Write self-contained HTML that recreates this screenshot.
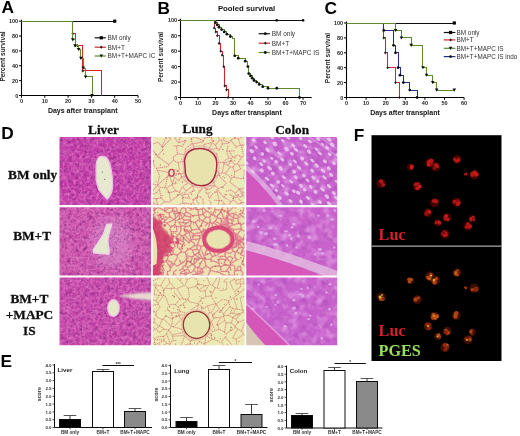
<!DOCTYPE html>
<html><head><meta charset="utf-8"><style>
html,body{margin:0;padding:0;background:#fff;}
body{width:520px;height:436px;overflow:hidden;}
svg{display:block;}
</style></head><body>
<svg width="520" height="436" viewBox="0 0 520 436">
<defs>
<filter id="gsoft" x="0" y="0" width="520" height="436" filterUnits="userSpaceOnUse"><feGaussianBlur stdDeviation="0.3"/></filter>
<filter id="soft" x="0" y="0" width="1" height="1"><feGaussianBlur stdDeviation="0.6"/></filter>
<filter id="soft8" x="0" y="0" width="1" height="1"><feGaussianBlur stdDeviation="0.8"/></filter>
<filter id="blur1" x="-20%" y="-50%" width="140%" height="200%"><feGaussianBlur stdDeviation="0.9"/></filter>
<filter id="blur3" x="-50%" y="-50%" width="200%" height="200%"><feGaussianBlur stdDeviation="4"/></filter>
<filter id="blur05"><feGaussianBlur stdDeviation="0.5"/></filter>
<filter id="livD" x="0" y="0" width="1" height="1" color-interpolation-filters="sRGB"><feTurbulence type="fractalNoise" baseFrequency="0.25" numOctaves="2" seed="3"/><feColorMatrix type="matrix" values="0 0 0 0 0.471 0 0 0 0 0.118 0 0 0 0 0.471 2.2 0 0 0 -1.0"/></filter>
<filter id="livLt" x="0" y="0" width="1" height="1" color-interpolation-filters="sRGB"><feTurbulence type="fractalNoise" baseFrequency="0.3" numOctaves="2" seed="9"/><feColorMatrix type="matrix" values="0 0 0 0 0.910 0 0 0 0 0.490 0 0 0 0 0.784 2.4 0 0 0 -1.05"/></filter>
<clipPath id="clL0"><rect x="59.5" y="137" width="91.50" height="68.00"/></clipPath>
<clipPath id="clL1"><rect x="59.5" y="207.3" width="91.50" height="68.30"/></clipPath>
<clipPath id="clL2"><rect x="59.5" y="277.5" width="91.50" height="67.70"/></clipPath>
<clipPath id="clU0"><rect x="152.8" y="137" width="91.80" height="68.00"/></clipPath>
<clipPath id="clU1"><rect x="152.8" y="207.3" width="91.80" height="68.30"/></clipPath>
<clipPath id="clU2"><rect x="152.8" y="277.5" width="91.80" height="67.70"/></clipPath>
<filter id="colD" x="0" y="0" width="1" height="1" color-interpolation-filters="sRGB"><feTurbulence type="fractalNoise" baseFrequency="0.14" numOctaves="2" seed="21"/><feColorMatrix type="matrix" values="0 0 0 0 0.588 0 0 0 0 0.235 0 0 0 0 0.667 2.0 0 0 0 -0.95"/></filter>
<filter id="colLt" x="0" y="0" width="1" height="1" color-interpolation-filters="sRGB"><feTurbulence type="fractalNoise" baseFrequency="0.12" numOctaves="2" seed="27"/><feColorMatrix type="matrix" values="0 0 0 0 0.894 0 0 0 0 0.620 0 0 0 0 0.902 2.6 0 0 0 -1.15"/></filter>
<clipPath id="clC0"><rect x="246.2" y="137" width="91.00" height="68.00"/></clipPath>
<clipPath id="clC1"><rect x="246.2" y="207.3" width="91.00" height="68.30"/></clipPath>
<clipPath id="clC2"><rect x="246.2" y="277.5" width="91.00" height="67.70"/></clipPath>
<radialGradient id="rgR"><stop offset="0" stop-color="#901010" stop-opacity="0.8"/><stop offset="0.45" stop-color="#d01c1c"/><stop offset="0.75" stop-color="#a81010" stop-opacity="0.7"/><stop offset="1" stop-color="#400000" stop-opacity="0"/></radialGradient>
<radialGradient id="rgO"><stop offset="0" stop-color="#a05010" stop-opacity="0.7"/><stop offset="0.45" stop-color="#c86018"/><stop offset="0.75" stop-color="#902010" stop-opacity="0.6"/><stop offset="1" stop-color="#400000" stop-opacity="0"/></radialGradient>
<filter id="glow" x="-50%" y="-50%" width="200%" height="200%"><feGaussianBlur stdDeviation="0.7"/></filter>
</defs>
<g filter="url(#gsoft)">
<rect width="520" height="436" fill="#fff"/>
<text x="1.5" y="12.7" font-size="17.3" font-weight="bold" fill="#000" text-anchor="start" font-family='"Liberation Sans", sans-serif' >A</text>
<text x="157.5" y="14" font-size="17.3" font-weight="bold" fill="#000" text-anchor="start" font-family='"Liberation Sans", sans-serif' >B</text>
<text x="324.5" y="14" font-size="17.3" font-weight="bold" fill="#000" text-anchor="start" font-family='"Liberation Sans", sans-serif' >C</text>
<text x="1.2" y="139.4" font-size="17.3" font-weight="bold" fill="#000" text-anchor="start" font-family='"Liberation Sans", sans-serif' >D</text>
<text x="0.6" y="367.3" font-size="17.3" font-weight="bold" fill="#000" text-anchor="start" font-family='"Liberation Sans", sans-serif' >E</text>
<text x="353.8" y="141.3" font-size="17.3" font-weight="bold" fill="#000" text-anchor="start" font-family='"Liberation Sans", sans-serif' >F</text>
<line x1="21.5" y1="19.7" x2="21.5" y2="95.5" stroke="#000" stroke-width="1.1"/>
<line x1="21.5" y1="95.5" x2="138.00" y2="95.5" stroke="#000" stroke-width="1.1"/>
<line x1="19.0" y1="95.50" x2="21.5" y2="95.50" stroke="#000" stroke-width="1"/>
<text x="18.2" y="97.5" font-size="5.5" font-weight="bold" fill="#222" text-anchor="end" font-family='"Liberation Sans", sans-serif' >0</text>
<line x1="19.0" y1="80.64" x2="21.5" y2="80.64" stroke="#000" stroke-width="1"/>
<text x="18.2" y="82.6" font-size="5.5" font-weight="bold" fill="#222" text-anchor="end" font-family='"Liberation Sans", sans-serif' >20</text>
<line x1="19.0" y1="65.78" x2="21.5" y2="65.78" stroke="#000" stroke-width="1"/>
<text x="18.2" y="67.8" font-size="5.5" font-weight="bold" fill="#222" text-anchor="end" font-family='"Liberation Sans", sans-serif' >40</text>
<line x1="19.0" y1="50.92" x2="21.5" y2="50.92" stroke="#000" stroke-width="1"/>
<text x="18.2" y="52.9" font-size="5.5" font-weight="bold" fill="#222" text-anchor="end" font-family='"Liberation Sans", sans-serif' >60</text>
<line x1="19.0" y1="36.06" x2="21.5" y2="36.06" stroke="#000" stroke-width="1"/>
<text x="18.2" y="38.1" font-size="5.5" font-weight="bold" fill="#222" text-anchor="end" font-family='"Liberation Sans", sans-serif' >80</text>
<line x1="19.0" y1="21.20" x2="21.5" y2="21.20" stroke="#000" stroke-width="1"/>
<text x="18.2" y="23.2" font-size="5.5" font-weight="bold" fill="#222" text-anchor="end" font-family='"Liberation Sans", sans-serif' >100</text>
<line x1="21.50" y1="95.5" x2="21.50" y2="97.8" stroke="#000" stroke-width="1"/>
<text x="21.5" y="103.3" font-size="5.5" font-weight="bold" fill="#222" text-anchor="middle" font-family='"Liberation Sans", sans-serif' >0</text>
<line x1="44.80" y1="95.5" x2="44.80" y2="97.8" stroke="#000" stroke-width="1"/>
<text x="44.8" y="103.3" font-size="5.5" font-weight="bold" fill="#222" text-anchor="middle" font-family='"Liberation Sans", sans-serif' >10</text>
<line x1="68.10" y1="95.5" x2="68.10" y2="97.8" stroke="#000" stroke-width="1"/>
<text x="68.1" y="103.3" font-size="5.5" font-weight="bold" fill="#222" text-anchor="middle" font-family='"Liberation Sans", sans-serif' >20</text>
<line x1="91.40" y1="95.5" x2="91.40" y2="97.8" stroke="#000" stroke-width="1"/>
<text x="91.4" y="103.3" font-size="5.5" font-weight="bold" fill="#222" text-anchor="middle" font-family='"Liberation Sans", sans-serif' >30</text>
<line x1="114.70" y1="95.5" x2="114.70" y2="97.8" stroke="#000" stroke-width="1"/>
<text x="114.7" y="103.3" font-size="5.5" font-weight="bold" fill="#222" text-anchor="middle" font-family='"Liberation Sans", sans-serif' >40</text>
<line x1="138.00" y1="95.5" x2="138.00" y2="97.8" stroke="#000" stroke-width="1"/>
<text x="138.0" y="103.3" font-size="5.5" font-weight="bold" fill="#222" text-anchor="middle" font-family='"Liberation Sans", sans-serif' >50</text>
<path d="M21.50,21.50 H114.50 V21.50" fill="none" stroke="#111" stroke-width="1.05"/>
<rect x="113.10" y="19.60" width="3.2" height="3.2" fill="#000"/>
<path d="M21.50,21.50 H72.50 V33.50 H75.50 V45.50 H82.50 V70.50 H101.50 V95.50" fill="none" stroke="#d4262a" stroke-width="1.05"/>
<path d="M72.76,32.23 L74.06,33.83 L72.76,35.43 L71.46,33.83Z" fill="#222"/>
<path d="M75.09,44.12 L76.39,45.72 L75.09,47.32 L73.79,45.72Z" fill="#222"/>
<path d="M77.42,44.12 L78.72,45.72 L77.42,47.32 L76.12,45.72Z" fill="#222"/>
<path d="M82.78,69.38 L84.08,70.98 L82.78,72.58 L81.48,70.98Z" fill="#222"/>
<path d="M21.50,21.50 H72.50 V39.50 H75.50 V45.50 H78.50 V49.50 H80.50 V58.50 H83.50 V68.50 H85.50 V76.50 H92.50 V95.50" fill="none" stroke="#5b8a2e" stroke-width="1.05"/>
<path d="M70.96,38.27 L74.56,38.27 L72.76,41.38Z" fill="#111"/>
<path d="M73.29,44.22 L76.89,44.22 L75.09,47.32Z" fill="#111"/>
<path d="M76.79,47.93 L80.39,47.93 L78.59,51.03Z" fill="#111"/>
<path d="M79.11,56.85 L82.71,56.85 L80.91,59.95Z" fill="#111"/>
<path d="M81.45,66.51 L85.05,66.51 L83.25,69.61Z" fill="#111"/>
<path d="M83.78,75.42 L87.38,75.42 L85.58,78.52Z" fill="#111"/>
<path d="M90.30,94.00 L93.90,94.00 L92.10,97.10Z" fill="#111"/>
<line x1="94.7" y1="37.8" x2="105.9" y2="37.8" stroke="#111" stroke-width="1.2"/>
<rect x="99.70" y="36.20" width="3.2" height="3.2" fill="#000"/>
<text x="107.5" y="40.1" font-size="6.45" font-weight="normal" fill="#333" text-anchor="start" font-family='"Liberation Sans", sans-serif' >BM only</text>
<line x1="94.7" y1="47.2" x2="105.9" y2="47.2" stroke="#d4262a" stroke-width="1.2"/>
<path d="M101.30,45.60 L102.60,47.20 L101.30,48.80 L100.00,47.20Z" fill="#222"/>
<text x="107.5" y="49.5" font-size="6.45" font-weight="normal" fill="#333" text-anchor="start" font-family='"Liberation Sans", sans-serif' >BM+T</text>
<line x1="94.7" y1="56" x2="105.9" y2="56" stroke="#5b8a2e" stroke-width="1.2"/>
<path d="M99.50,54.50 L103.10,54.50 L101.30,57.60Z" fill="#111"/>
<text x="107.5" y="58.3" font-size="6.45" font-weight="normal" fill="#333" text-anchor="start" font-family='"Liberation Sans", sans-serif' >BM+T+MAPC IC</text>
<text x="5.0" y="56.5" font-size="6.5" font-weight="bold" fill="#222" text-anchor="middle" font-family='"Liberation Sans", sans-serif' transform="rotate(-90 5.0 56.5)">Percent survival</text>
<text x="82.75" y="112.6" font-size="7.0" font-weight="bold" fill="#111" text-anchor="middle" font-family='"Liberation Sans", sans-serif' >Days after transplant</text>
<line x1="180.5" y1="18.8" x2="180.5" y2="97.5" stroke="#000" stroke-width="1.1"/>
<line x1="180.5" y1="97.5" x2="311.75" y2="97.5" stroke="#000" stroke-width="1.1"/>
<line x1="178.0" y1="97.50" x2="180.5" y2="97.50" stroke="#000" stroke-width="1"/>
<text x="177.2" y="99.5" font-size="5.5" font-weight="bold" fill="#222" text-anchor="end" font-family='"Liberation Sans", sans-serif' >0</text>
<line x1="178.0" y1="82.06" x2="180.5" y2="82.06" stroke="#000" stroke-width="1"/>
<text x="177.2" y="84.1" font-size="5.5" font-weight="bold" fill="#222" text-anchor="end" font-family='"Liberation Sans", sans-serif' >20</text>
<line x1="178.0" y1="66.62" x2="180.5" y2="66.62" stroke="#000" stroke-width="1"/>
<text x="177.2" y="68.6" font-size="5.5" font-weight="bold" fill="#222" text-anchor="end" font-family='"Liberation Sans", sans-serif' >40</text>
<line x1="178.0" y1="51.18" x2="180.5" y2="51.18" stroke="#000" stroke-width="1"/>
<text x="177.2" y="53.2" font-size="5.5" font-weight="bold" fill="#222" text-anchor="end" font-family='"Liberation Sans", sans-serif' >60</text>
<line x1="178.0" y1="35.74" x2="180.5" y2="35.74" stroke="#000" stroke-width="1"/>
<text x="177.2" y="37.7" font-size="5.5" font-weight="bold" fill="#222" text-anchor="end" font-family='"Liberation Sans", sans-serif' >80</text>
<line x1="178.0" y1="20.30" x2="180.5" y2="20.30" stroke="#000" stroke-width="1"/>
<text x="177.2" y="22.3" font-size="5.5" font-weight="bold" fill="#222" text-anchor="end" font-family='"Liberation Sans", sans-serif' >100</text>
<line x1="180.50" y1="97.5" x2="180.50" y2="99.8" stroke="#000" stroke-width="1"/>
<text x="180.5" y="105.3" font-size="5.5" font-weight="bold" fill="#222" text-anchor="middle" font-family='"Liberation Sans", sans-serif' >0</text>
<line x1="198.00" y1="97.5" x2="198.00" y2="99.8" stroke="#000" stroke-width="1"/>
<text x="198.0" y="105.3" font-size="5.5" font-weight="bold" fill="#222" text-anchor="middle" font-family='"Liberation Sans", sans-serif' >10</text>
<line x1="215.50" y1="97.5" x2="215.50" y2="99.8" stroke="#000" stroke-width="1"/>
<text x="215.5" y="105.3" font-size="5.5" font-weight="bold" fill="#222" text-anchor="middle" font-family='"Liberation Sans", sans-serif' >20</text>
<line x1="233.00" y1="97.5" x2="233.00" y2="99.8" stroke="#000" stroke-width="1"/>
<text x="233.0" y="105.3" font-size="5.5" font-weight="bold" fill="#222" text-anchor="middle" font-family='"Liberation Sans", sans-serif' >30</text>
<line x1="250.50" y1="97.5" x2="250.50" y2="99.8" stroke="#000" stroke-width="1"/>
<text x="250.5" y="105.3" font-size="5.5" font-weight="bold" fill="#222" text-anchor="middle" font-family='"Liberation Sans", sans-serif' >40</text>
<line x1="268.00" y1="97.5" x2="268.00" y2="99.8" stroke="#000" stroke-width="1"/>
<text x="268.0" y="105.3" font-size="5.5" font-weight="bold" fill="#222" text-anchor="middle" font-family='"Liberation Sans", sans-serif' >50</text>
<line x1="285.50" y1="97.5" x2="285.50" y2="99.8" stroke="#000" stroke-width="1"/>
<text x="285.5" y="105.3" font-size="5.5" font-weight="bold" fill="#222" text-anchor="middle" font-family='"Liberation Sans", sans-serif' >60</text>
<line x1="303.00" y1="97.5" x2="303.00" y2="99.8" stroke="#000" stroke-width="1"/>
<text x="303.0" y="105.3" font-size="5.5" font-weight="bold" fill="#222" text-anchor="middle" font-family='"Liberation Sans", sans-serif' >70</text>
<path d="M180.50,20.50 H303.50 V20.50" fill="none" stroke="#111" stroke-width="1.05"/>
<circle cx="276.75" cy="20.30" r="1.4" fill="#111"/>
<circle cx="303.00" cy="20.30" r="1.4" fill="#111"/>
<path d="M180.50,20.50 H214.50 V28.50 H215.50 V31.50 H217.50 V35.50 H219.50 V43.50 H220.50 V51.50 H222.50 V55.50 H223.50 V66.50 H224.50 V85.50 H226.50 V89.50 H228.50 V97.50" fill="none" stroke="#d4262a" stroke-width="1.05"/>
<path d="M214.10,26.42 L215.40,28.02 L214.10,29.62 L212.80,28.02Z" fill="#222"/>
<path d="M215.85,30.28 L217.15,31.88 L215.85,33.48 L214.55,31.88Z" fill="#222"/>
<path d="M217.25,34.14 L218.55,35.74 L217.25,37.34 L215.95,35.74Z" fill="#222"/>
<path d="M219.00,41.86 L220.30,43.46 L219.00,45.06 L217.70,43.46Z" fill="#222"/>
<path d="M220.75,49.58 L222.05,51.18 L220.75,52.78 L219.45,51.18Z" fill="#222"/>
<path d="M222.15,53.44 L223.45,55.04 L222.15,56.64 L220.85,55.04Z" fill="#222"/>
<path d="M223.72,65.02 L225.03,66.62 L223.72,68.22 L222.42,66.62Z" fill="#222"/>
<path d="M224.78,84.32 L226.08,85.92 L224.78,87.52 L223.47,85.92Z" fill="#222"/>
<path d="M226.53,88.18 L227.83,89.78 L226.53,91.38 L225.22,89.78Z" fill="#222"/>
<path d="M228.10,95.90 L229.40,97.50 L228.10,99.10 L226.80,97.50Z" fill="#222"/>
<path d="M180.50,20.50 H215.50 V22.50 H217.50 V24.50 H219.50 V27.50 H221.50 V29.50 H224.50 V31.50 H226.50 V34.50 H230.50 V36.50 H232.50 V38.50 H234.50 V55.50 H238.50 V58.50 H245.50 V61.50 H247.50 V66.50 H248.50 V73.50 H250.50 V75.50 H252.50 V78.50 H254.50 V80.50 H256.50 V82.50 H259.50 V84.50 H262.50 V86.50 H268.50 V88.50 H299.50 V97.50" fill="none" stroke="#5b8a2e" stroke-width="1.05"/>
<circle cx="215.50" cy="22.62" r="1.4" fill="#111"/>
<circle cx="217.25" cy="24.93" r="1.4" fill="#111"/>
<circle cx="219.00" cy="27.25" r="1.4" fill="#111"/>
<circle cx="221.62" cy="29.56" r="1.4" fill="#111"/>
<circle cx="224.25" cy="31.88" r="1.4" fill="#111"/>
<circle cx="226.88" cy="34.20" r="1.4" fill="#111"/>
<circle cx="230.38" cy="36.51" r="1.4" fill="#111"/>
<circle cx="234.75" cy="55.81" r="1.4" fill="#111"/>
<circle cx="238.25" cy="58.13" r="1.4" fill="#111"/>
<circle cx="245.25" cy="61.22" r="1.4" fill="#111"/>
<circle cx="247.88" cy="66.62" r="1.4" fill="#111"/>
<circle cx="248.75" cy="73.57" r="1.4" fill="#111"/>
<circle cx="250.50" cy="75.88" r="1.4" fill="#111"/>
<circle cx="252.25" cy="78.20" r="1.4" fill="#111"/>
<circle cx="254.00" cy="80.52" r="1.4" fill="#111"/>
<circle cx="256.62" cy="82.06" r="1.4" fill="#111"/>
<circle cx="259.25" cy="84.38" r="1.4" fill="#111"/>
<circle cx="262.75" cy="86.69" r="1.4" fill="#111"/>
<circle cx="268.00" cy="88.24" r="1.4" fill="#111"/>
<circle cx="276.75" cy="88.24" r="1.4" fill="#111"/>
<circle cx="299.50" cy="97.50" r="1.4" fill="#111"/>
<line x1="258.7" y1="33.7" x2="269.9" y2="33.7" stroke="#111" stroke-width="1.2"/>
<circle cx="265.30" cy="33.70" r="1.4" fill="#111"/>
<text x="271.8" y="36.0" font-size="6.45" font-weight="normal" fill="#333" text-anchor="start" font-family='"Liberation Sans", sans-serif' >BM only</text>
<line x1="258.7" y1="43.2" x2="269.9" y2="43.2" stroke="#d4262a" stroke-width="1.2"/>
<path d="M265.30,41.60 L266.60,43.20 L265.30,44.80 L264.00,43.20Z" fill="#222"/>
<text x="271.8" y="45.5" font-size="6.45" font-weight="normal" fill="#333" text-anchor="start" font-family='"Liberation Sans", sans-serif' >BM+T</text>
<line x1="258.7" y1="52.5" x2="269.9" y2="52.5" stroke="#5b8a2e" stroke-width="1.2"/>
<circle cx="265.30" cy="52.50" r="1.4" fill="#111"/>
<text x="271.8" y="54.8" font-size="6.45" font-weight="normal" fill="#333" text-anchor="start" font-family='"Liberation Sans", sans-serif' >BM+T+MAPC IS</text>
<text x="163.4" y="57" font-size="6.5" font-weight="bold" fill="#222" text-anchor="middle" font-family='"Liberation Sans", sans-serif' transform="rotate(-90 163.4 57)">Percent survival</text>
<text x="246.9" y="114.5" font-size="7.0" font-weight="bold" fill="#111" text-anchor="middle" font-family='"Liberation Sans", sans-serif' >Days after transplant</text>
<text x="246.6" y="11.4" font-size="7.75" font-weight="bold" fill="#111" text-anchor="middle" font-family='"Liberation Sans", sans-serif' >Pooled survival</text>
<line x1="346.5" y1="21.5" x2="346.5" y2="97.5" stroke="#000" stroke-width="1.1"/>
<line x1="346.5" y1="97.5" x2="464.10" y2="97.5" stroke="#000" stroke-width="1.1"/>
<line x1="344.0" y1="97.50" x2="346.5" y2="97.50" stroke="#000" stroke-width="1"/>
<text x="343.2" y="99.5" font-size="5.5" font-weight="bold" fill="#222" text-anchor="end" font-family='"Liberation Sans", sans-serif' >0</text>
<line x1="344.0" y1="82.60" x2="346.5" y2="82.60" stroke="#000" stroke-width="1"/>
<text x="343.2" y="84.6" font-size="5.5" font-weight="bold" fill="#222" text-anchor="end" font-family='"Liberation Sans", sans-serif' >20</text>
<line x1="344.0" y1="67.70" x2="346.5" y2="67.70" stroke="#000" stroke-width="1"/>
<text x="343.2" y="69.7" font-size="5.5" font-weight="bold" fill="#222" text-anchor="end" font-family='"Liberation Sans", sans-serif' >40</text>
<line x1="344.0" y1="52.80" x2="346.5" y2="52.80" stroke="#000" stroke-width="1"/>
<text x="343.2" y="54.8" font-size="5.5" font-weight="bold" fill="#222" text-anchor="end" font-family='"Liberation Sans", sans-serif' >60</text>
<line x1="344.0" y1="37.90" x2="346.5" y2="37.90" stroke="#000" stroke-width="1"/>
<text x="343.2" y="39.9" font-size="5.5" font-weight="bold" fill="#222" text-anchor="end" font-family='"Liberation Sans", sans-serif' >80</text>
<line x1="344.0" y1="23.00" x2="346.5" y2="23.00" stroke="#000" stroke-width="1"/>
<text x="343.2" y="25.0" font-size="5.5" font-weight="bold" fill="#222" text-anchor="end" font-family='"Liberation Sans", sans-serif' >100</text>
<line x1="346.50" y1="97.5" x2="346.50" y2="99.8" stroke="#000" stroke-width="1"/>
<text x="346.5" y="105.3" font-size="5.5" font-weight="bold" fill="#222" text-anchor="middle" font-family='"Liberation Sans", sans-serif' >0</text>
<line x1="366.10" y1="97.5" x2="366.10" y2="99.8" stroke="#000" stroke-width="1"/>
<text x="366.1" y="105.3" font-size="5.5" font-weight="bold" fill="#222" text-anchor="middle" font-family='"Liberation Sans", sans-serif' >10</text>
<line x1="385.70" y1="97.5" x2="385.70" y2="99.8" stroke="#000" stroke-width="1"/>
<text x="385.7" y="105.3" font-size="5.5" font-weight="bold" fill="#222" text-anchor="middle" font-family='"Liberation Sans", sans-serif' >20</text>
<line x1="405.30" y1="97.5" x2="405.30" y2="99.8" stroke="#000" stroke-width="1"/>
<text x="405.3" y="105.3" font-size="5.5" font-weight="bold" fill="#222" text-anchor="middle" font-family='"Liberation Sans", sans-serif' >30</text>
<line x1="424.90" y1="97.5" x2="424.90" y2="99.8" stroke="#000" stroke-width="1"/>
<text x="424.9" y="105.3" font-size="5.5" font-weight="bold" fill="#222" text-anchor="middle" font-family='"Liberation Sans", sans-serif' >40</text>
<line x1="444.50" y1="97.5" x2="444.50" y2="99.8" stroke="#000" stroke-width="1"/>
<text x="444.5" y="105.3" font-size="5.5" font-weight="bold" fill="#222" text-anchor="middle" font-family='"Liberation Sans", sans-serif' >50</text>
<line x1="464.10" y1="97.5" x2="464.10" y2="99.8" stroke="#000" stroke-width="1"/>
<text x="464.1" y="105.3" font-size="5.5" font-weight="bold" fill="#222" text-anchor="middle" font-family='"Liberation Sans", sans-serif' >60</text>
<path d="M346.50,23.50 H454.50 V23.50" fill="none" stroke="#111" stroke-width="1.05"/>
<rect x="452.70" y="21.40" width="3.2" height="3.2" fill="#000"/>
<path d="M346.50,23.50 H383.50 V37.50 H385.50 V52.50 H387.50 V67.50 H395.50 V82.50 H399.50 V97.50" fill="none" stroke="#d4262a" stroke-width="1.05"/>
<path d="M383.74,36.30 L385.04,37.90 L383.74,39.50 L382.44,37.90Z" fill="#222"/>
<path d="M385.31,51.20 L386.61,52.80 L385.31,54.40 L384.01,52.80Z" fill="#222"/>
<path d="M387.66,66.10 L388.96,67.70 L387.66,69.30 L386.36,67.70Z" fill="#222"/>
<path d="M395.50,81.00 L396.80,82.60 L395.50,84.20 L394.20,82.60Z" fill="#222"/>
<path d="M399.42,95.90 L400.72,97.50 L399.42,99.10 L398.12,97.50Z" fill="#222"/>
<path d="M346.50,23.50 H383.50 V30.50 H393.50 V45.50 H395.50 V52.50 H398.50 V67.50 H400.50 V75.50 H403.50 V82.50 H409.50 V90.50 H417.50 V97.50" fill="none" stroke="#2a2a8a" stroke-width="1.05"/>
<circle cx="383.74" cy="30.45" r="1.4" fill="#111"/>
<circle cx="393.54" cy="45.35" r="1.4" fill="#111"/>
<circle cx="395.50" cy="52.80" r="1.4" fill="#111"/>
<circle cx="398.05" cy="67.70" r="1.4" fill="#111"/>
<circle cx="400.01" cy="75.15" r="1.4" fill="#111"/>
<circle cx="403.34" cy="82.60" r="1.4" fill="#111"/>
<circle cx="409.81" cy="90.05" r="1.4" fill="#111"/>
<circle cx="417.06" cy="97.50" r="1.4" fill="#111"/>
<path d="M346.50,23.50 H395.50 V30.50 H401.50 V37.50 H411.50 V45.50 H422.50 V67.50 H426.50 V75.50 H432.50 V82.50 H436.50 V90.50 H454.50 V90.50" fill="none" stroke="#5b8a2e" stroke-width="1.05"/>
<path d="M393.70,28.95 L397.30,28.95 L395.50,32.05Z" fill="#111"/>
<path d="M399.58,36.40 L403.18,36.40 L401.38,39.50Z" fill="#111"/>
<path d="M409.38,43.85 L412.98,43.85 L411.18,46.95Z" fill="#111"/>
<path d="M421.14,66.20 L424.74,66.20 L422.94,69.30Z" fill="#111"/>
<path d="M424.67,73.65 L428.27,73.65 L426.47,76.75Z" fill="#111"/>
<path d="M430.94,81.10 L434.54,81.10 L432.74,84.20Z" fill="#111"/>
<path d="M434.86,88.55 L438.46,88.55 L436.66,91.65Z" fill="#111"/>
<path d="M452.50,88.55 L456.10,88.55 L454.30,91.65Z" fill="#111"/>
<line x1="443.8" y1="32.5" x2="455.4" y2="32.5" stroke="#111" stroke-width="1.2"/>
<rect x="449.00" y="30.90" width="3.2" height="3.2" fill="#000"/>
<text x="456.6" y="34.8" font-size="6.35" font-weight="normal" fill="#333" text-anchor="start" font-family='"Liberation Sans", sans-serif' >BM only</text>
<line x1="443.8" y1="39.9" x2="455.4" y2="39.9" stroke="#d4262a" stroke-width="1.2"/>
<path d="M450.60,38.30 L451.90,39.90 L450.60,41.50 L449.30,39.90Z" fill="#222"/>
<text x="456.6" y="42.2" font-size="6.35" font-weight="normal" fill="#333" text-anchor="start" font-family='"Liberation Sans", sans-serif' >BM+T</text>
<line x1="443.8" y1="48.3" x2="455.4" y2="48.3" stroke="#5b8a2e" stroke-width="1.2"/>
<path d="M448.80,46.80 L452.40,46.80 L450.60,49.90Z" fill="#111"/>
<text x="456.6" y="50.6" font-size="6.35" font-weight="normal" fill="#333" text-anchor="start" font-family='"Liberation Sans", sans-serif' >BM+T+MAPC IS</text>
<line x1="443.8" y1="56.6" x2="455.4" y2="56.6" stroke="#2a2a8a" stroke-width="1.2"/>
<circle cx="450.60" cy="56.60" r="1.4" fill="#111"/>
<text x="456.6" y="58.9" font-size="6.35" font-weight="normal" fill="#333" text-anchor="start" font-family='"Liberation Sans", sans-serif' >BM+T+MAPC IS indo</text>
<text x="330.3" y="58" font-size="6.5" font-weight="bold" fill="#222" text-anchor="middle" font-family='"Liberation Sans", sans-serif' transform="rotate(-90 330.3 58)">Percent survival</text>
<text x="405" y="114.5" font-size="7.0" font-weight="bold" fill="#111" text-anchor="middle" font-family='"Liberation Sans", sans-serif' >Days after transplant</text>
<text x="103.5" y="134.3" font-size="13.2" font-weight="bold" fill="#111" text-anchor="middle" font-family='"Liberation Serif", serif' stroke="#111" stroke-width="0.3">Liver</text>
<text x="197.5" y="133.3" font-size="13.2" font-weight="bold" fill="#111" text-anchor="middle" font-family='"Liberation Serif", serif' stroke="#111" stroke-width="0.3">Lung</text>
<text x="292.2" y="133.8" font-size="13.2" font-weight="bold" fill="#111" text-anchor="middle" font-family='"Liberation Serif", serif' stroke="#111" stroke-width="0.3">Colon</text>
<text x="32.6" y="178.6" font-size="13.3" font-weight="bold" fill="#111" text-anchor="middle" font-family='"Liberation Serif", serif' stroke="#111" stroke-width="0.3">BM only</text>
<text x="32.1" y="239.8" font-size="13.3" font-weight="bold" fill="#111" text-anchor="middle" font-family='"Liberation Serif", serif' stroke="#111" stroke-width="0.3">BM+T</text>
<text x="29.4" y="303.3" font-size="13.3" font-weight="bold" fill="#111" text-anchor="middle" font-family='"Liberation Serif", serif' stroke="#111" stroke-width="0.3">BM+T</text>
<text x="29.5" y="319.1" font-size="13.3" font-weight="bold" fill="#111" text-anchor="middle" font-family='"Liberation Serif", serif' stroke="#111" stroke-width="0.3">+MAPC</text>
<text x="29.4" y="335.2" font-size="13.3" font-weight="bold" fill="#111" text-anchor="middle" font-family='"Liberation Serif", serif' stroke="#111" stroke-width="0.3">IS</text>
<g clip-path="url(#clL0)"><g filter="url(#soft)">
<rect x="57.5" y="135" width="95.50" height="72.00" fill="#c23ca8"/>
<rect x="59.5" y="137" width="91.50" height="68.00" filter="url(#livD)" opacity="0.7"/>
<rect x="59.5" y="137" width="91.50" height="68.00" filter="url(#livLt)" opacity="0.8"/>
<path d="M132.6,177.1L129.9,178.7M129.9,178.7L124.0,172.9M124.0,172.9L125.7,171.8M131.9,175.5L125.7,171.8M131.5,171.9L126.8,170.7M125.7,171.8L126.6,170.7M126.8,170.7L126.6,170.7M60.9,142.1L57.3,145.1M60.9,142.1L61.0,142.1M61.0,142.1L64.3,147.6M57.3,145.1L57.4,145.7M57.4,145.7L60.6,148.6M114.8,138.5L119.0,146.0M112.9,143.4L116.1,147.6M119.0,146.0L116.1,147.6M61.0,142.1L64.5,141.7M67.3,146.6L67.4,146.5M67.4,146.5L66.8,142.7M66.8,142.7L65.8,142.0M64.5,141.7L65.8,142.0M84.9,152.5L79.2,153.8M79.2,153.8L76.2,151.8M76.1,151.7L76.2,151.8M76.1,151.7L78.3,145.9M80.1,145.7L78.3,145.9M64.5,141.7L62.6,138.4M65.8,142.0L64.9,137.4M64.9,137.4L62.6,138.4M62.6,138.4L60.0,138.2M92.4,208.7L89.9,211.2M92.4,208.7L98.0,215.7M88.6,210.5L86.3,205.2M84.7,210.0L84.2,205.2M86.3,205.2L85.1,204.9M85.1,204.9L84.2,205.2M95.7,204.4L95.6,204.3M86.3,205.2L92.7,202.2M95.7,204.4L97.8,204.8M98.0,215.7L100.8,206.9M100.8,206.9L97.8,204.8M54.8,201.5L54.7,200.0M54.8,201.5L53.5,203.3M53.6,205.6L57.8,208.5M78.7,202.1L82.1,205.0M78.7,202.1L77.6,204.6M82.1,205.0L81.5,207.9M81.5,207.9L78.8,208.6M74.2,207.6L72.9,206.9M75.4,212.1L69.1,209.9M76.5,213.8L78.8,208.6M77.6,204.6L74.2,207.6M73.6,201.4L71.4,204.4M73.6,201.4L78.2,200.0M69.2,213.8L69.1,209.9M62.6,211.5L62.6,209.5M59.2,208.0L62.6,209.5M54.8,201.5L58.5,204.8M59.2,208.0L58.5,204.8M68.9,209.7L65.2,207.6M62.6,209.5L65.2,207.6M71.4,204.4L66.4,204.4M133.1,177.2L132.6,177.1M133.1,177.2L134.6,184.0M131.0,184.1L133.8,184.8M134.6,184.0L133.8,184.8M124.7,208.9L127.5,210.1M124.7,208.9L127.5,206.2M127.5,210.1L128.1,209.5M127.5,206.2L128.1,209.5M66.3,180.0L62.3,179.7M66.3,180.0L69.9,189.1M69.9,189.1L69.8,189.3M61.6,180.8L62.3,179.7M68.4,198.2L65.6,201.5M68.4,198.2L69.4,193.6M69.4,193.6L61.1,194.1M65.6,201.5L62.4,200.1M62.4,200.1L59.7,196.6M59.7,196.6L59.9,195.0M73.6,201.4L68.4,198.2M66.4,204.4L65.6,201.5M61.7,191.9L61.1,194.1M58.5,204.8L62.4,200.1M54.9,190.7L47.8,196.0M54.9,190.7L59.9,195.0M75.0,183.2L74.5,184.0M81.9,188.6L80.9,186.0M81.1,189.6L79.1,190.1M75.2,182.7L75.0,183.2M70.5,192.4L75.0,193.8M116.7,157.9L117.1,153.5M111.9,152.5L112.1,157.0M112.2,157.1L112.1,157.0M112.1,157.0L107.7,156.5M116.7,157.9L117.0,158.5M117.0,158.5L116.6,160.9M111.2,159.5L110.9,162.3M110.9,162.3L116.6,160.9M131.5,171.9L133.8,167.8M126.8,170.7L133.1,166.5M133.8,167.8L133.1,166.5M117.0,158.5L118.5,158.4M117.1,153.5L120.6,153.0M120.6,153.0L122.0,155.6M127.3,152.4L126.1,148.7M127.3,152.4L123.8,156.6M125.8,148.6L126.1,148.7M75.4,159.1L78.4,158.1M79.2,153.8L79.6,154.9M84.9,152.5L87.0,154.1M83.4,159.2L79.6,154.9M83.4,159.2L88.5,157.0M88.5,157.0L87.0,154.1M82.9,169.4L81.4,161.8M82.9,169.4L79.6,169.1M79.6,169.1L80.1,162.3M81.1,161.9L81.4,161.8M85.8,170.3L82.6,174.1M82.6,174.1L78.0,171.9M78.0,171.9L78.3,169.5M78.3,169.5L79.6,169.1M73.8,162.7L75.9,168.3M73.8,162.7L80.1,162.3M78.3,169.5L75.9,168.3M73.4,162.4L73.8,162.7M78.4,158.1L81.1,161.9M81.7,161.7L83.4,159.2M81.7,161.7L81.4,161.8M77.7,173.1L80.1,178.5M83.8,180.4L80.1,178.6M80.1,178.5L80.1,178.6M75.2,182.7L75.2,181.1M80.1,178.6L75.2,181.1M57.3,145.1L55.5,143.3M55.5,143.3L52.3,144.7M54.2,148.6L57.4,145.7M54.1,137.6L55.5,143.3M65.0,152.7L65.1,154.1M65.0,152.7L64.7,151.2M64.7,151.2L62.1,152.9M65.1,154.1L64.3,155.6M62.1,152.9L63.9,155.4M64.3,155.6L63.9,155.4M70.7,151.3L65.1,154.1M70.7,151.3L69.5,149.8M69.5,149.8L65.0,152.7M71.9,152.2L65.9,159.3M71.9,152.2L70.7,151.3M65.9,159.3L64.3,155.6M150.0,145.0L148.6,148.5M70.2,138.1L73.4,136.3M70.2,138.1L66.5,135.1M73.4,136.3L72.5,132.6M66.5,135.1L65.9,133.5M65.9,133.5L67.6,131.6M69.9,138.9L72.4,144.5M69.9,138.9L70.1,138.4M67.4,146.5L72.4,144.5M66.8,142.7L69.9,138.9M70.2,138.1L70.1,138.4M75.4,136.8L76.7,144.2M79.1,140.4L76.9,144.3M76.7,144.2L76.9,144.3M76.1,144.1L76.7,144.2M71.9,152.2L72.2,152.2M72.2,152.2L76.1,151.7M65.9,133.5L64.9,133.2M60.0,138.2L58.7,136.9M55.8,136.0L58.7,136.9M85.1,204.9L85.3,203.0M92.7,202.2L91.7,200.7M91.7,200.7L85.3,203.0M79.6,198.9L83.9,193.8M78.3,198.9L78.5,199.2M78.3,198.9L81.8,190.9M81.1,189.6L81.8,190.9M85.4,187.7L84.0,193.8M84.1,210.3L81.6,208.2M81.6,208.2L79.9,212.4M84.2,205.2L82.1,205.0M81.5,207.9L81.6,208.2M153.2,223.8L153.7,207.9M148.4,208.5L153.7,207.9M140.8,211.3L145.4,207.6M148.4,208.5L145.4,207.6M159.1,211.8L154.4,206.9M161.1,204.4L154.7,206.4M132.6,191.7L127.7,195.9M133.4,201.0L127.7,195.9M133.4,201.0L136.1,196.8M127.9,188.4L127.5,187.7M131.0,184.1L127.5,187.7M133.8,184.8L134.2,190.8M134.2,190.8L134.2,190.8M137.0,196.9L136.1,196.8M137.0,196.9L140.8,192.8M134.2,190.8L140.8,192.8M126.3,202.6L126.6,196.8M126.3,202.6L123.5,203.1M126.6,196.8L120.2,198.1M123.5,203.1L120.2,198.1M122.2,173.9L128.2,180.0M122.2,173.9L123.0,178.1M123.0,178.1L125.1,179.7M125.1,179.7L127.3,180.5M124.0,172.9L122.1,173.3M127.5,187.7L126.3,182.4M126.3,182.4L127.3,180.5M131.2,204.5L134.2,208.0M131.2,204.5L130.6,209.1M131.4,210.2L134.5,209.6M134.5,209.6L134.2,208.0M133.3,201.9L131.0,203.7M133.3,201.9L135.2,203.1M131.0,203.7L131.2,204.5M137.0,205.5L135.2,203.1M137.0,205.5L134.2,208.0M127.5,206.2L128.3,203.6M128.3,203.6L131.0,203.7M140.2,213.2L134.5,209.6M140.8,211.3L138.9,206.8M61.7,191.9L57.0,186.0M57.7,185.4L57.0,186.0M57.7,185.4L59.0,182.7M54.9,190.7L55.0,187.9M57.0,186.0L55.0,187.9M55.0,187.9L46.5,183.4M86.2,170.3L86.2,170.3M89.4,172.3L87.0,170.2M89.4,172.3L90.4,176.7M86.2,170.3L87.0,170.2M81.7,161.7L85.3,164.6M86.2,170.3L85.3,164.6M88.5,157.0L88.6,157.1M86.9,163.3L85.3,164.6M111.1,167.5L117.0,170.4M111.1,167.5L110.8,165.7M110.8,165.7L115.4,165.7M117.0,170.4L115.4,165.7M110.9,162.3L109.3,163.6M109.3,163.6L110.8,165.7M117.2,162.3L115.4,165.7M130.3,154.5L134.1,153.7M130.3,154.5L135.8,160.8M134.1,153.7L136.3,160.3M134.1,153.7L135.4,152.1M135.4,152.1L141.1,154.8M140.1,159.1L141.1,157.6M140.1,159.1L139.6,159.5M136.3,160.3L139.6,159.5M132.3,163.3L133.1,166.5M132.3,163.3L135.1,161.4M135.1,161.4L139.8,166.6M134.4,168.2L139.8,166.6M91.7,179.1L94.2,183.5M96.2,183.0L95.0,178.5M96.2,183.0L96.1,183.2M96.1,183.2L94.2,183.5M96.2,183.0L98.8,181.4M95.0,178.5L95.7,176.4M96.6,176.3L95.7,176.4M96.6,176.3L99.6,179.1M98.8,181.4L99.6,179.1M117.8,162.6L119.9,163.9M117.8,162.6L117.2,162.3M118.0,170.8L120.4,165.1M117.2,170.6L117.0,170.4M119.9,163.9L120.2,164.4M120.4,165.1L120.2,164.4M130.3,154.5L129.3,154.5M135.8,160.8L135.1,161.4M86.9,163.3L90.2,165.5M88.3,160.3L90.4,165.1M66.2,161.8L67.6,162.6M67.6,162.6L72.6,162.5M72.3,155.8L73.3,162.4M72.2,152.2L72.3,155.8M65.9,159.3L65.9,161.7M65.9,161.7L66.2,161.8M73.4,162.4L73.3,162.4M74.8,173.9L72.8,170.7M69.7,173.3L70.9,178.4M69.7,173.3L69.9,171.2M71.1,170.9L72.8,170.7M77.7,173.1L74.8,173.9M75.2,181.1L72.2,178.7M75.9,168.3L72.8,170.7M66.3,180.0L70.9,178.4M68.4,169.9L69.9,171.2M72.6,162.5L71.1,170.9M64.4,162.2L65.9,161.7M64.4,162.2L62.8,162.3M63.9,155.4L58.7,155.6M62.8,162.3L60.8,159.4M58.7,155.6L60.8,159.4M112.7,138.8L111.6,138.4M106.6,141.9L107.9,146.7M114.6,150.3L114.6,150.0M114.6,150.0L107.9,146.7M105.3,149.4L107.9,146.7M114.6,150.0L116.1,147.6M129.3,154.5L127.3,152.4M131.6,146.2L126.1,148.7M131.6,146.2L132.2,146.0M132.2,146.0L134.6,148.1M127.5,127.0L125.9,132.1M125.9,132.1L123.9,133.1M123.9,133.1L122.7,131.6M131.6,146.2L126.6,139.9M125.8,148.6L125.0,147.8M126.6,139.9L125.0,147.8M89.5,132.6L88.3,135.1M89.5,132.6L91.1,131.6M91.1,131.6L95.4,132.8M89.8,137.4L88.3,135.1M89.8,137.4L93.5,136.7M93.5,136.7L95.9,134.3M96.0,131.3L95.4,132.8M95.5,140.0L99.3,135.9M95.5,140.0L93.5,136.7M99.3,135.7L99.3,135.9M99.3,135.7L95.9,134.3M89.5,132.6L87.4,129.4M87.9,135.0L84.9,133.5M84.9,133.5L81.1,137.0M82.8,138.6L81.4,137.4M81.4,137.4L81.1,137.0M88.3,135.1L87.9,135.0M88.9,141.6L84.0,141.1M88.9,141.6L89.8,137.4M84.0,141.1L82.8,138.6M78.6,135.1L81.1,137.0M78.6,135.1L76.8,136.1M78.8,133.7L83.2,131.3M72.5,132.6L73.7,130.8M78.8,133.7L77.9,131.9M61.2,121.9L55.1,132.2M61.7,130.0L55.9,134.0M55.1,132.2L55.9,134.0M96.4,198.9L95.7,195.2M96.4,198.9L98.5,194.6M98.5,194.6L95.7,195.2M95.6,204.3L96.4,198.9M93.1,194.7L91.0,199.5M93.1,194.7L93.2,194.7M91.7,200.7L91.0,199.5M93.2,194.7L95.7,195.2M97.8,204.8L101.1,198.8M99.2,194.2L98.5,194.6M145.4,207.6L145.4,207.1M138.9,206.8L141.3,202.1M145.4,207.1L141.3,202.1M133.4,201.0L133.3,201.9M137.0,196.9L140.7,198.4M140.7,198.4L141.8,199.9M141.8,199.9L141.3,201.8M141.3,201.8L141.3,202.1M154.7,206.4L153.9,205.0M145.9,206.1L147.5,203.8M147.5,203.8L153.9,205.0M126.3,202.6L128.3,203.6M93.2,194.7L96.4,189.9M99.2,194.2L100.0,192.0M100.0,192.0L98.0,189.6M146.4,158.2L141.1,157.6M146.4,158.2L148.2,160.5M146.1,163.1L148.3,161.7M148.2,160.5L148.3,161.7M157.7,152.3L154.2,152.3M154.2,152.3L155.8,157.0M164.8,156.9L155.9,157.1M61.9,178.3L63.2,174.6M63.2,174.6L63.4,171.3M61.5,170.3L63.1,170.9M63.4,171.3L63.1,170.9M62.3,179.7L61.9,178.3M69.7,173.3L63.2,174.6M64.4,162.2L63.1,170.9M57.2,181.9L52.7,180.9M57.2,181.9L53.9,177.2M56.2,174.1L53.9,177.2M107.7,156.5L107.7,156.5M107.7,156.5L107.9,157.4M109.3,163.6L109.0,163.5M109.0,163.5L108.1,161.9M107.9,157.4L107.9,160.1M134.4,168.2L136.1,170.2M136.1,170.2L134.5,176.9M134.6,184.0L137.8,183.5M137.9,183.3L137.8,183.5M137.9,183.3L138.3,180.7M138.3,180.7L137.2,177.4M134.5,176.9L137.2,177.4M139.8,166.6L142.1,167.0M136.1,170.2L139.4,171.2M139.4,171.2L139.5,171.1M139.5,171.1L142.1,167.0M139.6,159.5L142.7,166.7M143.6,166.8L142.7,166.7M142.7,166.7L142.1,167.0M96.1,183.2L98.4,187.1M94.2,183.5L92.8,184.2M96.4,189.9L92.9,189.0M98.4,187.1L98.0,189.6M92.0,189.4L92.9,189.0M91.6,172.6L94.0,171.4M91.6,172.6L94.3,175.6M94.0,171.4L94.4,175.6M94.3,175.6L94.4,175.6M89.4,172.3L91.6,172.6M95.6,170.2L94.0,171.4M95.6,170.2L93.3,168.2M93.3,168.2L89.6,168.0M95.6,170.2L95.9,170.2M95.3,176.0L94.4,175.6M95.7,176.4L95.3,176.0M96.6,176.3L100.2,173.5M99.8,179.0L100.7,173.6M101.1,198.8L101.7,198.5M101.7,198.5L103.9,196.0M100.0,192.0L103.8,191.9M103.9,196.0L103.8,191.9M126.3,168.1L126.8,164.7M126.8,164.7L122.8,166.5M126.6,170.7L126.3,168.1M131.6,163.1L127.3,163.7M121.4,173.1L122.1,173.3M121.4,173.1L120.9,173.0M118.0,170.8L120.9,173.0M120.4,165.1L122.8,166.5M123.9,158.3L122.3,159.2M125.0,159.0L126.7,163.3M122.2,160.1L122.3,159.2M122.3,161.4L126.0,163.2M126.0,163.2L126.7,163.3M123.8,156.6L123.9,158.3M129.1,157.2L125.0,159.0M127.3,163.7L126.7,163.3M117.8,162.6L122.2,160.1M119.9,163.9L122.3,161.4M100.2,173.5L98.3,171.0M95.9,170.2L96.8,170.1M96.8,170.1L98.3,171.0M98.1,147.4L101.6,149.0M101.6,149.0L101.8,149.3M95.5,155.0L99.8,152.5M104.0,150.4L101.7,156.0M104.0,150.4L104.0,149.8M104.0,149.8L101.8,149.3M99.8,152.5L101.5,156.0M89.6,149.2L88.2,146.2M94.2,146.5L93.0,148.7M94.2,146.5L90.8,143.3M87.0,154.1L89.6,149.2M89.2,157.1L91.8,151.1M91.8,151.1L91.2,149.6M88.9,141.6L89.8,143.1M97.4,146.7L94.2,146.5M97.4,146.7L98.1,147.4M95.4,141.1L97.8,143.9M97.8,143.9L97.4,146.7M95.5,140.0L95.6,140.6M95.4,141.1L95.6,140.6M56.5,158.8L48.4,155.9M56.5,158.8L56.8,158.1M56.8,158.1L57.4,154.9M56.9,153.9L57.4,154.9M56.4,162.0L49.7,160.7M59.9,150.8L56.9,153.9M111.1,137.3L110.6,128.7M107.6,136.2L106.0,133.4M106.0,133.4L109.8,129.4M106.2,141.8L104.2,138.7M104.2,138.7L100.4,138.4M102.6,143.0L100.5,141.9M100.1,139.5L100.4,138.4M106.6,141.9L106.2,141.8M105.3,149.4L104.0,149.8M101.6,149.0L102.6,143.0M111.6,138.4L111.1,137.3M107.6,136.2L104.8,136.9M97.8,143.9L100.5,141.9M95.6,140.6L100.1,139.5M99.3,135.9L100.4,138.4M141.1,154.8L142.6,152.4M135.3,149.1L138.0,149.1M138.0,149.1L142.6,152.4M142.6,152.4L143.9,151.3M114.8,138.5L115.6,138.1M114.5,118.7L117.6,135.8M115.6,138.1L117.6,135.8M123.1,146.7L120.1,145.8M123.4,140.8L120.2,142.1M120.1,145.8L120.2,142.1M126.6,139.9L126.6,139.7M125.0,147.8L123.1,146.7M125.5,139.0L124.2,138.5M124.2,138.5L123.4,140.8M157.5,137.3L155.9,137.8M155.9,137.8L155.3,135.3M152.3,140.1L155.9,137.8M156.2,142.6L154.1,142.0M152.6,131.7L155.3,135.3M156.5,147.2L154.3,143.4M156.5,147.2L153.3,150.4M154.3,143.4L152.6,149.4M154.1,142.0L154.3,143.4M153.6,152.0L153.5,151.9M153.5,151.9L153.3,150.4M152.0,140.1L152.3,140.1M85.4,197.8L90.3,199.1M85.4,197.8L82.0,199.2M82.0,199.2L85.1,201.0M90.6,199.4L90.3,199.1M86.9,193.5L90.3,199.1M85.8,193.9L85.4,197.8M84.0,193.8L85.8,193.9M79.6,198.9L82.0,199.2M91.0,199.5L90.6,199.4M90.3,191.6L88.1,191.8M88.1,191.8L86.9,193.5M100.8,206.9L102.5,207.2M102.5,207.2L106.4,214.3M145.9,206.1L144.7,201.6M141.8,199.9L143.0,199.9M147.5,203.8L147.7,202.4M144.7,201.6L147.7,202.4M153.0,190.0L147.8,188.9M153.3,188.4L153.2,189.5M134.2,190.8L138.8,188.5M138.8,188.5L139.4,186.7M139.4,185.9L139.4,186.7M120.9,191.2L122.5,192.7M127.9,188.4L125.7,191.5M127.0,196.1L125.8,193.2M123.7,194.7L120.1,198.0M120.1,198.0L119.1,197.6M127.0,196.1L123.7,194.7M122.5,192.7L123.2,194.2M113.1,210.7L116.3,209.1M113.5,179.2L115.6,181.0M113.5,179.2L113.4,172.9M113.4,172.9L113.5,172.9M117.8,177.4L115.6,181.0M110.8,172.3L109.8,170.8M110.8,172.3L113.4,172.9M109.8,170.8L111.1,167.5M120.9,173.0L117.8,177.4M123.0,178.1L119.9,182.0M115.7,181.4L115.6,181.0M110.8,172.3L108.1,176.6M113.5,179.2L112.6,179.1M121.2,182.8L120.7,182.6M122.4,183.6L123.4,187.5M123.4,187.5L119.6,190.5M125.1,179.7L121.2,182.8M119.9,182.0L120.7,182.6M127.5,187.7L123.4,187.5M120.9,191.2L119.6,190.5M115.7,181.4L115.7,181.6M115.7,181.6L115.5,187.3M98.8,181.4L99.3,181.6M102.1,185.6L99.3,181.6M100.7,178.8L99.8,179.0M100.7,178.8L103.2,182.1M103.2,182.1L99.3,181.6M152.5,159.2L150.9,158.6M152.5,159.2L153.7,158.0M153.7,158.0L151.4,155.3M150.9,158.6L151.4,155.3M153.6,152.0L151.4,155.3M148.2,160.5L150.9,158.6M149.2,162.5L148.3,161.7M152.5,159.2L153.7,161.1M153.7,158.0L155.2,160.6M155.9,157.1L156.1,160.4M152.3,163.4L152.7,164.2M157.6,161.3L154.7,165.1M152.7,164.2L154.7,165.1M154.7,165.1L156.3,167.1M62.8,162.3L60.9,163.1M61.5,170.3L60.8,169.4M56.4,162.0L58.2,163.5M60.9,163.1L58.2,163.5M90.6,183.2L91.8,184.1M91.8,184.1L89.3,186.9M85.9,184.0L86.0,187.5M86.0,187.5L86.0,187.6M89.3,178.8L90.6,183.2M92.8,184.2L91.8,184.1M83.9,180.4L85.9,184.0M92.0,189.4L89.3,186.9M85.4,187.7L86.0,187.5M105.6,167.1L106.8,170.5M108.1,176.6L107.7,176.6M107.7,176.6L103.8,173.7M106.8,170.5L103.8,173.7M102.6,177.9L103.3,173.8M102.6,177.9L100.7,178.8M100.7,173.6L102.9,173.6M102.9,173.6L103.3,173.8M105.0,199.2L104.9,196.5M114.7,203.8L109.7,206.6M102.5,207.2L104.8,206.1M109.9,210.6L109.1,206.8M109.1,206.8L109.7,206.6M103.8,159.9L105.0,158.8M103.8,159.9L103.3,159.9M103.3,159.9L103.5,156.3M105.0,158.8L107.2,156.4M103.5,156.3L105.3,155.4M107.9,160.1L105.0,158.8M107.2,164.6L103.3,163.0M103.3,163.0L102.3,160.6M102.3,160.6L103.3,159.9M104.0,150.4L105.3,155.4M93.3,168.2L94.7,165.3M90.4,165.1L92.1,163.9M98.2,165.9L96.8,170.1M98.2,165.9L96.9,164.7M96.9,164.7L96.2,164.7M94.7,165.3L96.2,164.7M91.3,157.4L92.8,160.1M91.3,157.4L95.4,155.2M95.4,155.2L99.2,158.3M93.2,160.3L97.8,161.1M97.8,161.1L99.5,159.7M99.5,159.7L99.2,158.3M89.2,157.1L91.3,157.4M92.1,163.9L92.8,160.1M96.2,164.7L93.2,160.3M104.2,135.5L105.6,133.5M100.9,134.3L101.6,132.2M101.6,132.2L102.7,131.9M102.7,131.9L103.1,132.0M104.8,136.9L104.2,135.5M109.8,129.4L103.1,132.0M100.5,130.5L101.6,132.2M149.5,152.0L148.5,152.3M149.5,152.0L147.3,148.5M143.9,151.3L144.0,151.1M153.5,151.9L149.5,152.0M148.6,148.5L147.3,148.5M150.0,145.0L144.4,146.9M144.4,146.9L144.7,147.8M123.3,137.2L122.5,137.1M122.5,137.1L119.6,140.6M120.2,141.7L119.6,140.6M125.5,139.0L128.5,134.6M124.2,138.5L124.1,138.4M128.5,134.6L124.2,134.7M124.2,134.7L123.3,137.2M123.9,133.1L124.2,134.7M118.4,135.8L122.5,137.1M115.6,138.1L119.6,140.6M120.2,142.1L120.2,141.7M152.6,131.7L148.0,136.1M145.3,131.2L148.0,136.1M152.0,140.1L148.1,137.5M148.1,137.5L148.0,136.8M144.3,141.8L143.6,145.6M138.0,149.1L142.9,145.6M143.6,145.6L142.9,145.6M142.9,145.6L140.0,144.8M132.2,146.0L132.9,144.3M140.0,144.8L137.4,142.5M153.0,190.0L152.9,192.5M152.9,192.5L157.3,193.6M156.2,199.2L155.6,196.4M157.3,193.6L155.6,196.4M152.1,200.4L148.2,201.6M152.1,200.4L151.4,197.9M148.2,201.6L145.9,198.5M149.9,195.7L147.3,196.4M147.3,196.4L145.9,198.5M155.6,196.4L151.4,197.9M143.0,199.9L145.9,198.5M150.5,194.0L149.9,195.7M150.5,194.0L152.9,192.5M140.7,198.4L143.5,193.9M143.5,193.9L144.0,193.9M144.0,193.9L147.3,196.4M139.9,185.6L144.0,185.5M139.9,185.6L143.5,182.1M143.5,182.1L143.9,181.9M143.9,181.9L144.8,184.5M144.8,184.5L144.0,185.5M139.4,185.9L139.9,185.6M139.4,186.7L143.4,187.3M143.4,187.3L144.0,185.5M137.9,183.3L143.5,182.1M144.0,181.2L143.9,181.9M143.5,187.8L143.4,187.3M148.4,186.3L144.8,184.5M147.8,188.9L147.7,189.1M143.5,187.8L143.5,188.8M144.0,193.9L145.7,191.6M150.5,194.0L147.7,190.5M139.1,188.7L143.2,189.2M139.1,188.7L141.5,192.4M141.8,192.5L143.3,189.8M143.2,189.2L143.3,189.8M143.5,188.8L143.2,189.2M143.5,193.9L141.8,192.5M118.9,210.2L121.0,204.7M123.1,209.0L122.3,204.5M122.3,204.5L121.0,204.7M124.7,208.9L123.1,209.0M115.5,204.6L121.0,204.7M105.7,187.5L108.4,185.0M108.5,184.6L107.5,182.1M107.5,182.1L105.8,180.6M108.8,191.1L109.7,190.7M108.8,191.1L105.8,190.1M105.8,190.1L105.7,187.5M109.7,190.7L112.0,187.9M112.0,187.9L108.4,185.0M105.8,190.1L103.9,191.9M102.1,185.6L103.0,185.4M115.7,181.6L108.5,184.6M112.6,179.1L107.5,182.1M107.7,176.6L105.8,180.6M102.6,177.9L105.0,180.8M103.8,173.7L103.3,173.8M53.5,165.9L57.5,164.8M57.2,167.6L57.5,164.8M55.6,172.6L54.9,171.8M42.8,172.9L54.8,171.8M58.2,163.5L57.5,164.8M103.4,167.3L102.3,167.9M103.4,167.3L102.3,164.3M102.3,164.3L100.2,164.5M101.9,167.9L98.9,165.8M101.9,167.9L102.3,167.9M105.6,167.1L103.4,167.3M102.9,173.6L102.3,167.9M103.3,163.0L102.3,164.3M100.5,160.3L100.2,164.5M98.2,165.9L98.9,165.8M98.3,171.0L101.9,167.9M110.4,193.6L112.8,198.4M114.2,198.8L116.7,196.8M116.7,196.8L117.5,191.9M113.3,191.8L117.5,191.9M108.8,191.1L109.2,192.1M109.2,192.1L110.4,193.6M109.7,190.7L113.3,191.8M119.1,197.6L116.7,196.8M117.9,190.9L117.5,191.9M112.2,198.5L107.3,200.4M112.2,198.5L107.4,195.5M106.1,196.6L107.0,200.1M106.1,196.6L107.1,195.5M107.1,195.5L107.4,195.5M112.8,198.4L112.2,198.5M105.0,199.2L107.0,200.1M103.9,191.9L107.1,195.5M125.9,132.1L129.4,132.9M130.5,130.6L129.4,132.9M128.9,139.8L130.7,140.2M130.7,140.2L132.7,142.6M132.7,142.6L134.6,138.9M138.4,140.5L134.6,138.9M143.6,166.8L146.5,169.6M146.5,169.6L145.9,171.6M149.2,162.5L148.3,169.2M146.5,169.6L148.3,169.2M139.4,171.2L140.0,173.5M142.5,174.1L145.8,172.2M145.9,171.6L145.8,172.2M152.7,164.2L150.1,169.5M156.4,167.4L150.9,170.0M145.2,179.5L145.0,179.1M145.2,179.5L144.3,180.6M145.0,179.1L143.1,177.2M143.1,177.2L137.4,177.2M137.4,177.2L137.2,177.4M142.5,174.1L143.1,177.2M146.3,173.3L145.8,172.2M146.3,173.3L145.0,179.1M137.2,177.4L137.2,177.4M144.0,181.2L144.3,180.6M140.0,173.5L137.4,177.2M150.9,170.0L153.5,174.5M153.5,174.5L157.0,174.2M128.9,134.5L129.3,133.6M129.3,133.6L131.4,134.5M129.9,136.5L131.3,137.3M131.3,137.3L133.1,136.7M126.6,139.7L129.5,136.2M128.5,134.6L128.9,134.5M129.4,132.9L129.3,133.6M130.7,140.2L131.3,137.3M134.5,136.6L133.1,136.7M151.2,176.6L149.8,179.6M152.9,175.2L156.2,181.8M149.8,179.6L151.9,183.5M151.9,183.5L156.3,182.8M146.3,173.3L151.2,176.6M153.5,174.5L152.9,175.2M145.2,179.5L149.8,179.6M135.3,133.1L136.2,134.3M136.2,134.3L139.1,133.3M140.4,131.3L139.1,133.3M131.4,134.5L135.3,133.1M134.5,136.6L136.0,135.1M136.0,135.1L136.2,134.3M140.4,140.2L139.1,139.9M142.3,136.1L141.5,135.9M136.0,135.1L138.9,138.6M138.4,140.5L139.1,139.9M148.0,136.8L142.3,136.1" stroke="#d870c4" stroke-width="0.9" fill="none" opacity="0.55"/>
<g fill="#98207a" opacity="0.38"><circle cx="77.7" cy="178.6" r="0.94"/><circle cx="94.4" cy="159.7" r="0.57"/><circle cx="98.6" cy="161.5" r="0.88"/><circle cx="113.1" cy="162.1" r="0.52"/><circle cx="62.1" cy="138.4" r="0.54"/><circle cx="89.9" cy="203.9" r="0.56"/><circle cx="61.7" cy="201.2" r="0.54"/><circle cx="145.5" cy="153.2" r="0.56"/><circle cx="98.0" cy="191.1" r="0.79"/><circle cx="120.8" cy="182.9" r="0.79"/><circle cx="114.3" cy="200.4" r="0.87"/><circle cx="143.1" cy="186.8" r="0.75"/><circle cx="125.2" cy="191.0" r="0.73"/><circle cx="80.1" cy="171.0" r="0.60"/><circle cx="68.0" cy="187.0" r="0.56"/><circle cx="96.7" cy="195.9" r="0.51"/><circle cx="113.8" cy="189.2" r="0.91"/><circle cx="101.1" cy="146.9" r="0.82"/><circle cx="76.4" cy="144.0" r="0.61"/><circle cx="66.7" cy="192.0" r="0.52"/><circle cx="144.8" cy="181.2" r="0.51"/><circle cx="65.0" cy="163.1" r="0.52"/><circle cx="97.7" cy="177.5" r="0.59"/><circle cx="105.1" cy="181.3" r="0.79"/><circle cx="145.1" cy="191.1" r="0.73"/><circle cx="115.9" cy="161.6" r="0.56"/><circle cx="112.6" cy="159.2" r="0.50"/><circle cx="111.7" cy="142.5" r="0.73"/><circle cx="85.4" cy="141.8" r="0.58"/><circle cx="108.7" cy="186.1" r="0.55"/><circle cx="135.6" cy="196.1" r="0.52"/><circle cx="132.9" cy="157.9" r="0.78"/><circle cx="132.9" cy="156.5" r="0.92"/><circle cx="93.6" cy="197.2" r="0.79"/><circle cx="144.0" cy="170.9" r="0.70"/><circle cx="84.9" cy="145.4" r="0.68"/><circle cx="127.5" cy="164.3" r="0.53"/><circle cx="112.3" cy="201.3" r="0.90"/><circle cx="94.1" cy="169.1" r="0.92"/><circle cx="134.4" cy="160.7" r="0.54"/><circle cx="113.8" cy="196.9" r="0.54"/><circle cx="109.7" cy="203.4" r="0.66"/><circle cx="68.8" cy="182.3" r="0.89"/><circle cx="104.5" cy="163.1" r="0.65"/><circle cx="81.1" cy="153.3" r="0.88"/><circle cx="138.8" cy="160.9" r="0.54"/><circle cx="127.0" cy="168.9" r="0.91"/><circle cx="144.0" cy="181.6" r="0.89"/><circle cx="118.7" cy="155.5" r="0.64"/><circle cx="102.7" cy="145.5" r="0.92"/><circle cx="78.3" cy="191.9" r="0.90"/><circle cx="60.1" cy="175.0" r="0.50"/><circle cx="72.6" cy="188.3" r="0.81"/><circle cx="112.1" cy="139.2" r="0.79"/><circle cx="105.3" cy="150.2" r="0.80"/><circle cx="147.3" cy="202.5" r="0.70"/><circle cx="73.5" cy="199.7" r="0.82"/><circle cx="103.6" cy="161.1" r="0.85"/><circle cx="90.8" cy="148.4" r="0.56"/><circle cx="94.8" cy="177.6" r="0.51"/><circle cx="110.8" cy="155.8" r="0.55"/><circle cx="90.3" cy="148.9" r="0.71"/><circle cx="134.5" cy="159.4" r="0.70"/><circle cx="115.4" cy="166.6" r="0.73"/><circle cx="83.6" cy="147.8" r="0.65"/><circle cx="78.0" cy="149.4" r="0.74"/><circle cx="99.2" cy="147.8" r="0.51"/><circle cx="102.2" cy="151.8" r="0.83"/><circle cx="100.2" cy="204.7" r="0.51"/><circle cx="92.6" cy="157.1" r="0.72"/><circle cx="74.3" cy="199.5" r="0.94"/><circle cx="67.7" cy="149.3" r="0.51"/><circle cx="78.7" cy="173.1" r="0.58"/><circle cx="119.7" cy="175.7" r="0.64"/><circle cx="66.5" cy="168.2" r="0.62"/><circle cx="70.2" cy="182.7" r="0.58"/><circle cx="130.0" cy="157.0" r="0.65"/><circle cx="145.7" cy="161.5" r="0.76"/><circle cx="127.7" cy="181.0" r="0.59"/><circle cx="61.4" cy="137.7" r="0.52"/><circle cx="108.6" cy="147.4" r="0.53"/><circle cx="117.9" cy="194.8" r="0.95"/><circle cx="112.1" cy="147.8" r="0.60"/><circle cx="70.9" cy="143.2" r="0.53"/><circle cx="147.9" cy="144.5" r="0.65"/><circle cx="76.6" cy="202.9" r="0.65"/><circle cx="89.0" cy="152.2" r="0.54"/><circle cx="92.5" cy="202.2" r="0.92"/><circle cx="78.0" cy="142.7" r="0.77"/><circle cx="143.1" cy="179.0" r="0.90"/><circle cx="144.4" cy="164.6" r="0.77"/><circle cx="126.6" cy="184.4" r="0.56"/><circle cx="92.9" cy="137.9" r="0.72"/><circle cx="69.7" cy="142.6" r="0.87"/><circle cx="60.1" cy="167.2" r="0.77"/><circle cx="110.3" cy="145.6" r="0.69"/><circle cx="91.4" cy="183.5" r="0.60"/><circle cx="84.5" cy="204.0" r="0.53"/><circle cx="75.1" cy="165.0" r="0.65"/><circle cx="86.1" cy="175.8" r="0.72"/><circle cx="139.9" cy="184.5" r="0.58"/><circle cx="125.6" cy="176.6" r="0.64"/><circle cx="132.3" cy="161.6" r="0.72"/><circle cx="117.2" cy="192.2" r="0.70"/><circle cx="101.0" cy="163.2" r="0.58"/><circle cx="79.1" cy="140.3" r="0.71"/><circle cx="122.2" cy="154.8" r="0.90"/><circle cx="135.3" cy="178.1" r="0.56"/><circle cx="77.9" cy="176.5" r="0.57"/><circle cx="135.4" cy="203.9" r="0.87"/><circle cx="81.3" cy="162.0" r="0.75"/><circle cx="102.9" cy="138.4" r="0.90"/><circle cx="101.0" cy="169.9" r="0.81"/><circle cx="111.0" cy="173.5" r="0.86"/><circle cx="105.0" cy="172.7" r="0.71"/><circle cx="100.0" cy="185.6" r="0.55"/><circle cx="124.4" cy="142.3" r="0.83"/><circle cx="60.6" cy="171.2" r="0.62"/><circle cx="70.0" cy="185.8" r="0.84"/><circle cx="61.0" cy="177.4" r="0.69"/><circle cx="60.8" cy="137.1" r="0.62"/><circle cx="95.1" cy="154.5" r="0.85"/><circle cx="139.5" cy="204.8" r="0.68"/><circle cx="138.0" cy="191.0" r="0.63"/><circle cx="78.5" cy="168.9" r="0.60"/><circle cx="113.7" cy="151.1" r="0.93"/><circle cx="141.6" cy="183.2" r="0.89"/><circle cx="124.4" cy="203.7" r="0.88"/><circle cx="144.3" cy="159.2" r="0.72"/><circle cx="132.0" cy="143.5" r="0.73"/><circle cx="78.5" cy="139.8" r="0.61"/><circle cx="133.3" cy="180.6" r="0.54"/><circle cx="109.9" cy="189.7" r="0.78"/><circle cx="120.3" cy="152.5" r="0.95"/><circle cx="140.0" cy="178.4" r="0.68"/><circle cx="142.2" cy="183.1" r="0.69"/><circle cx="78.3" cy="163.7" r="0.59"/><circle cx="124.9" cy="189.7" r="0.69"/><circle cx="126.6" cy="163.0" r="0.62"/><circle cx="115.7" cy="193.5" r="0.84"/><circle cx="117.1" cy="200.6" r="0.88"/><circle cx="128.9" cy="170.1" r="0.91"/><circle cx="87.4" cy="144.0" r="0.51"/><circle cx="126.0" cy="178.8" r="0.89"/><circle cx="133.0" cy="175.0" r="0.61"/><circle cx="139.5" cy="159.3" r="0.66"/><circle cx="61.1" cy="188.5" r="0.58"/><circle cx="83.7" cy="156.2" r="0.77"/><circle cx="136.3" cy="174.6" r="0.73"/><circle cx="92.5" cy="137.6" r="0.61"/><circle cx="136.4" cy="171.8" r="0.74"/><circle cx="133.9" cy="154.2" r="0.90"/><circle cx="84.7" cy="166.2" r="0.65"/><circle cx="60.5" cy="178.6" r="0.85"/><circle cx="86.2" cy="153.0" r="0.88"/><circle cx="83.8" cy="138.6" r="0.67"/><circle cx="90.2" cy="157.5" r="0.52"/><circle cx="102.7" cy="163.9" r="0.95"/><circle cx="91.9" cy="200.3" r="0.54"/><circle cx="127.5" cy="162.8" r="0.87"/><circle cx="125.4" cy="204.8" r="0.65"/><circle cx="72.0" cy="188.6" r="0.75"/><circle cx="145.5" cy="174.1" r="0.81"/><circle cx="84.8" cy="152.5" r="0.86"/><circle cx="92.5" cy="197.5" r="0.58"/><circle cx="150.9" cy="166.5" r="0.91"/><circle cx="84.7" cy="142.3" r="0.82"/><circle cx="110.9" cy="181.3" r="0.85"/><circle cx="86.4" cy="178.4" r="0.94"/><circle cx="63.0" cy="189.3" r="0.56"/><circle cx="122.7" cy="140.5" r="0.86"/><circle cx="87.5" cy="149.1" r="0.94"/><circle cx="101.8" cy="173.7" r="0.61"/><circle cx="142.9" cy="193.9" r="0.66"/><circle cx="134.3" cy="203.8" r="0.61"/><circle cx="137.7" cy="137.4" r="0.65"/><circle cx="100.9" cy="185.7" r="0.63"/><circle cx="60.5" cy="175.0" r="0.60"/><circle cx="113.5" cy="178.8" r="0.71"/><circle cx="60.8" cy="204.0" r="0.66"/><circle cx="113.4" cy="187.3" r="0.70"/><circle cx="72.3" cy="176.8" r="0.52"/><circle cx="129.9" cy="175.9" r="0.56"/><circle cx="62.1" cy="142.0" r="0.62"/><circle cx="61.9" cy="168.6" r="0.73"/><circle cx="145.3" cy="153.5" r="0.73"/><circle cx="62.4" cy="160.0" r="0.50"/><circle cx="104.7" cy="186.1" r="0.58"/><circle cx="98.4" cy="166.9" r="0.67"/><circle cx="66.6" cy="200.9" r="0.91"/><circle cx="145.5" cy="190.0" r="0.85"/><circle cx="124.3" cy="182.3" r="0.62"/><circle cx="116.8" cy="171.9" r="0.94"/><circle cx="104.6" cy="148.4" r="0.58"/><circle cx="109.0" cy="164.5" r="0.93"/><circle cx="138.6" cy="153.1" r="0.61"/><circle cx="110.3" cy="194.2" r="0.83"/><circle cx="102.1" cy="171.7" r="0.94"/><circle cx="76.3" cy="185.7" r="0.58"/><circle cx="137.6" cy="180.5" r="0.75"/><circle cx="60.2" cy="147.6" r="0.80"/><circle cx="141.8" cy="201.0" r="0.91"/><circle cx="128.1" cy="154.7" r="0.64"/><circle cx="96.2" cy="204.3" r="0.55"/><circle cx="103.8" cy="141.2" r="0.60"/><circle cx="144.5" cy="176.9" r="0.83"/><circle cx="130.1" cy="149.6" r="0.69"/><circle cx="66.4" cy="158.6" r="0.55"/><circle cx="146.2" cy="147.8" r="0.95"/><circle cx="115.7" cy="180.3" r="0.51"/><circle cx="73.6" cy="155.4" r="0.72"/><circle cx="140.2" cy="169.9" r="0.84"/><circle cx="117.6" cy="187.8" r="0.72"/><circle cx="102.6" cy="166.8" r="0.59"/><circle cx="68.5" cy="155.5" r="0.55"/><circle cx="80.5" cy="190.7" r="0.81"/><circle cx="107.7" cy="192.3" r="0.71"/><circle cx="66.6" cy="170.9" r="0.70"/><circle cx="122.0" cy="149.5" r="0.91"/><circle cx="75.8" cy="189.0" r="0.70"/><circle cx="103.3" cy="171.8" r="0.93"/><circle cx="136.2" cy="186.2" r="0.52"/><circle cx="109.9" cy="192.8" r="0.80"/><circle cx="101.2" cy="158.9" r="0.64"/><circle cx="62.5" cy="180.0" r="0.53"/><circle cx="59.9" cy="197.7" r="0.71"/><circle cx="145.0" cy="179.0" r="0.66"/><circle cx="138.2" cy="185.7" r="0.93"/><circle cx="119.0" cy="203.0" r="0.56"/><circle cx="101.8" cy="149.8" r="0.95"/><circle cx="130.7" cy="179.0" r="0.65"/><circle cx="124.5" cy="153.5" r="0.72"/><circle cx="142.3" cy="195.9" r="0.75"/><circle cx="116.9" cy="154.2" r="0.61"/><circle cx="73.4" cy="204.5" r="0.86"/><circle cx="106.7" cy="163.5" r="0.55"/><circle cx="126.1" cy="144.1" r="0.57"/><circle cx="66.7" cy="143.5" r="0.70"/><circle cx="150.5" cy="160.6" r="0.53"/><circle cx="120.0" cy="142.1" r="0.87"/></g>
<path d="M99.9,156.6 C102,156.4 104.5,156.6 105.9,157.2 C108,159.5 109,161.5 109.5,163.1 L111.3,170.3 L112.5,179.9 L112.5,188.2 L111.3,193 L108.9,197.2 L107.1,199 L103.5,195.4 L98.7,189.4 L96.4,181 L96.1,171.5 L96.4,163.1 C97,160.5 97.5,159.3 98.1,158.4 Z" fill="#e6e9d0" stroke="#ecc0e0" stroke-width="1.4"/>
<circle cx="102.3" cy="172.1" r="0.6" fill="#666"/><circle cx="104.7" cy="179.3" r="0.6" fill="#666"/>
</g></g>
<g clip-path="url(#clL1)"><g filter="url(#soft)">
<rect x="57.5" y="205.3" width="95.50" height="72.30" fill="#cc52aa"/>
<rect x="59.5" y="207.3" width="91.50" height="68.30" filter="url(#livD)" opacity="0.7"/>
<rect x="59.5" y="207.3" width="91.50" height="68.30" filter="url(#livLt)" opacity="0.8"/>
<path d="M156.3,241.5L152.7,246.0M159.2,245.8L153.9,248.8M71.1,201.8L75.5,204.9M72.7,186.5L77.8,203.6M75.5,204.9L77.8,203.6M130.7,202.8L127.7,202.7M127.7,202.7L125.6,207.1M137.6,204.6L135.8,207.1M137.6,204.6L137.3,202.2M132.6,207.6L134.0,208.4M132.9,218.7L135.3,220.1M135.3,220.1L136.0,220.0M140.7,214.2L134.7,209.4M140.7,214.2L140.7,214.3M140.7,214.3L136.0,220.0M140.7,214.2L142.6,212.9M134.7,209.4L134.4,208.5M142.6,212.9L142.4,209.7M107.2,200.2L108.4,203.0M108.4,203.0L111.7,204.6M114.9,200.6L111.7,204.6M100.3,205.4L98.2,209.8M98.2,209.8L98.6,210.3M98.6,210.3L99.4,210.0M99.4,210.0L102.4,207.3M118.7,213.4L120.9,211.9M118.7,213.4L113.9,209.3M120.9,211.9L114.0,209.1M113.9,209.3L114.0,209.1M122.6,280.8L119.8,279.2M119.8,279.2L117.7,280.4M116.3,282.6L117.7,280.4M54.2,277.5L55.8,282.7M94.3,204.2L91.7,206.2M86.3,204.8L87.1,206.5M80.1,203.3L82.2,204.5M83.5,204.3L82.2,204.5M75.5,204.9L75.8,206.8M77.8,203.6L80.1,203.3M80.4,207.9L75.8,206.8M80.4,207.9L82.2,204.5M61.1,205.1L63.4,205.7M57.6,209.6L63.9,206.2M57.6,209.6L53.8,207.8M63.9,206.2L63.4,205.7M53.8,207.8L55.0,205.8M55.1,205.8L55.0,205.8M62.8,194.2L63.4,205.7M58.0,200.1L61.1,205.1M55.0,200.8L55.1,205.8M65.8,207.6L63.9,206.2M51.2,202.9L55.0,205.8M55.9,214.7L56.2,214.5M60.0,215.9L63.8,212.2M47.9,212.7L55.9,214.7M58.7,211.2L56.2,214.5M58.7,211.2L57.6,209.6M120.5,197.6L123.0,206.4M123.0,206.4L123.5,206.9M125.6,207.1L124.1,207.6M123.5,206.9L124.1,207.6M116.8,199.5L118.3,205.5M115.2,200.5L114.5,208.2M118.3,205.5L115.6,207.7M115.6,207.7L114.5,208.2M111.7,204.6L113.1,207.8M114.0,208.6L113.1,207.8M114.0,208.6L114.5,208.2M123.3,210.4L115.6,207.7M123.3,210.4L123.3,211.3M114.0,209.1L114.0,208.6M152.7,246.0L149.5,245.5M149.2,239.4L154.2,239.4M156.2,241.3L154.2,239.4M146.9,201.2L146.9,203.0M144.7,205.2L145.7,204.8M142.6,212.9L144.4,212.9M144.4,212.9L147.6,210.6M147.6,210.6L147.6,209.4M145.7,204.8L147.6,209.4M104.3,201.7L103.6,203.2M98.1,203.4L100.2,204.7M95.6,204.9L98.1,203.4M95.6,204.9L94.3,204.2M55.0,239.8L53.8,238.0M58.8,233.8L53.6,232.3M58.3,221.9L56.9,215.8M58.3,221.9L43.7,225.6M53.6,242.6L55.0,239.8M59.2,240.4L55.8,239.8M60.0,242.0L56.6,245.2M65.8,207.6L66.2,209.8M58.7,211.2L65.5,210.8M63.8,212.2L65.1,211.3M65.1,211.3L65.5,210.8M58.8,233.8L59.8,233.9M52.0,230.5L58.0,228.2M58.3,221.9L59.7,222.3M58.0,228.2L59.7,222.3M96.8,224.0L98.1,226.9M96.8,224.0L94.5,222.8M96.8,226.8L98.1,226.9M96.8,226.8L93.8,223.9M67.2,209.8L75.0,208.6M71.9,217.2L73.8,212.9M71.9,217.2L75.2,217.6M73.8,212.9L76.7,212.2M70.5,217.5L71.9,217.2M68.9,216.0L66.1,210.3M75.0,208.6L76.7,212.1M76.7,212.1L76.7,212.2M80.7,210.7L87.1,207.6M92.9,231.7L95.9,233.7M92.9,231.7L92.2,230.6M95.9,233.7L99.3,231.8M99.3,231.8L99.2,230.7M92.5,234.7L93.3,235.3M92.5,234.7L92.9,231.7M95.5,234.7L95.9,233.7M105.0,242.3L105.0,240.9M105.0,242.3L104.4,245.4M105.0,240.9L99.8,241.4M104.4,245.4L99.5,246.6M99.5,246.6L98.2,245.6M98.2,245.6L98.5,243.1M99.8,241.4L98.5,243.1M101.9,234.6L99.3,231.8M101.9,234.6L98.6,238.1M95.5,234.7L96.3,237.9M93.0,236.1L93.3,235.3M93.0,236.1L95.2,238.9M96.3,237.9L95.2,238.9M94.7,246.5L93.1,245.8M93.1,245.8L92.9,245.6M98.5,243.1L94.6,240.2M94.5,239.9L94.6,240.2M92.3,230.6L98.7,228.1M99.3,229.5L98.7,228.1M105.0,242.3L110.6,245.7M105.0,240.9L106.3,238.9M110.6,245.7L110.9,241.2M110.9,241.2L106.3,238.9M101.9,234.6L104.3,235.2M104.1,228.4L99.3,229.5M105.5,231.8L104.3,235.2M107.4,226.1L109.6,228.6M109.6,228.6L108.9,229.2M105.5,231.8L108.9,229.2M107.4,226.1L108.1,223.0M108.1,223.0L107.5,221.5M107.5,221.5L106.3,220.5M105.2,226.6L101.6,223.8M106.3,220.5L101.6,223.8M107.5,221.5L112.2,218.8M112.2,218.8L110.7,215.6M110.7,215.6L105.2,217.1M106.3,220.5L105.2,217.2M101.2,223.8L101.6,223.8M119.8,218.1L123.5,211.8M120.0,218.6L120.3,218.5M120.3,218.5L126.7,215.1M123.5,211.8L126.5,214.6M126.5,214.6L126.7,215.1M124.2,218.7L126.8,215.4M124.2,218.7L120.3,218.5M126.8,215.4L126.7,215.1M123.3,211.3L123.5,211.8M132.9,218.7L130.3,218.6M130.3,218.6L126.8,215.4M117.6,216.8L117.0,215.2M117.6,216.8L114.0,220.0M114.0,220.0L113.5,219.6M113.5,219.6L115.0,214.3M115.0,214.3L117.0,215.2M119.8,218.1L117.6,216.8M114.6,222.0L120.0,219.4M114.6,222.0L114.0,220.0M120.0,219.4L120.0,218.6M112.2,218.8L113.5,219.6M114.5,223.5L114.6,222.0M112.4,212.4L115.0,214.3M112.4,212.4L113.9,209.3M124.2,218.7L123.9,222.3M123.9,222.3L128.9,220.6M135.3,220.1L133.8,227.6M133.8,227.6L128.7,225.7M128.7,225.7L128.9,220.6M96.3,208.8L93.6,211.4M93.6,211.4L90.8,209.7M90.8,209.7L92.6,208.2M95.6,204.9L96.2,208.7M100.3,205.4L100.2,204.7M98.2,209.8L96.3,208.8M91.7,206.2L92.6,208.2M92.9,214.6L98.7,211.3M92.9,214.6L93.6,211.4M98.6,210.3L98.7,211.3M87.9,209.8L90.8,209.7M104.2,206.8L104.1,207.1M104.2,206.8L108.0,205.6M106.7,210.6L105.8,210.9M105.8,210.9L105.4,210.5M102.4,207.3L104.1,207.1M108.4,203.0L108.0,205.6M112.4,212.4L106.7,210.6M105.2,217.1L104.2,215.4M104.2,215.4L99.8,214.4M99.8,214.4L98.7,211.3M60.0,242.0L62.5,243.8M62.5,243.8L59.8,246.9M56.6,245.2L58.0,248.0M98.5,282.2L101.7,278.1M93.6,278.5L101.7,278.1M119.8,279.2L120.9,273.9M115.0,272.7L114.5,272.9M117.7,280.4L114.6,276.7M114.6,276.7L114.3,273.4M111.8,280.4L111.0,278.4M111.8,280.4L114.4,281.4M111.3,280.9L111.8,280.4M114.6,276.7L113.1,277.9M109.6,277.5L114.3,273.4M109.6,277.5L111.0,278.4M60.0,280.2L59.1,282.0M58.2,275.9L54.2,277.5M121.4,273.5L125.3,273.4M125.6,282.0L127.2,275.4M125.3,273.4L127.2,275.4M115.4,245.3L119.2,247.6M110.7,248.9L110.6,247.5M110.7,248.9L115.7,252.2M119.5,249.7L117.5,251.7M117.5,251.7L115.7,252.2M114.6,240.4L114.4,240.3M110.6,245.7L110.8,247.0M114.4,240.3L110.9,241.2M114.6,240.4L122.6,241.1M104.9,254.3L104.6,245.7M105.4,254.3L110.7,248.9M104.6,245.7L110.6,247.5M112.3,257.0L115.7,252.2M104.4,245.4L104.6,245.7M100.7,254.4L101.6,255.0M95.5,260.3L99.3,259.1M99.3,259.1L100.0,258.8M95.1,253.1L92.2,254.1M100.0,258.8L100.4,258.3M92.2,254.1L91.0,255.0M99.5,246.6L100.7,254.4M104.9,254.3L101.6,255.0M104.9,254.3L104.9,254.3M94.7,265.3L95.9,266.7M94.7,265.3L94.2,262.1M95.9,266.7L99.3,259.1M93.1,245.8L90.8,249.0M90.8,249.0L92.2,254.1M93.6,265.3L87.5,263.4M88.8,260.9L87.5,263.4M87.0,268.6L85.5,265.6M139.8,231.3L144.7,235.5M139.8,231.3L142.8,228.3M145.7,229.8L142.8,228.3M147.0,203.0L152.5,206.2M147.0,203.0L155.8,202.0M152.5,206.2L154.5,205.7M155.8,202.0L154.5,205.7M146.9,203.0L147.0,203.0M150.8,221.3L148.4,217.2M148.4,217.2L149.6,216.2M156.0,218.0L154.4,218.2M156.4,213.8L153.2,213.0M153.2,213.0L150.5,214.1M144.4,212.9L147.9,217.2M147.9,217.2L148.4,217.2M148.2,211.0L150.5,214.1M153.1,209.6L152.8,211.7M151.2,208.5L152.1,207.8M151.2,208.5L151.3,210.4M151.3,210.4L152.8,211.7M155.3,209.2L153.1,209.6M155.3,209.2L156.5,213.3M153.2,213.0L152.8,211.7M155.9,207.1L154.5,205.7M155.9,207.1L155.3,209.2M152.5,206.2L152.1,207.8M147.6,209.4L151.2,208.5M148.2,211.0L151.3,210.4M90.8,249.0L88.9,248.9M89.2,243.8L92.9,245.6M89.2,243.8L88.8,243.9M88.8,243.9L88.9,248.9M87.8,239.4L90.3,241.2M87.8,239.4L84.3,240.1M88.8,243.9L88.7,243.9M88.2,249.3L88.0,249.2M88.2,249.3L88.8,255.1M91.0,255.0L89.2,255.6M88.8,260.9L88.6,257.1M88.8,255.1L89.2,255.6M62.5,243.8L64.3,244.0M63.9,249.8L59.8,246.9M63.9,249.8L64.0,249.7M64.0,249.7L64.7,245.0M63.1,221.1L62.4,222.4M61.8,222.3L60.4,216.4M60.4,216.4L63.3,216.9M68.9,216.0L63.1,221.1M65.1,211.3L63.3,216.9M60.0,215.9L60.4,216.4M80.1,239.3L80.8,238.1M80.1,239.3L71.2,239.4M80.8,238.1L80.8,237.4M77.0,233.4L80.5,236.5M77.0,233.4L71.0,239.1M71.0,239.1L71.2,239.4M80.8,237.4L80.5,236.5M93.7,239.7L92.0,237.1M90.8,240.3L89.8,238.3M92.0,237.1L89.8,236.8M89.8,238.3L89.8,236.8M94.5,239.9L93.7,239.7M93.0,236.1L92.0,237.1M87.8,239.4L89.8,238.3M92.5,234.7L89.3,234.8M89.3,234.8L88.9,235.5M80.8,238.1L82.2,238.9M84.3,240.1L82.2,238.9M114.6,237.0L113.6,235.8M114.6,237.0L114.4,240.3M106.3,238.9L106.3,238.6M108.9,229.2L107.9,234.9M106.3,238.6L105.6,236.5M114.5,223.5L115.4,225.4M107.9,234.9L112.1,232.7M109.8,228.6L112.1,232.7M113.6,235.8L112.7,233.0M105.2,217.2L100.8,219.9M100.2,221.8L100.8,219.9M96.8,224.0L97.4,221.1M98.1,226.9L98.4,227.1M100.2,221.8L97.4,221.1M99.8,214.4L99.7,214.5M99.7,214.5L98.4,217.4M100.8,219.9L98.4,217.4M114.3,232.0L112.7,233.0M120.0,219.4L121.2,222.2M115.7,225.6L121.2,222.2M123.9,222.3L123.1,223.0M121.2,222.2L123.1,223.0M63.9,249.8L63.6,250.4M58.0,248.0L57.7,249.2M60.5,252.1L57.7,249.2M102.2,277.8L104.9,290.4M85.5,273.0L83.9,276.1M85.5,273.0L86.6,271.6M83.9,276.1L89.1,278.4M93.6,278.5L92.7,277.2M91.8,277.3L92.7,277.2M89.1,278.4L89.0,281.2M83.9,276.1L83.9,276.1M83.2,279.8L83.9,276.1M76.9,270.6L79.0,271.9M76.9,270.6L79.2,268.7M79.0,271.9L80.5,270.3M80.5,270.3L80.6,268.3M79.2,268.7L80.3,268.3M74.4,268.0L75.0,270.2M74.4,268.0L74.4,266.5M75.0,270.2L76.9,270.6M74.4,266.5L79.2,268.7M85.5,273.0L80.5,270.3M80.0,275.3L79.0,271.9M77.0,265.3L80.3,268.3M77.0,265.3L74.4,266.2M74.4,266.5L74.4,266.2M149.5,245.5L147.8,246.6M147.8,246.6L148.2,247.4M153.8,250.3L150.1,249.4M148.2,247.4L150.1,249.4M156.5,252.3L154.6,255.2M155.9,257.1L154.6,255.2M155.9,257.1L161.3,256.4M153.8,250.4L156.5,252.3M101.5,266.0L100.1,261.8M101.5,266.0L100.0,268.1M100.1,261.8L96.3,267.4M100.0,268.1L96.5,268.1M100.0,258.8L100.1,261.8M101.5,266.0L104.3,262.8M108.2,263.7L109.4,264.7M108.7,266.6L109.3,265.2M109.4,264.7L109.3,265.2M101.5,266.0L101.5,266.0M103.6,271.7L108.3,269.0M103.6,271.7L100.0,268.1M108.3,269.0L108.7,266.6M114.0,261.4L112.3,257.0M114.0,261.4L109.4,264.7M115.4,270.0L115.0,272.7M115.4,270.0L113.1,267.6M113.1,267.6L109.3,265.2M114.5,272.9L110.1,271.2M136.2,231.9L135.6,234.6M136.2,231.9L134.5,228.9M135.6,234.6L129.6,233.1M129.6,233.1L131.6,229.9M139.8,231.3L136.2,231.9M144.7,235.5L145.4,237.5M145.4,237.5L135.7,236.2M135.6,235.9L135.7,236.2M135.6,235.9L135.6,234.6M140.1,225.7L142.7,228.1M140.1,225.7L134.5,228.9M142.8,228.3L142.7,228.1M153.4,261.9L156.5,262.5M152.6,263.5L153.8,266.2M152.7,259.9L153.4,261.9M149.5,266.9L150.0,265.0M149.5,266.9L151.8,268.9M150.0,265.0L152.6,263.5M151.8,268.9L153.8,266.2M156.8,276.8L154.1,274.7M153.8,250.4L152.5,252.1M152.5,252.1L149.6,251.1M154.6,255.2L152.0,253.8M152.5,252.1L152.0,253.8M152.7,259.9L148.4,257.2M152.0,253.8L148.4,257.2M148.8,251.2L149.6,251.1M155.9,207.1L158.3,207.6M143.2,217.8L144.1,218.6M144.1,218.6L142.3,222.1M142.3,222.1L139.9,222.3M140.7,214.3L143.2,217.8M136.0,220.0L138.0,221.0M140.1,225.7L139.9,222.3M142.5,222.2L143.7,226.2M143.7,226.2L142.7,228.1M133.8,227.6L134.2,228.6M154.2,239.4L154.4,237.6M154.4,237.6L157.1,234.6M85.6,246.0L84.3,247.1M82.2,238.9L85.6,246.0M88.0,249.2L87.3,248.4M78.8,249.4L78.9,249.6M78.8,249.4L84.3,247.1M82.6,251.6L80.1,250.8M78.9,249.6L80.1,250.8M64.0,249.7L67.1,249.9M64.7,245.0L68.6,247.2M67.1,249.9L68.6,247.2M62.7,222.7L62.5,226.7M62.7,222.7L67.6,223.9M62.5,226.7L66.2,228.1M66.2,228.1L67.7,223.9M67.6,223.9L67.7,223.9M60.1,229.0L62.3,227.8M62.4,222.4L62.7,222.7M70.5,217.5L70.5,218.2M70.5,218.2L69.0,222.7M69.0,222.7L67.6,223.9M66.0,230.0L63.0,228.7M66.0,230.0L66.2,230.4M63.0,228.7L61.8,235.0M62.1,235.3L61.8,235.0M62.1,235.3L66.5,235.8M66.5,235.8L67.5,234.4M69.8,226.9L67.7,223.9M69.8,226.9L66.2,230.4M72.8,231.7L71.0,227.8M72.8,231.7L67.5,234.4M71.0,227.8L69.8,226.9M59.8,233.9L61.8,235.0M66.6,236.3L66.5,235.8M77.0,233.4L76.6,232.8M72.8,231.7L75.3,232.1M75.3,232.1L76.6,232.8M92.2,230.6L90.6,229.6M90.6,229.6L89.6,230.8M71.0,227.8L74.7,223.9M75.3,232.1L75.6,225.7M69.0,222.7L74.7,223.5M75.0,223.0L74.7,223.5M75.2,217.6L78.0,220.0M78.0,220.0L78.0,220.3M75.0,223.0L78.0,220.3M74.7,223.9L74.7,223.5M89.9,220.4L94.4,220.5M91.9,214.9L92.9,214.7M94.4,220.5L95.8,219.5M92.9,214.7L93.4,215.0M93.4,215.0L95.9,219.0M92.9,214.6L92.9,214.7M87.7,210.8L87.9,209.8M87.7,210.8L91.9,214.9M97.4,221.1L95.8,219.5M99.7,214.5L93.4,215.0M98.4,217.4L95.9,219.0M87.7,210.8L86.1,212.6M86.1,216.6L89.3,218.0M86.1,212.6L86.0,214.8M79.9,216.8L82.2,216.5M82.2,216.5L82.6,214.5M82.6,214.5L82.2,212.2M78.8,212.3L80.5,211.3M78.0,220.0L79.9,216.8M84.1,217.2L85.4,217.0M85.4,217.0L86.1,216.6M86.1,212.6L82.2,212.2M128.7,225.7L125.7,227.2M131.6,229.9L127.8,230.3M128.5,233.6L129.6,233.1M128.5,233.6L127.4,232.6M61.7,261.3L62.0,259.6M65.0,269.3L65.1,266.4M62.8,269.8L61.7,269.2M64.4,265.9L60.1,267.0M60.1,267.0L61.7,269.2M60.0,267.0L60.1,267.0M62.0,259.6L62.3,259.0M63.4,258.8L65.0,259.6M65.1,266.4L65.9,265.8M71.2,262.5L71.2,259.5M54.2,262.3L57.1,258.0M62.3,259.0L60.7,257.4M63.6,250.4L66.4,254.4M60.7,257.4L60.0,255.1M106.0,278.4L104.1,277.8M104.1,277.8L109.6,272.4M102.2,277.8L102.4,277.5M102.4,277.5L104.1,277.8M109.6,277.5L109.3,277.4M102.4,277.5L102.4,277.5M121.4,273.5L120.5,267.7M125.3,273.4L126.3,271.0M126.3,271.0L123.6,267.9M115.4,270.0L117.7,266.3M120.5,267.7L117.7,266.3M117.7,266.3L117.6,266.1M123.2,264.4L117.8,261.8M117.6,266.1L116.2,262.0M117.8,261.8L116.2,262.0M114.0,261.4L115.8,261.8M115.8,261.8L116.2,262.0M124.9,263.4L123.9,261.6M123.9,261.6L124.0,259.0M127.8,259.6L124.0,259.0M124.9,263.4L124.7,263.8M124.9,263.4L124.9,263.4M124.7,263.8L123.2,264.4M123.1,257.2L122.7,257.3M122.7,257.3L119.5,261.0M87.0,268.6L87.2,269.4M85.2,265.5L85.5,265.6M85.2,265.5L80.6,268.3M86.6,271.6L86.8,271.1M87.2,269.4L86.8,271.1M92.7,277.2L93.7,274.8M93.7,274.8L98.3,274.7M74.4,268.0L69.0,270.5M67.9,272.2L68.1,273.0M61.2,275.0L62.8,269.8M61.2,275.0L64.1,275.5M65.4,269.6L65.0,269.3M58.2,275.9L58.2,275.8M63.9,281.4L65.1,279.0M64.1,275.5L65.1,279.0M75.7,274.6L79.0,275.6M79.0,275.6L76.5,279.7M73.4,273.7L75.7,274.6M80.0,275.3L79.0,275.6M149.3,282.8L151.1,280.2M151.1,280.2L147.6,278.7M147.6,278.7L145.3,279.5M156.3,277.3L151.1,280.2M148.4,272.7L146.2,273.3M148.4,272.7L147.6,268.2M146.2,273.3L144.8,267.5M149.5,266.9L147.6,268.2M154.1,274.7L148.4,272.7M143.6,262.9L143.2,266.7M143.6,262.9L138.7,261.5M138.7,261.5L138.1,264.3M141.8,268.1L143.2,266.7M145.0,261.6L150.0,265.0M145.0,261.6L143.6,262.9M144.8,267.5L143.2,266.7M128.7,268.6L127.1,270.0M128.7,268.6L127.2,266.3M127.1,270.0L124.7,266.8M124.7,266.8L125.1,264.5M126.3,271.0L127.1,270.0M123.6,267.9L124.7,266.8M129.3,263.2L124.9,263.4M129.3,263.2L127.2,266.3M124.7,263.8L125.1,264.5M149.2,239.4L146.4,237.7M146.4,237.7L145.5,237.6M147.8,246.6L144.5,247.0M145.5,237.6L143.4,241.4M144.5,247.0L143.4,241.4M148.8,251.2L147.8,252.1M144.5,247.0L144.1,247.5M144.1,247.5L147.8,252.1M145.0,261.6L146.5,257.4M146.5,257.4L147.2,257.2M137.0,260.0L138.7,261.5M146.5,257.4L144.0,255.7M142.3,255.5L144.0,255.7M144.1,247.5L144.0,247.6M144.0,255.7L144.0,247.6M139.2,245.6L141.8,248.0M139.2,245.6L142.0,241.6M142.0,241.6L143.4,241.4M123.3,250.5L125.6,248.7M123.3,250.5L128.0,253.9M125.6,248.7L127.9,248.1M128.0,253.9L129.1,252.8M127.9,248.1L129.6,251.9M127.9,248.1L130.5,244.5M133.2,249.4L131.7,244.8M133.2,249.4L132.0,251.0M129.6,251.9L132.0,251.0M132.3,262.4L132.6,261.4M132.3,262.4L129.3,263.2M127.8,259.6L129.0,259.1M123.5,256.7L123.1,257.2M123.5,256.7L127.8,255.5M129.0,259.1L127.8,255.5M122.4,250.7L123.3,250.5M128.0,253.9L127.8,255.5M127.8,255.5L127.8,255.5M127.9,241.8L130.6,237.4M127.9,241.8L123.5,241.1M128.7,235.3L130.6,237.4M128.7,235.3L124.4,236.7M122.9,240.9L122.7,239.1M122.9,238.0L124.4,236.7M125.6,248.7L123.5,241.1M130.5,244.5L127.9,241.8M135.6,235.9L130.6,237.4M127.4,232.6L126.1,232.8M126.1,232.8L124.4,236.7M122.4,250.7L119.5,249.7M122.6,241.1L122.9,240.9M117.3,235.8L114.6,237.0M136.9,244.4L138.6,241.4M138.6,241.4L135.8,237.0M131.7,244.8L132.5,244.4M142.0,241.6L138.6,241.4M145.4,222.0L144.7,218.5M146.7,218.1L144.7,218.5M147.9,217.2L146.7,218.1M150.8,221.3L150.8,225.2M150.8,225.2L146.8,221.6M142.5,222.2L144.5,222.6M144.1,218.6L144.7,218.5M144.3,225.9L148.6,225.2M145.1,223.5L148.6,225.2M150.5,225.4L148.6,225.2M144.5,222.6L145.1,223.5M150.8,225.2L150.8,225.2M150.8,225.2L150.5,225.4M151.1,225.3L157.8,223.4M150.8,225.2L151.1,225.3M154.9,232.2L153.1,234.7M154.8,231.0L150.3,232.0M150.1,233.4L150.3,232.0M154.4,237.6L153.1,234.7M157.1,234.6L154.9,232.2M148.9,228.8L150.3,232.0M146.4,237.7L150.1,233.4M85.2,265.5L81.0,262.1M77.0,265.3L80.6,262.1M80.6,262.1L81.0,262.1M74.3,266.1L75.3,261.1M75.3,261.1L78.3,260.1M80.6,262.1L78.3,260.1M88.6,257.1L82.8,258.3M65.7,242.4L70.0,243.3M68.6,247.2L70.9,247.0M71.2,239.4L71.5,241.9M71.5,241.9L70.0,243.3M71.5,241.9L78.3,244.5M78.8,249.4L78.2,248.8M78.3,244.5L78.2,248.8M83.9,229.4L88.2,230.9M80.5,236.5L80.6,236.4M89.6,230.8L88.2,230.9M114.3,232.0L117.3,232.4M116.2,226.1L117.7,231.3M117.7,231.3L117.3,232.4M117.3,235.8L118.1,233.3M117.3,232.4L118.1,233.3M122.1,235.2L118.4,233.3M118.1,233.3L118.4,233.3M54.7,270.5L58.2,275.7M58.2,275.7L59.0,271.2M59.0,271.2L57.6,268.6M57.6,268.6L56.5,268.6M52.0,270.3L54.7,270.5M58.2,275.8L58.2,275.7M61.7,269.2L59.0,271.2M60.0,267.0L57.6,268.6M68.9,266.6L69.2,269.4M68.9,266.6L68.9,266.4M68.9,266.4L69.1,266.2M69.1,266.2L72.8,265.4M69.2,269.4L73.4,265.7M73.4,265.7L72.8,265.4M69.0,270.5L69.2,269.4M65.9,265.8L68.9,266.4M68.1,263.4L69.1,266.2M71.2,262.5L72.8,265.4M74.3,266.1L73.4,265.7M57.1,258.0L54.1,257.1M118.3,253.8L118.1,257.7M118.3,253.8L122.2,257.1M122.2,257.1L118.1,257.7M115.8,261.8L118.1,257.7M91.9,269.7L94.5,269.6M94.5,269.6L93.6,274.6M91.7,272.6L93.6,274.6M87.2,269.4L91.9,269.7M86.8,271.1L91.7,272.6M96.4,268.3L94.5,269.6M93.7,274.8L93.6,274.6M75.9,280.3L75.0,281.2M71.3,276.0L75.0,281.2M141.3,282.9L140.4,280.3M145.3,279.5L141.9,278.6M141.9,278.6L140.4,280.3M147.6,278.7L143.6,274.5M141.9,278.6L143.6,274.5M146.2,273.3L143.6,274.5M143.6,274.5L139.7,270.9M137.0,280.5L133.2,280.4M137.0,280.5L129.9,297.2M133.2,280.4L131.8,281.5M134.3,276.4L133.2,280.4M134.3,276.4L136.4,275.8M136.4,275.8L138.7,279.6M138.7,279.6L137.0,280.5M140.4,280.3L138.7,279.6M129.4,275.6L130.0,275.3M129.4,275.6L131.8,281.5M134.3,276.4L131.8,275.5M127.2,275.4L129.4,275.6M136.0,254.3L139.0,253.0M139.0,253.0L139.3,250.0M139.3,250.0L137.2,249.1M134.5,249.8L137.2,249.1M142.3,255.5L139.0,253.0M141.8,248.0L139.3,250.0M136.1,244.7L137.2,249.1M133.2,253.2L130.9,253.7M133.2,253.2L135.1,255.3M130.9,253.7L133.3,255.9M135.1,255.3L134.7,256.5M134.7,256.5L133.3,255.9M136.0,254.3L135.1,255.3M127.8,255.5L133.3,255.9M137.0,260.0L134.9,259.6M134.9,259.6L134.7,256.5M76.5,256.9L77.1,258.3M76.5,256.9L71.9,257.4M77.1,258.3L73.1,259.6M71.9,257.4L71.5,259.1M71.5,259.1L73.1,259.6M75.3,261.1L73.1,259.6M78.3,260.1L78.1,259.6M64.5,257.4L71.6,256.4M71.2,259.5L71.5,259.1M71.6,256.4L71.9,257.4M82.3,257.3L79.1,257.8M78.1,259.6L79.1,257.8M82.8,258.3L82.3,257.3M75.3,249.5L71.3,253.4M72.1,247.8L67.5,250.4M71.3,253.4L69.4,253.2M69.4,253.2L67.5,250.4M71.6,256.4L71.3,253.4M89.0,222.1L89.4,226.6M93.6,224.0L91.3,227.8M91.3,227.8L90.7,228.1M93.8,223.9L93.6,224.0M89.9,220.4L89.2,221.9M96.8,226.8L91.3,227.8M90.6,229.6L90.7,228.1M85.4,217.0L85.2,219.6M85.2,219.6L86.9,222.2M124.0,226.5L120.9,228.1M124.0,226.5L125.2,227.1M120.9,228.1L120.8,229.5M120.8,229.5L121.4,231.3M121.4,231.3L122.6,232.4M122.6,232.4L124.2,231.8M123.1,223.0L124.0,226.5M116.2,226.1L120.9,228.1M126.1,232.8L124.2,231.8M122.1,235.2L122.6,232.4M55.5,253.9L54.7,254.1M57.2,249.4L49.1,249.7M60.0,255.1L55.5,253.9M57.7,249.2L57.2,249.4M68.2,279.0L70.1,277.3M68.2,279.0L68.6,283.7M70.1,277.3L70.1,283.0M65.1,279.0L68.2,279.0M71.3,276.0L70.1,277.3M132.3,262.4L132.6,265.0M128.7,268.6L129.8,268.4M136.1,266.9L132.9,265.2M132.6,265.0L132.9,265.2M131.8,275.5L134.1,272.1M139.7,270.9L139.5,270.9M137.8,272.6L139.5,270.9M132.9,265.2L133.8,269.7M138.2,269.7L139.5,270.9M85.2,219.6L82.8,221.4M86.9,222.2L84.4,223.0M84.1,217.2L82.2,221.0M78.0,220.3L78.8,220.9M78.8,220.9L82.2,221.0M133.2,271.6L131.5,271.7M133.5,269.9L129.9,268.5M131.5,271.7L129.9,268.5M134.1,272.1L133.2,271.6M133.8,269.7L133.5,269.9M129.8,268.4L129.9,268.5M84.4,223.0L83.7,225.6M83.7,225.6L84.5,226.9M84.5,226.9L83.9,229.1M78.6,229.4L82.3,228.6M79.9,224.5L79.0,226.1M82.6,225.5L81.0,227.5M79.0,226.1L79.1,227.8M79.1,227.8L81.0,227.5M83.7,225.6L82.6,225.5M78.6,229.4L79.1,227.8" stroke="#de86c8" stroke-width="0.9" fill="none" opacity="0.55"/>
<g fill="#98207a" opacity="0.38"><circle cx="122.9" cy="233.6" r="0.53"/><circle cx="137.7" cy="269.5" r="0.77"/><circle cx="135.5" cy="264.4" r="0.74"/><circle cx="82.4" cy="265.2" r="0.91"/><circle cx="77.4" cy="268.3" r="0.52"/><circle cx="118.5" cy="241.6" r="0.71"/><circle cx="65.0" cy="249.1" r="0.79"/><circle cx="115.9" cy="216.9" r="0.54"/><circle cx="128.5" cy="236.1" r="0.63"/><circle cx="141.9" cy="273.4" r="0.90"/><circle cx="98.3" cy="262.1" r="0.58"/><circle cx="144.2" cy="225.2" r="0.75"/><circle cx="110.5" cy="253.7" r="0.54"/><circle cx="85.7" cy="256.2" r="0.88"/><circle cx="142.7" cy="262.1" r="0.52"/><circle cx="63.0" cy="216.9" r="0.75"/><circle cx="131.5" cy="273.3" r="0.78"/><circle cx="73.2" cy="275.4" r="0.61"/><circle cx="117.9" cy="212.0" r="0.77"/><circle cx="124.6" cy="238.1" r="0.90"/><circle cx="146.9" cy="232.4" r="0.76"/><circle cx="108.4" cy="221.6" r="0.53"/><circle cx="77.9" cy="217.9" r="0.72"/><circle cx="74.7" cy="264.0" r="0.73"/><circle cx="69.2" cy="209.4" r="0.52"/><circle cx="107.6" cy="208.3" r="0.52"/><circle cx="106.6" cy="247.1" r="0.78"/><circle cx="147.2" cy="211.0" r="0.79"/><circle cx="138.8" cy="231.2" r="0.94"/><circle cx="61.4" cy="211.7" r="0.74"/><circle cx="92.9" cy="213.4" r="0.57"/><circle cx="121.4" cy="236.9" r="0.56"/><circle cx="145.6" cy="268.1" r="0.78"/><circle cx="62.2" cy="225.9" r="0.57"/><circle cx="65.4" cy="264.5" r="0.75"/><circle cx="137.8" cy="248.4" r="0.57"/><circle cx="141.5" cy="220.4" r="0.86"/><circle cx="118.4" cy="209.2" r="0.94"/><circle cx="74.4" cy="223.4" r="0.72"/><circle cx="97.0" cy="217.3" r="0.71"/><circle cx="147.4" cy="245.2" r="0.56"/><circle cx="107.7" cy="208.8" r="0.82"/><circle cx="85.1" cy="249.6" r="0.82"/><circle cx="104.4" cy="271.4" r="0.83"/><circle cx="135.9" cy="223.4" r="0.66"/><circle cx="72.7" cy="239.1" r="0.92"/><circle cx="65.5" cy="269.9" r="0.53"/><circle cx="96.3" cy="218.1" r="0.54"/><circle cx="91.5" cy="262.4" r="0.85"/><circle cx="108.9" cy="230.2" r="0.52"/><circle cx="89.0" cy="211.8" r="0.66"/><circle cx="104.9" cy="255.6" r="0.79"/><circle cx="66.0" cy="245.4" r="0.94"/><circle cx="83.7" cy="266.6" r="0.77"/><circle cx="109.2" cy="248.7" r="0.74"/><circle cx="137.3" cy="230.0" r="0.73"/><circle cx="104.6" cy="268.4" r="0.90"/><circle cx="106.4" cy="214.8" r="0.54"/><circle cx="116.9" cy="252.7" r="0.81"/><circle cx="97.0" cy="241.1" r="0.63"/><circle cx="116.7" cy="219.2" r="0.62"/><circle cx="114.0" cy="252.8" r="0.68"/><circle cx="109.9" cy="239.8" r="0.61"/><circle cx="119.2" cy="246.3" r="0.59"/><circle cx="139.4" cy="225.7" r="0.75"/><circle cx="148.9" cy="258.3" r="0.82"/><circle cx="150.0" cy="233.4" r="0.82"/><circle cx="81.7" cy="237.1" r="0.69"/><circle cx="127.8" cy="259.9" r="0.86"/><circle cx="141.4" cy="271.9" r="0.64"/><circle cx="84.1" cy="251.0" r="0.65"/><circle cx="120.1" cy="249.8" r="0.91"/><circle cx="73.6" cy="263.4" r="0.54"/><circle cx="147.9" cy="214.7" r="0.63"/><circle cx="80.6" cy="229.6" r="0.58"/><circle cx="100.0" cy="247.7" r="0.93"/><circle cx="78.3" cy="256.1" r="0.94"/><circle cx="82.8" cy="217.9" r="0.67"/><circle cx="144.1" cy="244.6" r="0.86"/><circle cx="76.6" cy="237.1" r="0.79"/><circle cx="108.5" cy="215.6" r="0.51"/><circle cx="116.7" cy="237.4" r="0.62"/><circle cx="141.9" cy="230.9" r="0.93"/><circle cx="122.2" cy="255.3" r="0.66"/><circle cx="133.4" cy="238.3" r="0.57"/><circle cx="73.0" cy="275.3" r="0.92"/><circle cx="112.7" cy="273.6" r="0.60"/><circle cx="104.4" cy="232.4" r="0.58"/><circle cx="142.8" cy="257.4" r="0.92"/><circle cx="88.8" cy="214.0" r="0.53"/><circle cx="93.8" cy="247.8" r="0.54"/><circle cx="67.1" cy="248.2" r="0.69"/><circle cx="144.3" cy="209.0" r="0.51"/><circle cx="69.5" cy="229.6" r="0.80"/><circle cx="133.3" cy="222.1" r="0.87"/><circle cx="71.6" cy="255.7" r="0.53"/><circle cx="86.8" cy="211.2" r="0.56"/><circle cx="115.2" cy="208.2" r="0.54"/><circle cx="118.1" cy="239.2" r="0.93"/><circle cx="63.4" cy="232.8" r="0.60"/><circle cx="102.8" cy="247.2" r="0.60"/><circle cx="148.7" cy="256.9" r="0.68"/><circle cx="63.6" cy="231.4" r="0.94"/><circle cx="147.9" cy="267.2" r="0.89"/><circle cx="82.5" cy="217.4" r="0.66"/><circle cx="88.0" cy="275.3" r="0.84"/><circle cx="138.3" cy="234.9" r="0.56"/><circle cx="75.9" cy="275.1" r="0.78"/><circle cx="101.2" cy="252.5" r="0.68"/><circle cx="112.8" cy="259.2" r="0.93"/><circle cx="115.6" cy="228.7" r="0.72"/><circle cx="129.6" cy="224.2" r="0.52"/><circle cx="61.4" cy="209.1" r="0.60"/><circle cx="127.4" cy="216.4" r="0.82"/><circle cx="116.0" cy="210.5" r="0.53"/><circle cx="140.3" cy="268.1" r="0.71"/><circle cx="123.0" cy="240.9" r="0.54"/><circle cx="92.2" cy="270.5" r="0.74"/><circle cx="81.8" cy="230.0" r="0.84"/><circle cx="74.0" cy="273.4" r="0.89"/><circle cx="141.2" cy="221.9" r="0.63"/><circle cx="81.3" cy="274.3" r="0.52"/><circle cx="150.9" cy="243.3" r="0.71"/><circle cx="108.5" cy="263.4" r="0.65"/><circle cx="142.9" cy="235.2" r="0.90"/><circle cx="109.7" cy="271.7" r="0.62"/><circle cx="122.8" cy="246.5" r="0.52"/><circle cx="101.3" cy="264.1" r="0.95"/><circle cx="144.1" cy="248.9" r="0.67"/><circle cx="79.7" cy="271.3" r="0.93"/><circle cx="124.7" cy="214.9" r="0.74"/><circle cx="101.8" cy="213.2" r="0.88"/><circle cx="59.6" cy="238.7" r="0.88"/><circle cx="123.1" cy="261.7" r="0.58"/><circle cx="75.4" cy="233.8" r="0.66"/><circle cx="119.8" cy="219.7" r="0.75"/><circle cx="120.6" cy="264.2" r="0.94"/><circle cx="137.9" cy="220.9" r="0.92"/><circle cx="133.0" cy="260.4" r="0.91"/><circle cx="101.3" cy="246.3" r="0.66"/><circle cx="75.4" cy="234.4" r="0.81"/><circle cx="100.1" cy="226.0" r="0.88"/><circle cx="135.5" cy="255.6" r="0.66"/><circle cx="80.1" cy="224.5" r="0.60"/><circle cx="81.6" cy="275.2" r="0.67"/><circle cx="94.4" cy="271.2" r="0.79"/><circle cx="74.0" cy="232.9" r="0.74"/><circle cx="126.3" cy="270.8" r="0.58"/><circle cx="75.1" cy="236.6" r="0.69"/><circle cx="87.2" cy="214.6" r="0.78"/><circle cx="129.2" cy="254.3" r="0.80"/><circle cx="127.3" cy="242.3" r="0.89"/><circle cx="150.0" cy="223.4" r="0.89"/><circle cx="85.1" cy="226.4" r="0.69"/><circle cx="140.2" cy="271.3" r="0.93"/><circle cx="82.9" cy="267.9" r="0.63"/><circle cx="119.7" cy="222.7" r="0.74"/><circle cx="134.0" cy="219.7" r="0.77"/><circle cx="62.1" cy="247.8" r="0.93"/><circle cx="87.7" cy="217.3" r="0.62"/><circle cx="97.6" cy="235.0" r="0.88"/><circle cx="146.2" cy="226.9" r="0.52"/><circle cx="120.1" cy="226.9" r="0.85"/><circle cx="68.4" cy="232.5" r="0.89"/><circle cx="70.2" cy="233.9" r="0.55"/><circle cx="115.6" cy="214.7" r="0.77"/><circle cx="63.7" cy="231.1" r="0.67"/><circle cx="118.4" cy="259.6" r="0.70"/><circle cx="92.1" cy="245.4" r="0.78"/><circle cx="148.8" cy="245.9" r="0.82"/><circle cx="86.0" cy="248.1" r="0.92"/><circle cx="80.8" cy="244.1" r="0.54"/><circle cx="81.4" cy="241.3" r="0.80"/><circle cx="117.5" cy="264.0" r="0.89"/><circle cx="149.0" cy="213.2" r="0.74"/><circle cx="97.4" cy="272.5" r="0.88"/><circle cx="123.5" cy="245.9" r="0.74"/><circle cx="97.0" cy="253.2" r="0.59"/><circle cx="121.0" cy="264.4" r="0.89"/><circle cx="78.4" cy="251.3" r="0.63"/><circle cx="124.5" cy="214.6" r="0.64"/><circle cx="120.1" cy="241.2" r="0.79"/><circle cx="84.1" cy="224.6" r="0.75"/><circle cx="142.3" cy="226.8" r="0.67"/><circle cx="134.7" cy="247.7" r="0.80"/><circle cx="94.4" cy="221.7" r="0.89"/><circle cx="96.0" cy="232.9" r="0.56"/><circle cx="112.0" cy="256.2" r="0.59"/><circle cx="114.6" cy="246.1" r="0.69"/><circle cx="88.9" cy="238.7" r="0.73"/><circle cx="137.7" cy="215.6" r="0.91"/><circle cx="136.2" cy="266.5" r="0.58"/><circle cx="112.9" cy="262.8" r="0.93"/><circle cx="131.3" cy="217.6" r="0.71"/><circle cx="67.3" cy="233.9" r="0.65"/><circle cx="77.4" cy="235.2" r="0.69"/><circle cx="150.8" cy="269.6" r="0.90"/><circle cx="141.3" cy="211.8" r="0.92"/><circle cx="140.4" cy="242.2" r="0.68"/><circle cx="123.7" cy="271.8" r="0.80"/><circle cx="88.9" cy="255.1" r="0.77"/><circle cx="68.9" cy="236.8" r="0.60"/><circle cx="151.0" cy="223.6" r="0.72"/><circle cx="69.5" cy="268.4" r="0.78"/><circle cx="72.6" cy="235.7" r="0.81"/><circle cx="128.9" cy="215.0" r="0.81"/><circle cx="99.1" cy="267.1" r="0.53"/><circle cx="79.9" cy="258.1" r="0.62"/><circle cx="96.6" cy="275.4" r="0.84"/><circle cx="117.5" cy="266.3" r="0.67"/><circle cx="138.8" cy="268.8" r="0.79"/><circle cx="63.3" cy="222.9" r="0.58"/><circle cx="129.5" cy="249.2" r="0.59"/><circle cx="77.4" cy="268.2" r="0.93"/><circle cx="150.7" cy="233.3" r="0.94"/><circle cx="137.5" cy="255.8" r="0.60"/><circle cx="148.9" cy="267.6" r="0.72"/><circle cx="61.6" cy="239.9" r="0.84"/><circle cx="132.9" cy="209.6" r="0.91"/><circle cx="112.6" cy="244.3" r="0.84"/><circle cx="71.9" cy="228.1" r="0.62"/><circle cx="108.2" cy="213.4" r="0.85"/><circle cx="127.2" cy="248.3" r="0.71"/><circle cx="109.6" cy="261.2" r="0.66"/><circle cx="138.9" cy="246.3" r="0.64"/><circle cx="134.3" cy="209.8" r="0.79"/><circle cx="62.0" cy="218.2" r="0.86"/><circle cx="130.0" cy="228.3" r="0.51"/><circle cx="71.3" cy="232.0" r="0.84"/><circle cx="72.8" cy="271.5" r="0.90"/><circle cx="138.2" cy="274.2" r="0.54"/><circle cx="79.1" cy="235.3" r="0.80"/><circle cx="63.9" cy="273.9" r="0.86"/><circle cx="110.0" cy="244.2" r="0.89"/><circle cx="144.3" cy="212.7" r="0.56"/><circle cx="115.3" cy="208.8" r="0.72"/><circle cx="85.2" cy="249.0" r="0.63"/><circle cx="103.3" cy="227.6" r="0.55"/><circle cx="135.7" cy="274.9" r="0.75"/><circle cx="68.1" cy="234.2" r="0.54"/><circle cx="120.8" cy="263.1" r="0.61"/><circle cx="111.3" cy="267.1" r="0.52"/><circle cx="110.5" cy="246.6" r="0.66"/><circle cx="79.0" cy="234.4" r="0.70"/><circle cx="88.2" cy="252.2" r="0.92"/><circle cx="128.5" cy="232.8" r="0.80"/><circle cx="135.8" cy="266.1" r="0.94"/><circle cx="129.0" cy="242.5" r="0.92"/><circle cx="116.1" cy="230.2" r="0.92"/><circle cx="65.6" cy="265.3" r="0.84"/><circle cx="74.3" cy="236.9" r="0.79"/><circle cx="62.1" cy="244.0" r="0.68"/><circle cx="96.6" cy="254.1" r="0.82"/><circle cx="136.7" cy="266.9" r="0.59"/><circle cx="95.4" cy="251.2" r="0.84"/><circle cx="69.4" cy="225.6" r="0.54"/><circle cx="83.6" cy="242.7" r="0.93"/><circle cx="150.8" cy="225.1" r="0.94"/><circle cx="98.5" cy="220.4" r="0.76"/><circle cx="68.8" cy="224.5" r="0.70"/></g>
<ellipse cx="112" cy="243" rx="20" ry="25" fill="#e0a0d8" opacity="0.45" filter="url(#blur3)"/>
<g fill="#6a2a80" opacity="0.45"><circle cx="115.3" cy="267.8" r="0.61"/><circle cx="128.4" cy="226.9" r="0.65"/><circle cx="132.6" cy="253.1" r="0.65"/><circle cx="116.0" cy="242.2" r="0.80"/><circle cx="118.3" cy="245.5" r="0.54"/><circle cx="111.6" cy="224.6" r="0.77"/><circle cx="132.3" cy="267.1" r="0.66"/><circle cx="100.9" cy="263.8" r="0.52"/><circle cx="131.5" cy="238.0" r="0.52"/><circle cx="110.4" cy="254.5" r="0.70"/><circle cx="105.6" cy="232.4" r="0.76"/><circle cx="101.0" cy="233.6" r="0.78"/><circle cx="114.3" cy="269.2" r="0.71"/><circle cx="128.5" cy="249.0" r="0.68"/><circle cx="127.4" cy="267.0" r="0.55"/><circle cx="108.7" cy="235.3" r="0.55"/><circle cx="93.8" cy="220.1" r="0.77"/><circle cx="114.5" cy="237.6" r="0.56"/><circle cx="119.9" cy="271.2" r="0.70"/><circle cx="105.9" cy="243.2" r="0.56"/><circle cx="102.9" cy="256.1" r="0.51"/><circle cx="100.4" cy="271.8" r="0.63"/><circle cx="115.9" cy="248.0" r="0.66"/><circle cx="115.9" cy="232.5" r="0.63"/><circle cx="117.9" cy="222.4" r="0.67"/><circle cx="130.2" cy="223.8" r="0.61"/><circle cx="129.6" cy="222.7" r="0.78"/><circle cx="103.0" cy="231.3" r="0.70"/><circle cx="118.6" cy="239.1" r="0.67"/><circle cx="115.1" cy="228.8" r="0.65"/><circle cx="126.4" cy="239.7" r="0.54"/><circle cx="104.3" cy="241.1" r="0.72"/><circle cx="107.0" cy="252.6" r="0.75"/><circle cx="133.3" cy="230.0" r="0.63"/><circle cx="128.7" cy="221.0" r="0.68"/><circle cx="116.5" cy="269.0" r="0.63"/><circle cx="101.3" cy="236.7" r="0.56"/><circle cx="100.8" cy="267.1" r="0.52"/><circle cx="128.8" cy="225.6" r="0.67"/><circle cx="112.4" cy="256.8" r="0.72"/><circle cx="105.0" cy="250.4" r="0.52"/><circle cx="114.0" cy="259.9" r="0.60"/><circle cx="120.6" cy="241.3" r="0.50"/><circle cx="101.9" cy="271.8" r="0.77"/><circle cx="104.7" cy="236.2" r="0.72"/><circle cx="133.9" cy="250.1" r="0.64"/><circle cx="113.6" cy="251.6" r="0.76"/><circle cx="109.6" cy="228.6" r="0.53"/><circle cx="121.7" cy="225.8" r="0.75"/><circle cx="104.5" cy="239.9" r="0.78"/><circle cx="108.5" cy="246.0" r="0.52"/><circle cx="115.5" cy="268.6" r="0.59"/><circle cx="126.1" cy="255.9" r="0.77"/><circle cx="106.1" cy="229.7" r="0.79"/><circle cx="121.6" cy="259.6" r="0.72"/><circle cx="125.3" cy="227.5" r="0.76"/><circle cx="125.9" cy="231.9" r="0.68"/><circle cx="94.8" cy="236.9" r="0.64"/><circle cx="95.2" cy="264.8" r="0.50"/><circle cx="93.7" cy="245.9" r="0.53"/><circle cx="92.9" cy="226.5" r="0.69"/><circle cx="93.0" cy="227.6" r="0.57"/><circle cx="112.0" cy="253.9" r="0.74"/><circle cx="131.7" cy="223.5" r="0.62"/><circle cx="110.9" cy="267.8" r="0.79"/><circle cx="124.8" cy="239.4" r="0.71"/><circle cx="102.3" cy="263.9" r="0.53"/><circle cx="131.7" cy="261.4" r="0.68"/><circle cx="104.6" cy="267.7" r="0.68"/><circle cx="104.0" cy="225.0" r="0.75"/><circle cx="108.1" cy="242.2" r="0.65"/><circle cx="106.8" cy="252.1" r="0.69"/><circle cx="107.3" cy="237.9" r="0.69"/><circle cx="126.9" cy="265.5" r="0.72"/><circle cx="104.2" cy="245.1" r="0.67"/><circle cx="107.1" cy="233.1" r="0.70"/><circle cx="103.9" cy="231.0" r="0.57"/><circle cx="96.4" cy="236.2" r="0.57"/><circle cx="122.8" cy="226.5" r="0.76"/><circle cx="101.8" cy="254.0" r="0.71"/><circle cx="111.0" cy="254.2" r="0.66"/><circle cx="127.2" cy="235.8" r="0.59"/><circle cx="115.3" cy="222.3" r="0.68"/><circle cx="132.0" cy="264.0" r="0.59"/><circle cx="106.1" cy="237.4" r="0.61"/><circle cx="109.4" cy="234.2" r="0.53"/><circle cx="98.1" cy="228.9" r="0.55"/><circle cx="125.8" cy="264.7" r="0.75"/><circle cx="102.2" cy="270.9" r="0.76"/><circle cx="125.0" cy="252.5" r="0.51"/><circle cx="116.6" cy="248.5" r="0.61"/><circle cx="99.4" cy="258.0" r="0.69"/><circle cx="115.8" cy="221.7" r="0.54"/><circle cx="108.1" cy="239.3" r="0.56"/><circle cx="125.3" cy="229.2" r="0.61"/><circle cx="105.4" cy="220.5" r="0.50"/><circle cx="96.2" cy="243.0" r="0.71"/><circle cx="133.0" cy="238.5" r="0.65"/><circle cx="127.9" cy="222.8" r="0.70"/><circle cx="122.3" cy="226.9" r="0.52"/><circle cx="118.1" cy="223.8" r="0.77"/><circle cx="98.4" cy="236.7" r="0.54"/><circle cx="92.2" cy="267.3" r="0.80"/><circle cx="94.9" cy="229.4" r="0.74"/><circle cx="114.4" cy="234.2" r="0.76"/><circle cx="103.5" cy="270.6" r="0.52"/><circle cx="120.2" cy="229.9" r="0.69"/><circle cx="109.1" cy="221.5" r="0.52"/><circle cx="116.7" cy="226.0" r="0.69"/><circle cx="115.9" cy="251.5" r="0.67"/><circle cx="129.4" cy="227.7" r="0.61"/><circle cx="94.7" cy="248.5" r="0.69"/><circle cx="97.4" cy="260.1" r="0.77"/><circle cx="112.9" cy="236.1" r="0.69"/><circle cx="110.4" cy="238.4" r="0.74"/><circle cx="130.7" cy="229.4" r="0.78"/><circle cx="133.0" cy="257.2" r="0.64"/><circle cx="94.7" cy="259.3" r="0.61"/><circle cx="92.4" cy="253.6" r="0.64"/><circle cx="125.1" cy="235.5" r="0.74"/><circle cx="109.1" cy="229.6" r="0.58"/><circle cx="128.1" cy="242.9" r="0.62"/><circle cx="108.0" cy="269.4" r="0.62"/><circle cx="110.2" cy="245.7" r="0.65"/><circle cx="118.7" cy="234.2" r="0.69"/><circle cx="117.1" cy="237.9" r="0.60"/><circle cx="93.7" cy="272.0" r="0.52"/><circle cx="111.1" cy="265.0" r="0.53"/><circle cx="101.0" cy="251.3" r="0.79"/><circle cx="96.9" cy="228.4" r="0.65"/><circle cx="132.4" cy="235.1" r="0.72"/><circle cx="115.5" cy="265.3" r="0.53"/><circle cx="93.7" cy="259.4" r="0.76"/><circle cx="108.9" cy="227.5" r="0.69"/><circle cx="96.9" cy="264.3" r="0.56"/><circle cx="125.8" cy="228.1" r="0.55"/><circle cx="113.3" cy="249.3" r="0.76"/><circle cx="127.4" cy="238.5" r="0.62"/><circle cx="127.7" cy="225.5" r="0.67"/><circle cx="101.1" cy="257.1" r="0.62"/><circle cx="122.9" cy="241.9" r="0.65"/><circle cx="104.1" cy="222.8" r="0.63"/><circle cx="98.8" cy="264.5" r="0.70"/><circle cx="114.8" cy="265.1" r="0.64"/><circle cx="105.6" cy="229.3" r="0.77"/><circle cx="105.6" cy="243.6" r="0.52"/><circle cx="123.9" cy="228.1" r="0.68"/><circle cx="106.9" cy="251.3" r="0.71"/><circle cx="113.7" cy="228.9" r="0.54"/><circle cx="94.6" cy="237.6" r="0.57"/><circle cx="109.1" cy="241.1" r="0.51"/><circle cx="109.3" cy="230.3" r="0.72"/><circle cx="103.4" cy="237.8" r="0.53"/><circle cx="116.7" cy="266.2" r="0.74"/><circle cx="92.6" cy="230.1" r="0.58"/><circle cx="132.5" cy="236.7" r="0.68"/><circle cx="119.7" cy="269.6" r="0.55"/><circle cx="131.8" cy="265.3" r="0.70"/><circle cx="97.3" cy="254.0" r="0.71"/><circle cx="112.2" cy="237.0" r="0.60"/><circle cx="94.6" cy="270.3" r="0.79"/><circle cx="128.3" cy="234.9" r="0.76"/><circle cx="117.9" cy="240.3" r="0.74"/><circle cx="116.9" cy="252.4" r="0.57"/><circle cx="102.9" cy="222.3" r="0.79"/><circle cx="104.6" cy="254.2" r="0.60"/><circle cx="128.0" cy="240.9" r="0.68"/><circle cx="116.5" cy="244.0" r="0.56"/><circle cx="95.3" cy="232.4" r="0.75"/><circle cx="113.8" cy="264.2" r="0.73"/></g>
<path d="M106.8,224.5 L111.6,224.2 L110.6,228.6 L108.7,234.4 L107.8,240.2 L108.2,246 L109.2,250.8 L108.7,254.1 L93.8,252.7 L93.3,249.8 L97.2,244 L100.5,239.2 L103.4,234.4 Z" fill="#e4e8cc" stroke="#eed0e4" stroke-width="1.6"/>
</g></g>
<g clip-path="url(#clL2)"><g filter="url(#soft)">
<rect x="57.5" y="275.5" width="95.50" height="71.70" fill="#c646aa"/>
<rect x="59.5" y="277.5" width="91.50" height="67.70" filter="url(#livD)" opacity="0.7"/>
<rect x="59.5" y="277.5" width="91.50" height="67.70" filter="url(#livLt)" opacity="0.8"/>
<path d="M157.7,340.0L154.8,338.6M154.8,338.6L156.6,335.7M68.8,290.0L67.8,295.9M71.9,293.6L67.8,295.9M158.3,348.0L155.6,345.9M155.6,345.9L157.8,340.3M154.8,338.6L154.5,338.7M154.5,338.7L153.3,344.9M105.1,276.5L104.0,277.9M104.0,277.9L104.7,283.6M104.7,283.6L105.6,283.5M105.6,283.5L110.1,277.9M114.1,273.6L116.5,271.1M112.9,274.0L111.2,273.0M109.7,283.9L112.5,279.4M109.7,283.9L105.6,283.5M112.5,279.4L111.7,277.9M111.7,277.9L110.1,277.9M104.5,274.0L106.3,272.4M106.3,272.4L109.8,272.9M112.9,274.0L111.7,277.9M109.8,272.9L110.2,272.8M110.2,272.8L108.1,269.5M97.3,280.0L100.2,284.0M97.3,280.0L99.3,277.0M104.7,283.6L102.5,286.1M99.9,277.0L99.3,277.0M102.5,286.1L100.2,284.0M127.4,269.9L128.4,272.6M128.4,272.6L138.3,269.3M147.8,269.1L139.9,272.6M138.3,269.3L139.9,272.6M150.7,271.0L152.0,274.4M152.5,274.6L152.0,274.4M155.4,291.5L155.6,285.7M155.4,291.5L156.1,291.8M155.6,285.7L158.6,285.2M153.5,291.2L152.7,292.2M156.0,294.6L153.2,297.3M153.2,297.3L150.8,297.0M49.6,293.1L54.7,295.3M53.0,298.9L54.7,295.3M153.2,344.9L151.5,350.0M153.2,344.9L150.9,344.6M150.9,344.6L150.2,345.9M152.4,350.0L151.5,350.0M55.2,281.4L54.5,281.6M55.2,281.4L54.7,277.6M58.6,274.4L60.9,280.6M58.6,274.4L57.1,274.2M58.7,282.4L60.9,280.6M58.7,282.4L55.2,281.4M59.9,263.1L56.4,273.7M57.1,274.2L56.4,273.7M59.6,262.0L54.7,272.7M54.7,272.7L53.2,272.5M68.6,279.2L62.5,280.5M62.5,280.5L61.9,280.5M60.9,280.6L61.9,280.5M63.5,271.8L63.9,273.3M58.7,282.4L58.8,285.2M65.3,285.8L64.5,286.4M65.3,285.8L62.5,280.5M58.8,285.2L64.5,286.4M72.7,292.3L75.9,292.1M75.9,292.1L76.1,290.6M76.1,290.6L74.8,288.8M74.8,288.8L69.3,287.3M65.3,285.8L69.2,286.0M64.5,286.4L62.9,291.5M104.5,274.0L103.8,273.2M99.9,277.0L100.8,273.7M103.8,273.2L100.8,273.7M99.3,277.0L97.3,274.9M98.5,270.2L100.8,273.7M97.4,272.2L97.3,274.9M97.4,272.2L94.5,272.5M111.8,304.1L111.8,304.6M111.8,304.1L112.1,303.6M111.8,304.6L114.4,309.4M114.4,309.4L120.6,305.0M120.6,305.0L112.1,303.6M106.9,292.0L109.6,292.3M106.9,292.0L111.8,286.4M109.6,292.3L113.2,290.5M114.8,288.3L113.2,290.5M114.8,288.3L114.7,288.2M114.7,288.2L111.8,286.4M123.5,325.9L124.1,326.8M124.1,326.8L123.9,330.7M117.7,329.9L120.1,325.6M79.4,295.5L82.6,288.1M79.4,295.5L84.9,292.5M84.9,292.5L83.2,288.7M82.6,288.1L83.2,288.7M119.9,272.6L119.4,272.7M147.6,348.6L147.8,343.4M150.9,344.6L148.7,343.0M155.5,312.7L165.6,316.0M155.5,312.7L155.2,312.8M155.2,312.8L155.2,315.2M165.6,316.0L155.2,315.2M155.0,317.8L155.2,315.2M154.5,338.7L153.1,338.2M156.1,333.0L155.1,332.6M148.3,271.3L146.5,274.0M146.5,274.0L148.4,274.8M152.0,274.4L151.3,274.5M151.3,274.5L150.4,274.3M142.6,275.2L146.5,274.0M142.6,275.2L146.1,277.0M148.4,274.8L148.5,277.0M148.5,277.0L146.1,277.0M148.5,277.0L148.9,277.4M152.8,278.6L154.7,280.2M155.6,285.7L152.4,284.4M154.7,280.2L152.4,284.4M149.3,287.2L152.3,284.5M152.3,284.5L152.4,284.4M155.5,312.7L157.4,310.6M157.3,307.5L155.1,305.8M153.2,297.3L155.4,300.2M150.2,297.4L153.6,301.6M155.2,312.8L151.5,310.8M155.1,305.8L154.3,305.8M151.5,310.8L154.3,305.8M54.9,309.5L53.6,309.3M54.9,309.5L59.6,314.3M55.6,316.1L49.3,312.2M55.6,316.1L54.6,319.1M53.5,289.5L55.9,290.0M54.7,295.3L55.4,294.7M62.9,291.5L62.3,291.9M58.2,289.1L62.3,291.9M67.7,347.8L61.3,345.6M61.3,345.6L59.9,347.7M77.9,352.3L75.3,347.1M67.8,347.8L67.7,347.8M117.7,329.9L116.5,330.1M120.1,325.6L116.4,324.7M116.4,324.7L115.5,325.9M116.5,330.1L115.5,325.9M112.5,325.0L112.6,325.3M116.4,324.7L116.0,322.4M112.6,325.3L115.5,325.9M80.2,351.2L82.1,345.9M83.6,346.2L84.9,348.5M84.9,348.5L83.2,350.7M53.4,344.8L60.5,343.0M60.5,343.0L60.5,342.6M56.0,338.9L59.7,342.3M61.3,345.6L60.5,343.0M59.6,305.9L61.0,308.8M59.6,314.3L61.0,314.5M61.6,315.2L61.1,314.5M61.6,315.2L57.7,321.9M54.6,319.1L55.2,320.6M61.0,314.5L61.1,314.5M63.6,297.0L66.3,297.6M63.6,297.0L61.7,303.8M61.7,303.8L64.3,304.6M64.3,304.6L67.5,302.6M68.6,279.2L69.1,279.3M69.2,286.0L70.3,284.1M69.1,279.3L70.1,281.2M70.3,284.1L70.1,281.2M103.8,273.2L102.9,270.3M96.9,275.0L94.4,274.0M94.4,274.0L91.8,276.9M97.3,274.9L96.9,275.0M97.3,280.0L91.7,280.2M91.4,279.3L91.7,280.2M90.7,272.1L91.8,276.9M86.5,270.6L85.4,273.6M85.4,273.6L87.0,277.5M87.0,277.5L91.4,279.3M111.2,293.7L114.3,294.2M114.3,294.2L115.2,295.0M115.2,295.0L112.5,297.8M109.6,292.3L111.2,293.7M113.2,290.5L114.3,294.2M118.4,290.4L114.8,288.3M118.4,290.4L118.4,292.0M115.2,295.0L115.4,294.9M115.4,294.9L118.4,292.0M124.5,292.5L124.8,297.1M124.5,292.5L118.9,292.5M124.3,297.9L124.8,297.1M124.3,297.9L121.5,296.5M121.5,296.5L118.9,292.5M119.5,289.5L122.0,288.3M119.5,289.5L118.4,290.4M124.6,292.1L122.0,288.3M124.6,292.1L124.5,292.5M123.1,302.9L121.3,304.9M112.1,303.6L112.2,303.5M112.2,303.5L119.8,301.5M119.5,289.5L117.8,283.3M114.7,288.2L116.4,284.9M117.8,283.3L116.4,284.9M111.1,285.2L113.6,283.5M111.1,285.2L111.8,286.4M109.7,283.9L111.1,285.2M112.5,279.4L115.4,280.4M115.4,280.4L113.6,283.5M120.5,324.4L120.7,325.2M116.0,322.4L116.1,322.1M119.9,323.4L116.1,322.1M120.8,310.7L121.3,304.9M120.8,310.7L116.5,311.1M114.6,310.4L115.0,310.8M116.5,311.1L115.0,310.8M79.7,321.4L78.3,321.9M74.1,317.5L75.6,320.3M78.3,321.9L75.6,320.3M79.9,316.6L74.9,316.6M88.4,299.1L83.0,301.2M80.9,299.1L79.3,295.7M79.3,295.7L79.4,295.5M88.9,297.7L88.3,294.3M83.0,301.2L82.5,301.1M86.1,292.5L88.3,294.3M122.7,284.5L121.7,282.2M122.7,284.5L122.0,288.3M122.0,288.3L122.0,288.3M117.8,283.3L118.7,281.7M115.4,280.4L117.6,280.5M117.6,280.5L118.7,281.7M117.6,280.5L117.8,277.8M152.0,337.7L149.8,340.0M149.8,340.0L148.7,341.2M134.4,309.0L133.7,309.5M134.4,309.0L133.7,306.2M133.7,306.2L133.5,305.5M133.5,305.5L130.8,303.4M127.1,303.2L125.9,310.8M133.7,309.5L125.9,310.8M120.8,310.7L123.0,312.6M123.1,302.9L125.0,302.1M123.0,312.6L125.7,311.2M125.0,302.1L127.1,303.2M133.7,309.5L131.8,311.5M125.7,311.2L128.1,313.0M131.8,311.5L128.1,313.0M125.1,322.2L123.5,325.9M125.1,322.2L124.5,321.1M120.5,324.4L122.9,320.4M124.5,321.1L122.9,320.4M119.9,323.4L119.9,321.4M119.9,321.4L122.9,320.3M122.9,320.4L122.9,320.3M155.0,317.8L153.7,319.0M163.9,326.3L155.0,325.6M155.1,332.6L153.9,331.9M153.9,331.9L151.3,334.2M152.0,337.7L151.3,336.4M149.8,340.0L147.2,336.4M151.3,336.4L147.2,336.4M111.8,324.4L111.5,322.4M111.8,324.4L108.9,326.0M107.4,322.5L111.5,322.4M111.8,324.4L112.5,325.0M116.1,322.1L115.3,319.4M115.3,319.4L112.2,320.8M149.4,278.3L147.7,279.9M149.4,278.3L151.9,278.7M151.9,278.7L149.9,281.1M149.9,281.1L147.2,281.2M147.2,281.2L147.7,279.9M148.9,277.4L149.4,278.3M146.1,277.0L147.7,279.9M152.8,278.6L151.9,278.7M152.3,284.5L149.9,281.1M147.7,306.0L152.7,303.6M147.7,306.0L147.0,302.5M147.0,302.5L147.2,302.3M147.2,302.3L150.2,301.6M152.7,303.0L152.7,303.6M150.2,297.4L150.0,297.4M150.0,297.4L150.2,301.6M57.5,303.1L55.8,303.8M57.5,303.1L59.8,304.8M59.8,304.8L59.6,305.9M53.4,307.4L55.8,303.8M56.0,295.0L62.4,292.9M56.0,295.0L58.9,297.4M59.3,297.5L58.9,297.4M55.4,294.7L56.0,295.0M62.3,291.9L62.4,292.9M53.8,299.2L58.9,297.4M57.3,302.6L53.8,299.2M57.3,302.6L59.3,297.5M67.8,295.9L66.7,297.5M66.7,297.5L66.3,297.6M89.5,317.7L91.8,317.6M94.4,321.8L92.6,317.7M96.0,313.7L102.0,318.9M94.3,316.1L94.4,315.2M94.3,316.1L97.6,319.7M92.2,314.2L94.4,315.2M92.2,314.2L91.8,317.6M55.2,320.6L52.0,323.8M70.9,324.3L68.1,329.0M70.9,324.3L73.2,324.4M73.4,327.5L74.1,325.7M73.2,324.4L74.1,325.7M68.9,335.3L68.8,335.3M68.9,335.3L73.1,334.4M66.8,330.2L68.1,329.0M66.8,330.2L67.6,333.0M73.1,334.4L75.6,331.4M75.6,331.4L73.4,327.5M68.8,335.3L67.6,333.0M78.4,326.3L74.1,325.7M78.4,326.3L78.3,321.9M75.6,320.3L73.2,324.4M57.7,321.9L58.0,322.5M58.0,322.5L56.4,326.7M56.5,326.8L56.4,326.7M56.5,326.8L54.7,330.3M54.3,330.5L54.7,330.3M83.6,346.2L84.0,345.7M82.1,345.9L79.1,342.5M84.0,345.7L85.8,341.9M85.8,341.9L80.7,341.1M80.7,341.1L79.1,342.5M76.4,344.2L75.3,347.1M78.3,342.7L79.1,342.5M75.0,335.6L80.7,336.2M80.7,341.1L81.1,337.7M81.1,337.7L80.7,336.2M69.7,337.6L68.7,344.7M69.7,337.6L73.6,341.9M73.6,341.9L68.7,344.7M68.9,335.3L69.7,337.6M67.8,347.8L68.7,344.7M76.4,344.2L73.6,341.9M84.0,345.7L89.2,346.1M89.2,346.1L88.1,341.6M84.9,348.5L89.7,347.5M89.2,346.1L89.7,347.5M102.4,319.8L99.9,326.3M106.3,324.8L105.5,326.5M99.9,326.3L105.5,326.5M102.4,319.8L102.1,318.9M99.9,326.3L98.8,328.0M65.3,307.0L64.6,309.0M65.3,307.0L61.4,308.8M61.4,308.8L64.6,309.0M65.5,306.7L65.3,307.0M65.5,306.7L69.9,308.2M69.5,310.2L65.3,310.6M70.1,309.2L69.9,308.2M65.3,310.6L64.6,309.0M64.3,304.6L65.5,306.7M61.1,314.5L65.3,310.6M71.9,293.6L71.7,298.0M66.7,297.5L67.6,297.7M71.7,298.0L67.6,297.7M78.7,295.4L72.3,298.4M71.7,298.0L72.3,298.4M70.1,281.2L76.1,280.8M72.4,284.8L77.3,284.1M74.1,286.9L78.3,284.9M76.1,290.6L79.4,285.6M79.4,285.6L78.3,284.9M86.7,290.0L88.3,288.4M88.3,288.4L87.0,287.0M87.0,287.0L82.0,285.4M78.7,295.4L79.3,295.7M79.4,285.6L81.9,285.2M82.0,285.4L81.9,285.2M85.4,273.6L83.7,274.3M78.7,270.3L80.7,273.1M83.7,274.3L80.7,273.1M118.7,297.2L116.4,296.3M117.6,299.8L116.1,299.6M115.4,294.9L116.4,296.3M121.5,296.5L118.7,297.2M125.0,302.1L124.3,297.9M112.1,300.0L112.5,297.8M112.5,301.4L116.1,299.6M112.2,303.5L112.5,301.4M83.7,308.7L84.4,304.4M84.5,311.1L88.4,307.1M84.4,304.4L88.4,307.1M88.4,299.1L92.2,301.6M93.3,304.0L92.9,306.6M83.0,301.2L84.4,304.4M90.9,308.1L88.4,307.1M89.5,317.7L85.9,315.1M90.4,320.3L87.4,323.0M87.4,323.0L84.4,320.7M85.9,315.1L85.4,315.6M92.2,314.2L90.6,313.1M89.3,312.6L86.0,314.9M85.9,315.1L86.0,314.9M90.9,308.1L90.6,309.3M86.0,314.9L84.5,311.4M79.7,321.4L83.9,321.0M79.9,316.6L83.1,315.4M83.9,321.0L84.4,320.7M85.4,315.6L83.1,315.4M89.5,288.5L91.3,290.4M89.5,288.5L92.1,283.1M91.3,290.4L97.8,291.3M97.8,291.3L92.7,283.7M92.1,283.1L92.7,283.7M88.3,294.3L91.3,290.4M88.3,288.4L89.5,288.5M87.0,287.0L89.0,282.4M99.0,291.9L97.8,291.3M101.5,298.4L105.7,299.7M99.5,295.6L100.0,296.7M99.5,295.6L99.4,292.0M101.6,290.4L99.4,292.0M106.5,292.1L107.6,295.1M107.6,295.1L107.8,297.7M107.8,297.7L105.7,299.7M107.1,303.3L102.5,306.0M107.1,303.3L105.7,299.7M93.3,304.0L97.5,303.3M97.5,303.3L100.0,296.7M99.0,291.9L99.4,292.0M102.5,286.1L101.6,290.4M112.1,300.0L107.8,297.7M111.8,304.1L107.1,303.3M119.9,272.6L122.1,275.4M119.4,272.7L119.3,275.5M122.1,275.4L119.3,275.5M117.8,277.8L119.1,276.4M126.0,279.7L128.3,274.4M123.1,280.8L122.3,277.1M122.3,277.1L122.8,275.9M125.5,273.9L128.3,273.3M128.3,274.4L128.4,273.7M121.7,282.2L123.1,280.8M122.1,275.4L122.8,275.9M128.4,272.6L128.3,273.3M133.5,335.8L130.9,333.0M132.9,332.3L130.9,333.0M135.0,334.2L134.6,335.1M138.3,337.5L133.9,339.1M136.3,329.5L137.3,333.8M136.3,329.5L132.9,332.3M137.3,333.8L135.0,334.2M144.7,344.7L146.9,349.5M146.9,349.5L146.9,349.6M141.3,347.9L141.4,348.7M147.6,348.6L146.9,349.5M144.8,344.4L147.8,343.4M127.1,326.5L130.0,328.1M130.0,328.1L133.3,325.6M124.1,326.8L127.1,326.5M127.9,322.3L128.4,323.1M123.9,330.7L128.3,333.3M128.3,333.3L128.9,332.9M136.3,329.5L137.5,326.4M128.9,332.9L130.9,333.0M137.5,326.4L135.8,324.9M135.8,324.9L133.3,325.6M131.8,311.5L131.1,315.9M128.1,313.0L128.8,316.1M127.9,322.3L129.2,320.1M126.9,317.4L127.8,317.3M126.9,317.4L122.6,315.2M127.8,317.3L128.8,316.1M129.2,320.1L133.0,320.4M135.7,324.4L133.0,320.4M144.3,306.7L142.4,305.0M144.3,306.7L143.2,307.8M142.4,305.0L140.9,306.5M140.9,306.5L141.0,307.2M121.7,316.2L122.5,319.4M122.5,319.4L119.0,320.4M119.3,316.7L116.8,318.5M119.0,320.4L116.8,318.5M122.6,315.2L121.7,316.2M122.9,320.3L122.5,319.4M115.0,310.8L115.0,316.0M115.0,316.0L115.3,318.2M115.3,318.2L115.7,318.7M115.7,318.7L116.8,318.5M115.3,319.4L115.7,318.7M148.6,328.9L148.6,331.5M148.6,328.9L151.9,326.8M153.1,326.9L151.9,326.8M148.6,331.5L148.8,332.4M131.0,339.6L131.9,340.0M133.7,339.3L131.9,340.0M130.4,346.6L132.3,345.1M130.4,346.6L136.0,351.2M136.0,351.2L136.0,348.1M136.0,348.1L132.6,345.2M132.3,345.1L132.6,345.2M126.9,342.0L126.3,342.6M126.9,342.0L126.2,336.2M123.1,340.7L121.9,338.0M126.2,336.2L121.9,338.0M128.0,334.7L126.2,336.2M131.0,339.6L126.9,342.0M115.1,338.7L120.3,337.4M120.3,337.4L121.9,338.0M115.2,340.3L119.6,345.6M119.6,345.6L123.1,340.7M130.4,346.6L127.1,348.0M126.3,342.6L126.8,347.8M127.1,348.0L126.8,347.8M127.1,348.0L128.7,353.4M102.1,318.9L102.1,318.8M102.1,318.8L106.3,317.2M109.4,319.8L106.3,317.2M142.4,305.0L142.3,303.7M140.9,306.5L140.6,306.3M140.6,306.3L139.3,302.9M142.3,303.7L139.3,302.9M144.3,306.7L146.1,306.5M146.1,306.5L143.2,303.0M147.5,306.6L147.7,306.0M143.9,302.1L143.2,303.0M133.7,306.2L140.6,306.3M133.5,305.5L138.5,302.4M122.7,284.5L127.3,285.4M130.4,283.5L128.9,284.9M127.3,285.4L128.9,284.9M127.3,285.4L126.2,288.5M130.4,283.5L132.1,283.1M128.3,274.4L132.6,281.7M132.6,281.7L132.1,283.1M143.9,302.1L139.5,300.7M138.5,302.4L139.0,300.9M139.0,300.9L139.5,300.7M130.8,303.4L133.2,297.9M138.1,298.8L133.2,297.9M130.1,294.0L133.2,296.8M55.8,303.8L52.5,303.4M93.0,306.7L94.3,311.7M93.0,306.7L95.7,308.3M95.7,308.3L96.1,312.4M96.1,312.4L94.7,312.1M92.9,306.6L93.0,306.7M90.6,309.3L94.3,311.7M96.2,312.5L96.0,313.7M90.6,313.1L94.7,312.1M102.5,306.1L103.7,309.6M99.5,311.7L102.0,312.2M96.2,312.5L99.5,311.7M103.7,309.6L105.0,309.9M107.3,309.6L105.0,309.9M114.6,310.4L110.8,312.5M107.3,309.6L110.8,312.5M105.0,309.9L108.2,315.7M115.0,316.0L110.2,313.9M110.8,312.5L110.2,313.9M69.2,313.0L65.7,315.2M69.2,313.0L72.9,317.5M72.9,317.5L70.6,318.9M61.6,315.2L61.9,315.4M69.5,310.2L69.2,313.0M61.9,315.4L63.5,315.6M63.5,315.6L65.7,315.2M74.1,317.5L72.9,317.5M74.7,310.5L76.3,311.4M74.7,310.5L70.1,309.2M74.9,316.6L76.3,311.4M68.9,320.8L68.7,320.9M68.9,320.8L70.6,318.9M68.7,320.9L63.5,315.6M68.9,320.8L70.9,324.3M61.6,323.2L64.1,326.6M64.1,326.6L67.0,321.8M64.3,327.8L64.1,326.6M64.3,327.8L61.6,328.4M61.6,328.4L56.5,326.8M58.0,322.5L61.6,323.2M61.9,315.4L62.9,319.6M68.7,320.9L67.0,321.8M59.2,331.5L57.2,331.5M59.2,331.5L60.0,333.8M57.2,331.5L57.3,335.1M60.0,333.8L59.0,335.6M59.0,335.6L57.3,335.1M61.6,328.4L59.2,331.5M54.7,330.3L57.2,331.5M67.6,333.0L60.0,333.8M61.4,340.9L59.0,335.6M54.2,330.8L55.5,335.4M52.5,336.1L55.1,335.8M56.0,338.9L55.1,335.8M93.6,324.9L92.7,325.4M92.7,325.4L89.0,325.8M87.4,323.0L88.7,325.6M89.0,325.8L88.7,325.6M83.9,321.0L82.2,327.3M88.7,325.6L82.2,327.3M92.6,335.3L93.7,335.4M88.1,341.2L89.5,337.1M93.7,335.4L93.7,335.4M80.7,336.2L81.2,335.1M83.2,334.1L81.2,335.1M88.9,334.1L90.4,335.6M89.0,325.8L87.9,331.0M99.0,328.7L98.8,328.0M99.0,328.7L93.7,335.4M88.0,341.4L88.1,341.2M88.1,341.6L93.4,343.5M94.3,343.2L93.4,343.5M105.4,327.6L102.8,331.1M105.4,327.6L110.1,330.4M104.1,333.4L107.7,334.9M107.7,334.9L111.3,334.3M111.3,334.3L111.7,333.1M110.1,330.4L111.7,333.1M111.7,333.1L111.7,333.1M99.0,328.7L102.8,331.1M105.5,326.5L105.4,327.6M108.9,326.0L110.1,330.4M115.1,338.7L112.9,336.7M116.5,330.1L111.7,333.1M112.9,336.7L111.3,334.3M112.6,325.3L111.7,333.1M70.6,301.5L72.7,301.4M73.2,304.1L70.4,306.4M73.0,301.8L72.7,301.4M70.4,306.4L67.8,302.8M67.6,297.7L70.6,301.5M67.5,302.6L67.8,302.8M74.8,304.8L74.7,310.5M74.8,304.8L73.2,304.1M69.9,308.2L70.4,306.4M80.9,299.1L73.0,301.8M74.8,304.8L78.8,305.0M82.5,301.1L78.8,305.0M87.0,277.5L83.7,279.4M89.0,282.4L87.8,282.5M83.7,279.4L87.8,282.5M81.9,285.2L82.1,284.6M80.2,276.8L81.3,277.2M80.2,276.8L77.0,276.6M77.0,276.6L76.8,279.6M76.8,279.6L82.1,281.2M81.3,277.2L82.7,279.7M80.7,273.1L80.2,276.8M78.7,270.3L76.2,275.7M76.2,275.7L77.0,276.6M76.1,280.8L76.8,279.6M82.1,284.6L82.1,281.2M83.7,279.4L82.7,279.7M81.5,310.8L79.3,309.1M78.4,309.0L79.3,309.1M78.4,309.0L76.7,311.2M84.5,311.4L81.5,310.8M83.1,315.4L79.7,312.8M83.7,308.7L79.3,309.1M76.3,311.4L76.7,311.2M136.6,351.7L140.8,349.7M140.8,349.7L141.5,352.7M134.4,309.0L135.0,309.6M139.1,310.7L141.0,307.2M139.1,310.7L138.2,310.8M139.1,310.7L140.9,311.3M143.2,307.8L143.1,310.8M140.9,311.3L143.1,310.8M141.6,326.9L144.7,322.2M135.7,324.4L138.7,318.4M141.6,326.9L142.0,327.4M142.0,327.4L148.6,328.9M151.9,326.8L146.3,321.0M144.7,322.2L146.3,321.0M142.6,331.8L144.2,332.0M148.8,332.4L147.7,333.3M144.2,332.0L147.7,333.3M136.1,342.3L139.0,343.1M134.2,344.5L138.6,345.2M139.0,343.1L138.6,345.2M138.6,345.2L138.6,345.2M141.2,340.6L144.8,344.4M141.2,340.6L139.0,343.1M138.6,345.2L141.3,347.9M119.6,345.6L119.6,345.7M126.8,347.8L123.9,347.9M119.6,345.7L123.9,347.9M112.0,320.6L109.9,315.6M108.5,315.6L109.4,315.2M109.9,315.6L109.4,315.2M112.2,320.8L112.0,320.6M109.4,319.8L110.9,320.1M115.3,318.2L109.9,315.6M108.2,315.7L108.5,315.6M137.9,282.4L136.0,277.8M140.3,280.3L141.6,277.5M136.2,277.4L140.4,274.7M136.2,277.4L136.0,277.8M140.9,275.2L140.4,274.7M132.6,281.7L136.0,277.8M142.6,275.2L140.9,275.2M143.5,298.2L142.5,295.9M143.5,298.2L148.0,297.8M142.5,295.9L142.8,293.7M147.6,294.2L145.3,291.9M148.0,297.8L148.8,297.2M143.5,298.3L143.5,298.2M138.8,297.2L142.5,295.9M147.2,302.3L148.0,297.8M149.3,287.2L149.2,287.2M147.2,281.2L145.9,282.6M145.9,282.6L149.2,287.2M145.9,282.6L145.3,282.4M145.3,291.9L145.9,290.0M132.4,287.6L131.5,288.4M133.7,290.9L131.4,291.6M131.5,288.4L131.4,291.6M77.8,330.2L80.4,333.5M80.4,333.5L82.6,330.3M79.4,327.8L81.9,327.8M81.9,327.8L82.4,328.4M82.4,328.4L82.6,330.2M82.6,330.3L82.6,330.2M75.6,331.4L77.8,330.2M81.2,335.1L80.4,333.5M78.4,326.3L79.4,327.8M83.2,334.1L82.6,330.3M87.9,331.0L82.4,328.4M86.8,334.0L82.6,330.2M97.1,342.3L98.6,345.0M97.1,342.3L95.4,343.7M95.4,344.2L95.4,343.7M95.4,344.2L97.8,345.5M97.1,342.3L98.5,339.8M98.6,345.0L100.9,345.4M100.9,345.4L98.5,339.8M98.1,337.9L98.6,339.0M107.7,334.9L104.5,341.3M104.5,341.3L98.6,339.0M94.3,343.2L95.4,343.7M98.6,339.0L98.5,339.8M71.9,272.6L73.3,275.8M71.9,272.6L73.8,271.0M73.9,271.0L75.6,275.6M75.6,275.6L73.3,275.8M69.3,278.9L73.3,275.8M68.7,271.1L71.9,272.6M141.1,349.5L141.0,349.5M141.1,349.5L145.3,352.1M141.0,349.5L143.3,352.6M141.4,348.7L141.1,349.5M140.8,349.7L141.0,349.5M134.8,312.1L132.0,316.3M135.7,316.3L133.3,317.6M132.0,316.3L133.3,317.6M138.7,317.2L135.7,316.3M138.7,317.2L138.2,310.8M135.0,309.6L134.8,312.1M131.1,315.9L132.0,316.3M138.7,317.2L138.8,317.3M138.7,318.4L138.8,317.3M141.5,313.9L141.6,316.2M143.1,313.7L143.7,316.7M140.9,311.3L141.5,313.9M143.8,316.7L145.9,311.7M149.0,318.5L149.1,311.0M149.0,310.9L145.9,311.7M145.9,311.7L145.9,311.7M146.3,321.0L146.6,320.1M143.7,316.7L143.8,316.7M143.1,313.7L145.9,311.7M153.7,319.0L149.0,318.5M147.5,306.6L149.0,310.9M143.1,310.8L145.9,311.7M137.3,333.8L139.6,336.6M142.5,332.6L139.6,336.6M138.3,337.5L139.5,337.2M141.3,339.7L139.5,337.2M139.5,337.2L139.6,336.6M123.9,347.9L122.2,350.2M116.8,348.7L118.1,350.6M118.8,356.1L114.2,349.3M116.8,348.7L114.3,349.0M114.3,349.0L114.2,349.3M133.4,284.3L135.6,285.2M133.4,284.3L132.4,287.6M134.1,290.9L135.6,285.2M141.2,287.0L142.1,284.6M137.5,283.5L136.0,285.3M137.5,283.5L140.5,283.3M136.0,285.3L136.1,285.4M139.0,291.0L136.7,291.6M139.0,291.0L139.9,287.4M142.8,293.7L141.5,293.1M145.9,290.0L141.2,287.0M145.3,282.4L142.1,284.6M133.4,284.3L132.1,283.1M137.9,282.4L137.5,283.5M135.6,285.2L136.0,285.3M140.3,280.3L140.5,283.3M134.1,290.9L136.0,292.0M136.0,292.0L136.7,291.6M129.1,286.5L127.0,289.6M129.1,286.5L129.6,288.4M127.3,290.5L127.0,289.6M126.2,288.5L127.0,289.6M131.5,288.4L129.6,288.4M130.2,292.3L128.9,290.9M124.6,292.1L127.3,290.5M130.1,294.0L130.2,292.3M115.2,340.3L111.7,345.7M114.3,349.0L111.8,346.0M111.7,345.7L111.8,346.0M144.8,334.4L143.6,338.9M147.1,336.4L145.8,338.6M147.2,336.4L147.1,336.4M148.7,341.2L145.8,338.6M138.3,296.5L135.6,294.5M138.3,296.5L139.0,294.4M139.0,294.4L135.9,293.7M135.6,294.5L135.9,293.7M138.8,297.2L138.3,296.5M133.2,296.8L135.6,294.5M141.5,293.1L139.0,294.4M136.0,292.0L135.9,293.7M97.8,345.5L97.0,348.7M99.7,349.1L101.3,345.6M112.9,336.7L106.1,344.8M111.7,345.7L106.7,345.5M106.1,344.8L105.5,344.4M95.4,344.2L94.4,347.6M94.4,347.6L90.2,347.8M97.0,348.7L96.3,348.9M89.7,347.5L90.0,347.8M101.7,350.8L100.0,349.4M99.7,349.1L100.0,349.4M106.7,345.5L106.5,346.8M106.5,346.8L102.0,350.7M100.0,349.4L95.9,356.6M90.0,347.8L89.9,351.0M106.9,348.4L104.3,351.2M106.5,346.8L106.9,348.4" stroke="#da7cc6" stroke-width="0.9" fill="none" opacity="0.55"/>
<g fill="#98207a" opacity="0.38"><circle cx="83.7" cy="336.3" r="0.61"/><circle cx="88.3" cy="336.1" r="0.51"/><circle cx="73.8" cy="327.6" r="0.67"/><circle cx="110.3" cy="335.0" r="0.84"/><circle cx="77.8" cy="331.1" r="0.76"/><circle cx="144.4" cy="318.1" r="0.51"/><circle cx="118.8" cy="324.8" r="0.83"/><circle cx="98.1" cy="278.6" r="0.88"/><circle cx="79.1" cy="293.5" r="0.69"/><circle cx="87.0" cy="342.5" r="0.95"/><circle cx="125.2" cy="309.3" r="0.66"/><circle cx="85.8" cy="334.8" r="0.88"/><circle cx="125.7" cy="333.8" r="0.57"/><circle cx="65.8" cy="325.8" r="0.54"/><circle cx="133.6" cy="292.2" r="0.93"/><circle cx="77.6" cy="312.0" r="0.61"/><circle cx="129.2" cy="332.9" r="0.82"/><circle cx="113.0" cy="313.1" r="0.95"/><circle cx="115.0" cy="328.5" r="0.77"/><circle cx="133.3" cy="279.6" r="0.54"/><circle cx="123.5" cy="311.9" r="0.80"/><circle cx="125.3" cy="317.8" r="0.55"/><circle cx="73.7" cy="297.2" r="0.76"/><circle cx="111.8" cy="312.6" r="0.76"/><circle cx="131.5" cy="285.3" r="0.59"/><circle cx="61.5" cy="280.1" r="0.62"/><circle cx="96.0" cy="280.1" r="0.59"/><circle cx="92.0" cy="330.2" r="0.66"/><circle cx="104.5" cy="316.0" r="0.61"/><circle cx="105.5" cy="329.1" r="0.94"/><circle cx="109.3" cy="300.2" r="0.71"/><circle cx="62.8" cy="327.2" r="0.77"/><circle cx="138.3" cy="290.3" r="0.84"/><circle cx="128.1" cy="291.6" r="0.69"/><circle cx="101.6" cy="312.7" r="0.66"/><circle cx="79.2" cy="317.1" r="0.59"/><circle cx="134.9" cy="293.0" r="0.76"/><circle cx="115.3" cy="317.2" r="0.69"/><circle cx="121.1" cy="302.2" r="0.83"/><circle cx="134.7" cy="334.5" r="0.90"/><circle cx="101.4" cy="323.5" r="0.50"/><circle cx="97.8" cy="316.7" r="0.82"/><circle cx="109.0" cy="329.0" r="0.52"/><circle cx="114.6" cy="339.2" r="0.71"/><circle cx="128.8" cy="324.7" r="0.86"/><circle cx="74.1" cy="294.0" r="0.81"/><circle cx="149.1" cy="291.3" r="0.93"/><circle cx="70.8" cy="296.3" r="0.75"/><circle cx="93.0" cy="308.6" r="0.65"/><circle cx="127.7" cy="333.3" r="0.94"/><circle cx="138.7" cy="299.0" r="0.88"/><circle cx="95.7" cy="279.1" r="0.78"/><circle cx="74.0" cy="314.7" r="0.63"/><circle cx="69.8" cy="292.0" r="0.94"/><circle cx="128.6" cy="280.6" r="0.63"/><circle cx="106.6" cy="310.1" r="0.55"/><circle cx="83.5" cy="286.1" r="0.56"/><circle cx="97.7" cy="294.3" r="0.89"/><circle cx="75.9" cy="291.3" r="0.81"/><circle cx="82.2" cy="289.2" r="0.88"/><circle cx="101.2" cy="279.6" r="0.57"/><circle cx="134.4" cy="311.4" r="0.51"/><circle cx="64.6" cy="281.2" r="0.90"/><circle cx="120.9" cy="323.7" r="0.86"/><circle cx="148.2" cy="296.0" r="0.53"/><circle cx="67.0" cy="304.9" r="0.87"/><circle cx="96.3" cy="317.7" r="0.90"/><circle cx="129.5" cy="342.1" r="0.53"/><circle cx="93.4" cy="283.3" r="0.82"/><circle cx="136.2" cy="295.5" r="0.67"/><circle cx="105.2" cy="339.9" r="0.65"/><circle cx="86.8" cy="304.0" r="0.63"/><circle cx="143.5" cy="318.0" r="0.88"/><circle cx="83.1" cy="322.0" r="0.73"/><circle cx="144.3" cy="291.1" r="0.69"/><circle cx="100.5" cy="297.5" r="0.57"/><circle cx="134.3" cy="315.3" r="0.81"/><circle cx="78.8" cy="292.3" r="0.82"/><circle cx="69.6" cy="295.3" r="0.62"/><circle cx="71.1" cy="282.4" r="0.69"/><circle cx="76.5" cy="312.5" r="0.85"/><circle cx="73.5" cy="329.6" r="0.73"/><circle cx="150.2" cy="321.2" r="0.56"/><circle cx="92.1" cy="301.4" r="0.51"/><circle cx="147.9" cy="296.2" r="0.62"/><circle cx="131.1" cy="336.5" r="0.80"/><circle cx="87.5" cy="289.3" r="0.57"/><circle cx="108.3" cy="292.4" r="0.80"/><circle cx="106.1" cy="335.2" r="0.63"/><circle cx="109.9" cy="340.4" r="0.73"/><circle cx="86.7" cy="289.1" r="0.83"/><circle cx="92.7" cy="293.2" r="0.53"/><circle cx="88.3" cy="307.1" r="0.51"/><circle cx="103.6" cy="323.5" r="0.66"/><circle cx="131.0" cy="278.1" r="0.82"/><circle cx="134.8" cy="284.7" r="0.61"/><circle cx="149.4" cy="322.7" r="0.74"/><circle cx="91.8" cy="311.6" r="0.61"/><circle cx="151.0" cy="333.0" r="0.76"/><circle cx="77.1" cy="325.1" r="0.76"/><circle cx="82.1" cy="279.7" r="0.73"/><circle cx="72.3" cy="303.9" r="0.77"/><circle cx="76.2" cy="313.2" r="0.93"/><circle cx="140.6" cy="310.1" r="0.72"/><circle cx="112.7" cy="334.1" r="0.80"/><circle cx="98.3" cy="322.6" r="0.91"/><circle cx="113.4" cy="316.4" r="0.87"/><circle cx="112.7" cy="299.2" r="0.86"/><circle cx="112.0" cy="328.2" r="0.86"/><circle cx="135.5" cy="289.7" r="0.70"/><circle cx="126.5" cy="340.6" r="0.75"/><circle cx="108.2" cy="304.6" r="0.63"/><circle cx="134.7" cy="290.0" r="0.66"/><circle cx="71.5" cy="291.0" r="0.67"/><circle cx="108.1" cy="299.6" r="0.52"/><circle cx="122.8" cy="314.1" r="0.63"/><circle cx="68.6" cy="285.4" r="0.87"/><circle cx="149.7" cy="324.7" r="0.71"/><circle cx="148.4" cy="316.0" r="0.62"/><circle cx="144.3" cy="291.5" r="0.69"/><circle cx="139.2" cy="320.2" r="0.64"/><circle cx="102.2" cy="344.4" r="0.70"/><circle cx="116.9" cy="291.5" r="0.89"/><circle cx="112.3" cy="280.4" r="0.75"/><circle cx="86.6" cy="336.8" r="0.74"/><circle cx="124.3" cy="345.1" r="0.52"/><circle cx="121.5" cy="289.3" r="0.75"/><circle cx="110.1" cy="283.9" r="0.72"/><circle cx="130.7" cy="327.8" r="0.55"/><circle cx="122.2" cy="332.7" r="0.91"/><circle cx="117.5" cy="313.9" r="0.75"/><circle cx="139.7" cy="345.0" r="0.94"/><circle cx="61.7" cy="302.4" r="0.53"/><circle cx="145.9" cy="305.8" r="0.89"/><circle cx="133.2" cy="294.3" r="0.70"/><circle cx="68.2" cy="283.2" r="0.88"/><circle cx="107.5" cy="299.4" r="0.93"/><circle cx="120.2" cy="284.8" r="0.85"/><circle cx="132.2" cy="283.6" r="0.70"/><circle cx="59.5" cy="281.2" r="0.59"/><circle cx="145.1" cy="326.3" r="0.93"/><circle cx="96.2" cy="286.5" r="0.57"/><circle cx="116.8" cy="297.5" r="0.77"/><circle cx="135.0" cy="301.1" r="0.66"/><circle cx="111.3" cy="337.1" r="0.80"/><circle cx="115.0" cy="303.7" r="0.68"/><circle cx="121.0" cy="283.1" r="0.80"/><circle cx="60.7" cy="319.9" r="0.63"/><circle cx="119.6" cy="288.2" r="0.72"/><circle cx="62.3" cy="334.9" r="0.85"/><circle cx="117.3" cy="283.9" r="0.93"/><circle cx="84.5" cy="341.8" r="0.51"/><circle cx="134.7" cy="319.8" r="0.71"/><circle cx="150.1" cy="327.2" r="0.95"/><circle cx="105.4" cy="286.8" r="0.78"/><circle cx="91.2" cy="323.1" r="0.63"/><circle cx="95.4" cy="297.1" r="0.86"/><circle cx="113.9" cy="341.7" r="0.70"/><circle cx="90.2" cy="336.9" r="0.61"/><circle cx="148.1" cy="313.7" r="0.67"/><circle cx="139.9" cy="341.1" r="0.93"/><circle cx="128.7" cy="295.6" r="0.85"/><circle cx="112.4" cy="292.6" r="0.67"/><circle cx="141.6" cy="299.7" r="0.70"/><circle cx="87.3" cy="310.5" r="0.78"/><circle cx="60.8" cy="337.7" r="0.76"/><circle cx="72.1" cy="342.9" r="0.65"/><circle cx="116.7" cy="324.4" r="0.68"/><circle cx="132.7" cy="308.7" r="0.89"/><circle cx="144.6" cy="298.9" r="0.77"/><circle cx="93.1" cy="335.6" r="0.87"/><circle cx="68.3" cy="317.7" r="0.58"/><circle cx="84.9" cy="336.6" r="0.64"/><circle cx="122.9" cy="304.6" r="0.51"/><circle cx="130.7" cy="283.5" r="0.57"/><circle cx="147.4" cy="341.2" r="0.65"/><circle cx="91.2" cy="304.5" r="0.53"/><circle cx="109.6" cy="341.2" r="0.61"/><circle cx="109.8" cy="334.9" r="0.54"/><circle cx="150.4" cy="328.9" r="0.88"/><circle cx="144.2" cy="314.9" r="0.89"/><circle cx="78.2" cy="304.8" r="0.77"/><circle cx="77.8" cy="279.6" r="0.77"/><circle cx="145.3" cy="343.6" r="0.84"/><circle cx="117.0" cy="331.9" r="0.89"/><circle cx="96.3" cy="319.6" r="0.87"/><circle cx="100.3" cy="277.8" r="0.67"/><circle cx="69.3" cy="280.6" r="0.87"/><circle cx="68.2" cy="290.4" r="0.54"/><circle cx="67.6" cy="291.2" r="0.83"/><circle cx="69.0" cy="336.2" r="0.93"/><circle cx="81.8" cy="333.6" r="0.86"/><circle cx="68.7" cy="292.7" r="0.88"/><circle cx="79.5" cy="316.7" r="0.73"/><circle cx="149.2" cy="313.9" r="0.89"/><circle cx="91.3" cy="277.8" r="0.86"/><circle cx="119.4" cy="312.8" r="0.67"/><circle cx="130.1" cy="296.2" r="0.92"/><circle cx="76.5" cy="319.9" r="0.80"/><circle cx="117.6" cy="343.0" r="0.51"/><circle cx="73.1" cy="280.7" r="0.56"/><circle cx="78.3" cy="303.2" r="0.62"/><circle cx="122.2" cy="280.9" r="0.68"/><circle cx="83.6" cy="336.7" r="0.50"/><circle cx="147.1" cy="337.3" r="0.77"/><circle cx="140.3" cy="319.4" r="0.86"/><circle cx="126.2" cy="283.9" r="0.57"/><circle cx="115.4" cy="334.2" r="0.62"/><circle cx="93.6" cy="291.7" r="0.55"/><circle cx="134.0" cy="311.7" r="0.80"/><circle cx="80.2" cy="285.4" r="0.75"/><circle cx="75.3" cy="333.9" r="0.69"/><circle cx="78.6" cy="344.8" r="0.67"/><circle cx="109.5" cy="288.4" r="0.76"/><circle cx="60.9" cy="343.4" r="0.61"/><circle cx="136.2" cy="328.5" r="0.72"/><circle cx="100.3" cy="288.3" r="0.54"/><circle cx="96.4" cy="327.5" r="0.85"/><circle cx="146.0" cy="324.7" r="0.82"/><circle cx="83.4" cy="344.2" r="0.84"/><circle cx="76.3" cy="333.2" r="0.90"/><circle cx="117.6" cy="309.9" r="0.89"/><circle cx="99.6" cy="289.3" r="0.84"/><circle cx="84.9" cy="333.0" r="0.54"/><circle cx="123.1" cy="319.6" r="0.80"/><circle cx="120.3" cy="283.1" r="0.83"/><circle cx="137.9" cy="304.3" r="0.54"/><circle cx="101.0" cy="338.7" r="0.83"/><circle cx="137.8" cy="320.7" r="0.73"/><circle cx="75.4" cy="325.6" r="0.63"/><circle cx="129.7" cy="305.4" r="0.93"/><circle cx="105.6" cy="298.0" r="0.95"/><circle cx="60.7" cy="338.8" r="0.58"/><circle cx="90.3" cy="278.4" r="0.85"/><circle cx="143.2" cy="327.9" r="0.73"/><circle cx="72.6" cy="321.0" r="0.82"/><circle cx="110.2" cy="330.3" r="0.94"/><circle cx="133.4" cy="312.0" r="0.68"/><circle cx="106.7" cy="304.6" r="0.71"/><circle cx="120.3" cy="303.5" r="0.54"/></g>
<path d="M120,295.5 Q135,292.8 152,292.3 L152,300.5 Q135,299.5 120,296.5Z" fill="#ece6d4" opacity="0.9" filter="url(#blur1)"/>
<ellipse cx="113.5" cy="308" rx="5.6" ry="8.2" fill="#e4e6c8" stroke="#f0c8e4" stroke-width="1.4"/>
</g></g>
<g clip-path="url(#clU0)"><g filter="url(#soft)">
<rect x="150.8" y="135" width="95.80" height="72.00" fill="#ede9b6"/>
<path d="M169.3,192.8L170.6,201.0M169.3,192.8L175.7,191.1M177.4,191.1L175.7,191.1M177.4,191.1L179.5,192.2M179.5,192.2L180.1,194.3M180.1,194.3L170.6,201.0M125.6,172.2L148.5,178.4M152.9,162.5L155.2,167.6M169.3,192.8L166.5,188.1M175.7,191.1L171.9,184.5M171.9,184.5L166.5,188.1M235.1,135.1L242.6,131.6M148.5,178.4L151.9,183.3M170.4,201.9L164.7,201.8M164.7,201.8L161.3,204.1M226.4,183.4L219.3,176.2M226.4,183.4L222.0,187.2M222.0,187.2L220.4,187.4M212.7,178.7L214.8,185.7M212.7,178.7L218.7,174.6M218.7,174.6L219.3,176.2M214.8,185.7L218.4,188.4M218.4,188.4L220.4,187.4M181.5,176.6L181.0,174.5M181.5,176.6L193.1,176.3M181.0,174.5L187.9,169.4M187.9,169.4L194.1,174.2M194.1,174.2L193.1,176.3M181.4,177.1L181.5,176.6M181.4,177.1L187.4,183.5M191.4,183.7L192.6,179.9M192.6,179.9L193.1,176.3M205.9,178.3L205.3,171.8M207.7,171.4L205.3,171.8M207.7,171.4L211.9,178.5M212.7,178.7L211.9,178.5M214.8,185.7L213.6,186.0M213.6,186.0L205.7,185.2M250.3,186.8L249.5,187.4M249.2,196.3L251.3,193.3M249.9,203.4L249.4,200.6M238.5,204.1L241.8,202.7M249.9,203.4L243.6,202.4M241.8,202.7L243.6,202.4M179.5,192.2L182.3,187.0M182.3,187.0L182.4,186.9M180.1,194.3L182.3,195.5M182.3,195.5L183.8,194.6M182.4,186.9L186.0,190.6M183.8,194.6L186.0,190.6M182.3,195.5L183.1,197.4M183.8,194.6L188.0,194.1M188.0,194.1L189.9,198.4M183.1,197.4L189.9,198.4M178.6,205.2L182.6,202.9M185.1,214.2L188.5,209.5M182.6,202.9L183.4,203.2M183.4,203.2L188.5,208.3M188.5,209.5L188.5,208.3M172.4,205.3L178.6,205.2M183.1,197.4L182.6,202.9M192.2,210.3L188.5,209.5M200.6,197.0L202.1,198.3M200.6,197.0L197.6,196.0M197.6,196.0L195.7,198.2M195.7,198.2L199.9,206.5M192.2,210.3L196.2,207.8M201.5,210.5L200.5,209.6M196.2,207.8L200.5,209.6M202.9,198.9L203.7,208.9M200.5,209.6L199.9,206.5M241.8,202.7L235.9,195.0M241.2,197.1L235.9,195.0M238.5,204.1L233.2,200.0M234.0,196.0L233.2,200.0M235.1,194.5L235.9,195.0M249.4,159.9L249.7,165.5M249.6,147.0L248.5,149.3M252.4,151.0L248.7,150.5M248.5,149.3L248.7,150.5M157.6,156.1L148.9,145.6M157.6,156.1L157.4,156.3M144.6,152.8L148.6,145.5M152.9,162.5L153.7,159.9M158.0,142.2L148.9,145.6M171.9,184.5L172.6,183.9M172.6,183.9L175.3,183.7M175.3,183.7L177.3,182.8M181.4,177.1L178.4,180.7M187.4,183.5L182.4,186.9M149.4,203.2L144.0,206.9M152.4,204.7L152.0,208.0M152.0,208.0L155.5,209.1M164.9,187.7L166.5,188.1M164.9,187.7L159.5,187.2M164.7,201.8L161.2,197.9M161.2,197.9L159.3,188.7M149.4,203.2L150.9,200.4M205.7,187.9L209.3,189.5M205.7,187.9L206.0,193.1M210.3,192.3L207.7,193.4M206.0,193.1L207.7,193.4M213.6,186.0L209.3,189.5M204.4,186.0L205.7,185.2M204.4,186.0L205.7,187.9M197.6,196.0L197.3,194.7M204.4,186.0L204.3,186.0M197.3,194.7L204.3,186.0M212.9,193.2L209.4,198.6M209.4,198.6L207.7,193.4M203.9,178.9L202.0,182.0M203.9,178.9L200.1,172.2M200.1,172.2L196.6,172.8M202.0,182.0L201.6,181.7M196.6,172.8L195.8,173.4M205.9,178.3L203.9,178.9M202.3,184.0L204.3,186.0M202.3,184.0L202.0,182.0M201.4,171.4L205.3,171.8M201.4,171.4L200.1,172.2M191.4,183.7L192.6,186.0M192.6,179.9L201.6,181.7M192.6,186.0L202.3,184.0M218.4,188.4L217.8,190.3M217.8,190.3L216.9,191.4M214.7,192.8L216.9,191.4M209.0,200.3L210.7,202.2M226.6,194.3L223.7,197.4M223.7,197.4L227.3,198.9M217.8,190.3L223.7,197.4M234.0,196.0L229.9,195.4M233.2,200.0L230.8,201.9M230.8,201.9L227.3,198.9M210.7,202.2L210.7,205.9M203.7,208.9L207.1,207.9M210.7,205.9L207.1,207.9M209.4,214.1L207.1,207.9M226.2,212.6L228.6,208.6M230.8,201.9L228.2,206.1M228.6,208.6L228.2,206.1M222.0,200.5L224.2,203.6M228.2,206.1L224.2,203.6M217.6,206.2L211.8,206.8M217.6,206.2L219.3,207.6M219.3,207.6L219.7,208.6M219.7,208.6L215.6,213.1M215.6,213.1L212.5,208.8M212.5,208.8L211.8,206.8M222.0,200.5L219.4,200.7M219.4,200.7L217.6,206.2M224.2,203.6L219.3,207.6M226.2,212.6L219.7,208.6M209.4,214.1L212.5,208.8M210.7,205.9L211.8,206.8M194.3,190.8L192.6,186.0M194.3,190.8L188.6,193.3M192.6,186.0L186.7,190.5M186.0,190.6L186.7,190.5M191.9,199.6L193.4,200.0M184.4,202.9L191.5,204.3M193.4,200.0L193.0,202.6M195.7,198.2L193.4,200.0M196.2,207.8L193.0,202.6M202.5,165.6L204.7,164.4M202.5,165.6L199.4,162.9M204.7,164.4L204.2,157.8M201.4,171.4L202.5,165.6M207.7,171.4L212.4,165.8M204.7,164.4L212.4,165.8M217.0,153.1L216.0,162.6M216.0,162.6L213.1,164.8M216.7,153.2L208.8,158.3M213.1,164.8L208.8,158.3M218.7,174.6L219.1,173.6M219.1,173.6L212.8,165.6M212.4,165.8L212.8,165.6M249.4,200.6L242.8,195.7M241.2,197.1L242.3,195.8M242.8,195.7L242.3,195.8M239.1,189.3L235.4,193.3M239.1,189.3L229.8,182.0M235.4,193.3L231.0,189.9M239.3,189.2L242.3,195.8M239.3,189.2L239.1,189.3M229.8,181.9L231.4,178.2M229.8,181.9L229.8,182.0M231.4,178.2L234.0,177.1M234.0,177.1L241.1,178.8M239.7,188.9L239.3,189.2M226.2,191.2L231.0,189.9M248.3,180.1L252.4,181.0M247.2,179.0L254.8,175.0M250.3,186.8L248.3,180.1M255.6,171.9L244.2,175.5M244.2,175.5L244.4,171.4M245.0,170.9L244.4,171.4M243.7,177.9L243.6,177.8M243.7,177.9L247.2,179.0M243.6,177.8L244.2,175.5M249.7,165.5L245.0,170.9M235.1,135.1L235.0,137.7M235.0,137.7L230.9,140.1M226.2,134.6L229.1,123.0M260.6,139.0L247.7,142.0M245.0,131.7L244.1,135.9M244.1,135.9L247.7,142.0M235.0,137.7L238.4,138.9M244.1,135.9L238.4,138.9M249.6,147.0L247.6,142.3M247.6,142.3L247.7,142.0M191.3,138.9L188.4,131.4M191.3,138.9L194.5,136.8M157.4,156.3L168.7,164.5M168.7,164.5L168.3,166.5M156.2,168.3L168.3,166.5M168.0,175.8L168.0,175.6M168.0,175.8L157.7,185.0M157.7,185.0L159.4,175.4M156.2,168.3L157.5,170.2M157.5,170.2L169.1,172.5M169.7,170.6L169.1,172.5M162.7,150.1L157.6,156.1M168.7,164.5L173.5,160.2M173.3,157.3L173.5,160.2M182.2,146.4L177.9,145.3M185.3,148.9L185.0,154.7M177.9,145.3L176.5,146.2M176.5,146.2L177.5,153.7M177.5,153.7L185.0,154.7M162.7,150.1L162.9,149.1M176.5,146.2L173.6,145.7M173.3,157.3L177.5,153.7M162.0,146.6L158.0,142.2M162.0,146.6L162.4,147.2M162.4,147.2L162.9,149.1M181.4,130.8L173.2,132.2M162.4,147.2L170.5,139.2M162.0,146.6L168.8,130.9M170.5,139.2L168.8,130.9M182.2,146.4L186.1,140.1M178.5,142.9L186.1,140.1M191.1,139.2L191.3,138.9M191.1,139.2L192.2,143.5M192.2,143.5L185.3,148.9M158.0,204.6L155.7,198.9M158.0,204.6L157.7,204.8M157.7,204.8L154.2,203.7M154.2,203.7L152.1,199.8M155.7,198.9L154.3,198.2M154.3,198.2L153.1,198.5M161.2,197.9L155.7,198.9M155.5,209.1L157.7,204.8M152.4,204.7L154.2,203.7M150.9,200.4L152.1,199.8M159.3,188.7L156.5,192.8M156.5,192.8L150.2,194.9M150.2,194.9L153.1,198.5M145.8,193.9L149.7,194.6M149.7,194.6L157.6,185.3M153.1,184.1L157.6,185.3M150.2,194.9L149.7,194.6M151.9,183.3L153.1,184.1M159.5,187.2L157.6,185.3M157.5,170.2L159.4,175.4M157.7,185.0L157.6,185.3M164.9,187.7L168.0,175.8M219.3,200.7L216.3,200.3M219.3,200.7L217.0,191.6M219.4,200.7L219.3,200.7M214.3,200.3L216.3,200.3M216.9,191.4L217.0,191.6M187.9,169.4L187.4,167.0M196.6,172.8L195.3,162.6M192.7,161.9L195.3,162.6M199.4,162.9L195.7,162.5M195.3,162.6L195.7,162.5M239.9,189.0L244.8,193.2M239.9,189.0L246.7,187.6M247.6,187.9L246.7,187.6M246.7,193.8L244.8,193.2M239.7,188.9L239.9,189.0M242.8,195.7L244.8,193.2M241.1,178.8L243.6,177.8M243.7,177.9L246.7,187.6M249.2,196.3L246.7,193.8M249.5,187.4L247.6,187.9M240.7,168.9L238.8,165.2M238.8,165.2L243.8,165.3M234.0,177.1L234.6,172.1M234.6,172.1L240.7,168.9M244.4,171.4L243.6,170.6M247.3,159.2L243.8,165.3M234.6,172.1L232.9,167.0M232.9,167.0L234.7,164.5M238.8,165.2L237.6,163.6M234.7,164.5L237.6,163.6M224.0,163.5L228.0,165.5M224.0,163.5L222.2,172.7M225.3,173.4L222.2,172.7M225.3,173.4L230.1,167.2M230.1,167.2L228.0,165.5M231.4,178.2L225.3,173.4M219.1,173.6L222.2,172.7M232.9,167.0L230.1,167.2M230.9,140.1L230.8,140.6M238.4,138.9L240.3,144.9M230.8,140.6L236.3,146.9M240.3,144.9L236.3,146.9M237.6,163.6L241.6,156.9M241.6,156.9L243.0,156.6M248.7,150.5L243.1,156.4M243.1,156.4L243.0,156.6M226.2,134.6L225.6,134.9M220.4,135.0L225.6,134.9M222.4,143.9L221.6,140.7M222.4,143.9L228.6,143.2M228.6,143.2L228.9,142.5M228.9,142.5L222.9,140.1M219.2,150.8L219.0,150.4M226.8,150.8L228.3,145.4M219.0,150.4L222.4,143.9M230.8,140.6L228.9,142.5M236.3,146.9L235.7,148.2M225.6,134.9L222.9,140.1M203.8,146.7L204.3,144.3M203.3,141.9L192.5,143.9M192.5,143.9L193.0,144.6M192.2,143.5L192.5,143.9M194.5,136.8L203.3,140.8M203.3,140.8L203.3,141.9M185.0,154.7L185.6,155.5M185.6,155.5L189.3,156.2M195.1,151.7L189.3,156.2M195.1,151.7L193.0,144.6M220.4,135.0L218.4,136.8M221.6,140.7L219.6,139.9M218.4,136.8L219.6,139.9M219.0,150.4L217.0,148.2M217.0,148.2L215.4,145.1M219.6,139.9L215.4,145.1M208.0,149.8L212.4,142.9M208.0,149.8L217.0,148.2M215.4,145.1L212.4,142.9M205.1,137.4L211.7,137.5M205.1,137.4L201.0,128.9M201.9,126.1L212.7,132.8M212.7,132.8L213.0,135.7M213.0,135.7L211.7,137.5M203.3,140.8L205.1,137.4M204.3,144.3L212.3,142.8M212.3,142.8L211.7,137.5M218.4,125.8L212.7,132.8M218.4,136.8L213.0,135.7M212.4,142.9L212.3,142.8M169.7,170.6L175.1,169.6M173.5,160.2L175.0,161.3M180.0,173.6L179.0,173.9M180.0,173.6L178.5,170.7M178.5,170.7L175.1,169.6M179.0,173.9L169.1,173.3M168.0,175.6L168.9,175.1M168.9,175.1L169.1,173.3M183.1,161.5L178.0,162.5M179.4,168.5L178.0,162.5M187.4,167.0L185.3,165.5M185.6,155.5L183.1,161.5M178.5,170.7L179.4,168.5M175.0,161.3L178.0,162.5M175.5,135.9L175.2,138.7M175.2,138.7L178.5,142.8M180.1,137.5L178.5,142.8M173.2,132.2L175.5,135.9M182.4,136.3L180.1,137.5M197.9,157.6L195.4,151.8M197.9,157.6L204.3,157.4M195.4,151.8L204.4,151.0M205.1,151.7L204.4,151.0M195.7,162.5L197.9,157.6M203.8,146.7L204.4,151.0M213.1,164.8L212.8,165.6M208.0,149.8L205.1,151.7M230.6,161.4L223.7,162.7M231.6,160.9L231.2,158.7M231.2,158.7L229.0,157.8M229.0,157.8L223.7,161.5M223.4,162.3L223.7,162.7M224.0,163.5L223.7,162.7M228.0,165.5L230.6,161.4M234.7,164.5L231.6,160.9M226.4,151.1L229.0,157.8M216.0,162.6L223.4,162.3M245.2,144.1L241.3,145.2M245.2,144.1L246.2,148.1M241.3,145.2L243.1,154.0M247.6,142.3L245.2,144.1M240.3,144.9L241.3,145.2M248.5,149.3L246.2,148.1M229.2,151.1L235.0,150.8M229.2,151.1L232.8,157.3M232.8,157.3L238.0,155.1M226.8,150.8L229.2,151.1M231.2,158.7L232.8,157.3M241.6,156.9L238.0,155.1M172.5,183.5L174.4,177.3M172.5,183.5L169.2,175.3M169.2,175.3L173.6,176.3M174.4,177.3L173.6,176.3M172.6,183.9L172.5,183.5M178.4,180.7L174.4,177.3M168.9,175.1L169.2,175.3M179.0,173.9L173.6,176.3" stroke="#eaa8a8" stroke-width="1.1" fill="none" opacity="0.6"/>
<path d="M169.3,192.8L170.6,201.0M169.3,192.8L175.7,191.1M177.4,191.1L175.7,191.1M177.4,191.1L179.5,192.2M179.5,192.2L180.1,194.3M180.1,194.3L170.6,201.0M125.6,172.2L148.5,178.4M152.9,162.5L155.2,167.6M169.3,192.8L166.5,188.1M175.7,191.1L171.9,184.5M171.9,184.5L166.5,188.1M235.1,135.1L242.6,131.6M148.5,178.4L151.9,183.3M170.4,201.9L164.7,201.8M164.7,201.8L161.3,204.1M226.4,183.4L219.3,176.2M226.4,183.4L222.0,187.2M222.0,187.2L220.4,187.4M212.7,178.7L214.8,185.7M212.7,178.7L218.7,174.6M218.7,174.6L219.3,176.2M214.8,185.7L218.4,188.4M218.4,188.4L220.4,187.4M181.5,176.6L181.0,174.5M181.5,176.6L193.1,176.3M181.0,174.5L187.9,169.4M187.9,169.4L194.1,174.2M194.1,174.2L193.1,176.3M181.4,177.1L181.5,176.6M181.4,177.1L187.4,183.5M191.4,183.7L192.6,179.9M192.6,179.9L193.1,176.3M205.9,178.3L205.3,171.8M207.7,171.4L205.3,171.8M207.7,171.4L211.9,178.5M212.7,178.7L211.9,178.5M214.8,185.7L213.6,186.0M213.6,186.0L205.7,185.2M250.3,186.8L249.5,187.4M249.2,196.3L251.3,193.3M249.9,203.4L249.4,200.6M238.5,204.1L241.8,202.7M249.9,203.4L243.6,202.4M241.8,202.7L243.6,202.4M179.5,192.2L182.3,187.0M182.3,187.0L182.4,186.9M180.1,194.3L182.3,195.5M182.3,195.5L183.8,194.6M182.4,186.9L186.0,190.6M183.8,194.6L186.0,190.6M182.3,195.5L183.1,197.4M183.8,194.6L188.0,194.1M188.0,194.1L189.9,198.4M183.1,197.4L189.9,198.4M178.6,205.2L182.6,202.9M185.1,214.2L188.5,209.5M182.6,202.9L183.4,203.2M183.4,203.2L188.5,208.3M188.5,209.5L188.5,208.3M172.4,205.3L178.6,205.2M183.1,197.4L182.6,202.9M192.2,210.3L188.5,209.5M200.6,197.0L202.1,198.3M200.6,197.0L197.6,196.0M197.6,196.0L195.7,198.2M195.7,198.2L199.9,206.5M192.2,210.3L196.2,207.8M201.5,210.5L200.5,209.6M196.2,207.8L200.5,209.6M202.9,198.9L203.7,208.9M200.5,209.6L199.9,206.5M241.8,202.7L235.9,195.0M241.2,197.1L235.9,195.0M238.5,204.1L233.2,200.0M234.0,196.0L233.2,200.0M235.1,194.5L235.9,195.0M249.4,159.9L249.7,165.5M249.6,147.0L248.5,149.3M252.4,151.0L248.7,150.5M248.5,149.3L248.7,150.5M157.6,156.1L148.9,145.6M157.6,156.1L157.4,156.3M144.6,152.8L148.6,145.5M152.9,162.5L153.7,159.9M158.0,142.2L148.9,145.6M171.9,184.5L172.6,183.9M172.6,183.9L175.3,183.7M175.3,183.7L177.3,182.8M181.4,177.1L178.4,180.7M187.4,183.5L182.4,186.9M149.4,203.2L144.0,206.9M152.4,204.7L152.0,208.0M152.0,208.0L155.5,209.1M164.9,187.7L166.5,188.1M164.9,187.7L159.5,187.2M164.7,201.8L161.2,197.9M161.2,197.9L159.3,188.7M149.4,203.2L150.9,200.4M205.7,187.9L209.3,189.5M205.7,187.9L206.0,193.1M210.3,192.3L207.7,193.4M206.0,193.1L207.7,193.4M213.6,186.0L209.3,189.5M204.4,186.0L205.7,185.2M204.4,186.0L205.7,187.9M197.6,196.0L197.3,194.7M204.4,186.0L204.3,186.0M197.3,194.7L204.3,186.0M212.9,193.2L209.4,198.6M209.4,198.6L207.7,193.4M203.9,178.9L202.0,182.0M203.9,178.9L200.1,172.2M200.1,172.2L196.6,172.8M202.0,182.0L201.6,181.7M196.6,172.8L195.8,173.4M205.9,178.3L203.9,178.9M202.3,184.0L204.3,186.0M202.3,184.0L202.0,182.0M201.4,171.4L205.3,171.8M201.4,171.4L200.1,172.2M191.4,183.7L192.6,186.0M192.6,179.9L201.6,181.7M192.6,186.0L202.3,184.0M218.4,188.4L217.8,190.3M217.8,190.3L216.9,191.4M214.7,192.8L216.9,191.4M209.0,200.3L210.7,202.2M226.6,194.3L223.7,197.4M223.7,197.4L227.3,198.9M217.8,190.3L223.7,197.4M234.0,196.0L229.9,195.4M233.2,200.0L230.8,201.9M230.8,201.9L227.3,198.9M210.7,202.2L210.7,205.9M203.7,208.9L207.1,207.9M210.7,205.9L207.1,207.9M209.4,214.1L207.1,207.9M226.2,212.6L228.6,208.6M230.8,201.9L228.2,206.1M228.6,208.6L228.2,206.1M222.0,200.5L224.2,203.6M228.2,206.1L224.2,203.6M217.6,206.2L211.8,206.8M217.6,206.2L219.3,207.6M219.3,207.6L219.7,208.6M219.7,208.6L215.6,213.1M215.6,213.1L212.5,208.8M212.5,208.8L211.8,206.8M222.0,200.5L219.4,200.7M219.4,200.7L217.6,206.2M224.2,203.6L219.3,207.6M226.2,212.6L219.7,208.6M209.4,214.1L212.5,208.8M210.7,205.9L211.8,206.8M194.3,190.8L192.6,186.0M194.3,190.8L188.6,193.3M192.6,186.0L186.7,190.5M186.0,190.6L186.7,190.5M191.9,199.6L193.4,200.0M184.4,202.9L191.5,204.3M193.4,200.0L193.0,202.6M195.7,198.2L193.4,200.0M196.2,207.8L193.0,202.6M202.5,165.6L204.7,164.4M202.5,165.6L199.4,162.9M204.7,164.4L204.2,157.8M201.4,171.4L202.5,165.6M207.7,171.4L212.4,165.8M204.7,164.4L212.4,165.8M217.0,153.1L216.0,162.6M216.0,162.6L213.1,164.8M216.7,153.2L208.8,158.3M213.1,164.8L208.8,158.3M218.7,174.6L219.1,173.6M219.1,173.6L212.8,165.6M212.4,165.8L212.8,165.6M249.4,200.6L242.8,195.7M241.2,197.1L242.3,195.8M242.8,195.7L242.3,195.8M239.1,189.3L235.4,193.3M239.1,189.3L229.8,182.0M235.4,193.3L231.0,189.9M239.3,189.2L242.3,195.8M239.3,189.2L239.1,189.3M229.8,181.9L231.4,178.2M229.8,181.9L229.8,182.0M231.4,178.2L234.0,177.1M234.0,177.1L241.1,178.8M239.7,188.9L239.3,189.2M226.2,191.2L231.0,189.9M248.3,180.1L252.4,181.0M247.2,179.0L254.8,175.0M250.3,186.8L248.3,180.1M255.6,171.9L244.2,175.5M244.2,175.5L244.4,171.4M245.0,170.9L244.4,171.4M243.7,177.9L243.6,177.8M243.7,177.9L247.2,179.0M243.6,177.8L244.2,175.5M249.7,165.5L245.0,170.9M235.1,135.1L235.0,137.7M235.0,137.7L230.9,140.1M226.2,134.6L229.1,123.0M260.6,139.0L247.7,142.0M245.0,131.7L244.1,135.9M244.1,135.9L247.7,142.0M235.0,137.7L238.4,138.9M244.1,135.9L238.4,138.9M249.6,147.0L247.6,142.3M247.6,142.3L247.7,142.0M191.3,138.9L188.4,131.4M191.3,138.9L194.5,136.8M157.4,156.3L168.7,164.5M168.7,164.5L168.3,166.5M156.2,168.3L168.3,166.5M168.0,175.8L168.0,175.6M168.0,175.8L157.7,185.0M157.7,185.0L159.4,175.4M156.2,168.3L157.5,170.2M157.5,170.2L169.1,172.5M169.7,170.6L169.1,172.5M162.7,150.1L157.6,156.1M168.7,164.5L173.5,160.2M173.3,157.3L173.5,160.2M182.2,146.4L177.9,145.3M185.3,148.9L185.0,154.7M177.9,145.3L176.5,146.2M176.5,146.2L177.5,153.7M177.5,153.7L185.0,154.7M162.7,150.1L162.9,149.1M176.5,146.2L173.6,145.7M173.3,157.3L177.5,153.7M162.0,146.6L158.0,142.2M162.0,146.6L162.4,147.2M162.4,147.2L162.9,149.1M181.4,130.8L173.2,132.2M162.4,147.2L170.5,139.2M162.0,146.6L168.8,130.9M170.5,139.2L168.8,130.9M182.2,146.4L186.1,140.1M178.5,142.9L186.1,140.1M191.1,139.2L191.3,138.9M191.1,139.2L192.2,143.5M192.2,143.5L185.3,148.9M158.0,204.6L155.7,198.9M158.0,204.6L157.7,204.8M157.7,204.8L154.2,203.7M154.2,203.7L152.1,199.8M155.7,198.9L154.3,198.2M154.3,198.2L153.1,198.5M161.2,197.9L155.7,198.9M155.5,209.1L157.7,204.8M152.4,204.7L154.2,203.7M150.9,200.4L152.1,199.8M159.3,188.7L156.5,192.8M156.5,192.8L150.2,194.9M150.2,194.9L153.1,198.5M145.8,193.9L149.7,194.6M149.7,194.6L157.6,185.3M153.1,184.1L157.6,185.3M150.2,194.9L149.7,194.6M151.9,183.3L153.1,184.1M159.5,187.2L157.6,185.3M157.5,170.2L159.4,175.4M157.7,185.0L157.6,185.3M164.9,187.7L168.0,175.8M219.3,200.7L216.3,200.3M219.3,200.7L217.0,191.6M219.4,200.7L219.3,200.7M214.3,200.3L216.3,200.3M216.9,191.4L217.0,191.6M187.9,169.4L187.4,167.0M196.6,172.8L195.3,162.6M192.7,161.9L195.3,162.6M199.4,162.9L195.7,162.5M195.3,162.6L195.7,162.5M239.9,189.0L244.8,193.2M239.9,189.0L246.7,187.6M247.6,187.9L246.7,187.6M246.7,193.8L244.8,193.2M239.7,188.9L239.9,189.0M242.8,195.7L244.8,193.2M241.1,178.8L243.6,177.8M243.7,177.9L246.7,187.6M249.2,196.3L246.7,193.8M249.5,187.4L247.6,187.9M240.7,168.9L238.8,165.2M238.8,165.2L243.8,165.3M234.0,177.1L234.6,172.1M234.6,172.1L240.7,168.9M244.4,171.4L243.6,170.6M247.3,159.2L243.8,165.3M234.6,172.1L232.9,167.0M232.9,167.0L234.7,164.5M238.8,165.2L237.6,163.6M234.7,164.5L237.6,163.6M224.0,163.5L228.0,165.5M224.0,163.5L222.2,172.7M225.3,173.4L222.2,172.7M225.3,173.4L230.1,167.2M230.1,167.2L228.0,165.5M231.4,178.2L225.3,173.4M219.1,173.6L222.2,172.7M232.9,167.0L230.1,167.2M230.9,140.1L230.8,140.6M238.4,138.9L240.3,144.9M230.8,140.6L236.3,146.9M240.3,144.9L236.3,146.9M237.6,163.6L241.6,156.9M241.6,156.9L243.0,156.6M248.7,150.5L243.1,156.4M243.1,156.4L243.0,156.6M226.2,134.6L225.6,134.9M220.4,135.0L225.6,134.9M222.4,143.9L221.6,140.7M222.4,143.9L228.6,143.2M228.6,143.2L228.9,142.5M228.9,142.5L222.9,140.1M219.2,150.8L219.0,150.4M226.8,150.8L228.3,145.4M219.0,150.4L222.4,143.9M230.8,140.6L228.9,142.5M236.3,146.9L235.7,148.2M225.6,134.9L222.9,140.1M203.8,146.7L204.3,144.3M203.3,141.9L192.5,143.9M192.5,143.9L193.0,144.6M192.2,143.5L192.5,143.9M194.5,136.8L203.3,140.8M203.3,140.8L203.3,141.9M185.0,154.7L185.6,155.5M185.6,155.5L189.3,156.2M195.1,151.7L189.3,156.2M195.1,151.7L193.0,144.6M220.4,135.0L218.4,136.8M221.6,140.7L219.6,139.9M218.4,136.8L219.6,139.9M219.0,150.4L217.0,148.2M217.0,148.2L215.4,145.1M219.6,139.9L215.4,145.1M208.0,149.8L212.4,142.9M208.0,149.8L217.0,148.2M215.4,145.1L212.4,142.9M205.1,137.4L211.7,137.5M205.1,137.4L201.0,128.9M201.9,126.1L212.7,132.8M212.7,132.8L213.0,135.7M213.0,135.7L211.7,137.5M203.3,140.8L205.1,137.4M204.3,144.3L212.3,142.8M212.3,142.8L211.7,137.5M218.4,125.8L212.7,132.8M218.4,136.8L213.0,135.7M212.4,142.9L212.3,142.8M169.7,170.6L175.1,169.6M173.5,160.2L175.0,161.3M180.0,173.6L179.0,173.9M180.0,173.6L178.5,170.7M178.5,170.7L175.1,169.6M179.0,173.9L169.1,173.3M168.0,175.6L168.9,175.1M168.9,175.1L169.1,173.3M183.1,161.5L178.0,162.5M179.4,168.5L178.0,162.5M187.4,167.0L185.3,165.5M185.6,155.5L183.1,161.5M178.5,170.7L179.4,168.5M175.0,161.3L178.0,162.5M175.5,135.9L175.2,138.7M175.2,138.7L178.5,142.8M180.1,137.5L178.5,142.8M173.2,132.2L175.5,135.9M182.4,136.3L180.1,137.5M197.9,157.6L195.4,151.8M197.9,157.6L204.3,157.4M195.4,151.8L204.4,151.0M205.1,151.7L204.4,151.0M195.7,162.5L197.9,157.6M203.8,146.7L204.4,151.0M213.1,164.8L212.8,165.6M208.0,149.8L205.1,151.7M230.6,161.4L223.7,162.7M231.6,160.9L231.2,158.7M231.2,158.7L229.0,157.8M229.0,157.8L223.7,161.5M223.4,162.3L223.7,162.7M224.0,163.5L223.7,162.7M228.0,165.5L230.6,161.4M234.7,164.5L231.6,160.9M226.4,151.1L229.0,157.8M216.0,162.6L223.4,162.3M245.2,144.1L241.3,145.2M245.2,144.1L246.2,148.1M241.3,145.2L243.1,154.0M247.6,142.3L245.2,144.1M240.3,144.9L241.3,145.2M248.5,149.3L246.2,148.1M229.2,151.1L235.0,150.8M229.2,151.1L232.8,157.3M232.8,157.3L238.0,155.1M226.8,150.8L229.2,151.1M231.2,158.7L232.8,157.3M241.6,156.9L238.0,155.1M172.5,183.5L174.4,177.3M172.5,183.5L169.2,175.3M169.2,175.3L173.6,176.3M174.4,177.3L173.6,176.3M172.6,183.9L172.5,183.5M178.4,180.7L174.4,177.3M168.9,175.1L169.2,175.3M179.0,173.9L173.6,176.3" stroke="#d05068" stroke-width="0.9" stroke-dasharray="0.9 1.1" fill="none" opacity="0.6"/>
<g fill="#b8504c" opacity="0.65"><circle cx="212.2" cy="182.1" r="0.51"/><circle cx="169.1" cy="176.0" r="0.72"/><circle cx="201.2" cy="162.4" r="0.52"/><circle cx="186.8" cy="161.3" r="0.60"/><circle cx="156.9" cy="198.8" r="0.71"/><circle cx="163.2" cy="146.6" r="0.68"/><circle cx="198.8" cy="190.4" r="0.52"/><circle cx="177.8" cy="194.8" r="0.87"/><circle cx="204.4" cy="155.2" r="0.79"/><circle cx="156.0" cy="181.2" r="0.57"/><circle cx="194.7" cy="183.0" r="0.85"/><circle cx="222.9" cy="187.4" r="0.79"/><circle cx="193.5" cy="156.1" r="0.84"/><circle cx="208.1" cy="180.5" r="0.60"/><circle cx="242.6" cy="192.9" r="0.69"/><circle cx="160.7" cy="204.5" r="0.59"/><circle cx="200.3" cy="190.1" r="0.52"/><circle cx="197.2" cy="197.7" r="0.88"/><circle cx="214.9" cy="191.9" r="0.66"/><circle cx="191.6" cy="203.9" r="0.68"/><circle cx="180.5" cy="173.7" r="0.70"/><circle cx="225.2" cy="194.4" r="0.55"/><circle cx="179.5" cy="179.8" r="0.57"/><circle cx="204.3" cy="182.4" r="0.63"/><circle cx="163.5" cy="154.2" r="0.64"/><circle cx="192.5" cy="191.2" r="0.59"/><circle cx="160.4" cy="164.9" r="0.68"/><circle cx="234.5" cy="138.3" r="0.65"/><circle cx="231.6" cy="175.4" r="0.61"/><circle cx="216.4" cy="189.8" r="0.54"/><circle cx="241.1" cy="203.1" r="0.66"/><circle cx="222.8" cy="176.6" r="0.54"/><circle cx="238.3" cy="194.8" r="0.80"/><circle cx="190.1" cy="153.6" r="0.87"/><circle cx="222.8" cy="149.6" r="0.75"/><circle cx="194.4" cy="156.7" r="0.53"/><circle cx="244.5" cy="170.8" r="0.73"/><circle cx="233.3" cy="198.2" r="0.85"/><circle cx="191.4" cy="194.1" r="0.78"/><circle cx="206.2" cy="168.5" r="0.72"/><circle cx="153.6" cy="161.3" r="0.68"/><circle cx="194.1" cy="199.1" r="0.52"/><circle cx="235.5" cy="197.5" r="0.77"/><circle cx="181.6" cy="159.0" r="0.53"/><circle cx="191.3" cy="169.3" r="0.90"/><circle cx="182.4" cy="182.1" r="0.82"/><circle cx="207.0" cy="189.5" r="0.67"/><circle cx="182.4" cy="197.9" r="0.77"/><circle cx="242.9" cy="145.7" r="0.55"/><circle cx="230.4" cy="160.9" r="0.88"/><circle cx="177.3" cy="171.5" r="0.69"/><circle cx="162.4" cy="195.8" r="0.53"/><circle cx="207.4" cy="168.5" r="0.57"/><circle cx="155.8" cy="154.4" r="0.90"/><circle cx="175.6" cy="182.2" r="0.69"/><circle cx="182.3" cy="192.9" r="0.65"/><circle cx="185.8" cy="141.0" r="0.59"/><circle cx="213.4" cy="140.9" r="0.87"/><circle cx="224.3" cy="177.8" r="0.68"/><circle cx="168.3" cy="192.1" r="0.85"/><circle cx="158.5" cy="157.3" r="0.65"/><circle cx="202.1" cy="179.7" r="0.89"/><circle cx="230.2" cy="194.3" r="0.65"/><circle cx="207.6" cy="156.1" r="0.80"/><circle cx="234.4" cy="160.7" r="0.67"/><circle cx="166.4" cy="138.0" r="0.75"/><circle cx="190.5" cy="163.3" r="0.81"/><circle cx="234.9" cy="157.8" r="0.70"/><circle cx="219.6" cy="175.6" r="0.82"/><circle cx="168.9" cy="137.8" r="0.51"/></g>
<path d="M183,160 C184,150 192,146 200,146 C210,146 218,152 219,162 C220,174 216,185 206,187.5 C196,189.5 186,184 184,175 Z" fill="none" stroke="#e8a0b0" stroke-width="1.6" opacity="0.55"/>
<path d="M184.5,161 C185.5,152 192,148.5 200,148.5 C209,148.5 216.5,154 216.8,163 C217,174 213.5,183.5 205,185.3 C196,187 187.5,182 185.5,174 Z" fill="#e8e3ac" stroke="#a82c48" stroke-width="1.5"/>
<ellipse cx="171.5" cy="172.8" rx="2.6" ry="3.4" fill="#f0e0c0" stroke="#c8405a" stroke-width="1.4"/>
</g></g>
<g clip-path="url(#clU1)"><g filter="url(#soft)">
<rect x="150.8" y="205.3" width="95.80" height="72.30" fill="#eee2b0"/>
<path d="M250.8,204.7L249.6,205.8M249.6,205.8L247.4,203.7M247.4,203.7L245.7,199.8M249.6,205.8L249.4,206.2M249.3,223.7L252.4,222.5M249.3,223.7L250.8,219.3M247.4,203.7L236.4,200.9M246.7,207.9L249.4,206.2M244.4,208.5L236.4,200.9M166.0,203.1L170.2,187.0M246.7,207.9L248.4,213.7M244.4,208.5L242.6,212.0M249.0,216.0L249.7,215.2M248.4,213.7L249.7,215.2M240.2,214.8L240.4,214.0M240.2,214.8L246.3,218.9M240.4,214.0L242.0,212.8M242.0,212.8L248.7,216.2M246.3,218.9L248.7,216.2M242.6,212.0L242.0,212.8M249.0,216.0L248.7,216.2M159.0,205.3L157.4,203.1M159.0,205.3L161.7,202.3M154.3,190.4L157.4,203.1M164.5,220.9L169.8,216.5M164.5,220.9L163.0,214.5M169.1,213.1L169.8,216.5M169.1,213.1L164.9,211.6M171.4,204.0L173.5,207.6M171.4,204.0L166.5,203.8M166.5,203.8L166.4,204.3M166.4,204.3L169.0,207.9M169.0,207.9L173.3,208.0M173.3,208.0L173.5,207.6M173.3,199.9L171.4,204.0M175.7,207.2L173.5,207.6M166.0,203.1L166.5,203.8M159.0,205.3L158.3,207.5M158.3,207.5L164.3,210.3M164.3,210.3L166.4,204.3M164.3,210.3L164.7,211.0M164.7,211.0L169.0,207.9M169.1,213.1L172.4,211.0M164.9,211.6L164.7,211.0M173.3,208.0L172.5,210.7M172.4,211.0L172.5,210.7M175.7,207.2L176.7,208.3M172.5,210.7L177.4,211.6M176.7,208.3L177.4,211.6M172.4,211.0L175.3,214.2M175.3,214.2L178.3,212.8M178.3,212.8L177.4,211.6M251.8,251.5L248.3,256.5M248.3,256.5L250.4,257.4M250.3,249.5L247.3,256.3M247.3,256.3L248.3,256.5M202.9,214.3L206.6,211.2M202.9,214.3L202.3,208.7M206.6,211.2L203.7,208.2M202.3,208.7L203.5,208.1M203.7,208.2L203.5,208.1M207.9,211.4L206.6,211.2M206.9,206.0L208.9,208.5M198.0,209.7L196.1,207.9M198.0,209.7L202.3,208.7M196.1,207.9L201.0,204.2M202.4,204.3L201.0,204.2M202.4,204.3L203.5,208.1M207.7,203.4L206.9,206.0M207.7,203.4L206.0,199.6M206.0,199.6L202.4,204.3M207.9,211.4L211.1,214.5M202.9,214.4L205.8,217.2M202.9,214.4L202.9,214.3M205.8,217.2L209.7,216.9M209.7,216.9L211.1,214.5M237.9,218.3L238.9,216.3M237.9,218.3L238.7,223.1M238.7,223.1L240.8,224.6M246.3,218.9L246.2,222.5M240.8,224.6L246.2,222.5M249.3,223.7L249.1,223.9M249.1,223.9L250.9,230.3M250.9,230.3L249.3,231.6M249.3,231.6L250.3,236.8M245.9,232.1L249.3,231.6M245.9,232.1L243.2,238.5M250.3,236.8L247.1,239.8M243.2,238.5L247.1,239.8M146.1,268.9L147.9,266.6M147.8,265.9L147.9,266.6M227.5,285.8L219.1,279.4M161.2,222.8L155.2,221.2M161.2,222.8L157.8,215.3M155.2,221.2L155.1,219.0M157.8,215.3L156.5,214.8M153.5,222.4L155.2,221.2M153.5,222.4L151.7,222.3M151.7,222.3L150.1,217.7M150.1,217.7L155.1,219.0M150.1,217.7L150.0,217.5M150.0,217.5L155.2,213.2M141.5,220.9L148.6,217.2M148.6,217.2L150.0,217.5M198.0,209.7L198.7,215.1M202.9,214.4L198.9,215.2M198.7,215.1L198.9,215.2M215.3,221.1L213.0,222.9M215.3,221.1L220.8,224.6M213.0,222.9L218.3,225.6M220.8,224.6L218.3,225.6M233.1,191.3L219.0,202.6M219.0,202.6L217.5,200.1M179.6,214.1L179.1,219.2M179.1,219.2L182.4,218.3M182.6,217.5L179.9,213.5M179.6,214.1L175.3,218.2M175.3,218.2L175.3,214.2M179.9,213.5L179.9,212.9M201.0,204.2L198.5,201.6M225.1,247.4L225.5,246.9M225.5,246.9L221.6,242.7M221.6,242.7L218.9,244.4M247.1,239.8L248.5,242.0M251.2,241.1L248.5,242.0M238.9,248.1L238.6,241.7M238.9,248.1L241.9,247.3M238.6,241.7L241.9,247.3M250.3,249.5L248.3,248.2M247.3,256.3L246.3,256.3M248.3,248.2L245.6,256.1M245.6,256.1L246.3,256.3M235.1,200.0L234.6,205.6M235.7,208.5L234.6,205.6M245.5,278.7L248.3,283.7M245.5,278.7L248.4,276.9M248.4,276.9L248.3,283.7M242.0,275.2L238.1,278.3M242.0,275.2L245.5,278.7M246.5,272.3L249.5,273.3M249.5,273.3L248.4,276.9M242.0,275.2L243.1,273.4M246.6,267.5L246.5,272.3M144.8,252.6L148.0,257.6M147.2,281.1L148.2,280.3M148.2,280.3L148.2,277.4M148.2,277.4L141.8,274.4M148.2,280.3L151.7,281.4M154.2,270.4L149.5,268.1M154.2,270.4L155.9,267.8M155.9,267.8L153.5,265.6M153.5,265.6L152.2,264.6M152.2,264.6L147.8,265.9M147.9,266.6L148.5,267.3M149.5,268.1L148.5,267.3M199.8,258.0L194.4,258.6M199.8,258.0L194.9,254.9M194.9,254.9L194.3,254.8M194.3,254.8L193.1,256.5M185.1,265.9L187.3,260.9M185.1,265.9L183.5,265.9M181.4,263.7L186.3,259.7M186.3,259.7L187.3,260.9M193.9,264.1L194.5,258.9M193.9,264.1L193.6,264.5M194.5,258.9L194.4,258.6M193.1,256.5L192.2,256.9M192.2,256.9L190.7,262.5M190.7,262.5L191.9,264.2M193.6,264.5L191.9,264.2M185.1,265.9L188.1,267.6M190.7,262.5L187.3,260.9M191.9,264.2L188.1,267.6M164.5,220.9L164.2,222.0M163.0,214.5L157.8,215.3M161.2,222.8L162.1,223.4M164.2,222.0L162.1,223.4M166.6,230.6L164.1,234.2M161.8,224.5L158.5,228.3M164.1,234.2L158.2,231.4M153.5,222.4L155.1,226.7M162.1,223.4L161.8,224.5M158.5,228.3L155.1,226.7M148.4,215.1L149.8,212.3M148.4,215.1L145.6,213.0M145.6,213.0L149.8,212.3M148.6,217.2L148.4,215.1M154.5,210.5L154.8,209.9M154.5,210.5L150.9,211.0M154.8,209.9L147.7,206.0M149.6,210.4L147.4,207.5M158.3,207.5L155.2,209.1M155.2,213.2L154.5,210.5M155.2,209.1L154.8,209.9M149.8,212.3L150.9,211.0M143.1,211.8L149.6,210.4M205.8,217.2L202.8,221.1M198.9,215.2L199.4,218.9M199.4,218.9L202.8,221.1M207.7,203.4L209.9,204.6M210.7,195.4L214.1,203.7M208.9,208.5L209.3,208.2M209.3,208.2L209.9,204.8M209.9,204.6L209.9,204.8M209.3,208.2L211.8,207.8M176.6,206.5L180.1,205.2M180.6,210.8L182.2,207.7M185.9,208.3L182.8,207.7M187.4,205.2L184.2,204.4M187.4,205.2L187.4,207.2M182.8,207.7L184.2,204.4M182.4,218.3L184.1,220.0M182.6,217.5L184.5,215.5M184.1,220.0L190.2,220.0M190.2,220.0L190.5,217.3M184.5,215.5L190.5,217.3M195.3,207.5L196.1,207.9M195.3,207.5L192.1,209.4M198.7,215.1L191.1,215.9M190.8,214.2L191.1,215.9M191.3,221.8L195.2,222.7M191.3,221.8L190.6,220.9M199.4,218.9L195.2,222.7M190.6,220.9L190.2,220.0M191.1,215.9L190.5,217.3M188.3,203.8L189.6,202.7M188.3,203.8L195.3,207.5M189.6,202.7L193.2,202.6M192.1,209.4L187.4,207.2M187.4,205.2L187.8,204.1M187.8,204.1L188.3,203.8M198.5,201.6L195.1,206.5M189.6,202.7L188.4,190.9M181.4,251.9L177.1,255.1M181.4,251.9L185.0,252.4M185.0,252.4L186.5,255.8M177.1,255.1L177.5,257.6M186.5,255.8L186.1,258.9M192.2,256.9L186.5,255.8M186.3,259.7L186.1,258.9M181.1,263.7L181.4,263.7M181.1,263.7L179.3,259.5M173.9,263.1L174.2,263.7M173.9,263.1L177.5,257.6M181.1,263.7L176.9,266.3M174.2,263.7L176.9,266.3M183.9,229.6L184.0,229.4M183.9,229.6L186.4,233.6M184.0,229.4L187.4,230.3M187.4,230.3L188.8,232.6M186.4,233.6L188.8,232.6M207.9,229.0L212.5,231.1M207.9,229.0L209.7,223.3M211.5,223.2L210.5,222.9M211.5,223.2L213.9,229.1M212.5,231.1L213.9,229.1M209.6,235.5L212.4,233.9M209.6,235.5L212.8,240.8M215.9,239.0L212.8,240.8M215.9,239.0L215.7,235.7M212.4,233.9L215.7,235.7M213.0,222.9L211.5,223.2M216.1,228.9L213.9,229.1M189.6,248.5L190.1,248.7M189.6,248.5L185.0,252.4M194.3,254.8L192.4,250.1M192.4,250.1L190.1,248.7M215.5,255.6L212.3,249.6M215.5,255.6L212.5,256.5M210.2,253.1L212.5,256.5M210.2,253.1L209.8,251.0M212.3,249.6L209.8,251.0M210.2,253.1L204.8,255.4M204.8,255.4L206.6,249.6M209.8,251.0L206.6,249.6M220.1,246.9L217.5,249.4M217.7,243.4L213.0,245.6M217.7,243.4L218.0,243.5M218.0,243.5L218.9,244.4M213.7,247.7L213.0,245.6M204.3,256.1L201.4,250.5M206.6,249.6L206.6,249.5M219.8,236.9L216.3,235.4M221.1,236.6L221.2,232.4M216.3,235.4L219.8,232.2M221.0,232.0L221.2,232.4M219.4,239.3L216.1,239.2M216.1,239.2L215.9,239.0M215.7,235.7L216.3,235.4M212.5,231.1L212.4,233.9M216.1,228.9L219.8,232.2M245.9,232.1L241.5,229.3M243.2,238.5L240.0,240.2M235.8,239.2L235.7,235.9M235.8,239.2L237.6,240.0M237.6,240.0L238.3,240.3M240.0,240.2L238.3,240.3M235.7,235.9L241.5,229.3M240.8,224.6L241.3,228.7M241.5,229.3L241.3,228.7M217.5,249.4L218.2,253.9M224.8,251.3L218.2,253.9M215.5,255.6L217.5,255.5M212.3,249.6L213.7,247.7M218.2,253.9L217.5,255.5M238.5,248.5L236.6,251.7M236.4,247.3L231.7,247.5M236.6,251.7L235.0,251.9M235.0,251.9L233.0,251.1M231.7,247.5L233.0,251.1M237.6,240.0L236.4,247.3M238.9,248.1L238.8,248.2M238.3,240.3L238.6,241.7M248.5,242.0L248.4,242.9M240.0,240.2L243.0,243.4M243.0,243.4L248.4,242.9M248.3,248.2L248.0,247.8M250.9,244.9L248.8,245.4M248.0,247.8L248.8,245.4M248.8,245.4L248.4,242.9M243.8,247.7L244.9,247.2M243.8,247.7L241.8,250.1M244.8,251.0L241.9,251.1M246.8,247.9L244.9,247.2M241.9,251.1L241.8,250.1M241.9,247.3L243.8,247.7M243.0,243.4L244.9,247.2M244.8,255.9L245.6,256.1M244.8,255.9L244.8,251.0M244.6,255.9L241.2,255.2M240.6,254.2L241.2,255.2M240.6,254.2L241.9,251.1M240.6,254.2L236.6,251.7M238.1,278.3L236.4,277.9M228.9,283.1L236.4,277.9M249.6,263.1L246.5,261.0M249.6,263.1L242.7,264.4M242.7,264.4L241.7,263.9M241.7,263.9L242.0,263.6M251.4,263.8L249.6,263.1M246.3,256.3L246.5,261.0M246.6,267.5L242.7,264.4M244.6,255.9L242.0,263.6M218.8,263.2L219.4,265.8M218.8,263.2L210.8,260.0M219.4,265.8L212.7,266.6M211.2,262.0L210.8,260.0M210.2,268.7L212.7,266.6M210.2,268.7L206.9,266.3M204.5,259.5L210.3,259.1M204.5,259.5L206.0,265.8M206.9,266.3L206.0,265.8M210.3,259.1L210.8,260.0M237.9,218.3L234.0,218.1M238.9,216.3L233.6,213.4M234.0,218.1L233.6,213.4M234.6,205.6L228.4,212.3M233.6,213.3L228.9,214.3M228.4,212.3L228.9,214.3M147.7,250.7L154.4,246.5M147.1,242.1L152.4,244.2M154.4,246.5L152.4,244.2M149.7,275.6L146.8,272.4M149.7,275.6L153.8,274.0M153.8,274.0L154.1,273.4M149.0,271.6L147.7,271.8M149.0,271.6L154.1,273.3M154.1,273.3L154.1,273.4M148.2,277.4L149.7,275.6M149.5,268.1L149.0,271.6M148.5,267.3L147.7,271.8M151.7,281.4L152.7,279.2M153.8,274.0L154.0,274.9M154.0,274.9L152.7,279.2M146.9,251.7L151.8,254.1M151.8,254.1L155.2,252.5M154.4,246.5L157.4,247.2M183.5,265.9L182.6,268.3M182.6,268.3L179.1,270.7M161.6,263.3L161.4,264.6M161.6,263.3L165.8,261.1M165.8,261.1L169.7,266.3M161.4,264.6L164.3,270.5M169.7,266.3L170.5,268.0M167.3,271.6L170.0,270.9M170.0,270.9L170.5,268.0M155.9,267.8L161.4,264.6M153.5,265.6L155.6,260.5M155.6,260.5L158.5,259.8M158.5,259.8L161.6,263.3M167.2,259.9L165.8,261.1M167.2,259.9L172.1,262.4M172.1,262.4L169.7,266.3M174.2,263.7L170.5,268.0M173.4,272.0L176.9,269.7M195.3,263.0L197.2,260.1M197.2,260.1L200.2,258.2M200.2,258.2L202.2,258.3M202.2,258.3L203.7,258.8M201.4,261.9L203.8,259.0M203.8,259.0L203.7,258.8M193.9,264.1L195.3,263.0M194.5,258.9L197.2,260.1M199.8,258.0L200.2,258.2M194.9,254.9L198.9,252.2M198.9,252.2L202.2,258.3M212.5,256.5L210.3,259.1M204.3,256.1L203.7,258.8M167.1,223.1L170.7,227.1M167.1,223.1L174.1,219.7M170.7,227.1L175.0,224.8M175.0,224.8L175.7,220.7M175.7,220.7L175.0,219.9M174.1,219.7L175.0,219.9M169.8,230.0L170.7,227.1M164.2,222.0L167.1,223.1M169.8,216.5L174.1,219.7M176.4,226.6L175.0,224.8M176.4,226.6L180.8,226.6M178.6,221.8L181.5,226.1M180.8,226.6L181.5,226.1M175.3,218.2L175.0,219.9M179.1,219.2L176.6,220.6M149.9,223.6L150.5,226.7M155.1,226.7L154.7,226.9M150.5,226.7L154.7,226.9M152.3,202.7L151.9,205.1M152.3,202.7L149.9,199.4M151.9,205.1L147.9,203.7M153.8,206.7L153.2,206.2M153.2,206.2L153.2,202.3M154.5,202.3L154.2,201.8M154.2,201.8L153.2,202.3M155.2,209.1L153.8,206.7M151.9,205.1L153.2,206.2M157.4,203.1L154.5,202.3M152.3,202.7L153.2,202.3M209.7,216.9L210.5,222.9M209.7,223.3L207.7,223.2M202.8,221.1L202.9,221.3M207.7,223.2L202.9,221.3M183.2,222.9L183.2,222.8M183.2,222.8L187.0,223.0M187.0,223.0L183.9,225.9M183.9,225.9L183.4,225.6M178.6,221.8L183.2,222.9M184.1,220.0L183.2,222.8M181.5,226.1L183.4,225.6M190.6,220.9L187.0,223.0M184.0,229.4L184.7,226.8M180.8,231.1L180.8,226.6M184.4,214.5L185.9,211.8M184.4,214.5L180.4,212.4M180.7,211.8L180.4,212.4M185.7,211.3L185.9,211.8M184.5,215.5L184.4,214.5M190.8,214.2L185.9,211.8M179.9,212.9L180.4,212.4M185.9,208.3L185.7,211.3M182.2,207.7L182.8,207.7M182.2,202.7L180.7,203.3M182.2,202.7L183.5,201.6M180.7,203.3L179.0,201.0M180.1,205.2L180.7,203.3M184.2,204.4L182.2,202.7M177.2,246.4L178.6,242.8M177.2,246.4L180.8,250.1M178.6,242.8L182.5,244.6M180.8,250.1L182.5,244.6M174.2,244.3L175.3,246.4M174.2,244.3L178.3,241.9M178.3,241.9L178.4,242.0M178.4,242.0L178.6,242.8M184.3,243.4L182.5,244.6M181.4,251.9L180.8,250.1M184.9,226.8L189.3,226.0M184.7,226.8L184.9,226.8M187.4,230.3L187.2,229.4M191.3,221.8L190.1,225.7M190.1,225.7L189.3,226.0M173.0,248.3L167.7,245.2M173.0,248.3L173.2,254.0M170.8,254.7L167.7,245.2M170.8,254.7L173.2,254.0M177.1,255.1L173.2,254.0M175.3,246.4L173.0,248.3M166.4,250.7L168.9,255.6M166.4,250.7L167.7,245.2M168.9,255.6L170.8,254.7M168.9,255.6L168.4,256.1M168.4,256.1L167.2,259.9M166.4,250.7L160.6,250.4M163.9,242.1L161.9,242.9M163.9,242.1L166.9,243.8M166.9,243.8L167.7,245.2M161.9,242.9L158.4,247.0M160.6,250.4L158.4,247.0M176.4,226.6L177.0,231.5M169.8,230.0L171.3,231.6M171.3,231.6L177.0,231.5M164.1,234.2L165.1,238.5M165.1,238.5L171.2,235.8M171.3,231.6L171.2,235.8M180.8,231.1L179.1,233.5M177.5,241.4L175.7,237.1M177.5,241.4L172.8,242.3M172.8,242.3L172.3,242.0M172.3,242.0L173.5,237.4M174.2,244.3L172.8,242.3M166.9,243.8L172.3,242.0M165.1,238.5L163.9,242.1M171.2,235.8L173.5,237.4M179.1,233.5L179.2,233.9M179.2,233.9L175.7,237.1M184.3,243.4L183.1,241.6M178.4,242.0L180.4,240.3M183.1,241.6L180.4,240.3M179.2,233.9L181.4,235.5M180.4,240.3L181.4,235.5M191.9,239.6L193.6,235.8M191.9,239.6L191.1,240.1M191.1,240.1L189.3,232.6M193.6,235.8L193.2,234.0M193.2,234.0L190.7,231.7M190.7,231.7L189.3,232.6M202.8,236.6L202.3,235.2M202.8,236.6L199.7,238.9M199.7,238.9L191.9,239.6M202.3,235.2L193.6,235.8M201.7,232.5L202.3,235.2M201.7,232.5L193.2,234.0M191.8,230.0L190.1,225.7M191.8,230.0L190.7,231.7M188.8,232.6L189.3,232.6M189.1,242.6L190.2,241.1M189.1,242.6L183.9,238.6M190.2,241.1L184.8,235.1M183.9,238.6L182.6,235.6M184.8,235.1L182.6,235.6M188.7,243.6L189.1,242.6M183.1,241.6L183.9,238.6M190.5,240.9L190.2,241.1M190.5,240.9L191.1,240.1M186.4,233.6L184.8,235.1M181.4,235.5L182.6,235.6M192.4,250.1L196.7,249.3M198.9,252.2L199.2,250.5M196.7,249.3L199.2,250.5M199.2,250.5L200.2,250.1M194.2,243.0L194.3,246.0M194.3,246.0L197.4,244.8M197.4,244.8L197.6,244.5M197.6,244.2L197.6,244.5M190.5,240.9L194.2,243.0M190.1,248.7L194.3,246.0M199.7,238.9L197.6,244.2M196.7,249.3L197.4,244.8M201.1,246.6L200.2,250.1M201.1,246.6L197.6,244.5M216.1,239.2L217.7,243.4M212.8,240.8L211.7,242.5M213.0,245.6L212.2,244.8M221.1,236.6L223.3,238.1M223.3,238.1L222.5,240.2M222.5,240.2L221.9,240.3M221.9,240.3L221.1,240.2M220.1,239.5L221.1,240.2M221.1,236.6L221.1,236.6M221.2,232.4L225.8,236.3M225.8,236.3L223.3,238.1M219.4,239.3L220.1,239.5M221.6,242.7L221.9,240.3M218.0,243.5L221.1,240.2M225.5,246.9L226.2,246.4M222.5,240.2L223.8,241.1M226.2,246.4L223.8,241.1M235.8,239.2L232.5,240.8M230.3,245.1L232.5,240.8M232.9,258.3L230.1,256.1M235.0,258.1L235.0,251.9M233.0,251.1L230.4,253.6M224.8,251.3L225.1,251.8M226.2,246.4L230.3,245.1M230.4,253.6L225.1,251.8M232.9,258.3L230.4,262.6M230.4,262.6L226.8,258.2M230.1,256.1L226.8,258.2M219.1,279.4L218.0,278.3M228.9,283.1L227.2,276.4M227.2,276.4L220.6,273.5M220.6,266.8L219.4,265.8M220.6,266.8L221.0,271.4M210.2,268.7L210.1,270.4M210.1,270.4L220.7,272.9M213.0,279.9L208.0,276.2M213.0,279.9L218.0,278.3M208.0,276.2L210.1,270.4M240.9,270.2L236.6,270.5M240.9,270.2L240.5,266.2M236.6,270.5L237.9,267.0M240.5,266.2L237.9,267.0M243.1,273.4L240.9,270.2M241.7,263.9L241.4,264.0M228.8,214.8L226.4,218.0M228.8,214.8L233.9,218.1M232.1,220.2L226.5,218.2M232.1,220.2L233.9,218.1M226.5,218.2L226.4,218.0M234.0,218.1L233.9,218.1M228.9,214.3L228.8,214.8M231.9,223.7L227.9,222.8M231.9,223.7L232.1,220.2M227.9,222.8L226.5,218.2M238.7,223.1L233.7,225.0M233.7,225.0L233.1,224.7M221.1,211.1L223.7,218.1M221.1,211.1L217.0,216.9M217.5,217.7L217.0,216.9M217.5,217.7L221.5,219.3M221.5,219.3L223.7,218.1M211.1,214.5L212.7,214.0M215.3,221.1L217.5,217.7M212.7,214.0L217.0,216.9M220.9,224.6L221.5,219.3M228.4,212.3L228.3,212.2M226.9,204.1L228.3,212.2M154.0,274.9L157.4,279.5M152.7,279.2L157.3,279.8M157.4,279.5L157.3,279.8M157.3,279.8L157.1,282.1M167.6,255.7L161.1,251.9M167.6,255.7L160.2,255.7M160.2,255.7L161.1,251.9M168.4,256.1L167.6,255.7M160.6,250.4L161.1,251.9M158.5,259.8L158.4,259.6M158.4,259.6L160.2,255.7M157.1,258.1L158.4,259.6M152.2,264.6L152.6,261.8M155.6,260.5L154.6,260.7M152.6,261.8L154.6,260.7M147.4,263.2L149.6,260.6M152.6,261.8L149.6,260.6M148.0,257.6L149.3,258.6M149.6,260.6L149.3,258.6M182.6,268.3L184.5,270.3M184.5,270.3L188.1,269.0M164.4,279.7L164.5,280.9M164.4,279.7L166.1,277.8M171.7,282.1L171.0,279.2M167.4,274.2L166.1,277.8M167.4,274.2L171.0,278.5M206.0,265.8L202.1,268.9M201.4,261.9L198.8,267.4M198.8,267.4L201.9,268.8M193.6,264.5L195.4,266.9M198.8,267.4L197.8,267.5M195.4,266.9L197.8,267.5M150.5,226.7L148.8,231.0M158.2,231.4L157.7,231.9M151.7,230.6L157.7,231.9M146.7,223.1L148.4,231.3M147.5,232.3L148.4,231.3M148.4,231.3L148.8,231.0M159.6,240.5L157.7,232.0M157.7,232.0L157.7,231.9M202.1,223.3L199.0,228.6M199.1,229.0L199.0,228.6M199.1,229.0L201.7,232.2M201.7,232.2L202.0,232.0M207.7,223.2L205.1,225.9M202.9,221.3L202.1,223.3M195.2,222.7L199.0,228.6M191.8,230.0L199.1,229.0M201.7,232.5L201.7,232.2M207.9,229.0L202.0,232.0M203.1,236.8L202.8,236.6M203.1,236.8L209.6,235.5M203.6,237.8L203.9,245.4M203.6,237.8L207.5,240.7M207.5,240.7L207.8,246.5M203.9,245.4L206.4,247.6M206.4,247.6L207.8,246.5M203.1,236.8L203.6,237.8M201.1,246.6L203.9,245.4M211.7,242.5L207.5,240.7M206.6,249.5L206.4,247.6M224.6,240.7L226.5,236.3M226.9,236.3L226.5,236.3M223.8,241.1L224.6,240.7M232.5,240.8L230.1,239.3M235.7,235.9L233.7,232.8M227.7,233.1L226.9,236.3M233.7,232.8L228.1,232.9M225.8,236.3L226.5,236.3M227.1,224.1L227.7,227.8M227.1,224.1L221.6,225.2M227.7,227.8L224.3,229.7M221.6,225.2L222.9,229.6M222.9,229.6L224.3,229.7M233.1,224.7L227.8,227.8M227.9,222.8L227.1,224.1M227.8,227.8L227.7,227.8M220.9,224.6L221.6,225.2M226.4,218.0L223.7,218.1M221.0,232.0L222.9,229.6M227.7,233.1L224.3,229.7M227.8,227.8L229.1,230.3M227.8,227.8L233.2,228.8M229.1,230.3L233.3,230.0M233.3,229.6L233.3,230.0M227.8,227.8L227.8,227.8M228.1,232.9L229.1,230.3M233.7,232.8L233.3,230.0M241.3,228.7L233.3,229.6M225.5,259.5L226.7,258.2M225.5,259.5L219.0,259.0M226.7,258.2L225.0,256.1M225.0,256.1L218.5,257.0M220.6,266.8L223.8,265.2M218.8,263.2L219.0,259.0M223.8,265.2L225.5,259.5M225.1,251.8L225.0,256.1M226.8,258.2L226.7,258.2M236.4,277.9L234.9,275.5M227.2,276.4L229.0,275.1M234.9,275.5L229.0,275.1M235.0,258.1L237.2,259.4M237.2,259.4L237.7,259.6M230.4,262.6L230.5,264.0M237.2,259.4L230.5,264.0M221.2,210.1L221.8,209.6M221.2,210.1L215.1,209.6M221.8,209.6L222.2,207.6M218.8,202.9L215.0,204.5M215.0,204.5L214.7,208.4M215.1,209.6L214.7,208.4M221.1,211.1L221.2,210.1M228.3,212.2L221.8,209.6M212.7,214.0L215.1,209.6M226.9,204.1L222.2,207.6M219.0,202.6L218.8,202.9M214.1,203.7L215.0,204.5M163.7,279.0L162.1,278.4M161.3,281.9L159.9,279.1M162.1,278.4L159.9,279.1M157.4,279.5L158.3,278.9M158.3,278.9L159.9,279.1M154.1,273.4L157.9,273.9M158.3,278.9L158.5,278.4M157.9,273.9L158.5,278.4M163.4,271.6L163.0,274.4M163.4,271.6L158.8,273.9M163.0,274.4L160.8,276.9M167.3,271.6L167.4,274.2M163.7,279.0L163.0,274.4M162.1,278.4L160.8,276.9M158.5,278.4L160.1,276.6M150.6,257.9L152.7,259.1M150.6,257.9L152.1,256.3M152.7,259.1L153.1,256.7M152.1,256.3L153.1,256.7M154.6,260.7L152.7,259.1M149.3,258.6L150.6,257.9M151.8,254.1L152.1,256.3M157.1,258.1L153.1,256.7M180.5,272.7L184.5,270.4M180.5,272.7L180.8,273.4M180.8,273.4L185.2,274.0M184.5,270.4L185.2,274.0M184.5,270.3L184.5,270.4M184.1,280.9L184.4,275.4M179.6,277.5L180.1,279.6M179.6,277.5L180.8,273.4M185.2,274.0L185.2,274.0M185.2,274.0L184.4,275.4M176.2,275.7L174.7,278.2M176.2,275.7L173.7,273.0M174.7,278.2L172.9,275.4M173.7,273.0L172.9,275.4M179.6,277.5L176.2,275.7M174.8,281.3L174.7,278.2M173.4,272.0L173.7,273.0M171.0,278.5L172.9,275.4M148.4,233.5L149.0,238.2M149.0,238.2L150.4,238.5M150.4,238.5L154.2,238.2M154.5,237.9L154.2,238.2M147.5,232.3L148.4,233.5M157.7,232.0L154.3,235.5M147.1,242.1L149.0,238.2M152.4,244.2L152.8,241.8M159.6,240.5L154.5,237.9M236.6,270.5L235.0,271.0M235.0,271.0L234.6,266.7M234.9,275.5L234.3,272.2M235.0,271.0L234.3,272.2M223.8,265.2L229.9,265.2M230.5,264.0L230.4,264.8M229.9,265.2L230.4,264.8M230.4,264.8L233.6,265.4M234.6,266.7L233.6,265.4M229.9,265.9L230.8,270.5M229.9,265.9L226.3,271.1M226.3,271.1L228.9,271.7M229.9,265.2L229.9,265.9M221.0,271.4L226.3,271.1M229.0,275.1L228.9,271.7M203.0,271.6L199.0,272.0M203.0,271.6L203.4,272.5M203.4,272.5L197.6,273.6M197.6,273.2L197.6,273.6M202.1,268.9L203.0,271.6M201.9,268.8L199.0,272.0M208.0,276.2L206.5,276.3M197.8,267.5L197.8,272.4M195.4,266.9L193.5,270.5M193.5,270.5L197.6,273.2M188.1,269.0L189.7,272.5M185.2,274.0L186.0,274.2M186.0,274.2L189.7,272.5M193.5,270.5L191.0,273.0M189.7,272.5L191.0,273.0M206.5,276.3L206.1,276.5M206.1,276.5L197.8,274.6M197.6,273.6L197.5,274.0M197.8,274.6L197.5,274.0M197.5,274.0L191.9,275.0M197.7,277.2L202.7,279.9M202.7,279.9L201.5,282.5M197.7,277.2L194.6,278.9M196.0,280.9L194.6,278.9M192.1,277.9L192.9,278.3M194.6,278.9L192.9,278.3M186.0,274.2L187.1,281.0M192.1,277.9L189.3,280.0M189.3,280.0L187.1,281.0M192.9,278.3L193.0,280.2" stroke="#e6929a" stroke-width="1.4" fill="none" opacity="0.9"/>
<path d="M250.8,204.7L249.6,205.8M249.6,205.8L247.4,203.7M247.4,203.7L245.7,199.8M249.6,205.8L249.4,206.2M249.3,223.7L252.4,222.5M249.3,223.7L250.8,219.3M247.4,203.7L236.4,200.9M246.7,207.9L249.4,206.2M244.4,208.5L236.4,200.9M166.0,203.1L170.2,187.0M246.7,207.9L248.4,213.7M244.4,208.5L242.6,212.0M249.0,216.0L249.7,215.2M248.4,213.7L249.7,215.2M240.2,214.8L240.4,214.0M240.2,214.8L246.3,218.9M240.4,214.0L242.0,212.8M242.0,212.8L248.7,216.2M246.3,218.9L248.7,216.2M242.6,212.0L242.0,212.8M249.0,216.0L248.7,216.2M159.0,205.3L157.4,203.1M159.0,205.3L161.7,202.3M154.3,190.4L157.4,203.1M164.5,220.9L169.8,216.5M164.5,220.9L163.0,214.5M169.1,213.1L169.8,216.5M169.1,213.1L164.9,211.6M171.4,204.0L173.5,207.6M171.4,204.0L166.5,203.8M166.5,203.8L166.4,204.3M166.4,204.3L169.0,207.9M169.0,207.9L173.3,208.0M173.3,208.0L173.5,207.6M173.3,199.9L171.4,204.0M175.7,207.2L173.5,207.6M166.0,203.1L166.5,203.8M159.0,205.3L158.3,207.5M158.3,207.5L164.3,210.3M164.3,210.3L166.4,204.3M164.3,210.3L164.7,211.0M164.7,211.0L169.0,207.9M169.1,213.1L172.4,211.0M164.9,211.6L164.7,211.0M173.3,208.0L172.5,210.7M172.4,211.0L172.5,210.7M175.7,207.2L176.7,208.3M172.5,210.7L177.4,211.6M176.7,208.3L177.4,211.6M172.4,211.0L175.3,214.2M175.3,214.2L178.3,212.8M178.3,212.8L177.4,211.6M251.8,251.5L248.3,256.5M248.3,256.5L250.4,257.4M250.3,249.5L247.3,256.3M247.3,256.3L248.3,256.5M202.9,214.3L206.6,211.2M202.9,214.3L202.3,208.7M206.6,211.2L203.7,208.2M202.3,208.7L203.5,208.1M203.7,208.2L203.5,208.1M207.9,211.4L206.6,211.2M206.9,206.0L208.9,208.5M198.0,209.7L196.1,207.9M198.0,209.7L202.3,208.7M196.1,207.9L201.0,204.2M202.4,204.3L201.0,204.2M202.4,204.3L203.5,208.1M207.7,203.4L206.9,206.0M207.7,203.4L206.0,199.6M206.0,199.6L202.4,204.3M207.9,211.4L211.1,214.5M202.9,214.4L205.8,217.2M202.9,214.4L202.9,214.3M205.8,217.2L209.7,216.9M209.7,216.9L211.1,214.5M237.9,218.3L238.9,216.3M237.9,218.3L238.7,223.1M238.7,223.1L240.8,224.6M246.3,218.9L246.2,222.5M240.8,224.6L246.2,222.5M249.3,223.7L249.1,223.9M249.1,223.9L250.9,230.3M250.9,230.3L249.3,231.6M249.3,231.6L250.3,236.8M245.9,232.1L249.3,231.6M245.9,232.1L243.2,238.5M250.3,236.8L247.1,239.8M243.2,238.5L247.1,239.8M146.1,268.9L147.9,266.6M147.8,265.9L147.9,266.6M227.5,285.8L219.1,279.4M161.2,222.8L155.2,221.2M161.2,222.8L157.8,215.3M155.2,221.2L155.1,219.0M157.8,215.3L156.5,214.8M153.5,222.4L155.2,221.2M153.5,222.4L151.7,222.3M151.7,222.3L150.1,217.7M150.1,217.7L155.1,219.0M150.1,217.7L150.0,217.5M150.0,217.5L155.2,213.2M141.5,220.9L148.6,217.2M148.6,217.2L150.0,217.5M198.0,209.7L198.7,215.1M202.9,214.4L198.9,215.2M198.7,215.1L198.9,215.2M215.3,221.1L213.0,222.9M215.3,221.1L220.8,224.6M213.0,222.9L218.3,225.6M220.8,224.6L218.3,225.6M233.1,191.3L219.0,202.6M219.0,202.6L217.5,200.1M179.6,214.1L179.1,219.2M179.1,219.2L182.4,218.3M182.6,217.5L179.9,213.5M179.6,214.1L175.3,218.2M175.3,218.2L175.3,214.2M179.9,213.5L179.9,212.9M201.0,204.2L198.5,201.6M225.1,247.4L225.5,246.9M225.5,246.9L221.6,242.7M221.6,242.7L218.9,244.4M247.1,239.8L248.5,242.0M251.2,241.1L248.5,242.0M238.9,248.1L238.6,241.7M238.9,248.1L241.9,247.3M238.6,241.7L241.9,247.3M250.3,249.5L248.3,248.2M247.3,256.3L246.3,256.3M248.3,248.2L245.6,256.1M245.6,256.1L246.3,256.3M235.1,200.0L234.6,205.6M235.7,208.5L234.6,205.6M245.5,278.7L248.3,283.7M245.5,278.7L248.4,276.9M248.4,276.9L248.3,283.7M242.0,275.2L238.1,278.3M242.0,275.2L245.5,278.7M246.5,272.3L249.5,273.3M249.5,273.3L248.4,276.9M242.0,275.2L243.1,273.4M246.6,267.5L246.5,272.3M144.8,252.6L148.0,257.6M147.2,281.1L148.2,280.3M148.2,280.3L148.2,277.4M148.2,277.4L141.8,274.4M148.2,280.3L151.7,281.4M154.2,270.4L149.5,268.1M154.2,270.4L155.9,267.8M155.9,267.8L153.5,265.6M153.5,265.6L152.2,264.6M152.2,264.6L147.8,265.9M147.9,266.6L148.5,267.3M149.5,268.1L148.5,267.3M199.8,258.0L194.4,258.6M199.8,258.0L194.9,254.9M194.9,254.9L194.3,254.8M194.3,254.8L193.1,256.5M185.1,265.9L187.3,260.9M185.1,265.9L183.5,265.9M181.4,263.7L186.3,259.7M186.3,259.7L187.3,260.9M193.9,264.1L194.5,258.9M193.9,264.1L193.6,264.5M194.5,258.9L194.4,258.6M193.1,256.5L192.2,256.9M192.2,256.9L190.7,262.5M190.7,262.5L191.9,264.2M193.6,264.5L191.9,264.2M185.1,265.9L188.1,267.6M190.7,262.5L187.3,260.9M191.9,264.2L188.1,267.6M164.5,220.9L164.2,222.0M163.0,214.5L157.8,215.3M161.2,222.8L162.1,223.4M164.2,222.0L162.1,223.4M166.6,230.6L164.1,234.2M161.8,224.5L158.5,228.3M164.1,234.2L158.2,231.4M153.5,222.4L155.1,226.7M162.1,223.4L161.8,224.5M158.5,228.3L155.1,226.7M148.4,215.1L149.8,212.3M148.4,215.1L145.6,213.0M145.6,213.0L149.8,212.3M148.6,217.2L148.4,215.1M154.5,210.5L154.8,209.9M154.5,210.5L150.9,211.0M154.8,209.9L147.7,206.0M149.6,210.4L147.4,207.5M158.3,207.5L155.2,209.1M155.2,213.2L154.5,210.5M155.2,209.1L154.8,209.9M149.8,212.3L150.9,211.0M143.1,211.8L149.6,210.4M205.8,217.2L202.8,221.1M198.9,215.2L199.4,218.9M199.4,218.9L202.8,221.1M207.7,203.4L209.9,204.6M210.7,195.4L214.1,203.7M208.9,208.5L209.3,208.2M209.3,208.2L209.9,204.8M209.9,204.6L209.9,204.8M209.3,208.2L211.8,207.8M176.6,206.5L180.1,205.2M180.6,210.8L182.2,207.7M185.9,208.3L182.8,207.7M187.4,205.2L184.2,204.4M187.4,205.2L187.4,207.2M182.8,207.7L184.2,204.4M182.4,218.3L184.1,220.0M182.6,217.5L184.5,215.5M184.1,220.0L190.2,220.0M190.2,220.0L190.5,217.3M184.5,215.5L190.5,217.3M195.3,207.5L196.1,207.9M195.3,207.5L192.1,209.4M198.7,215.1L191.1,215.9M190.8,214.2L191.1,215.9M191.3,221.8L195.2,222.7M191.3,221.8L190.6,220.9M199.4,218.9L195.2,222.7M190.6,220.9L190.2,220.0M191.1,215.9L190.5,217.3M188.3,203.8L189.6,202.7M188.3,203.8L195.3,207.5M189.6,202.7L193.2,202.6M192.1,209.4L187.4,207.2M187.4,205.2L187.8,204.1M187.8,204.1L188.3,203.8M198.5,201.6L195.1,206.5M189.6,202.7L188.4,190.9M181.4,251.9L177.1,255.1M181.4,251.9L185.0,252.4M185.0,252.4L186.5,255.8M177.1,255.1L177.5,257.6M186.5,255.8L186.1,258.9M192.2,256.9L186.5,255.8M186.3,259.7L186.1,258.9M181.1,263.7L181.4,263.7M181.1,263.7L179.3,259.5M173.9,263.1L174.2,263.7M173.9,263.1L177.5,257.6M181.1,263.7L176.9,266.3M174.2,263.7L176.9,266.3M183.9,229.6L184.0,229.4M183.9,229.6L186.4,233.6M184.0,229.4L187.4,230.3M187.4,230.3L188.8,232.6M186.4,233.6L188.8,232.6M207.9,229.0L212.5,231.1M207.9,229.0L209.7,223.3M211.5,223.2L210.5,222.9M211.5,223.2L213.9,229.1M212.5,231.1L213.9,229.1M209.6,235.5L212.4,233.9M209.6,235.5L212.8,240.8M215.9,239.0L212.8,240.8M215.9,239.0L215.7,235.7M212.4,233.9L215.7,235.7M213.0,222.9L211.5,223.2M216.1,228.9L213.9,229.1M189.6,248.5L190.1,248.7M189.6,248.5L185.0,252.4M194.3,254.8L192.4,250.1M192.4,250.1L190.1,248.7M215.5,255.6L212.3,249.6M215.5,255.6L212.5,256.5M210.2,253.1L212.5,256.5M210.2,253.1L209.8,251.0M212.3,249.6L209.8,251.0M210.2,253.1L204.8,255.4M204.8,255.4L206.6,249.6M209.8,251.0L206.6,249.6M220.1,246.9L217.5,249.4M217.7,243.4L213.0,245.6M217.7,243.4L218.0,243.5M218.0,243.5L218.9,244.4M213.7,247.7L213.0,245.6M204.3,256.1L201.4,250.5M206.6,249.6L206.6,249.5M219.8,236.9L216.3,235.4M221.1,236.6L221.2,232.4M216.3,235.4L219.8,232.2M221.0,232.0L221.2,232.4M219.4,239.3L216.1,239.2M216.1,239.2L215.9,239.0M215.7,235.7L216.3,235.4M212.5,231.1L212.4,233.9M216.1,228.9L219.8,232.2M245.9,232.1L241.5,229.3M243.2,238.5L240.0,240.2M235.8,239.2L235.7,235.9M235.8,239.2L237.6,240.0M237.6,240.0L238.3,240.3M240.0,240.2L238.3,240.3M235.7,235.9L241.5,229.3M240.8,224.6L241.3,228.7M241.5,229.3L241.3,228.7M217.5,249.4L218.2,253.9M224.8,251.3L218.2,253.9M215.5,255.6L217.5,255.5M212.3,249.6L213.7,247.7M218.2,253.9L217.5,255.5M238.5,248.5L236.6,251.7M236.4,247.3L231.7,247.5M236.6,251.7L235.0,251.9M235.0,251.9L233.0,251.1M231.7,247.5L233.0,251.1M237.6,240.0L236.4,247.3M238.9,248.1L238.8,248.2M238.3,240.3L238.6,241.7M248.5,242.0L248.4,242.9M240.0,240.2L243.0,243.4M243.0,243.4L248.4,242.9M248.3,248.2L248.0,247.8M250.9,244.9L248.8,245.4M248.0,247.8L248.8,245.4M248.8,245.4L248.4,242.9M243.8,247.7L244.9,247.2M243.8,247.7L241.8,250.1M244.8,251.0L241.9,251.1M246.8,247.9L244.9,247.2M241.9,251.1L241.8,250.1M241.9,247.3L243.8,247.7M243.0,243.4L244.9,247.2M244.8,255.9L245.6,256.1M244.8,255.9L244.8,251.0M244.6,255.9L241.2,255.2M240.6,254.2L241.2,255.2M240.6,254.2L241.9,251.1M240.6,254.2L236.6,251.7M238.1,278.3L236.4,277.9M228.9,283.1L236.4,277.9M249.6,263.1L246.5,261.0M249.6,263.1L242.7,264.4M242.7,264.4L241.7,263.9M241.7,263.9L242.0,263.6M251.4,263.8L249.6,263.1M246.3,256.3L246.5,261.0M246.6,267.5L242.7,264.4M244.6,255.9L242.0,263.6M218.8,263.2L219.4,265.8M218.8,263.2L210.8,260.0M219.4,265.8L212.7,266.6M211.2,262.0L210.8,260.0M210.2,268.7L212.7,266.6M210.2,268.7L206.9,266.3M204.5,259.5L210.3,259.1M204.5,259.5L206.0,265.8M206.9,266.3L206.0,265.8M210.3,259.1L210.8,260.0M237.9,218.3L234.0,218.1M238.9,216.3L233.6,213.4M234.0,218.1L233.6,213.4M234.6,205.6L228.4,212.3M233.6,213.3L228.9,214.3M228.4,212.3L228.9,214.3M147.7,250.7L154.4,246.5M147.1,242.1L152.4,244.2M154.4,246.5L152.4,244.2M149.7,275.6L146.8,272.4M149.7,275.6L153.8,274.0M153.8,274.0L154.1,273.4M149.0,271.6L147.7,271.8M149.0,271.6L154.1,273.3M154.1,273.3L154.1,273.4M148.2,277.4L149.7,275.6M149.5,268.1L149.0,271.6M148.5,267.3L147.7,271.8M151.7,281.4L152.7,279.2M153.8,274.0L154.0,274.9M154.0,274.9L152.7,279.2M146.9,251.7L151.8,254.1M151.8,254.1L155.2,252.5M154.4,246.5L157.4,247.2M183.5,265.9L182.6,268.3M182.6,268.3L179.1,270.7M161.6,263.3L161.4,264.6M161.6,263.3L165.8,261.1M165.8,261.1L169.7,266.3M161.4,264.6L164.3,270.5M169.7,266.3L170.5,268.0M167.3,271.6L170.0,270.9M170.0,270.9L170.5,268.0M155.9,267.8L161.4,264.6M153.5,265.6L155.6,260.5M155.6,260.5L158.5,259.8M158.5,259.8L161.6,263.3M167.2,259.9L165.8,261.1M167.2,259.9L172.1,262.4M172.1,262.4L169.7,266.3M174.2,263.7L170.5,268.0M173.4,272.0L176.9,269.7M195.3,263.0L197.2,260.1M197.2,260.1L200.2,258.2M200.2,258.2L202.2,258.3M202.2,258.3L203.7,258.8M201.4,261.9L203.8,259.0M203.8,259.0L203.7,258.8M193.9,264.1L195.3,263.0M194.5,258.9L197.2,260.1M199.8,258.0L200.2,258.2M194.9,254.9L198.9,252.2M198.9,252.2L202.2,258.3M212.5,256.5L210.3,259.1M204.3,256.1L203.7,258.8M167.1,223.1L170.7,227.1M167.1,223.1L174.1,219.7M170.7,227.1L175.0,224.8M175.0,224.8L175.7,220.7M175.7,220.7L175.0,219.9M174.1,219.7L175.0,219.9M169.8,230.0L170.7,227.1M164.2,222.0L167.1,223.1M169.8,216.5L174.1,219.7M176.4,226.6L175.0,224.8M176.4,226.6L180.8,226.6M178.6,221.8L181.5,226.1M180.8,226.6L181.5,226.1M175.3,218.2L175.0,219.9M179.1,219.2L176.6,220.6M149.9,223.6L150.5,226.7M155.1,226.7L154.7,226.9M150.5,226.7L154.7,226.9M152.3,202.7L151.9,205.1M152.3,202.7L149.9,199.4M151.9,205.1L147.9,203.7M153.8,206.7L153.2,206.2M153.2,206.2L153.2,202.3M154.5,202.3L154.2,201.8M154.2,201.8L153.2,202.3M155.2,209.1L153.8,206.7M151.9,205.1L153.2,206.2M157.4,203.1L154.5,202.3M152.3,202.7L153.2,202.3M209.7,216.9L210.5,222.9M209.7,223.3L207.7,223.2M202.8,221.1L202.9,221.3M207.7,223.2L202.9,221.3M183.2,222.9L183.2,222.8M183.2,222.8L187.0,223.0M187.0,223.0L183.9,225.9M183.9,225.9L183.4,225.6M178.6,221.8L183.2,222.9M184.1,220.0L183.2,222.8M181.5,226.1L183.4,225.6M190.6,220.9L187.0,223.0M184.0,229.4L184.7,226.8M180.8,231.1L180.8,226.6M184.4,214.5L185.9,211.8M184.4,214.5L180.4,212.4M180.7,211.8L180.4,212.4M185.7,211.3L185.9,211.8M184.5,215.5L184.4,214.5M190.8,214.2L185.9,211.8M179.9,212.9L180.4,212.4M185.9,208.3L185.7,211.3M182.2,207.7L182.8,207.7M182.2,202.7L180.7,203.3M182.2,202.7L183.5,201.6M180.7,203.3L179.0,201.0M180.1,205.2L180.7,203.3M184.2,204.4L182.2,202.7M177.2,246.4L178.6,242.8M177.2,246.4L180.8,250.1M178.6,242.8L182.5,244.6M180.8,250.1L182.5,244.6M174.2,244.3L175.3,246.4M174.2,244.3L178.3,241.9M178.3,241.9L178.4,242.0M178.4,242.0L178.6,242.8M184.3,243.4L182.5,244.6M181.4,251.9L180.8,250.1M184.9,226.8L189.3,226.0M184.7,226.8L184.9,226.8M187.4,230.3L187.2,229.4M191.3,221.8L190.1,225.7M190.1,225.7L189.3,226.0M173.0,248.3L167.7,245.2M173.0,248.3L173.2,254.0M170.8,254.7L167.7,245.2M170.8,254.7L173.2,254.0M177.1,255.1L173.2,254.0M175.3,246.4L173.0,248.3M166.4,250.7L168.9,255.6M166.4,250.7L167.7,245.2M168.9,255.6L170.8,254.7M168.9,255.6L168.4,256.1M168.4,256.1L167.2,259.9M166.4,250.7L160.6,250.4M163.9,242.1L161.9,242.9M163.9,242.1L166.9,243.8M166.9,243.8L167.7,245.2M161.9,242.9L158.4,247.0M160.6,250.4L158.4,247.0M176.4,226.6L177.0,231.5M169.8,230.0L171.3,231.6M171.3,231.6L177.0,231.5M164.1,234.2L165.1,238.5M165.1,238.5L171.2,235.8M171.3,231.6L171.2,235.8M180.8,231.1L179.1,233.5M177.5,241.4L175.7,237.1M177.5,241.4L172.8,242.3M172.8,242.3L172.3,242.0M172.3,242.0L173.5,237.4M174.2,244.3L172.8,242.3M166.9,243.8L172.3,242.0M165.1,238.5L163.9,242.1M171.2,235.8L173.5,237.4M179.1,233.5L179.2,233.9M179.2,233.9L175.7,237.1M184.3,243.4L183.1,241.6M178.4,242.0L180.4,240.3M183.1,241.6L180.4,240.3M179.2,233.9L181.4,235.5M180.4,240.3L181.4,235.5M191.9,239.6L193.6,235.8M191.9,239.6L191.1,240.1M191.1,240.1L189.3,232.6M193.6,235.8L193.2,234.0M193.2,234.0L190.7,231.7M190.7,231.7L189.3,232.6M202.8,236.6L202.3,235.2M202.8,236.6L199.7,238.9M199.7,238.9L191.9,239.6M202.3,235.2L193.6,235.8M201.7,232.5L202.3,235.2M201.7,232.5L193.2,234.0M191.8,230.0L190.1,225.7M191.8,230.0L190.7,231.7M188.8,232.6L189.3,232.6M189.1,242.6L190.2,241.1M189.1,242.6L183.9,238.6M190.2,241.1L184.8,235.1M183.9,238.6L182.6,235.6M184.8,235.1L182.6,235.6M188.7,243.6L189.1,242.6M183.1,241.6L183.9,238.6M190.5,240.9L190.2,241.1M190.5,240.9L191.1,240.1M186.4,233.6L184.8,235.1M181.4,235.5L182.6,235.6M192.4,250.1L196.7,249.3M198.9,252.2L199.2,250.5M196.7,249.3L199.2,250.5M199.2,250.5L200.2,250.1M194.2,243.0L194.3,246.0M194.3,246.0L197.4,244.8M197.4,244.8L197.6,244.5M197.6,244.2L197.6,244.5M190.5,240.9L194.2,243.0M190.1,248.7L194.3,246.0M199.7,238.9L197.6,244.2M196.7,249.3L197.4,244.8M201.1,246.6L200.2,250.1M201.1,246.6L197.6,244.5M216.1,239.2L217.7,243.4M212.8,240.8L211.7,242.5M213.0,245.6L212.2,244.8M221.1,236.6L223.3,238.1M223.3,238.1L222.5,240.2M222.5,240.2L221.9,240.3M221.9,240.3L221.1,240.2M220.1,239.5L221.1,240.2M221.1,236.6L221.1,236.6M221.2,232.4L225.8,236.3M225.8,236.3L223.3,238.1M219.4,239.3L220.1,239.5M221.6,242.7L221.9,240.3M218.0,243.5L221.1,240.2M225.5,246.9L226.2,246.4M222.5,240.2L223.8,241.1M226.2,246.4L223.8,241.1M235.8,239.2L232.5,240.8M230.3,245.1L232.5,240.8M232.9,258.3L230.1,256.1M235.0,258.1L235.0,251.9M233.0,251.1L230.4,253.6M224.8,251.3L225.1,251.8M226.2,246.4L230.3,245.1M230.4,253.6L225.1,251.8M232.9,258.3L230.4,262.6M230.4,262.6L226.8,258.2M230.1,256.1L226.8,258.2M219.1,279.4L218.0,278.3M228.9,283.1L227.2,276.4M227.2,276.4L220.6,273.5M220.6,266.8L219.4,265.8M220.6,266.8L221.0,271.4M210.2,268.7L210.1,270.4M210.1,270.4L220.7,272.9M213.0,279.9L208.0,276.2M213.0,279.9L218.0,278.3M208.0,276.2L210.1,270.4M240.9,270.2L236.6,270.5M240.9,270.2L240.5,266.2M236.6,270.5L237.9,267.0M240.5,266.2L237.9,267.0M243.1,273.4L240.9,270.2M241.7,263.9L241.4,264.0M228.8,214.8L226.4,218.0M228.8,214.8L233.9,218.1M232.1,220.2L226.5,218.2M232.1,220.2L233.9,218.1M226.5,218.2L226.4,218.0M234.0,218.1L233.9,218.1M228.9,214.3L228.8,214.8M231.9,223.7L227.9,222.8M231.9,223.7L232.1,220.2M227.9,222.8L226.5,218.2M238.7,223.1L233.7,225.0M233.7,225.0L233.1,224.7M221.1,211.1L223.7,218.1M221.1,211.1L217.0,216.9M217.5,217.7L217.0,216.9M217.5,217.7L221.5,219.3M221.5,219.3L223.7,218.1M211.1,214.5L212.7,214.0M215.3,221.1L217.5,217.7M212.7,214.0L217.0,216.9M220.9,224.6L221.5,219.3M228.4,212.3L228.3,212.2M226.9,204.1L228.3,212.2M154.0,274.9L157.4,279.5M152.7,279.2L157.3,279.8M157.4,279.5L157.3,279.8M157.3,279.8L157.1,282.1M167.6,255.7L161.1,251.9M167.6,255.7L160.2,255.7M160.2,255.7L161.1,251.9M168.4,256.1L167.6,255.7M160.6,250.4L161.1,251.9M158.5,259.8L158.4,259.6M158.4,259.6L160.2,255.7M157.1,258.1L158.4,259.6M152.2,264.6L152.6,261.8M155.6,260.5L154.6,260.7M152.6,261.8L154.6,260.7M147.4,263.2L149.6,260.6M152.6,261.8L149.6,260.6M148.0,257.6L149.3,258.6M149.6,260.6L149.3,258.6M182.6,268.3L184.5,270.3M184.5,270.3L188.1,269.0M164.4,279.7L164.5,280.9M164.4,279.7L166.1,277.8M171.7,282.1L171.0,279.2M167.4,274.2L166.1,277.8M167.4,274.2L171.0,278.5M206.0,265.8L202.1,268.9M201.4,261.9L198.8,267.4M198.8,267.4L201.9,268.8M193.6,264.5L195.4,266.9M198.8,267.4L197.8,267.5M195.4,266.9L197.8,267.5M150.5,226.7L148.8,231.0M158.2,231.4L157.7,231.9M151.7,230.6L157.7,231.9M146.7,223.1L148.4,231.3M147.5,232.3L148.4,231.3M148.4,231.3L148.8,231.0M159.6,240.5L157.7,232.0M157.7,232.0L157.7,231.9M202.1,223.3L199.0,228.6M199.1,229.0L199.0,228.6M199.1,229.0L201.7,232.2M201.7,232.2L202.0,232.0M207.7,223.2L205.1,225.9M202.9,221.3L202.1,223.3M195.2,222.7L199.0,228.6M191.8,230.0L199.1,229.0M201.7,232.5L201.7,232.2M207.9,229.0L202.0,232.0M203.1,236.8L202.8,236.6M203.1,236.8L209.6,235.5M203.6,237.8L203.9,245.4M203.6,237.8L207.5,240.7M207.5,240.7L207.8,246.5M203.9,245.4L206.4,247.6M206.4,247.6L207.8,246.5M203.1,236.8L203.6,237.8M201.1,246.6L203.9,245.4M211.7,242.5L207.5,240.7M206.6,249.5L206.4,247.6M224.6,240.7L226.5,236.3M226.9,236.3L226.5,236.3M223.8,241.1L224.6,240.7M232.5,240.8L230.1,239.3M235.7,235.9L233.7,232.8M227.7,233.1L226.9,236.3M233.7,232.8L228.1,232.9M225.8,236.3L226.5,236.3M227.1,224.1L227.7,227.8M227.1,224.1L221.6,225.2M227.7,227.8L224.3,229.7M221.6,225.2L222.9,229.6M222.9,229.6L224.3,229.7M233.1,224.7L227.8,227.8M227.9,222.8L227.1,224.1M227.8,227.8L227.7,227.8M220.9,224.6L221.6,225.2M226.4,218.0L223.7,218.1M221.0,232.0L222.9,229.6M227.7,233.1L224.3,229.7M227.8,227.8L229.1,230.3M227.8,227.8L233.2,228.8M229.1,230.3L233.3,230.0M233.3,229.6L233.3,230.0M227.8,227.8L227.8,227.8M228.1,232.9L229.1,230.3M233.7,232.8L233.3,230.0M241.3,228.7L233.3,229.6M225.5,259.5L226.7,258.2M225.5,259.5L219.0,259.0M226.7,258.2L225.0,256.1M225.0,256.1L218.5,257.0M220.6,266.8L223.8,265.2M218.8,263.2L219.0,259.0M223.8,265.2L225.5,259.5M225.1,251.8L225.0,256.1M226.8,258.2L226.7,258.2M236.4,277.9L234.9,275.5M227.2,276.4L229.0,275.1M234.9,275.5L229.0,275.1M235.0,258.1L237.2,259.4M237.2,259.4L237.7,259.6M230.4,262.6L230.5,264.0M237.2,259.4L230.5,264.0M221.2,210.1L221.8,209.6M221.2,210.1L215.1,209.6M221.8,209.6L222.2,207.6M218.8,202.9L215.0,204.5M215.0,204.5L214.7,208.4M215.1,209.6L214.7,208.4M221.1,211.1L221.2,210.1M228.3,212.2L221.8,209.6M212.7,214.0L215.1,209.6M226.9,204.1L222.2,207.6M219.0,202.6L218.8,202.9M214.1,203.7L215.0,204.5M163.7,279.0L162.1,278.4M161.3,281.9L159.9,279.1M162.1,278.4L159.9,279.1M157.4,279.5L158.3,278.9M158.3,278.9L159.9,279.1M154.1,273.4L157.9,273.9M158.3,278.9L158.5,278.4M157.9,273.9L158.5,278.4M163.4,271.6L163.0,274.4M163.4,271.6L158.8,273.9M163.0,274.4L160.8,276.9M167.3,271.6L167.4,274.2M163.7,279.0L163.0,274.4M162.1,278.4L160.8,276.9M158.5,278.4L160.1,276.6M150.6,257.9L152.7,259.1M150.6,257.9L152.1,256.3M152.7,259.1L153.1,256.7M152.1,256.3L153.1,256.7M154.6,260.7L152.7,259.1M149.3,258.6L150.6,257.9M151.8,254.1L152.1,256.3M157.1,258.1L153.1,256.7M180.5,272.7L184.5,270.4M180.5,272.7L180.8,273.4M180.8,273.4L185.2,274.0M184.5,270.4L185.2,274.0M184.5,270.3L184.5,270.4M184.1,280.9L184.4,275.4M179.6,277.5L180.1,279.6M179.6,277.5L180.8,273.4M185.2,274.0L185.2,274.0M185.2,274.0L184.4,275.4M176.2,275.7L174.7,278.2M176.2,275.7L173.7,273.0M174.7,278.2L172.9,275.4M173.7,273.0L172.9,275.4M179.6,277.5L176.2,275.7M174.8,281.3L174.7,278.2M173.4,272.0L173.7,273.0M171.0,278.5L172.9,275.4M148.4,233.5L149.0,238.2M149.0,238.2L150.4,238.5M150.4,238.5L154.2,238.2M154.5,237.9L154.2,238.2M147.5,232.3L148.4,233.5M157.7,232.0L154.3,235.5M147.1,242.1L149.0,238.2M152.4,244.2L152.8,241.8M159.6,240.5L154.5,237.9M236.6,270.5L235.0,271.0M235.0,271.0L234.6,266.7M234.9,275.5L234.3,272.2M235.0,271.0L234.3,272.2M223.8,265.2L229.9,265.2M230.5,264.0L230.4,264.8M229.9,265.2L230.4,264.8M230.4,264.8L233.6,265.4M234.6,266.7L233.6,265.4M229.9,265.9L230.8,270.5M229.9,265.9L226.3,271.1M226.3,271.1L228.9,271.7M229.9,265.2L229.9,265.9M221.0,271.4L226.3,271.1M229.0,275.1L228.9,271.7M203.0,271.6L199.0,272.0M203.0,271.6L203.4,272.5M203.4,272.5L197.6,273.6M197.6,273.2L197.6,273.6M202.1,268.9L203.0,271.6M201.9,268.8L199.0,272.0M208.0,276.2L206.5,276.3M197.8,267.5L197.8,272.4M195.4,266.9L193.5,270.5M193.5,270.5L197.6,273.2M188.1,269.0L189.7,272.5M185.2,274.0L186.0,274.2M186.0,274.2L189.7,272.5M193.5,270.5L191.0,273.0M189.7,272.5L191.0,273.0M206.5,276.3L206.1,276.5M206.1,276.5L197.8,274.6M197.6,273.6L197.5,274.0M197.8,274.6L197.5,274.0M197.5,274.0L191.9,275.0M197.7,277.2L202.7,279.9M202.7,279.9L201.5,282.5M197.7,277.2L194.6,278.9M196.0,280.9L194.6,278.9M192.1,277.9L192.9,278.3M194.6,278.9L192.9,278.3M186.0,274.2L187.1,281.0M192.1,277.9L189.3,280.0M189.3,280.0L187.1,281.0M192.9,278.3L193.0,280.2" stroke="#c85060" stroke-width="0.9" stroke-dasharray="0.9 1.1" fill="none" opacity="0.5"/>
<g fill="#b8504c" opacity="0.65"><circle cx="243.7" cy="244.0" r="0.70"/><circle cx="207.1" cy="254.0" r="0.71"/><circle cx="166.7" cy="244.4" r="0.86"/><circle cx="240.7" cy="241.9" r="0.72"/><circle cx="167.0" cy="207.5" r="0.81"/><circle cx="176.1" cy="213.5" r="0.58"/><circle cx="174.2" cy="236.6" r="0.82"/><circle cx="157.9" cy="220.1" r="0.70"/><circle cx="182.4" cy="246.4" r="0.87"/><circle cx="224.0" cy="243.3" r="0.50"/><circle cx="208.7" cy="209.1" r="0.59"/><circle cx="205.3" cy="240.6" r="0.65"/><circle cx="221.5" cy="221.3" r="0.72"/><circle cx="168.8" cy="238.6" r="0.79"/><circle cx="187.5" cy="248.7" r="0.82"/><circle cx="195.4" cy="209.4" r="0.61"/><circle cx="209.8" cy="222.1" r="0.74"/><circle cx="175.2" cy="233.5" r="0.52"/><circle cx="240.7" cy="210.5" r="0.87"/><circle cx="173.7" cy="232.9" r="0.58"/><circle cx="201.4" cy="273.7" r="0.65"/><circle cx="156.0" cy="232.2" r="0.61"/><circle cx="185.2" cy="223.5" r="0.52"/><circle cx="194.3" cy="258.9" r="0.67"/><circle cx="163.1" cy="272.8" r="0.53"/><circle cx="225.4" cy="264.4" r="0.75"/><circle cx="158.7" cy="267.1" r="0.69"/><circle cx="176.4" cy="234.3" r="0.52"/><circle cx="218.1" cy="259.6" r="0.85"/><circle cx="214.8" cy="216.9" r="0.73"/><circle cx="184.6" cy="245.2" r="0.76"/><circle cx="171.8" cy="225.4" r="0.58"/><circle cx="187.0" cy="231.0" r="0.87"/><circle cx="158.5" cy="230.2" r="0.65"/><circle cx="193.5" cy="224.1" r="0.66"/><circle cx="195.7" cy="273.9" r="0.54"/><circle cx="174.5" cy="227.1" r="0.80"/><circle cx="155.5" cy="220.3" r="0.66"/><circle cx="237.3" cy="250.3" r="0.57"/><circle cx="199.3" cy="238.8" r="0.54"/><circle cx="165.6" cy="246.3" r="0.76"/><circle cx="178.9" cy="212.7" r="0.87"/><circle cx="179.7" cy="212.3" r="0.78"/><circle cx="186.7" cy="264.0" r="0.73"/><circle cx="237.4" cy="274.9" r="0.78"/><circle cx="189.8" cy="260.9" r="0.74"/><circle cx="154.8" cy="274.4" r="0.84"/><circle cx="242.3" cy="252.7" r="0.70"/><circle cx="157.7" cy="212.3" r="0.66"/><circle cx="196.9" cy="209.5" r="0.66"/><circle cx="154.3" cy="231.9" r="0.59"/><circle cx="224.9" cy="246.3" r="0.76"/><circle cx="207.5" cy="243.1" r="0.68"/><circle cx="199.5" cy="221.2" r="0.76"/><circle cx="178.6" cy="213.2" r="0.85"/><circle cx="199.8" cy="263.5" r="0.82"/><circle cx="227.4" cy="212.7" r="0.89"/><circle cx="231.2" cy="218.8" r="0.57"/><circle cx="198.8" cy="254.8" r="0.63"/><circle cx="189.5" cy="230.6" r="0.67"/><circle cx="213.9" cy="237.4" r="0.51"/><circle cx="196.3" cy="274.5" r="0.59"/><circle cx="162.4" cy="266.4" r="0.57"/><circle cx="182.9" cy="239.2" r="0.55"/><circle cx="170.3" cy="249.0" r="0.72"/><circle cx="242.9" cy="261.1" r="0.78"/><circle cx="187.9" cy="258.1" r="0.85"/><circle cx="172.1" cy="233.7" r="0.63"/><circle cx="156.5" cy="261.8" r="0.71"/><circle cx="174.9" cy="211.7" r="0.53"/><circle cx="152.9" cy="254.2" r="0.56"/><circle cx="211.2" cy="235.5" r="0.59"/><circle cx="229.3" cy="228.4" r="0.77"/><circle cx="193.0" cy="215.9" r="0.84"/><circle cx="191.3" cy="208.1" r="0.64"/><circle cx="159.0" cy="219.7" r="0.61"/><circle cx="160.5" cy="214.5" r="0.62"/><circle cx="240.0" cy="217.0" r="0.67"/><circle cx="159.6" cy="243.0" r="0.62"/><circle cx="203.1" cy="230.0" r="0.86"/><circle cx="182.5" cy="248.6" r="0.81"/><circle cx="215.5" cy="212.2" r="0.67"/><circle cx="164.0" cy="214.4" r="0.70"/><circle cx="220.4" cy="212.4" r="0.74"/><circle cx="172.4" cy="263.7" r="0.71"/><circle cx="153.4" cy="261.1" r="0.56"/><circle cx="201.2" cy="231.3" r="0.61"/><circle cx="201.6" cy="226.0" r="0.84"/><circle cx="242.3" cy="261.0" r="0.60"/><circle cx="225.6" cy="254.0" r="0.58"/><circle cx="162.6" cy="270.1" r="0.88"/><circle cx="239.3" cy="214.0" r="0.78"/><circle cx="182.3" cy="261.8" r="0.63"/><circle cx="208.4" cy="238.0" r="0.75"/><circle cx="217.8" cy="215.0" r="0.62"/><circle cx="233.7" cy="221.0" r="0.73"/><circle cx="220.5" cy="251.8" r="0.87"/><circle cx="196.0" cy="240.2" r="0.62"/><circle cx="169.3" cy="236.7" r="0.75"/><circle cx="186.9" cy="272.8" r="0.59"/><circle cx="162.3" cy="257.8" r="0.55"/><circle cx="234.9" cy="256.2" r="0.60"/><circle cx="179.6" cy="217.7" r="0.57"/><circle cx="214.8" cy="239.5" r="0.81"/><circle cx="232.5" cy="223.6" r="0.72"/><circle cx="238.8" cy="223.2" r="0.69"/><circle cx="206.2" cy="268.1" r="0.61"/><circle cx="222.0" cy="209.3" r="0.80"/><circle cx="186.3" cy="272.2" r="0.63"/><circle cx="238.8" cy="259.5" r="0.62"/><circle cx="225.9" cy="260.3" r="0.68"/><circle cx="184.7" cy="230.4" r="0.86"/><circle cx="172.1" cy="209.9" r="0.51"/><circle cx="199.4" cy="236.7" r="0.84"/><circle cx="190.1" cy="231.3" r="0.63"/><circle cx="236.1" cy="243.8" r="0.80"/><circle cx="156.3" cy="220.3" r="0.74"/><circle cx="163.7" cy="231.9" r="0.56"/><circle cx="188.6" cy="231.8" r="0.61"/><circle cx="226.0" cy="242.7" r="0.69"/><circle cx="211.0" cy="212.2" r="0.74"/><circle cx="163.7" cy="265.3" r="0.76"/><circle cx="180.9" cy="228.1" r="0.60"/><circle cx="224.2" cy="211.4" r="0.86"/><circle cx="212.7" cy="215.2" r="0.74"/><circle cx="183.7" cy="237.9" r="0.86"/><circle cx="182.7" cy="244.7" r="0.61"/><circle cx="168.6" cy="261.9" r="0.51"/><circle cx="243.6" cy="239.3" r="0.68"/><circle cx="195.3" cy="222.1" r="0.54"/><circle cx="215.5" cy="266.1" r="0.78"/><circle cx="198.3" cy="259.9" r="0.77"/><circle cx="190.7" cy="261.9" r="0.82"/><circle cx="204.9" cy="257.8" r="0.89"/><circle cx="231.7" cy="246.0" r="0.82"/><circle cx="156.8" cy="239.4" r="0.74"/><circle cx="158.4" cy="260.6" r="0.68"/><circle cx="171.5" cy="254.5" r="0.89"/><circle cx="220.6" cy="218.2" r="0.61"/><circle cx="163.9" cy="251.9" r="0.78"/><circle cx="174.2" cy="214.1" r="0.67"/><circle cx="184.5" cy="234.4" r="0.50"/><circle cx="192.3" cy="236.1" r="0.85"/><circle cx="237.2" cy="237.4" r="0.76"/><circle cx="224.1" cy="241.2" r="0.64"/><circle cx="235.8" cy="212.3" r="0.67"/><circle cx="171.5" cy="234.5" r="0.82"/><circle cx="192.5" cy="263.8" r="0.81"/><circle cx="187.0" cy="261.7" r="0.85"/><circle cx="198.4" cy="252.9" r="0.75"/><circle cx="177.9" cy="236.0" r="0.51"/><circle cx="221.4" cy="255.8" r="0.52"/><circle cx="158.7" cy="256.3" r="0.86"/><circle cx="226.2" cy="264.4" r="0.58"/><circle cx="240.8" cy="257.8" r="0.80"/><circle cx="225.0" cy="237.2" r="0.89"/><circle cx="190.3" cy="210.4" r="0.69"/><circle cx="169.8" cy="266.9" r="0.62"/><circle cx="168.7" cy="250.6" r="0.69"/><circle cx="166.0" cy="216.9" r="0.87"/><circle cx="158.7" cy="265.1" r="0.88"/><circle cx="187.2" cy="253.8" r="0.64"/><circle cx="217.6" cy="271.2" r="0.67"/><circle cx="153.3" cy="257.6" r="0.73"/><circle cx="174.2" cy="249.3" r="0.51"/><circle cx="221.7" cy="263.2" r="0.72"/><circle cx="167.4" cy="232.2" r="0.80"/><circle cx="233.3" cy="238.0" r="0.83"/><circle cx="205.3" cy="258.2" r="0.90"/><circle cx="240.4" cy="223.1" r="0.65"/></g>
<g fill="#d64a74" opacity="0.8" filter="url(#blur05)"><circle cx="166.1" cy="246.4" r="1.78"/><circle cx="172.3" cy="241.9" r="1.56"/><circle cx="166.0" cy="251.6" r="2.01"/><circle cx="166.8" cy="254.8" r="1.36"/><circle cx="160.9" cy="251.3" r="1.16"/><circle cx="165.1" cy="237.1" r="1.44"/><circle cx="153.9" cy="265.7" r="1.23"/><circle cx="167.2" cy="234.7" r="1.08"/><circle cx="154.3" cy="227.6" r="2.05"/><circle cx="153.6" cy="275.9" r="1.04"/><circle cx="160.8" cy="216.9" r="1.12"/><circle cx="171.3" cy="239.1" r="1.14"/><circle cx="164.7" cy="225.3" r="1.39"/><circle cx="162.7" cy="247.0" r="1.42"/><circle cx="156.5" cy="255.9" r="1.14"/><circle cx="163.4" cy="252.4" r="1.84"/><circle cx="152.0" cy="229.4" r="1.36"/><circle cx="162.3" cy="261.3" r="1.72"/><circle cx="153.8" cy="254.7" r="1.18"/><circle cx="153.9" cy="261.2" r="1.33"/><circle cx="159.7" cy="253.2" r="1.98"/><circle cx="171.1" cy="248.1" r="1.50"/><circle cx="152.2" cy="227.6" r="1.46"/><circle cx="156.4" cy="240.8" r="1.45"/><circle cx="154.4" cy="270.8" r="1.43"/><circle cx="160.2" cy="214.8" r="1.25"/><circle cx="165.7" cy="237.4" r="1.92"/><circle cx="168.9" cy="251.9" r="1.16"/><circle cx="155.2" cy="241.5" r="1.08"/><circle cx="160.3" cy="222.5" r="2.17"/><circle cx="173.0" cy="235.9" r="1.04"/><circle cx="152.1" cy="244.3" r="1.48"/><circle cx="152.0" cy="270.9" r="1.08"/><circle cx="170.4" cy="241.4" r="1.51"/><circle cx="156.5" cy="224.6" r="1.39"/><circle cx="171.5" cy="238.6" r="1.80"/><circle cx="161.3" cy="257.4" r="1.85"/><circle cx="153.9" cy="247.2" r="1.67"/><circle cx="153.4" cy="270.5" r="1.83"/><circle cx="167.9" cy="251.4" r="2.10"/><circle cx="169.5" cy="247.6" r="1.72"/><circle cx="161.9" cy="218.8" r="1.15"/><circle cx="157.6" cy="246.2" r="1.32"/><circle cx="153.3" cy="274.7" r="1.58"/><circle cx="157.3" cy="269.4" r="1.96"/><circle cx="164.0" cy="239.6" r="2.00"/><circle cx="155.0" cy="272.3" r="1.22"/><circle cx="159.6" cy="240.1" r="1.64"/><circle cx="152.9" cy="252.4" r="2.03"/><circle cx="178.3" cy="239.7" r="1.39"/><circle cx="177.3" cy="242.5" r="1.90"/><circle cx="155.3" cy="239.4" r="1.54"/><circle cx="158.7" cy="222.2" r="1.77"/><circle cx="177.2" cy="238.6" r="1.31"/><circle cx="154.9" cy="263.2" r="1.53"/><circle cx="152.2" cy="239.3" r="1.60"/><circle cx="155.4" cy="224.2" r="1.94"/><circle cx="154.0" cy="265.3" r="2.03"/><circle cx="157.0" cy="275.0" r="1.95"/><circle cx="157.8" cy="244.6" r="1.77"/><circle cx="170.7" cy="250.5" r="1.88"/><circle cx="165.4" cy="240.5" r="1.64"/><circle cx="157.4" cy="234.1" r="1.91"/><circle cx="160.5" cy="273.4" r="1.36"/><circle cx="157.4" cy="236.4" r="2.03"/><circle cx="152.0" cy="257.9" r="1.12"/><circle cx="165.3" cy="238.1" r="1.90"/><circle cx="168.2" cy="235.7" r="1.17"/><circle cx="159.6" cy="247.5" r="1.39"/><circle cx="157.8" cy="248.0" r="1.06"/></g>
<path d="M152,214 C158,220 162,226 167,233 C172,239 173,243 169,248 C164,254 161,262 161,276 L152,276Z" fill="#d0406c" opacity="0.9" filter="url(#blur1)"/>
<path d="M152,228 C157,236 158,250 156.5,264 L152,266Z" fill="#f0e0b0" filter="url(#blur05)"/>
<path d="M203,228 C208,230 212,230 218,228 C223,222 226,215 228,212 C229,220 229,226 232,230 C238,234 243,238 245,240 C240,244 236,248 230,250 C224,253 212,253 206,249 C202,245 202,236 203,228Z" fill="#de6c8c" opacity="0.6" filter="url(#blur05)"/>
<ellipse cx="218.3" cy="239.2" rx="14.3" ry="11.8" fill="none" stroke="#d84a78" stroke-width="3.6"/>
<ellipse cx="218.3" cy="239.2" rx="11.5" ry="9.2" fill="#e8e4b0"/>
</g></g>
<g clip-path="url(#clU2)"><g filter="url(#soft)">
<rect x="150.8" y="275.5" width="95.80" height="71.70" fill="#ece9b4"/>
<path d="M151.4,283.5L151.7,283.5M153.3,280.7L151.7,283.5M153.3,280.7L167.1,274.1M167.7,272.1L167.1,274.1M253.2,332.6L244.7,335.0M266.7,334.5L246.2,345.6M141.6,330.8L151.0,333.5M141.6,330.8L148.7,324.0M151.0,333.5L151.5,332.6M151.5,332.6L149.2,324.1M148.7,324.0L149.2,324.1M146.6,319.5L148.7,324.0M140.4,314.6L148.9,308.1M143.0,297.3L148.9,308.1M151.7,283.5L155.1,285.8M167.1,274.8L167.1,274.1M167.1,274.8L160.8,285.4M160.8,285.4L155.1,285.8M169.9,282.5L174.5,288.1M169.9,282.5L164.7,288.8M174.5,288.1L164.7,288.8M169.9,282.5L167.1,274.8M160.8,285.4L163.6,289.5M164.7,288.8L163.6,289.5M268.1,316.3L246.8,317.4M246.8,317.4L246.2,319.1M244.8,346.8L246.1,346.2M246.2,345.6L246.1,346.2M151.5,332.6L154.7,329.0M149.2,324.1L150.9,324.1M154.7,329.0L150.9,324.1M153.8,322.3L150.9,324.1M153.8,322.3L155.1,319.0M155.1,319.0L151.1,317.9M151.1,317.9L151.0,313.4M152.0,308.6L153.9,311.7M151.0,313.4L153.9,311.7M155.1,285.8L155.4,287.2M163.6,295.3L161.9,295.1M163.6,295.3L163.6,295.3M163.6,295.3L163.6,289.5M155.4,287.2L161.9,295.1M230.4,281.3L234.2,279.3M227.9,267.5L228.5,277.2M234.2,279.3L232.1,260.1M259.5,281.4L245.2,272.4M165.3,296.2L163.6,295.3M174.5,288.1L175.5,289.2M165.3,296.2L168.7,305.1M168.7,305.1L172.8,304.3M174.3,291.7L175.1,293.8M184.2,321.4L189.2,319.6M189.2,319.6L191.6,330.0M181.4,329.1L183.2,332.5M191.6,330.0L184.1,333.6M183.2,332.5L171.9,334.7M172.6,336.2L171.9,334.7M172.6,336.2L184.0,335.5M184.1,333.6L184.0,335.4M188.3,351.1L190.4,343.9M190.4,343.9L194.9,346.7M194.9,346.7L197.9,352.0M244.7,335.0L243.6,334.6M237.3,349.5L236.2,339.2M237.3,349.5L244.8,346.8M236.2,339.2L243.6,334.6M245.9,319.4L246.2,319.1M245.9,319.4L241.5,331.2M241.5,331.2L243.6,334.6M218.9,329.3L215.1,330.6M218.9,329.3L217.8,325.3M211.6,321.7L211.4,321.8M211.4,321.8L215.1,330.6M217.8,325.3L216.7,324.2M213.6,318.2L220.9,317.1M213.6,318.2L211.6,321.7M216.7,324.2L220.9,317.1M194.9,346.7L199.5,341.6M199.5,341.6L204.1,344.2M204.1,344.2L204.5,344.1M208.1,347.1L204.5,344.1M206.0,318.8L198.0,317.7M206.0,318.8L210.6,322.0M198.0,317.7L199.1,323.9M199.1,323.9L205.8,327.5M210.6,322.0L208.1,326.5M148.7,349.0L150.1,343.7M148.7,349.0L126.3,344.2M150.1,343.7L130.9,343.6M152.7,336.8L151.0,333.5M156.6,350.8L154.6,347.2M154.6,347.2L150.4,350.2M160.2,352.5L162.2,348.3M156.6,350.8L161.7,347.6M162.2,348.3L161.7,347.6M154.7,329.0L156.5,328.8M153.8,322.3L159.1,325.9M159.1,325.9L156.5,328.8M154.2,294.8L159.2,295.3M159.2,295.3L155.9,300.8M152.2,295.7L148.8,297.9M155.9,300.8L149.8,298.9M149.8,298.9L148.8,297.9M155.4,287.2L154.2,294.8M161.9,295.1L159.2,295.3M151.4,283.5L152.2,295.7M158.2,302.7L163.6,295.3M158.2,302.7L155.9,300.8M143.0,297.3L148.8,297.9M158.2,302.7L158.3,304.4M158.3,304.4L152.9,305.1M152.9,305.1L149.8,298.9M152.9,305.1L152.0,308.6M159.5,325.8L159.1,325.9M159.5,325.8L162.2,319.5M162.2,319.5L157.0,317.2M181.4,319.4L180.3,318.3M181.4,319.4L173.2,326.8M172.0,323.7L171.1,326.1M171.1,326.1L171.2,326.5M173.2,326.8L171.2,326.5M184.2,321.4L181.4,319.4M181.4,329.1L173.2,326.8M172.4,318.9L172.0,323.7M172.4,318.9L165.3,315.9M165.3,315.9L163.5,319.2M163.5,319.2L171.1,326.1M168.7,330.2L171.2,326.5M168.7,330.2L164.0,329.1M159.5,325.8L164.0,329.1M162.2,319.5L163.5,319.2M168.7,330.2L168.7,330.4M168.7,330.4L171.9,334.7M172.4,318.9L172.8,318.0M180.3,318.3L179.1,315.9M172.8,318.0L179.1,315.9M228.5,277.2L223.8,281.4M268.1,316.3L249.0,306.3M249.0,306.3L251.7,300.3M258.7,281.9L248.7,297.3M251.7,300.3L248.7,297.3M199.2,270.1L204.7,277.1M195.3,278.0L198.0,281.0M212.5,285.5L210.0,284.3M212.5,285.5L217.4,276.9M210.0,284.3L207.1,277.8M217.4,276.9L215.4,274.5M209.0,275.4L207.1,277.8M215.0,287.7L212.5,285.5M215.0,287.7L217.3,288.0M220.1,276.8L217.3,288.0M220.1,276.8L217.4,276.9M216.3,272.3L215.4,274.5M220.1,276.8L222.0,276.2M204.7,277.1L207.1,277.8M197.3,283.7L198.0,281.0M197.3,283.7L205.7,285.7M205.7,285.7L208.6,285.2M212.8,314.8L219.1,309.3M212.8,314.8L210.9,313.2M210.9,313.2L216.3,304.0M219.1,309.3L216.4,304.0M216.4,304.0L216.3,304.0M206.0,318.8L208.6,313.5M208.6,313.5L209.8,312.9M213.6,318.2L212.8,314.8M210.6,322.0L211.4,321.8M209.8,312.9L207.5,305.9M216.3,304.0L215.6,303.7M215.6,303.7L207.5,305.9M190.8,314.6L179.6,311.3M190.8,314.6L179.1,315.2M179.6,311.3L178.9,312.9M179.1,315.2L178.9,312.9M172.8,318.0L171.2,312.6M171.2,312.6L178.9,312.9M179.1,315.9L179.1,315.2M176.8,288.7L183.2,298.8M175.1,293.8L179.8,299.2M183.2,298.8L179.8,299.2M172.8,304.3L175.4,304.6M179.8,299.2L175.4,304.6M246.8,317.4L243.4,311.7M249.0,306.3L243.3,310.9M183.3,340.2L179.7,347.2M184.8,345.5L181.5,348.8M179.7,347.2L181.5,348.8M190.3,341.0L184.5,336.2M190.3,341.0L190.3,343.4M184.5,336.2L183.3,340.2M190.3,343.4L184.8,345.5M181.5,348.9L183.4,350.4M181.5,348.9L181.5,348.8M190.3,343.4L190.4,343.9M232.5,337.9L237.7,328.9M225.9,334.3L235.4,327.2M235.4,327.2L237.7,328.9M236.2,339.2L232.5,337.9M241.5,331.2L237.7,328.9M235.3,326.2L237.8,322.5M235.3,326.2L235.4,327.2M237.8,322.5L245.9,319.4M225.4,337.1L236.3,350.9M225.4,337.1L221.3,341.9M221.3,341.9L232.0,359.5M237.3,349.5L236.3,350.9M226.0,336.1L225.4,337.1M217.8,325.3L224.6,320.4M220.9,317.1L223.6,316.1M223.6,316.1L224.6,320.4M224.5,332.0L218.9,329.3M224.5,332.0L226.1,322.8M224.6,320.4L226.1,322.8M235.3,326.2L231.5,322.9M224.5,332.0L225.9,334.3M231.5,322.9L226.1,322.8M204.5,331.4L204.2,333.5M204.5,331.4L199.3,328.7M204.2,333.5L199.8,334.2M199.1,323.9L198.2,325.8M205.8,327.5L204.5,331.4M198.2,325.8L199.3,328.7M213.1,331.9L212.6,331.8M211.1,333.2L211.6,338.6M217.4,340.5L212.2,339.3M212.2,339.3L211.6,338.6M215.1,330.6L213.1,331.9M208.1,326.5L212.6,331.8M219.8,342.2L217.4,340.5M204.2,333.5L205.9,335.2M205.9,335.2L211.1,333.2M205.9,335.5L205.9,335.2M205.9,335.5L211.6,338.6M204.5,344.1L204.8,343.5M204.8,343.5L212.2,339.3M204.8,343.5L205.9,335.5M163.1,336.4L156.5,337.0M160.0,331.9L158.3,332.2M166.4,333.9L168.7,330.4M166.4,333.9L163.7,336.4M163.7,336.4L163.1,336.4M164.0,329.1L160.0,331.9M152.7,336.8L154.5,338.4M156.5,328.8L158.3,332.2M157.4,343.7L164.2,340.5M164.2,340.5L164.1,340.2M164.1,340.2L154.5,339.1M154.6,342.7L154.5,339.1M166.7,343.2L161.4,346.2M166.7,343.2L164.2,340.5M161.4,346.2L157.4,343.7M154.6,347.2L154.9,343.2M161.7,347.6L161.4,346.2M150.1,343.7L154.6,342.7M163.7,336.4L164.1,340.2M154.5,338.4L154.5,339.1M170.3,343.2L173.0,340.4M170.3,343.2L169.7,344.2M169.7,344.2L170.3,346.6M170.3,346.6L174.0,348.1M174.0,348.1L179.7,347.1M173.0,340.4L176.6,340.6M166.4,333.9L170.3,343.2M172.6,336.2L173.0,340.4M166.7,343.2L169.7,344.2M175.7,356.1L174.0,348.1M175.7,356.1L181.5,348.9M179.7,347.2L179.7,347.1M184.5,336.2L184.0,335.4M169.4,347.9L175.1,358.9M162.2,348.3L167.1,350.7M170.3,346.6L169.4,347.9M167.7,310.1L167.4,307.2M160.3,307.0L155.7,312.3M155.7,312.3L155.9,312.7M179.7,309.8L179.6,311.3M179.7,309.8L178.4,307.2M171.2,312.6L167.7,310.1M175.4,304.6L178.4,307.2M157.0,317.2L155.9,312.7M158.3,304.4L160.3,307.0M223.8,281.4L223.8,281.6M217.3,288.0L218.2,288.2M230.4,281.3L230.0,282.1M226.9,282.5L223.8,281.6M247.0,286.9L258.7,281.9M247.0,286.9L244.4,283.9M245.2,272.4L242.6,277.0M244.4,283.9L242.6,277.0M235.8,280.2L240.5,279.2M235.8,280.2L235.8,284.1M235.8,284.1L240.2,282.8M240.5,279.2L240.2,282.8M234.2,279.3L235.8,280.2M242.6,277.0L240.5,279.2M240.5,283.5L244.4,283.9M234.9,291.2L236.2,295.4M236.2,295.4L233.8,297.7M233.2,289.6L233.6,289.8M233.8,297.7L228.7,300.9M228.7,300.9L222.8,299.1M221.2,290.7L226.5,289.6M240.3,287.0L234.9,291.2M240.3,287.0L240.5,283.5M230.0,282.1L233.2,289.6M226.9,282.5L226.5,289.6M220.7,310.7L228.8,302.1M220.7,310.7L219.1,309.3M228.8,302.1L228.7,300.9M216.4,304.0L222.8,299.1M215.0,287.7L211.2,295.9M211.2,295.9L215.6,303.7M218.2,288.2L221.2,290.7M246.1,296.3L240.2,297.3M246.1,296.3L246.8,287.0M246.8,287.0L246.7,287.0M246.7,287.0L236.6,295.5M248.7,297.3L246.1,296.3M242.6,310.2L243.3,310.9M242.6,310.2L240.2,297.3M236.2,295.4L236.6,295.5M237.2,309.0L242.6,310.2M237.2,309.0L233.8,297.7M194.3,266.8L191.7,277.3M191.7,277.3L188.3,278.9M195.3,278.0L191.7,277.3M197.3,283.7L195.4,286.3M205.7,285.7L199.3,289.6M195.4,286.3L199.3,289.6M188.3,278.9L187.0,280.2M195.4,286.3L188.2,288.2M188.2,288.2L185.1,285.4M185.1,285.4L187.0,280.2M187.0,280.2L182.3,271.8M237.8,322.5L236.2,319.2M243.4,311.7L241.9,312.7M236.2,319.2L241.9,312.7M194.2,331.9L198.1,335.1M194.2,331.9L190.7,340.9M198.1,335.1L197.2,339.3M190.7,340.9L197.2,339.3M198.2,325.8L192.9,330.1M192.9,330.1L194.2,331.9M199.8,334.2L198.1,335.1M190.3,341.0L190.7,340.9M199.5,341.6L197.2,339.3M208.6,285.2L205.2,290.8M199.3,289.6L199.9,291.1M205.2,290.8L199.9,291.1M211.2,295.9L205.7,296.7M205.2,290.8L205.7,296.7M171.8,273.3L180.4,281.1M171.8,273.3L181.8,271.9M181.8,271.9L180.4,281.1M167.7,272.1L171.8,273.3M176.8,288.7L184.0,285.4M184.0,285.4L180.4,281.1M220.7,310.7L223.5,314.0M228.8,302.1L230.0,306.5M223.5,314.0L230.0,306.5M223.6,316.1L223.8,315.4M223.5,314.0L223.8,315.4M237.2,309.0L235.4,309.0M235.4,309.0L232.4,308.1M230.0,306.5L232.4,308.1M190.8,314.6L192.3,314.9M189.2,319.6L192.9,315.9M192.3,314.9L192.9,315.9M188.2,288.2L189.4,295.9M183.2,298.8L188.1,299.1M189.4,295.9L188.1,299.1M178.4,307.2L188.2,299.8M188.1,299.1L188.2,299.8M188.2,299.8L189.0,301.7M228.3,315.4L230.4,313.5M228.3,315.4L232.8,317.6M230.4,313.5L233.5,312.9M233.4,316.9L232.9,317.6M233.5,312.9L233.8,314.0M223.8,315.4L228.3,315.4M232.4,308.1L230.4,313.5M231.5,322.9L232.8,317.6M235.4,309.0L233.5,312.9M239.1,313.7L233.4,316.9M239.1,313.7L233.8,314.0M236.2,319.2L232.9,317.6M241.9,312.7L239.1,313.7M198.0,317.7L197.2,316.8M192.9,315.9L196.4,316.5M197.2,316.8L202.1,311.7M190.8,309.9L198.2,304.9M196.4,316.5L198.2,304.9M203.2,298.4L201.6,298.3M201.6,298.3L198.4,303.7M207.4,305.8L203.5,308.5M203.5,308.5L198.5,304.3M198.4,303.7L198.5,304.3M205.7,296.7L203.2,298.4M199.5,296.4L201.6,298.3M207.5,305.9L207.4,305.8M189.0,301.7L198.4,303.7M198.2,304.9L198.5,304.3" stroke="#eab8a0" stroke-width="1.1" fill="none" opacity="0.6"/>
<path d="M151.4,283.5L151.7,283.5M153.3,280.7L151.7,283.5M153.3,280.7L167.1,274.1M167.7,272.1L167.1,274.1M253.2,332.6L244.7,335.0M266.7,334.5L246.2,345.6M141.6,330.8L151.0,333.5M141.6,330.8L148.7,324.0M151.0,333.5L151.5,332.6M151.5,332.6L149.2,324.1M148.7,324.0L149.2,324.1M146.6,319.5L148.7,324.0M140.4,314.6L148.9,308.1M143.0,297.3L148.9,308.1M151.7,283.5L155.1,285.8M167.1,274.8L167.1,274.1M167.1,274.8L160.8,285.4M160.8,285.4L155.1,285.8M169.9,282.5L174.5,288.1M169.9,282.5L164.7,288.8M174.5,288.1L164.7,288.8M169.9,282.5L167.1,274.8M160.8,285.4L163.6,289.5M164.7,288.8L163.6,289.5M268.1,316.3L246.8,317.4M246.8,317.4L246.2,319.1M244.8,346.8L246.1,346.2M246.2,345.6L246.1,346.2M151.5,332.6L154.7,329.0M149.2,324.1L150.9,324.1M154.7,329.0L150.9,324.1M153.8,322.3L150.9,324.1M153.8,322.3L155.1,319.0M155.1,319.0L151.1,317.9M151.1,317.9L151.0,313.4M152.0,308.6L153.9,311.7M151.0,313.4L153.9,311.7M155.1,285.8L155.4,287.2M163.6,295.3L161.9,295.1M163.6,295.3L163.6,295.3M163.6,295.3L163.6,289.5M155.4,287.2L161.9,295.1M230.4,281.3L234.2,279.3M227.9,267.5L228.5,277.2M234.2,279.3L232.1,260.1M259.5,281.4L245.2,272.4M165.3,296.2L163.6,295.3M174.5,288.1L175.5,289.2M165.3,296.2L168.7,305.1M168.7,305.1L172.8,304.3M174.3,291.7L175.1,293.8M184.2,321.4L189.2,319.6M189.2,319.6L191.6,330.0M181.4,329.1L183.2,332.5M191.6,330.0L184.1,333.6M183.2,332.5L171.9,334.7M172.6,336.2L171.9,334.7M172.6,336.2L184.0,335.5M184.1,333.6L184.0,335.4M188.3,351.1L190.4,343.9M190.4,343.9L194.9,346.7M194.9,346.7L197.9,352.0M244.7,335.0L243.6,334.6M237.3,349.5L236.2,339.2M237.3,349.5L244.8,346.8M236.2,339.2L243.6,334.6M245.9,319.4L246.2,319.1M245.9,319.4L241.5,331.2M241.5,331.2L243.6,334.6M218.9,329.3L215.1,330.6M218.9,329.3L217.8,325.3M211.6,321.7L211.4,321.8M211.4,321.8L215.1,330.6M217.8,325.3L216.7,324.2M213.6,318.2L220.9,317.1M213.6,318.2L211.6,321.7M216.7,324.2L220.9,317.1M194.9,346.7L199.5,341.6M199.5,341.6L204.1,344.2M204.1,344.2L204.5,344.1M208.1,347.1L204.5,344.1M206.0,318.8L198.0,317.7M206.0,318.8L210.6,322.0M198.0,317.7L199.1,323.9M199.1,323.9L205.8,327.5M210.6,322.0L208.1,326.5M148.7,349.0L150.1,343.7M148.7,349.0L126.3,344.2M150.1,343.7L130.9,343.6M152.7,336.8L151.0,333.5M156.6,350.8L154.6,347.2M154.6,347.2L150.4,350.2M160.2,352.5L162.2,348.3M156.6,350.8L161.7,347.6M162.2,348.3L161.7,347.6M154.7,329.0L156.5,328.8M153.8,322.3L159.1,325.9M159.1,325.9L156.5,328.8M154.2,294.8L159.2,295.3M159.2,295.3L155.9,300.8M152.2,295.7L148.8,297.9M155.9,300.8L149.8,298.9M149.8,298.9L148.8,297.9M155.4,287.2L154.2,294.8M161.9,295.1L159.2,295.3M151.4,283.5L152.2,295.7M158.2,302.7L163.6,295.3M158.2,302.7L155.9,300.8M143.0,297.3L148.8,297.9M158.2,302.7L158.3,304.4M158.3,304.4L152.9,305.1M152.9,305.1L149.8,298.9M152.9,305.1L152.0,308.6M159.5,325.8L159.1,325.9M159.5,325.8L162.2,319.5M162.2,319.5L157.0,317.2M181.4,319.4L180.3,318.3M181.4,319.4L173.2,326.8M172.0,323.7L171.1,326.1M171.1,326.1L171.2,326.5M173.2,326.8L171.2,326.5M184.2,321.4L181.4,319.4M181.4,329.1L173.2,326.8M172.4,318.9L172.0,323.7M172.4,318.9L165.3,315.9M165.3,315.9L163.5,319.2M163.5,319.2L171.1,326.1M168.7,330.2L171.2,326.5M168.7,330.2L164.0,329.1M159.5,325.8L164.0,329.1M162.2,319.5L163.5,319.2M168.7,330.2L168.7,330.4M168.7,330.4L171.9,334.7M172.4,318.9L172.8,318.0M180.3,318.3L179.1,315.9M172.8,318.0L179.1,315.9M228.5,277.2L223.8,281.4M268.1,316.3L249.0,306.3M249.0,306.3L251.7,300.3M258.7,281.9L248.7,297.3M251.7,300.3L248.7,297.3M199.2,270.1L204.7,277.1M195.3,278.0L198.0,281.0M212.5,285.5L210.0,284.3M212.5,285.5L217.4,276.9M210.0,284.3L207.1,277.8M217.4,276.9L215.4,274.5M209.0,275.4L207.1,277.8M215.0,287.7L212.5,285.5M215.0,287.7L217.3,288.0M220.1,276.8L217.3,288.0M220.1,276.8L217.4,276.9M216.3,272.3L215.4,274.5M220.1,276.8L222.0,276.2M204.7,277.1L207.1,277.8M197.3,283.7L198.0,281.0M197.3,283.7L205.7,285.7M205.7,285.7L208.6,285.2M212.8,314.8L219.1,309.3M212.8,314.8L210.9,313.2M210.9,313.2L216.3,304.0M219.1,309.3L216.4,304.0M216.4,304.0L216.3,304.0M206.0,318.8L208.6,313.5M208.6,313.5L209.8,312.9M213.6,318.2L212.8,314.8M210.6,322.0L211.4,321.8M209.8,312.9L207.5,305.9M216.3,304.0L215.6,303.7M215.6,303.7L207.5,305.9M190.8,314.6L179.6,311.3M190.8,314.6L179.1,315.2M179.6,311.3L178.9,312.9M179.1,315.2L178.9,312.9M172.8,318.0L171.2,312.6M171.2,312.6L178.9,312.9M179.1,315.9L179.1,315.2M176.8,288.7L183.2,298.8M175.1,293.8L179.8,299.2M183.2,298.8L179.8,299.2M172.8,304.3L175.4,304.6M179.8,299.2L175.4,304.6M246.8,317.4L243.4,311.7M249.0,306.3L243.3,310.9M183.3,340.2L179.7,347.2M184.8,345.5L181.5,348.8M179.7,347.2L181.5,348.8M190.3,341.0L184.5,336.2M190.3,341.0L190.3,343.4M184.5,336.2L183.3,340.2M190.3,343.4L184.8,345.5M181.5,348.9L183.4,350.4M181.5,348.9L181.5,348.8M190.3,343.4L190.4,343.9M232.5,337.9L237.7,328.9M225.9,334.3L235.4,327.2M235.4,327.2L237.7,328.9M236.2,339.2L232.5,337.9M241.5,331.2L237.7,328.9M235.3,326.2L237.8,322.5M235.3,326.2L235.4,327.2M237.8,322.5L245.9,319.4M225.4,337.1L236.3,350.9M225.4,337.1L221.3,341.9M221.3,341.9L232.0,359.5M237.3,349.5L236.3,350.9M226.0,336.1L225.4,337.1M217.8,325.3L224.6,320.4M220.9,317.1L223.6,316.1M223.6,316.1L224.6,320.4M224.5,332.0L218.9,329.3M224.5,332.0L226.1,322.8M224.6,320.4L226.1,322.8M235.3,326.2L231.5,322.9M224.5,332.0L225.9,334.3M231.5,322.9L226.1,322.8M204.5,331.4L204.2,333.5M204.5,331.4L199.3,328.7M204.2,333.5L199.8,334.2M199.1,323.9L198.2,325.8M205.8,327.5L204.5,331.4M198.2,325.8L199.3,328.7M213.1,331.9L212.6,331.8M211.1,333.2L211.6,338.6M217.4,340.5L212.2,339.3M212.2,339.3L211.6,338.6M215.1,330.6L213.1,331.9M208.1,326.5L212.6,331.8M219.8,342.2L217.4,340.5M204.2,333.5L205.9,335.2M205.9,335.2L211.1,333.2M205.9,335.5L205.9,335.2M205.9,335.5L211.6,338.6M204.5,344.1L204.8,343.5M204.8,343.5L212.2,339.3M204.8,343.5L205.9,335.5M163.1,336.4L156.5,337.0M160.0,331.9L158.3,332.2M166.4,333.9L168.7,330.4M166.4,333.9L163.7,336.4M163.7,336.4L163.1,336.4M164.0,329.1L160.0,331.9M152.7,336.8L154.5,338.4M156.5,328.8L158.3,332.2M157.4,343.7L164.2,340.5M164.2,340.5L164.1,340.2M164.1,340.2L154.5,339.1M154.6,342.7L154.5,339.1M166.7,343.2L161.4,346.2M166.7,343.2L164.2,340.5M161.4,346.2L157.4,343.7M154.6,347.2L154.9,343.2M161.7,347.6L161.4,346.2M150.1,343.7L154.6,342.7M163.7,336.4L164.1,340.2M154.5,338.4L154.5,339.1M170.3,343.2L173.0,340.4M170.3,343.2L169.7,344.2M169.7,344.2L170.3,346.6M170.3,346.6L174.0,348.1M174.0,348.1L179.7,347.1M173.0,340.4L176.6,340.6M166.4,333.9L170.3,343.2M172.6,336.2L173.0,340.4M166.7,343.2L169.7,344.2M175.7,356.1L174.0,348.1M175.7,356.1L181.5,348.9M179.7,347.2L179.7,347.1M184.5,336.2L184.0,335.4M169.4,347.9L175.1,358.9M162.2,348.3L167.1,350.7M170.3,346.6L169.4,347.9M167.7,310.1L167.4,307.2M160.3,307.0L155.7,312.3M155.7,312.3L155.9,312.7M179.7,309.8L179.6,311.3M179.7,309.8L178.4,307.2M171.2,312.6L167.7,310.1M175.4,304.6L178.4,307.2M157.0,317.2L155.9,312.7M158.3,304.4L160.3,307.0M223.8,281.4L223.8,281.6M217.3,288.0L218.2,288.2M230.4,281.3L230.0,282.1M226.9,282.5L223.8,281.6M247.0,286.9L258.7,281.9M247.0,286.9L244.4,283.9M245.2,272.4L242.6,277.0M244.4,283.9L242.6,277.0M235.8,280.2L240.5,279.2M235.8,280.2L235.8,284.1M235.8,284.1L240.2,282.8M240.5,279.2L240.2,282.8M234.2,279.3L235.8,280.2M242.6,277.0L240.5,279.2M240.5,283.5L244.4,283.9M234.9,291.2L236.2,295.4M236.2,295.4L233.8,297.7M233.2,289.6L233.6,289.8M233.8,297.7L228.7,300.9M228.7,300.9L222.8,299.1M221.2,290.7L226.5,289.6M240.3,287.0L234.9,291.2M240.3,287.0L240.5,283.5M230.0,282.1L233.2,289.6M226.9,282.5L226.5,289.6M220.7,310.7L228.8,302.1M220.7,310.7L219.1,309.3M228.8,302.1L228.7,300.9M216.4,304.0L222.8,299.1M215.0,287.7L211.2,295.9M211.2,295.9L215.6,303.7M218.2,288.2L221.2,290.7M246.1,296.3L240.2,297.3M246.1,296.3L246.8,287.0M246.8,287.0L246.7,287.0M246.7,287.0L236.6,295.5M248.7,297.3L246.1,296.3M242.6,310.2L243.3,310.9M242.6,310.2L240.2,297.3M236.2,295.4L236.6,295.5M237.2,309.0L242.6,310.2M237.2,309.0L233.8,297.7M194.3,266.8L191.7,277.3M191.7,277.3L188.3,278.9M195.3,278.0L191.7,277.3M197.3,283.7L195.4,286.3M205.7,285.7L199.3,289.6M195.4,286.3L199.3,289.6M188.3,278.9L187.0,280.2M195.4,286.3L188.2,288.2M188.2,288.2L185.1,285.4M185.1,285.4L187.0,280.2M187.0,280.2L182.3,271.8M237.8,322.5L236.2,319.2M243.4,311.7L241.9,312.7M236.2,319.2L241.9,312.7M194.2,331.9L198.1,335.1M194.2,331.9L190.7,340.9M198.1,335.1L197.2,339.3M190.7,340.9L197.2,339.3M198.2,325.8L192.9,330.1M192.9,330.1L194.2,331.9M199.8,334.2L198.1,335.1M190.3,341.0L190.7,340.9M199.5,341.6L197.2,339.3M208.6,285.2L205.2,290.8M199.3,289.6L199.9,291.1M205.2,290.8L199.9,291.1M211.2,295.9L205.7,296.7M205.2,290.8L205.7,296.7M171.8,273.3L180.4,281.1M171.8,273.3L181.8,271.9M181.8,271.9L180.4,281.1M167.7,272.1L171.8,273.3M176.8,288.7L184.0,285.4M184.0,285.4L180.4,281.1M220.7,310.7L223.5,314.0M228.8,302.1L230.0,306.5M223.5,314.0L230.0,306.5M223.6,316.1L223.8,315.4M223.5,314.0L223.8,315.4M237.2,309.0L235.4,309.0M235.4,309.0L232.4,308.1M230.0,306.5L232.4,308.1M190.8,314.6L192.3,314.9M189.2,319.6L192.9,315.9M192.3,314.9L192.9,315.9M188.2,288.2L189.4,295.9M183.2,298.8L188.1,299.1M189.4,295.9L188.1,299.1M178.4,307.2L188.2,299.8M188.1,299.1L188.2,299.8M188.2,299.8L189.0,301.7M228.3,315.4L230.4,313.5M228.3,315.4L232.8,317.6M230.4,313.5L233.5,312.9M233.4,316.9L232.9,317.6M233.5,312.9L233.8,314.0M223.8,315.4L228.3,315.4M232.4,308.1L230.4,313.5M231.5,322.9L232.8,317.6M235.4,309.0L233.5,312.9M239.1,313.7L233.4,316.9M239.1,313.7L233.8,314.0M236.2,319.2L232.9,317.6M241.9,312.7L239.1,313.7M198.0,317.7L197.2,316.8M192.9,315.9L196.4,316.5M197.2,316.8L202.1,311.7M190.8,309.9L198.2,304.9M196.4,316.5L198.2,304.9M203.2,298.4L201.6,298.3M201.6,298.3L198.4,303.7M207.4,305.8L203.5,308.5M203.5,308.5L198.5,304.3M198.4,303.7L198.5,304.3M205.7,296.7L203.2,298.4M199.5,296.4L201.6,298.3M207.5,305.9L207.4,305.8M189.0,301.7L198.4,303.7M198.2,304.9L198.5,304.3" stroke="#c0605a" stroke-width="0.9" stroke-dasharray="0.9 1.1" fill="none" opacity="0.6"/>
<g fill="#b8504c" opacity="0.65"><circle cx="184.6" cy="307.5" r="0.83"/><circle cx="215.9" cy="297.8" r="0.68"/><circle cx="204.5" cy="334.1" r="0.58"/><circle cx="236.8" cy="298.9" r="0.81"/><circle cx="201.0" cy="301.1" r="0.72"/><circle cx="197.4" cy="287.8" r="0.68"/><circle cx="238.0" cy="322.1" r="0.55"/><circle cx="217.2" cy="324.8" r="0.70"/><circle cx="155.5" cy="315.0" r="0.61"/><circle cx="202.6" cy="303.2" r="0.66"/><circle cx="238.9" cy="341.4" r="0.57"/><circle cx="175.5" cy="344.1" r="0.72"/><circle cx="215.9" cy="317.3" r="0.55"/><circle cx="203.5" cy="280.4" r="0.50"/><circle cx="154.6" cy="311.6" r="0.54"/><circle cx="156.0" cy="284.0" r="0.71"/><circle cx="210.9" cy="292.1" r="0.87"/><circle cx="169.5" cy="306.8" r="0.76"/><circle cx="210.1" cy="291.4" r="0.58"/><circle cx="176.3" cy="315.9" r="0.84"/><circle cx="168.7" cy="310.5" r="0.59"/><circle cx="224.4" cy="304.3" r="0.56"/><circle cx="214.5" cy="314.0" r="0.77"/><circle cx="172.8" cy="295.4" r="0.63"/><circle cx="230.3" cy="297.1" r="0.78"/><circle cx="210.5" cy="322.9" r="0.68"/><circle cx="222.1" cy="310.1" r="0.60"/><circle cx="198.6" cy="324.0" r="0.55"/><circle cx="219.8" cy="312.0" r="0.86"/><circle cx="200.9" cy="337.2" r="0.57"/><circle cx="165.1" cy="310.9" r="0.50"/><circle cx="198.3" cy="284.6" r="0.83"/><circle cx="222.7" cy="308.1" r="0.55"/><circle cx="227.4" cy="345.0" r="0.71"/><circle cx="183.7" cy="305.3" r="0.82"/><circle cx="171.2" cy="289.1" r="0.58"/><circle cx="231.1" cy="327.3" r="0.88"/><circle cx="237.8" cy="315.1" r="0.60"/><circle cx="211.5" cy="335.3" r="0.83"/><circle cx="155.3" cy="344.3" r="0.68"/><circle cx="174.3" cy="296.6" r="0.88"/><circle cx="180.6" cy="305.0" r="0.55"/><circle cx="195.6" cy="321.2" r="0.69"/><circle cx="182.5" cy="317.9" r="0.65"/><circle cx="185.6" cy="299.6" r="0.68"/><circle cx="194.5" cy="342.9" r="0.58"/><circle cx="230.7" cy="330.1" r="0.82"/><circle cx="238.3" cy="291.5" r="0.89"/><circle cx="185.4" cy="345.2" r="0.62"/><circle cx="177.8" cy="309.8" r="0.74"/><circle cx="160.2" cy="292.8" r="0.76"/><circle cx="212.8" cy="316.3" r="0.72"/><circle cx="220.3" cy="338.7" r="0.60"/><circle cx="201.8" cy="308.1" r="0.86"/><circle cx="189.1" cy="333.3" r="0.86"/><circle cx="214.6" cy="338.1" r="0.81"/><circle cx="223.1" cy="288.3" r="0.54"/><circle cx="173.8" cy="308.1" r="0.66"/><circle cx="165.9" cy="315.8" r="0.72"/><circle cx="163.5" cy="290.5" r="0.82"/></g>
<ellipse cx="196.5" cy="324.8" rx="14.6" ry="14.9" fill="none" stroke="#e8b0a8" stroke-width="1.6" opacity="0.6"/>
<ellipse cx="196.5" cy="324.8" rx="13.2" ry="13.5" fill="#e8e4b0" stroke="#943a30" stroke-width="1.3"/>
</g></g>
<g clip-path="url(#clC0)"><g filter="url(#soft)">
<rect x="244.2" y="135" width="95.00" height="72.00" fill="#c662cc"/>
<rect x="246.2" y="137" width="91.00" height="68.00" filter="url(#colD)" opacity="0.5"/>
<rect x="246.2" y="137" width="91.00" height="68.00" filter="url(#colLt)" opacity="0.8"/>
<g fill="#8a3a9a" opacity="0.25"><circle cx="307.2" cy="175.1" r="0.55"/><circle cx="269.1" cy="188.2" r="0.73"/><circle cx="289.7" cy="184.3" r="0.61"/><circle cx="296.8" cy="157.4" r="0.58"/><circle cx="328.7" cy="200.0" r="0.54"/><circle cx="284.1" cy="172.2" r="0.44"/><circle cx="246.7" cy="165.1" r="0.72"/><circle cx="304.7" cy="196.7" r="0.44"/><circle cx="291.4" cy="159.1" r="0.55"/><circle cx="330.3" cy="197.6" r="0.76"/><circle cx="319.1" cy="204.4" r="0.77"/><circle cx="258.9" cy="194.6" r="0.51"/><circle cx="247.1" cy="142.5" r="0.58"/><circle cx="257.3" cy="154.8" r="0.41"/><circle cx="248.9" cy="166.6" r="0.78"/><circle cx="252.7" cy="138.2" r="0.62"/><circle cx="295.1" cy="184.0" r="0.45"/><circle cx="301.0" cy="137.3" r="0.44"/><circle cx="281.1" cy="161.6" r="0.47"/><circle cx="263.0" cy="163.5" r="0.53"/><circle cx="250.4" cy="143.3" r="0.49"/><circle cx="283.7" cy="164.1" r="0.43"/><circle cx="290.6" cy="166.0" r="0.48"/><circle cx="314.7" cy="188.6" r="0.74"/><circle cx="255.3" cy="177.2" r="0.53"/><circle cx="258.2" cy="174.7" r="0.65"/><circle cx="273.7" cy="181.6" r="0.44"/><circle cx="284.6" cy="150.7" r="0.48"/><circle cx="300.1" cy="138.6" r="0.73"/><circle cx="301.7" cy="191.2" r="0.45"/><circle cx="262.6" cy="137.7" r="0.73"/><circle cx="273.3" cy="190.8" r="0.79"/><circle cx="256.9" cy="151.0" r="0.77"/><circle cx="286.3" cy="199.3" r="0.79"/><circle cx="337.1" cy="157.7" r="0.44"/><circle cx="292.2" cy="199.1" r="0.45"/><circle cx="250.9" cy="168.6" r="0.77"/><circle cx="318.5" cy="178.1" r="0.48"/><circle cx="298.6" cy="171.6" r="0.52"/><circle cx="302.0" cy="154.4" r="0.80"/><circle cx="335.8" cy="188.9" r="0.56"/><circle cx="316.7" cy="170.9" r="0.58"/><circle cx="289.9" cy="156.0" r="0.42"/><circle cx="257.2" cy="140.1" r="0.56"/><circle cx="304.3" cy="160.1" r="0.53"/><circle cx="288.1" cy="181.1" r="0.50"/><circle cx="311.2" cy="175.6" r="0.66"/><circle cx="310.9" cy="181.8" r="0.59"/><circle cx="256.2" cy="192.6" r="0.40"/><circle cx="281.3" cy="200.1" r="0.74"/><circle cx="327.7" cy="155.4" r="0.76"/><circle cx="298.6" cy="190.5" r="0.57"/><circle cx="326.6" cy="164.4" r="0.52"/><circle cx="330.8" cy="186.8" r="0.52"/><circle cx="250.0" cy="164.2" r="0.70"/><circle cx="317.5" cy="197.0" r="0.75"/><circle cx="257.9" cy="178.2" r="0.55"/><circle cx="285.5" cy="156.8" r="0.42"/><circle cx="293.8" cy="189.1" r="0.77"/><circle cx="312.6" cy="180.4" r="0.68"/><circle cx="318.4" cy="184.9" r="0.49"/><circle cx="304.6" cy="159.8" r="0.72"/><circle cx="324.5" cy="140.8" r="0.73"/><circle cx="252.7" cy="182.1" r="0.67"/><circle cx="326.1" cy="185.9" r="0.50"/><circle cx="298.0" cy="193.7" r="0.58"/><circle cx="248.9" cy="143.9" r="0.74"/><circle cx="314.5" cy="143.3" r="0.78"/><circle cx="250.8" cy="186.8" r="0.60"/><circle cx="296.1" cy="166.9" r="0.80"/><circle cx="258.6" cy="172.2" r="0.60"/><circle cx="328.5" cy="180.7" r="0.46"/><circle cx="259.3" cy="155.7" r="0.64"/><circle cx="314.1" cy="177.7" r="0.79"/><circle cx="282.9" cy="150.8" r="0.68"/><circle cx="270.6" cy="163.3" r="0.73"/><circle cx="334.5" cy="151.7" r="0.71"/><circle cx="250.3" cy="159.5" r="0.42"/><circle cx="288.6" cy="190.3" r="0.63"/><circle cx="314.5" cy="192.8" r="0.50"/><circle cx="318.5" cy="163.6" r="0.66"/><circle cx="283.1" cy="194.9" r="0.52"/><circle cx="330.8" cy="185.6" r="0.58"/><circle cx="298.1" cy="180.8" r="0.72"/><circle cx="257.9" cy="166.4" r="0.57"/><circle cx="316.2" cy="165.2" r="0.61"/><circle cx="274.6" cy="165.0" r="0.51"/><circle cx="294.7" cy="173.1" r="0.58"/><circle cx="278.7" cy="159.7" r="0.79"/><circle cx="318.2" cy="166.6" r="0.51"/><circle cx="307.7" cy="138.5" r="0.60"/><circle cx="286.9" cy="203.0" r="0.43"/><circle cx="247.3" cy="167.2" r="0.51"/><circle cx="314.0" cy="149.9" r="0.71"/><circle cx="266.4" cy="175.5" r="0.65"/><circle cx="246.8" cy="169.9" r="0.56"/><circle cx="277.3" cy="177.0" r="0.45"/><circle cx="274.1" cy="201.6" r="0.75"/><circle cx="249.1" cy="175.0" r="0.46"/><circle cx="260.4" cy="191.8" r="0.52"/><circle cx="251.0" cy="137.6" r="0.62"/><circle cx="311.8" cy="181.6" r="0.60"/><circle cx="267.0" cy="174.7" r="0.40"/><circle cx="310.5" cy="181.0" r="0.78"/><circle cx="278.1" cy="154.3" r="0.56"/><circle cx="293.5" cy="173.6" r="0.44"/><circle cx="328.3" cy="182.7" r="0.57"/><circle cx="288.4" cy="197.9" r="0.41"/><circle cx="308.5" cy="172.6" r="0.73"/><circle cx="277.3" cy="189.4" r="0.71"/><circle cx="295.8" cy="150.8" r="0.49"/><circle cx="266.7" cy="188.1" r="0.58"/><circle cx="329.7" cy="159.6" r="0.52"/><circle cx="328.5" cy="174.3" r="0.52"/><circle cx="258.3" cy="196.6" r="0.55"/><circle cx="297.7" cy="201.1" r="0.65"/><circle cx="316.2" cy="159.1" r="0.67"/><circle cx="252.9" cy="153.0" r="0.70"/><circle cx="296.3" cy="195.3" r="0.51"/><circle cx="255.2" cy="147.7" r="0.60"/></g>
<path d="M246,170 C256,180 268,192 279,206 L246,206Z" fill="#d258c0"/>
<path d="M246,167 C257,177 269,190 281,206" fill="none" stroke="#e2b0e2" stroke-width="4.5" opacity="0.75"/>
<path d="M308,136 L337,156" stroke="#d8a0e0" stroke-width="1.5" opacity="0.8"/>
<path d="M318,136 L337,149" stroke="#d8a0e0" stroke-width="1.2" opacity="0.7"/>
<g fill="#f0d0f2" opacity="0.8"><ellipse cx="246.4" cy="162.8" rx="2.3" ry="1.3" transform="rotate(40 246.4 162.8)"/><ellipse cx="252.7" cy="171.7" rx="2.6" ry="1.3" transform="rotate(40 252.7 171.7)"/><ellipse cx="244.3" cy="146.1" rx="2.7" ry="1.6" transform="rotate(40 244.3 146.1)"/><ellipse cx="251.7" cy="151.0" rx="2.7" ry="1.8" transform="rotate(40 251.7 151.0)"/><ellipse cx="254.6" cy="158.3" rx="2.0" ry="1.7" transform="rotate(40 254.6 158.3)"/><ellipse cx="261.2" cy="164.1" rx="2.5" ry="1.4" transform="rotate(40 261.2 164.1)"/><ellipse cx="261.8" cy="170.5" rx="2.2" ry="1.9" transform="rotate(40 261.8 170.5)"/><ellipse cx="267.0" cy="178.8" rx="2.8" ry="1.4" transform="rotate(40 267.0 178.8)"/><ellipse cx="272.0" cy="185.6" rx="2.6" ry="1.3" transform="rotate(40 272.0 185.6)"/><ellipse cx="276.4" cy="190.4" rx="1.8" ry="1.5" transform="rotate(40 276.4 190.4)"/><ellipse cx="279.5" cy="197.6" rx="2.7" ry="1.9" transform="rotate(40 279.5 197.6)"/><ellipse cx="253.5" cy="140.2" rx="2.0" ry="1.8" transform="rotate(40 253.5 140.2)"/><ellipse cx="256.0" cy="147.2" rx="2.4" ry="1.2" transform="rotate(40 256.0 147.2)"/><ellipse cx="262.3" cy="154.0" rx="1.9" ry="1.8" transform="rotate(40 262.3 154.0)"/><ellipse cx="264.2" cy="161.0" rx="1.9" ry="1.3" transform="rotate(40 264.2 161.0)"/><ellipse cx="269.6" cy="168.3" rx="2.8" ry="1.6" transform="rotate(40 269.6 168.3)"/><ellipse cx="272.9" cy="173.4" rx="2.2" ry="1.6" transform="rotate(40 272.9 173.4)"/><ellipse cx="278.1" cy="182.0" rx="1.9" ry="1.8" transform="rotate(40 278.1 182.0)"/><ellipse cx="282.7" cy="185.6" rx="2.1" ry="1.2" transform="rotate(40 282.7 185.6)"/><ellipse cx="286.6" cy="193.5" rx="2.7" ry="1.6" transform="rotate(40 286.6 193.5)"/><ellipse cx="290.5" cy="201.0" rx="2.3" ry="1.4" transform="rotate(40 290.5 201.0)"/><ellipse cx="293.5" cy="207.1" rx="2.2" ry="1.4" transform="rotate(40 293.5 207.1)"/><ellipse cx="259.0" cy="135.0" rx="2.4" ry="1.6" transform="rotate(40 259.0 135.0)"/><ellipse cx="265.1" cy="142.3" rx="2.1" ry="1.5" transform="rotate(40 265.1 142.3)"/><ellipse cx="267.6" cy="149.9" rx="2.7" ry="1.7" transform="rotate(40 267.6 149.9)"/><ellipse cx="271.6" cy="158.3" rx="1.9" ry="1.3" transform="rotate(40 271.6 158.3)"/><ellipse cx="276.0" cy="161.7" rx="1.9" ry="1.5" transform="rotate(40 276.0 161.7)"/><ellipse cx="280.6" cy="168.4" rx="2.6" ry="1.8" transform="rotate(40 280.6 168.4)"/><ellipse cx="283.8" cy="177.3" rx="2.4" ry="1.3" transform="rotate(40 283.8 177.3)"/><ellipse cx="291.1" cy="181.5" rx="2.4" ry="1.3" transform="rotate(40 291.1 181.5)"/><ellipse cx="293.8" cy="191.1" rx="2.0" ry="1.6" transform="rotate(40 293.8 191.1)"/><ellipse cx="298.1" cy="192.6" rx="2.4" ry="1.8" transform="rotate(40 298.1 192.6)"/><ellipse cx="301.0" cy="201.6" rx="2.2" ry="1.7" transform="rotate(40 301.0 201.6)"/><ellipse cx="272.3" cy="137.5" rx="2.1" ry="1.6" transform="rotate(40 272.3 137.5)"/><ellipse cx="274.9" cy="144.0" rx="2.7" ry="1.9" transform="rotate(40 274.9 144.0)"/><ellipse cx="279.3" cy="153.2" rx="2.6" ry="1.2" transform="rotate(40 279.3 153.2)"/><ellipse cx="282.3" cy="159.5" rx="2.5" ry="1.5" transform="rotate(40 282.3 159.5)"/><ellipse cx="290.4" cy="164.5" rx="2.1" ry="1.4" transform="rotate(40 290.4 164.5)"/><ellipse cx="294.2" cy="171.7" rx="2.2" ry="1.9" transform="rotate(40 294.2 171.7)"/><ellipse cx="295.7" cy="177.2" rx="2.3" ry="1.6" transform="rotate(40 295.7 177.2)"/><ellipse cx="301.1" cy="185.8" rx="2.4" ry="1.7" transform="rotate(40 301.1 185.8)"/><ellipse cx="304.6" cy="189.6" rx="2.0" ry="1.4" transform="rotate(40 304.6 189.6)"/><ellipse cx="307.9" cy="197.9" rx="2.5" ry="1.3" transform="rotate(40 307.9 197.9)"/><ellipse cx="312.9" cy="204.7" rx="2.6" ry="1.3" transform="rotate(40 312.9 204.7)"/><ellipse cx="278.2" cy="135.5" rx="2.6" ry="1.7" transform="rotate(40 278.2 135.5)"/><ellipse cx="282.8" cy="140.8" rx="2.1" ry="1.3" transform="rotate(40 282.8 140.8)"/><ellipse cx="286.5" cy="149.0" rx="2.6" ry="1.8" transform="rotate(40 286.5 149.0)"/><ellipse cx="291.9" cy="153.8" rx="2.2" ry="1.7" transform="rotate(40 291.9 153.8)"/><ellipse cx="294.9" cy="161.4" rx="2.5" ry="1.2" transform="rotate(40 294.9 161.4)"/><ellipse cx="299.1" cy="167.8" rx="2.5" ry="1.4" transform="rotate(40 299.1 167.8)"/><ellipse cx="303.9" cy="175.6" rx="2.0" ry="1.5" transform="rotate(40 303.9 175.6)"/><ellipse cx="307.5" cy="180.3" rx="2.4" ry="1.3" transform="rotate(40 307.5 180.3)"/><ellipse cx="310.7" cy="186.8" rx="2.1" ry="1.7" transform="rotate(40 310.7 186.8)"/><ellipse cx="315.6" cy="191.9" rx="2.1" ry="1.9" transform="rotate(40 315.6 191.9)"/><ellipse cx="319.9" cy="202.0" rx="2.5" ry="1.5" transform="rotate(40 319.9 202.0)"/><ellipse cx="323.9" cy="207.1" rx="1.8" ry="1.6" transform="rotate(40 323.9 207.1)"/><ellipse cx="288.3" cy="137.9" rx="2.4" ry="1.3" transform="rotate(40 288.3 137.9)"/><ellipse cx="293.1" cy="145.6" rx="2.2" ry="1.6" transform="rotate(40 293.1 145.6)"/><ellipse cx="295.8" cy="149.7" rx="2.7" ry="1.5" transform="rotate(40 295.8 149.7)"/><ellipse cx="302.1" cy="158.5" rx="2.2" ry="1.8" transform="rotate(40 302.1 158.5)"/><ellipse cx="306.3" cy="163.5" rx="2.7" ry="1.2" transform="rotate(40 306.3 163.5)"/><ellipse cx="312.2" cy="170.6" rx="2.4" ry="1.5" transform="rotate(40 312.2 170.6)"/><ellipse cx="313.4" cy="177.6" rx="2.6" ry="1.6" transform="rotate(40 313.4 177.6)"/><ellipse cx="317.7" cy="181.2" rx="1.8" ry="1.7" transform="rotate(40 317.7 181.2)"/><ellipse cx="322.5" cy="189.5" rx="2.6" ry="1.6" transform="rotate(40 322.5 189.5)"/><ellipse cx="327.0" cy="196.6" rx="2.7" ry="1.7" transform="rotate(40 327.0 196.6)"/><ellipse cx="329.1" cy="203.5" rx="2.7" ry="1.5" transform="rotate(40 329.1 203.5)"/><ellipse cx="300.7" cy="138.6" rx="2.0" ry="1.4" transform="rotate(40 300.7 138.6)"/><ellipse cx="305.2" cy="145.9" rx="2.3" ry="1.4" transform="rotate(40 305.2 145.9)"/><ellipse cx="309.1" cy="151.8" rx="2.5" ry="1.7" transform="rotate(40 309.1 151.8)"/><ellipse cx="312.2" cy="160.5" rx="2.3" ry="1.4" transform="rotate(40 312.2 160.5)"/><ellipse cx="316.6" cy="165.6" rx="2.6" ry="1.7" transform="rotate(40 316.6 165.6)"/><ellipse cx="322.9" cy="170.6" rx="2.8" ry="1.3" transform="rotate(40 322.9 170.6)"/><ellipse cx="324.4" cy="177.5" rx="2.8" ry="1.3" transform="rotate(40 324.4 177.5)"/><ellipse cx="329.0" cy="186.1" rx="2.5" ry="1.4" transform="rotate(40 329.0 186.1)"/><ellipse cx="333.8" cy="193.1" rx="2.5" ry="1.4" transform="rotate(40 333.8 193.1)"/><ellipse cx="336.2" cy="197.9" rx="2.5" ry="1.5" transform="rotate(40 336.2 197.9)"/><ellipse cx="307.8" cy="135.6" rx="2.6" ry="1.2" transform="rotate(40 307.8 135.6)"/><ellipse cx="309.9" cy="141.2" rx="2.4" ry="1.5" transform="rotate(40 309.9 141.2)"/><ellipse cx="316.3" cy="149.2" rx="2.3" ry="1.2" transform="rotate(40 316.3 149.2)"/><ellipse cx="319.8" cy="153.3" rx="2.7" ry="1.3" transform="rotate(40 319.8 153.3)"/><ellipse cx="324.9" cy="161.3" rx="2.3" ry="1.7" transform="rotate(40 324.9 161.3)"/><ellipse cx="328.8" cy="168.3" rx="2.2" ry="1.8" transform="rotate(40 328.8 168.3)"/><ellipse cx="331.2" cy="174.8" rx="2.3" ry="1.5" transform="rotate(40 331.2 174.8)"/><ellipse cx="337.0" cy="181.8" rx="2.7" ry="1.4" transform="rotate(40 337.0 181.8)"/><ellipse cx="318.1" cy="138.8" rx="2.6" ry="1.7" transform="rotate(40 318.1 138.8)"/><ellipse cx="322.5" cy="144.3" rx="1.9" ry="1.2" transform="rotate(40 322.5 144.3)"/><ellipse cx="327.2" cy="147.8" rx="2.3" ry="1.5" transform="rotate(40 327.2 147.8)"/><ellipse cx="329.7" cy="154.3" rx="2.1" ry="1.6" transform="rotate(40 329.7 154.3)"/><ellipse cx="333.9" cy="163.1" rx="2.1" ry="1.5" transform="rotate(40 333.9 163.1)"/><ellipse cx="339.3" cy="170.0" rx="2.7" ry="1.6" transform="rotate(40 339.3 170.0)"/><ellipse cx="329.2" cy="139.6" rx="2.5" ry="1.7" transform="rotate(40 329.2 139.6)"/><ellipse cx="332.1" cy="144.6" rx="2.8" ry="1.9" transform="rotate(40 332.1 144.6)"/><ellipse cx="337.7" cy="155.0" rx="2.3" ry="1.7" transform="rotate(40 337.7 155.0)"/><ellipse cx="337.9" cy="136.6" rx="1.9" ry="1.8" transform="rotate(40 337.9 136.6)"/></g>
</g></g>
<g clip-path="url(#clC1)"><g filter="url(#soft)">
<rect x="244.2" y="205.3" width="95.00" height="72.30" fill="#ca64cc"/>
<rect x="246.2" y="207.3" width="91.00" height="68.30" filter="url(#colD)" opacity="0.5"/>
<rect x="246.2" y="207.3" width="91.00" height="68.30" filter="url(#colLt)" opacity="0.8"/>
<g fill="#8a3a9a" opacity="0.25"><circle cx="282.7" cy="221.0" r="0.54"/><circle cx="330.5" cy="267.7" r="0.69"/><circle cx="255.2" cy="210.1" r="0.41"/><circle cx="299.2" cy="227.6" r="0.61"/><circle cx="336.1" cy="252.5" r="0.70"/><circle cx="262.6" cy="272.6" r="0.57"/><circle cx="264.3" cy="218.8" r="0.57"/><circle cx="258.0" cy="244.0" r="0.67"/><circle cx="316.0" cy="224.0" r="0.41"/><circle cx="305.3" cy="248.2" r="0.69"/><circle cx="290.7" cy="269.9" r="0.55"/><circle cx="271.6" cy="263.3" r="0.46"/><circle cx="280.2" cy="221.3" r="0.76"/><circle cx="326.8" cy="260.8" r="0.42"/><circle cx="270.8" cy="230.9" r="0.72"/><circle cx="270.2" cy="225.7" r="0.46"/><circle cx="305.2" cy="263.8" r="0.59"/><circle cx="251.7" cy="266.6" r="0.68"/><circle cx="306.7" cy="250.7" r="0.79"/><circle cx="302.6" cy="258.9" r="0.74"/><circle cx="261.6" cy="230.7" r="0.77"/><circle cx="265.6" cy="234.2" r="0.64"/><circle cx="319.8" cy="215.7" r="0.54"/><circle cx="330.4" cy="234.4" r="0.65"/><circle cx="285.6" cy="224.8" r="0.79"/><circle cx="251.0" cy="207.4" r="0.61"/><circle cx="272.5" cy="218.1" r="0.42"/><circle cx="318.9" cy="261.4" r="0.57"/><circle cx="290.9" cy="225.6" r="0.71"/><circle cx="290.4" cy="230.9" r="0.57"/><circle cx="325.6" cy="219.7" r="0.48"/><circle cx="326.3" cy="273.8" r="0.66"/><circle cx="300.9" cy="230.2" r="0.67"/><circle cx="266.7" cy="242.1" r="0.43"/><circle cx="304.2" cy="209.1" r="0.63"/><circle cx="335.2" cy="249.7" r="0.55"/><circle cx="306.1" cy="233.7" r="0.71"/><circle cx="299.5" cy="233.3" r="0.73"/><circle cx="248.5" cy="266.8" r="0.63"/><circle cx="289.3" cy="254.3" r="0.76"/><circle cx="279.5" cy="214.8" r="0.69"/><circle cx="275.7" cy="230.5" r="0.52"/><circle cx="297.0" cy="250.1" r="0.61"/><circle cx="290.8" cy="211.0" r="0.48"/><circle cx="334.4" cy="246.5" r="0.69"/><circle cx="280.3" cy="265.1" r="0.53"/><circle cx="258.0" cy="222.1" r="0.64"/><circle cx="311.4" cy="226.9" r="0.42"/><circle cx="276.1" cy="215.6" r="0.45"/><circle cx="317.2" cy="271.4" r="0.49"/><circle cx="282.8" cy="219.5" r="0.65"/><circle cx="299.3" cy="250.9" r="0.51"/><circle cx="303.2" cy="213.8" r="0.79"/><circle cx="332.8" cy="237.1" r="0.56"/><circle cx="262.6" cy="234.4" r="0.47"/><circle cx="333.1" cy="250.5" r="0.73"/><circle cx="291.3" cy="255.2" r="0.52"/><circle cx="336.4" cy="256.9" r="0.68"/><circle cx="248.7" cy="269.1" r="0.41"/><circle cx="293.7" cy="239.5" r="0.60"/><circle cx="253.2" cy="241.1" r="0.61"/><circle cx="282.7" cy="221.5" r="0.54"/><circle cx="290.7" cy="214.4" r="0.41"/><circle cx="273.4" cy="250.2" r="0.77"/><circle cx="256.6" cy="247.0" r="0.71"/><circle cx="261.7" cy="246.5" r="0.55"/><circle cx="267.1" cy="269.0" r="0.46"/><circle cx="304.2" cy="255.1" r="0.65"/><circle cx="276.3" cy="224.0" r="0.61"/><circle cx="328.5" cy="237.0" r="0.47"/><circle cx="255.2" cy="229.6" r="0.54"/><circle cx="275.8" cy="224.6" r="0.69"/><circle cx="321.9" cy="226.8" r="0.53"/><circle cx="260.2" cy="212.8" r="0.65"/><circle cx="312.3" cy="242.8" r="0.41"/><circle cx="272.8" cy="213.0" r="0.51"/><circle cx="323.6" cy="257.1" r="0.62"/><circle cx="285.4" cy="248.6" r="0.49"/><circle cx="270.0" cy="216.0" r="0.79"/><circle cx="278.3" cy="211.4" r="0.79"/><circle cx="310.3" cy="230.9" r="0.79"/><circle cx="263.8" cy="213.6" r="0.41"/><circle cx="317.4" cy="269.1" r="0.46"/><circle cx="252.2" cy="264.3" r="0.60"/><circle cx="292.4" cy="266.3" r="0.49"/><circle cx="298.8" cy="220.2" r="0.71"/><circle cx="330.4" cy="275.4" r="0.70"/><circle cx="323.3" cy="261.7" r="0.67"/><circle cx="275.9" cy="262.9" r="0.60"/><circle cx="270.9" cy="245.1" r="0.45"/><circle cx="267.4" cy="227.0" r="0.54"/><circle cx="301.8" cy="226.2" r="0.71"/><circle cx="272.0" cy="265.4" r="0.46"/><circle cx="303.5" cy="242.9" r="0.77"/><circle cx="247.7" cy="253.9" r="0.47"/><circle cx="305.0" cy="266.1" r="0.76"/><circle cx="268.2" cy="217.9" r="0.43"/><circle cx="323.0" cy="258.1" r="0.54"/><circle cx="283.7" cy="222.0" r="0.73"/><circle cx="246.8" cy="262.7" r="0.61"/><circle cx="315.9" cy="234.8" r="0.51"/><circle cx="256.5" cy="238.2" r="0.70"/><circle cx="300.3" cy="232.9" r="0.56"/><circle cx="325.6" cy="261.8" r="0.49"/><circle cx="325.7" cy="234.6" r="0.63"/><circle cx="313.4" cy="261.3" r="0.73"/><circle cx="306.6" cy="259.9" r="0.56"/><circle cx="250.6" cy="217.1" r="0.64"/><circle cx="288.9" cy="255.9" r="0.61"/><circle cx="260.2" cy="226.2" r="0.43"/><circle cx="250.5" cy="263.2" r="0.44"/><circle cx="304.2" cy="255.5" r="0.64"/><circle cx="254.3" cy="258.7" r="0.62"/><circle cx="320.9" cy="274.9" r="0.75"/><circle cx="328.3" cy="216.5" r="0.79"/><circle cx="258.5" cy="246.4" r="0.65"/><circle cx="302.5" cy="267.8" r="0.78"/><circle cx="299.7" cy="212.4" r="0.74"/><circle cx="252.2" cy="242.3" r="0.76"/><circle cx="323.7" cy="256.6" r="0.76"/></g>
<path d="M246,250 C265,255 285,262 300,267 C310,271 316,274 320,276 L246,276Z" fill="#d858ba"/>
<path d="M246,245.5 C265,250.5 285,256.5 300,262 C312,266.5 324,270.5 338,276" fill="none" stroke="#e6c4e2" stroke-width="9" opacity="0.75"/>
<g fill="#f0d0ec" opacity="0.6"></g>
<g fill="#e0b8ec" opacity="0.75"><ellipse cx="285.9" cy="231.2" rx="2.1" ry="1.0"/><ellipse cx="315.2" cy="254.4" rx="1.3" ry="1.4"/><ellipse cx="334.9" cy="210.5" rx="1.4" ry="1.2"/><ellipse cx="275.0" cy="244.5" rx="2.1" ry="1.6"/><ellipse cx="318.4" cy="215.6" rx="1.6" ry="1.1"/><ellipse cx="260.9" cy="232.5" rx="2.0" ry="1.5"/><ellipse cx="332.1" cy="219.3" rx="1.9" ry="1.4"/><ellipse cx="264.0" cy="210.5" rx="1.6" ry="1.6"/><ellipse cx="296.5" cy="247.7" rx="1.5" ry="1.1"/><ellipse cx="280.6" cy="215.8" rx="2.0" ry="1.3"/><ellipse cx="258.2" cy="227.0" rx="1.4" ry="1.2"/><ellipse cx="309.0" cy="237.3" rx="1.6" ry="1.7"/><ellipse cx="293.8" cy="224.1" rx="2.0" ry="1.2"/><ellipse cx="298.4" cy="235.9" rx="1.7" ry="1.7"/><ellipse cx="253.6" cy="221.4" rx="2.2" ry="1.6"/><ellipse cx="276.1" cy="244.5" rx="2.2" ry="1.6"/><ellipse cx="291.4" cy="238.4" rx="1.3" ry="1.7"/><ellipse cx="270.8" cy="228.0" rx="1.8" ry="1.5"/><ellipse cx="322.3" cy="253.5" rx="1.7" ry="1.4"/><ellipse cx="319.9" cy="249.4" rx="2.1" ry="1.4"/><ellipse cx="334.3" cy="247.5" rx="1.3" ry="1.1"/><ellipse cx="266.1" cy="233.7" rx="2.2" ry="1.8"/><ellipse cx="286.9" cy="245.4" rx="1.2" ry="1.7"/><ellipse cx="292.0" cy="227.3" rx="1.4" ry="1.4"/><ellipse cx="274.7" cy="238.7" rx="2.0" ry="1.3"/><ellipse cx="258.3" cy="246.0" rx="1.4" ry="1.5"/><ellipse cx="289.5" cy="235.3" rx="1.7" ry="1.4"/><ellipse cx="327.7" cy="215.4" rx="1.6" ry="1.5"/></g>
</g></g>
<g clip-path="url(#clC2)"><g filter="url(#soft)">
<rect x="244.2" y="275.5" width="95.00" height="71.70" fill="#c862cc"/>
<rect x="246.2" y="277.5" width="91.00" height="67.70" filter="url(#colD)" opacity="0.5"/>
<rect x="246.2" y="277.5" width="91.00" height="67.70" filter="url(#colLt)" opacity="0.8"/>
<g fill="#8a3a9a" opacity="0.25"><circle cx="315.3" cy="325.3" r="0.80"/><circle cx="296.8" cy="290.5" r="0.50"/><circle cx="310.4" cy="325.4" r="0.74"/><circle cx="336.2" cy="285.1" r="0.79"/><circle cx="274.5" cy="286.6" r="0.58"/><circle cx="274.9" cy="296.2" r="0.66"/><circle cx="329.9" cy="324.5" r="0.58"/><circle cx="305.4" cy="302.5" r="0.49"/><circle cx="300.1" cy="322.4" r="0.70"/><circle cx="250.2" cy="304.4" r="0.78"/><circle cx="269.3" cy="279.4" r="0.76"/><circle cx="309.7" cy="321.8" r="0.67"/><circle cx="315.6" cy="283.9" r="0.75"/><circle cx="326.3" cy="277.9" r="0.76"/><circle cx="327.2" cy="291.0" r="0.44"/><circle cx="294.5" cy="296.0" r="0.66"/><circle cx="278.5" cy="302.0" r="0.72"/><circle cx="333.7" cy="278.9" r="0.68"/><circle cx="320.6" cy="316.7" r="0.55"/><circle cx="306.9" cy="286.6" r="0.48"/><circle cx="325.4" cy="328.9" r="0.43"/><circle cx="322.0" cy="294.9" r="0.80"/><circle cx="266.1" cy="288.1" r="0.78"/><circle cx="315.2" cy="333.3" r="0.59"/><circle cx="321.3" cy="325.3" r="0.71"/><circle cx="334.8" cy="305.7" r="0.63"/><circle cx="286.0" cy="330.5" r="0.80"/><circle cx="263.3" cy="293.2" r="0.49"/><circle cx="295.7" cy="311.4" r="0.46"/><circle cx="266.1" cy="299.5" r="0.57"/><circle cx="258.1" cy="329.8" r="0.49"/><circle cx="285.9" cy="306.6" r="0.56"/><circle cx="248.8" cy="287.5" r="0.57"/><circle cx="305.0" cy="336.8" r="0.66"/><circle cx="251.6" cy="296.8" r="0.57"/><circle cx="319.0" cy="289.2" r="0.76"/><circle cx="267.6" cy="333.3" r="0.75"/><circle cx="253.2" cy="288.4" r="0.53"/><circle cx="332.1" cy="307.7" r="0.67"/><circle cx="328.2" cy="314.8" r="0.43"/><circle cx="252.6" cy="338.5" r="0.72"/><circle cx="316.7" cy="323.4" r="0.78"/><circle cx="279.5" cy="290.4" r="0.40"/><circle cx="288.0" cy="318.5" r="0.64"/><circle cx="316.2" cy="320.7" r="0.69"/><circle cx="294.3" cy="313.5" r="0.57"/><circle cx="267.3" cy="338.4" r="0.79"/><circle cx="247.2" cy="283.4" r="0.50"/><circle cx="312.9" cy="277.9" r="0.75"/><circle cx="258.0" cy="278.0" r="0.48"/><circle cx="303.4" cy="279.2" r="0.49"/><circle cx="274.9" cy="311.9" r="0.56"/><circle cx="288.8" cy="279.2" r="0.56"/><circle cx="326.7" cy="279.4" r="0.49"/><circle cx="246.2" cy="303.7" r="0.55"/><circle cx="314.7" cy="299.4" r="0.51"/><circle cx="261.5" cy="315.9" r="0.55"/><circle cx="275.2" cy="304.9" r="0.59"/><circle cx="326.0" cy="307.2" r="0.55"/><circle cx="251.1" cy="313.0" r="0.78"/><circle cx="285.5" cy="305.1" r="0.75"/><circle cx="247.7" cy="341.4" r="0.51"/><circle cx="269.7" cy="312.9" r="0.47"/><circle cx="273.1" cy="319.4" r="0.50"/><circle cx="301.1" cy="290.7" r="0.77"/><circle cx="323.0" cy="334.2" r="0.53"/><circle cx="283.8" cy="316.2" r="0.48"/><circle cx="251.4" cy="319.7" r="0.72"/><circle cx="253.8" cy="297.3" r="0.62"/><circle cx="252.9" cy="306.4" r="0.43"/><circle cx="326.5" cy="280.6" r="0.66"/><circle cx="254.6" cy="335.3" r="0.51"/><circle cx="314.9" cy="318.3" r="0.63"/><circle cx="306.9" cy="306.2" r="0.79"/><circle cx="298.5" cy="338.5" r="0.65"/><circle cx="250.3" cy="292.1" r="0.48"/><circle cx="323.3" cy="302.2" r="0.68"/><circle cx="306.3" cy="293.9" r="0.41"/><circle cx="262.2" cy="341.5" r="0.71"/><circle cx="334.3" cy="338.9" r="0.80"/><circle cx="325.0" cy="323.5" r="0.50"/><circle cx="315.7" cy="318.4" r="0.74"/><circle cx="304.2" cy="291.1" r="0.68"/><circle cx="285.7" cy="304.8" r="0.50"/><circle cx="300.1" cy="311.0" r="0.60"/><circle cx="274.6" cy="328.9" r="0.43"/><circle cx="272.0" cy="287.1" r="0.52"/><circle cx="332.3" cy="316.8" r="0.46"/><circle cx="290.5" cy="289.5" r="0.42"/><circle cx="289.0" cy="309.3" r="0.58"/><circle cx="306.6" cy="341.0" r="0.66"/><circle cx="291.0" cy="290.3" r="0.64"/><circle cx="293.3" cy="292.0" r="0.71"/><circle cx="292.3" cy="313.1" r="0.69"/><circle cx="303.2" cy="311.1" r="0.52"/><circle cx="250.0" cy="296.8" r="0.74"/><circle cx="319.5" cy="292.4" r="0.70"/><circle cx="294.3" cy="314.2" r="0.53"/><circle cx="289.7" cy="341.8" r="0.67"/><circle cx="322.1" cy="305.4" r="0.62"/><circle cx="261.1" cy="310.0" r="0.62"/><circle cx="251.1" cy="318.5" r="0.68"/><circle cx="304.0" cy="310.3" r="0.55"/><circle cx="331.5" cy="323.0" r="0.54"/><circle cx="305.9" cy="340.4" r="0.59"/><circle cx="329.0" cy="344.7" r="0.51"/><circle cx="307.7" cy="298.1" r="0.47"/><circle cx="336.6" cy="296.8" r="0.72"/><circle cx="310.7" cy="302.9" r="0.49"/><circle cx="258.5" cy="292.5" r="0.66"/><circle cx="250.6" cy="288.4" r="0.61"/><circle cx="314.5" cy="290.5" r="0.51"/><circle cx="315.5" cy="330.2" r="0.51"/><circle cx="327.5" cy="280.2" r="0.42"/><circle cx="291.7" cy="330.6" r="0.64"/><circle cx="331.4" cy="299.3" r="0.67"/><circle cx="275.3" cy="341.6" r="0.47"/><circle cx="319.1" cy="342.8" r="0.67"/><circle cx="309.2" cy="312.8" r="0.79"/><circle cx="310.3" cy="302.1" r="0.51"/></g>
<path d="M246,303.7 C258,315 275,330 290,346 L246,346Z" fill="#d456b8"/>
<path d="M246,303.7 C258,315 275,330 290,346" fill="none" stroke="#e4a8e0" stroke-width="1.6" opacity="0.8"/>
<path d="M246,322 C252,330 258,338 266,346 L246,346Z" fill="#d8c4b4"/>
<g fill="#e4c0ee" opacity="0.7"><ellipse cx="307.8" cy="287.7" rx="1.0" ry="1.2"/><ellipse cx="330.1" cy="284.3" rx="1.6" ry="1.3"/><ellipse cx="275.8" cy="295.1" rx="1.5" ry="1.2"/><ellipse cx="321.9" cy="338.3" rx="1.3" ry="1.2"/><ellipse cx="266.5" cy="306.8" rx="1.4" ry="0.9"/><ellipse cx="326.5" cy="292.6" rx="1.6" ry="1.0"/><ellipse cx="295.8" cy="313.4" rx="1.4" ry="1.3"/><ellipse cx="258.8" cy="284.4" rx="1.1" ry="1.0"/><ellipse cx="294.1" cy="308.1" rx="2.0" ry="1.5"/><ellipse cx="331.2" cy="324.7" rx="1.2" ry="1.5"/><ellipse cx="329.6" cy="309.1" rx="1.4" ry="1.6"/><ellipse cx="277.7" cy="302.2" rx="1.1" ry="1.6"/><ellipse cx="252.4" cy="308.9" rx="1.9" ry="0.9"/><ellipse cx="293.8" cy="299.9" rx="1.9" ry="1.5"/><ellipse cx="302.5" cy="295.8" rx="1.4" ry="1.6"/><ellipse cx="300.3" cy="294.2" rx="1.9" ry="1.0"/><ellipse cx="301.3" cy="288.9" rx="1.4" ry="1.0"/><ellipse cx="310.1" cy="315.7" rx="1.3" ry="1.1"/><ellipse cx="275.5" cy="305.0" rx="1.1" ry="1.0"/><ellipse cx="308.5" cy="319.1" rx="1.7" ry="1.1"/><ellipse cx="285.0" cy="326.3" rx="1.5" ry="1.3"/></g>
</g></g>
<rect x="371.5" y="135.2" width="130" height="225.8" fill="#040203"/>
<g filter="url(#glow)"><circle cx="429.8" cy="162.7" r="4.62" fill="#5a0808" opacity="0.8"/><circle cx="430.3" cy="160.7" r="1.53" fill="#c21818"/><circle cx="429.0" cy="164.4" r="2.03" fill="#cc1c1c"/><circle cx="431.3" cy="163.7" r="2.02" fill="#981010"/><circle cx="428.6" cy="161.8" r="1.64" fill="#c21818"/><circle cx="431.6" cy="160.8" r="1.94" fill="#b01414"/><circle cx="435.6" cy="166.7" r="4.62" fill="#5a0808" opacity="0.8"/><circle cx="436.7" cy="165.6" r="1.62" fill="#b01414"/><circle cx="434.5" cy="168.2" r="1.42" fill="#981010"/><circle cx="435.6" cy="165.3" r="1.67" fill="#b01414"/><circle cx="437.5" cy="166.7" r="1.40" fill="#cc1c1c"/><circle cx="436.2" cy="165.2" r="2.03" fill="#b01414"/><circle cx="457.1" cy="159.2" r="4.20" fill="#5a0808" opacity="0.8"/><circle cx="456.9" cy="161.3" r="1.55" fill="#c21818"/><circle cx="458.5" cy="159.0" r="1.70" fill="#981010"/><circle cx="458.6" cy="160.1" r="1.33" fill="#981010"/><circle cx="458.5" cy="160.3" r="1.26" fill="#c21818"/><circle cx="454.9" cy="159.6" r="1.82" fill="#b01414"/><circle cx="410.4" cy="167.0" r="3.57" fill="#5a0808" opacity="0.8"/><circle cx="411.7" cy="166.3" r="1.20" fill="#cc1c1c"/><circle cx="411.6" cy="168.4" r="1.12" fill="#c21818"/><circle cx="411.2" cy="166.0" r="1.53" fill="#981010"/><circle cx="411.2" cy="167.7" r="1.48" fill="#cc1c1c"/><circle cx="412.3" cy="166.4" r="1.53" fill="#cc1c1c"/><circle cx="474.2" cy="174.8" r="4.62" fill="#5a0808" opacity="0.8"/><circle cx="474.6" cy="172.6" r="1.99" fill="#c21818"/><circle cx="476.5" cy="174.2" r="2.06" fill="#cc1c1c"/><circle cx="475.8" cy="175.1" r="1.60" fill="#c21818"/><circle cx="472.1" cy="174.1" r="1.77" fill="#c21818"/><circle cx="472.3" cy="175.2" r="1.79" fill="#b01414"/><circle cx="465.6" cy="174.2" r="1.89" fill="#5a0808" opacity="0.8"/><circle cx="466.2" cy="173.3" r="0.83" fill="#c21818"/><circle cx="466.3" cy="174.4" r="0.65" fill="#c21818"/><circle cx="466.6" cy="174.0" r="0.70" fill="#b01414"/><circle cx="466.3" cy="174.6" r="0.61" fill="#cc1c1c"/><circle cx="464.6" cy="174.5" r="0.70" fill="#cc1c1c"/><circle cx="381.2" cy="183.5" r="4.62" fill="#5a0808" opacity="0.8"/><circle cx="382.8" cy="184.2" r="1.73" fill="#cc1c1c"/><circle cx="383.4" cy="185.0" r="1.39" fill="#cc1c1c"/><circle cx="381.0" cy="181.5" r="2.05" fill="#cc1c1c"/><circle cx="382.4" cy="184.0" r="1.40" fill="#981010"/><circle cx="380.5" cy="182.1" r="1.46" fill="#981010"/><circle cx="417.3" cy="186.2" r="4.41" fill="#5a0808" opacity="0.8"/><circle cx="419.8" cy="186.5" r="1.85" fill="#cc1c1c"/><circle cx="415.9" cy="184.5" r="2.10" fill="#b01414"/><circle cx="418.0" cy="184.0" r="1.69" fill="#b01414"/><circle cx="416.9" cy="188.4" r="1.39" fill="#b01414"/><circle cx="417.3" cy="188.5" r="1.82" fill="#c21818"/><circle cx="434.6" cy="202.7" r="4.41" fill="#5a0808" opacity="0.8"/><circle cx="433.1" cy="201.2" r="1.30" fill="#b01414"/><circle cx="433.5" cy="201.0" r="1.44" fill="#b01414"/><circle cx="436.3" cy="201.1" r="1.93" fill="#b01414"/><circle cx="435.7" cy="201.4" r="1.94" fill="#b01414"/><circle cx="434.7" cy="200.7" r="1.74" fill="#b01414"/><circle cx="456.4" cy="202.1" r="4.41" fill="#5a0808" opacity="0.8"/><circle cx="454.4" cy="201.8" r="2.09" fill="#981010"/><circle cx="458.7" cy="202.6" r="2.04" fill="#b01414"/><circle cx="457.8" cy="201.0" r="1.85" fill="#981010"/><circle cx="454.8" cy="201.5" r="1.45" fill="#b01414"/><circle cx="457.9" cy="203.9" r="2.09" fill="#c21818"/><circle cx="428" cy="212.8" r="4.20" fill="#5a0808" opacity="0.8"/><circle cx="426.5" cy="213.0" r="1.67" fill="#c21818"/><circle cx="426.2" cy="213.9" r="1.87" fill="#981010"/><circle cx="428.0" cy="211.5" r="1.93" fill="#981010"/><circle cx="429.3" cy="212.0" r="1.75" fill="#cc1c1c"/><circle cx="426.4" cy="213.9" r="1.81" fill="#981010"/><circle cx="447.1" cy="217.6" r="4.41" fill="#5a0808" opacity="0.8"/><circle cx="445.5" cy="216.4" r="1.66" fill="#c21818"/><circle cx="445.9" cy="215.6" r="1.31" fill="#b01414"/><circle cx="447.8" cy="219.2" r="1.51" fill="#cc1c1c"/><circle cx="445.7" cy="218.5" r="2.04" fill="#b01414"/><circle cx="446.6" cy="215.9" r="1.44" fill="#cc1c1c"/><circle cx="437.8" cy="222.9" r="3.57" fill="#5a0808" opacity="0.8"/><circle cx="436.0" cy="222.9" r="1.13" fill="#b01414"/><circle cx="439.5" cy="223.3" r="1.54" fill="#c21818"/><circle cx="439.3" cy="222.2" r="1.41" fill="#c21818"/><circle cx="439.1" cy="221.8" r="1.10" fill="#cc1c1c"/><circle cx="436.3" cy="222.3" r="1.62" fill="#b01414"/><circle cx="472.4" cy="218.6" r="3.57" fill="#5a0808" opacity="0.8"/><circle cx="470.9" cy="219.8" r="1.68" fill="#b01414"/><circle cx="473.9" cy="219.7" r="1.08" fill="#cc1c1c"/><circle cx="473.2" cy="217.1" r="1.09" fill="#cc1c1c"/><circle cx="471.1" cy="218.4" r="1.02" fill="#c21818"/><circle cx="471.0" cy="218.6" r="1.24" fill="#cc1c1c"/><circle cx="467.9" cy="226.1" r="4.41" fill="#5a0808" opacity="0.8"/><circle cx="469.8" cy="226.2" r="1.95" fill="#c21818"/><circle cx="469.2" cy="226.9" r="1.63" fill="#c21818"/><circle cx="466.4" cy="227.0" r="1.57" fill="#c21818"/><circle cx="468.0" cy="224.0" r="1.66" fill="#981010"/><circle cx="467.7" cy="224.2" r="1.35" fill="#c21818"/><circle cx="445" cy="234.0" r="4.62" fill="#5a0808" opacity="0.8"/><circle cx="446.2" cy="233.0" r="1.38" fill="#b01414"/><circle cx="442.4" cy="234.0" r="1.44" fill="#981010"/><circle cx="446.2" cy="234.8" r="1.66" fill="#c21818"/><circle cx="444.4" cy="231.5" r="1.33" fill="#981010"/><circle cx="444.4" cy="235.6" r="1.38" fill="#cc1c1c"/></g>
<g filter="url(#glow)"><circle cx="429.8" cy="276.2" r="4.62" fill="#4a1408" opacity="0.8"/><circle cx="427.6" cy="277.4" r="1.78" fill="#982a0a"/><circle cx="428.4" cy="277.7" r="1.65" fill="#b85414"/><circle cx="428.9" cy="278.1" r="1.91" fill="#b04010"/><circle cx="429.8" cy="278.5" r="1.94" fill="#b85414"/><circle cx="430.9" cy="275.0" r="2.13" fill="#982a0a"/><circle cx="435.6" cy="280.2" r="4.62" fill="#4a1408" opacity="0.8"/><circle cx="433.3" cy="281.2" r="1.78" fill="#982a0a"/><circle cx="435.1" cy="282.1" r="1.74" fill="#982a0a"/><circle cx="433.1" cy="280.6" r="1.68" fill="#882008"/><circle cx="434.5" cy="282.5" r="2.13" fill="#b04010"/><circle cx="436.4" cy="278.8" r="1.80" fill="#b04010"/><circle cx="457.1" cy="272.7" r="4.20" fill="#4a1408" opacity="0.8"/><circle cx="457.5" cy="270.5" r="1.32" fill="#b04010"/><circle cx="455.3" cy="272.2" r="1.79" fill="#882008"/><circle cx="457.0" cy="274.0" r="1.90" fill="#b85414"/><circle cx="458.3" cy="272.4" r="1.53" fill="#882008"/><circle cx="455.3" cy="274.0" r="1.45" fill="#b85414"/><circle cx="410.4" cy="280.5" r="3.57" fill="#4a1408" opacity="0.8"/><circle cx="410.4" cy="279.1" r="1.36" fill="#882008"/><circle cx="409.5" cy="281.7" r="1.62" fill="#b85414"/><circle cx="408.8" cy="279.3" r="1.51" fill="#b04010"/><circle cx="411.3" cy="279.7" r="1.49" fill="#b85414"/><circle cx="409.5" cy="281.2" r="1.12" fill="#b04010"/><circle cx="474.2" cy="288.3" r="4.62" fill="#4a1408" opacity="0.8"/><circle cx="476.3" cy="289.3" r="2.09" fill="#b04010"/><circle cx="474.7" cy="289.6" r="1.85" fill="#882008"/><circle cx="476.2" cy="288.6" r="1.55" fill="#b04010"/><circle cx="472.1" cy="289.7" r="1.49" fill="#b04010"/><circle cx="476.6" cy="289.0" r="1.61" fill="#882008"/><circle cx="465.6" cy="287.7" r="1.89" fill="#4a1408" opacity="0.8"/><circle cx="466.2" cy="288.2" r="0.80" fill="#b85414"/><circle cx="465.0" cy="287.3" r="0.67" fill="#982a0a"/><circle cx="466.6" cy="287.4" r="0.70" fill="#882008"/><circle cx="466.3" cy="288.1" r="0.62" fill="#b04010"/><circle cx="464.8" cy="287.5" r="0.64" fill="#b04010"/><circle cx="381.2" cy="297.0" r="4.62" fill="#4a1408" opacity="0.8"/><circle cx="382.1" cy="298.5" r="1.98" fill="#b04010"/><circle cx="382.7" cy="298.8" r="1.89" fill="#b85414"/><circle cx="382.6" cy="298.8" r="1.39" fill="#882008"/><circle cx="380.7" cy="298.6" r="1.36" fill="#982a0a"/><circle cx="380.7" cy="298.9" r="1.53" fill="#b85414"/><circle cx="417.3" cy="299.7" r="4.41" fill="#4a1408" opacity="0.8"/><circle cx="416.4" cy="298.0" r="1.45" fill="#882008"/><circle cx="415.9" cy="299.8" r="1.80" fill="#b85414"/><circle cx="415.3" cy="299.2" r="1.71" fill="#982a0a"/><circle cx="418.6" cy="297.9" r="1.31" fill="#b04010"/><circle cx="415.4" cy="299.7" r="1.85" fill="#b04010"/><circle cx="434.6" cy="316.2" r="4.41" fill="#4a1408" opacity="0.8"/><circle cx="432.8" cy="317.8" r="1.96" fill="#b04010"/><circle cx="433.5" cy="314.9" r="2.01" fill="#b85414"/><circle cx="435.2" cy="318.3" r="1.68" fill="#b85414"/><circle cx="436.3" cy="316.1" r="1.88" fill="#b04010"/><circle cx="437.1" cy="316.2" r="1.98" fill="#b85414"/><circle cx="456.4" cy="315.6" r="4.41" fill="#4a1408" opacity="0.8"/><circle cx="454.6" cy="316.4" r="1.45" fill="#982a0a"/><circle cx="455.6" cy="316.8" r="1.97" fill="#b04010"/><circle cx="455.9" cy="314.1" r="2.08" fill="#b85414"/><circle cx="455.9" cy="314.3" r="1.55" fill="#b85414"/><circle cx="456.4" cy="313.1" r="2.10" fill="#b04010"/><circle cx="428" cy="326.3" r="4.20" fill="#4a1408" opacity="0.8"/><circle cx="428.6" cy="324.9" r="1.90" fill="#b04010"/><circle cx="426.7" cy="324.8" r="1.97" fill="#882008"/><circle cx="428.4" cy="328.2" r="1.89" fill="#882008"/><circle cx="429.5" cy="328.1" r="1.97" fill="#882008"/><circle cx="429.3" cy="324.4" r="1.62" fill="#882008"/><circle cx="447.1" cy="331.1" r="4.41" fill="#4a1408" opacity="0.8"/><circle cx="445.4" cy="331.7" r="1.60" fill="#882008"/><circle cx="446.0" cy="330.3" r="1.54" fill="#b85414"/><circle cx="447.1" cy="333.2" r="1.75" fill="#982a0a"/><circle cx="448.1" cy="332.6" r="1.87" fill="#b04010"/><circle cx="445.7" cy="332.0" r="1.96" fill="#882008"/><circle cx="437.8" cy="336.4" r="3.57" fill="#4a1408" opacity="0.8"/><circle cx="437.6" cy="335.2" r="1.49" fill="#882008"/><circle cx="439.7" cy="336.7" r="1.39" fill="#b04010"/><circle cx="439.0" cy="334.8" r="1.31" fill="#b85414"/><circle cx="438.6" cy="334.8" r="1.13" fill="#b85414"/><circle cx="439.3" cy="337.6" r="1.18" fill="#982a0a"/><circle cx="472.4" cy="332.1" r="3.57" fill="#4a1408" opacity="0.8"/><circle cx="472.1" cy="331.1" r="1.09" fill="#882008"/><circle cx="471.5" cy="330.6" r="1.63" fill="#982a0a"/><circle cx="470.9" cy="331.8" r="1.41" fill="#b85414"/><circle cx="471.8" cy="333.7" r="1.06" fill="#982a0a"/><circle cx="472.4" cy="330.5" r="1.10" fill="#882008"/><circle cx="467.9" cy="339.6" r="4.41" fill="#4a1408" opacity="0.8"/><circle cx="469.8" cy="340.0" r="1.78" fill="#882008"/><circle cx="469.7" cy="338.0" r="1.73" fill="#882008"/><circle cx="470.0" cy="339.6" r="1.63" fill="#b04010"/><circle cx="466.1" cy="338.5" r="1.58" fill="#882008"/><circle cx="466.4" cy="339.1" r="1.33" fill="#882008"/><circle cx="445" cy="347.5" r="4.62" fill="#4a1408" opacity="0.8"/><circle cx="445.0" cy="345.2" r="1.85" fill="#b04010"/><circle cx="446.7" cy="345.6" r="2.11" fill="#b85414"/><circle cx="445.3" cy="349.6" r="1.88" fill="#882008"/><circle cx="444.6" cy="345.1" r="1.80" fill="#982a0a"/><circle cx="446.5" cy="347.7" r="2.12" fill="#882008"/></g>
<g fill="#f0d040" opacity="0.85" filter="url(#blur05)"><circle cx="431" cy="275.5" r="1.1"/><circle cx="434" cy="280" r="1.2"/><circle cx="380" cy="297" r="1.4"/><circle cx="382" cy="295" r="0.9"/><circle cx="428" cy="326" r="0.9"/><circle cx="437.5" cy="336.5" r="1.0"/><circle cx="456" cy="272" r="0.8"/><circle cx="467" cy="340" r="0.9"/><circle cx="434" cy="316" r="0.8"/></g>
<rect x="371.5" y="245.5" width="130" height="1.3" fill="#a0a0a0"/>
<text x="378.6" y="239.8" font-size="16.2" font-weight="bold" fill="#d8202e" text-anchor="start" font-family='"Liberation Serif", serif' >Luc</text>
<text x="378.6" y="335.8" font-size="16.2" font-weight="bold" fill="#d8202e" text-anchor="start" font-family='"Liberation Serif", serif' >Luc</text>
<text x="378.6" y="355.7" font-size="16.2" font-weight="bold" fill="#96e05a" text-anchor="start" font-family='"Liberation Serif", serif' >PGES</text>
<line x1="54.5" y1="364" x2="54.5" y2="427.5" stroke="#111" stroke-width="1"/>
<line x1="54.5" y1="427.5" x2="152" y2="427.5" stroke="#111" stroke-width="1"/>
<line x1="52.5" y1="427.50" x2="54.5" y2="427.50" stroke="#222" stroke-width="0.8"/>
<text x="51.5" y="429.1" font-size="4.4" font-weight="bold" fill="#333" text-anchor="end" font-family='"Liberation Sans", sans-serif' >0.0</text>
<line x1="52.5" y1="419.69" x2="54.5" y2="419.69" stroke="#222" stroke-width="0.8"/>
<text x="51.5" y="421.3" font-size="4.4" font-weight="bold" fill="#333" text-anchor="end" font-family='"Liberation Sans", sans-serif' >0.5</text>
<line x1="52.5" y1="411.88" x2="54.5" y2="411.88" stroke="#222" stroke-width="0.8"/>
<text x="51.5" y="413.5" font-size="4.4" font-weight="bold" fill="#333" text-anchor="end" font-family='"Liberation Sans", sans-serif' >1.0</text>
<line x1="52.5" y1="404.06" x2="54.5" y2="404.06" stroke="#222" stroke-width="0.8"/>
<text x="51.5" y="405.7" font-size="4.4" font-weight="bold" fill="#333" text-anchor="end" font-family='"Liberation Sans", sans-serif' >1.5</text>
<line x1="52.5" y1="396.25" x2="54.5" y2="396.25" stroke="#222" stroke-width="0.8"/>
<text x="51.5" y="397.9" font-size="4.4" font-weight="bold" fill="#333" text-anchor="end" font-family='"Liberation Sans", sans-serif' >2.0</text>
<line x1="52.5" y1="388.44" x2="54.5" y2="388.44" stroke="#222" stroke-width="0.8"/>
<text x="51.5" y="390.0" font-size="4.4" font-weight="bold" fill="#333" text-anchor="end" font-family='"Liberation Sans", sans-serif' >2.5</text>
<line x1="52.5" y1="380.62" x2="54.5" y2="380.62" stroke="#222" stroke-width="0.8"/>
<text x="51.5" y="382.2" font-size="4.4" font-weight="bold" fill="#333" text-anchor="end" font-family='"Liberation Sans", sans-serif' >3.0</text>
<line x1="52.5" y1="372.81" x2="54.5" y2="372.81" stroke="#222" stroke-width="0.8"/>
<text x="51.5" y="374.4" font-size="4.4" font-weight="bold" fill="#333" text-anchor="end" font-family='"Liberation Sans", sans-serif' >3.5</text>
<line x1="52.5" y1="365.00" x2="54.5" y2="365.00" stroke="#222" stroke-width="0.8"/>
<text x="51.5" y="366.6" font-size="4.4" font-weight="bold" fill="#333" text-anchor="end" font-family='"Liberation Sans", sans-serif' >4.0</text>
<line x1="70.0" y1="419.5" x2="70.0" y2="415.5" stroke="#222" stroke-width="0.9"/>
<line x1="63.7" y1="415.5" x2="76.3" y2="415.5" stroke="#444" stroke-width="0.9"/>
<rect x="59.5" y="419.5" width="21" height="8.00" fill="#000" stroke="#111" stroke-width="1"/>
<line x1="70.0" y1="427.5" x2="70.0" y2="429.3" stroke="#222" stroke-width="0.8"/>
<text x="70.0" y="433.8" font-size="4.7" font-weight="bold" fill="#333" text-anchor="middle" font-family='"Liberation Sans", sans-serif' >BM only</text>
<line x1="103.0" y1="371.5" x2="103.0" y2="369.5" stroke="#222" stroke-width="0.9"/>
<line x1="96.7" y1="369.5" x2="109.3" y2="369.5" stroke="#444" stroke-width="0.9"/>
<rect x="92.5" y="371.5" width="21" height="56.00" fill="#fff" stroke="#111" stroke-width="1"/>
<line x1="103.0" y1="427.5" x2="103.0" y2="429.3" stroke="#222" stroke-width="0.8"/>
<text x="103.0" y="433.8" font-size="4.7" font-weight="bold" fill="#333" text-anchor="middle" font-family='"Liberation Sans", sans-serif' >BM+T</text>
<line x1="135.0" y1="411.5" x2="135.0" y2="408.5" stroke="#222" stroke-width="0.9"/>
<line x1="128.7" y1="408.5" x2="141.3" y2="408.5" stroke="#444" stroke-width="0.9"/>
<rect x="124.5" y="411.5" width="21" height="16.00" fill="#8a8a8a" stroke="#111" stroke-width="1"/>
<line x1="135.0" y1="427.5" x2="135.0" y2="429.3" stroke="#222" stroke-width="0.8"/>
<text x="135.0" y="433.8" font-size="4.7" font-weight="bold" fill="#333" text-anchor="middle" font-family='"Liberation Sans", sans-serif' >BM+T+MAPC</text>
<line x1="102.5" y1="365.5" x2="134" y2="365.5" stroke="#111" stroke-width="1"/>
<text x="118.25" y="365.9" font-size="4.5" font-weight="bold" fill="#333" text-anchor="middle" font-family='"Liberation Sans", sans-serif' >***</text>
<text x="57.6" y="372.4" font-size="6.2" font-weight="bold" fill="#222" text-anchor="start" font-family='"Liberation Sans", sans-serif' >Liver</text>
<text x="41.5" y="394.2" font-size="5.3" font-weight="bold" fill="#333" text-anchor="middle" font-family='"Liberation Sans", sans-serif' transform="rotate(-90 41.5 394.2)">score</text>
<line x1="170.5" y1="364.5" x2="170.5" y2="427.5" stroke="#111" stroke-width="1"/>
<line x1="170.5" y1="427.5" x2="267.5" y2="427.5" stroke="#111" stroke-width="1"/>
<line x1="168.5" y1="427.50" x2="170.5" y2="427.50" stroke="#222" stroke-width="0.8"/>
<text x="167.5" y="429.1" font-size="4.4" font-weight="bold" fill="#333" text-anchor="end" font-family='"Liberation Sans", sans-serif' >0.0</text>
<line x1="168.5" y1="419.75" x2="170.5" y2="419.75" stroke="#222" stroke-width="0.8"/>
<text x="167.5" y="421.4" font-size="4.4" font-weight="bold" fill="#333" text-anchor="end" font-family='"Liberation Sans", sans-serif' >0.5</text>
<line x1="168.5" y1="412.00" x2="170.5" y2="412.00" stroke="#222" stroke-width="0.8"/>
<text x="167.5" y="413.6" font-size="4.4" font-weight="bold" fill="#333" text-anchor="end" font-family='"Liberation Sans", sans-serif' >1.0</text>
<line x1="168.5" y1="404.25" x2="170.5" y2="404.25" stroke="#222" stroke-width="0.8"/>
<text x="167.5" y="405.9" font-size="4.4" font-weight="bold" fill="#333" text-anchor="end" font-family='"Liberation Sans", sans-serif' >1.5</text>
<line x1="168.5" y1="396.50" x2="170.5" y2="396.50" stroke="#222" stroke-width="0.8"/>
<text x="167.5" y="398.1" font-size="4.4" font-weight="bold" fill="#333" text-anchor="end" font-family='"Liberation Sans", sans-serif' >2.0</text>
<line x1="168.5" y1="388.75" x2="170.5" y2="388.75" stroke="#222" stroke-width="0.8"/>
<text x="167.5" y="390.4" font-size="4.4" font-weight="bold" fill="#333" text-anchor="end" font-family='"Liberation Sans", sans-serif' >2.5</text>
<line x1="168.5" y1="381.00" x2="170.5" y2="381.00" stroke="#222" stroke-width="0.8"/>
<text x="167.5" y="382.6" font-size="4.4" font-weight="bold" fill="#333" text-anchor="end" font-family='"Liberation Sans", sans-serif' >3.0</text>
<line x1="168.5" y1="373.25" x2="170.5" y2="373.25" stroke="#222" stroke-width="0.8"/>
<text x="167.5" y="374.9" font-size="4.4" font-weight="bold" fill="#333" text-anchor="end" font-family='"Liberation Sans", sans-serif' >3.5</text>
<line x1="168.5" y1="365.50" x2="170.5" y2="365.50" stroke="#222" stroke-width="0.8"/>
<text x="167.5" y="367.1" font-size="4.4" font-weight="bold" fill="#333" text-anchor="end" font-family='"Liberation Sans", sans-serif' >4.0</text>
<line x1="186.5" y1="421.5" x2="186.5" y2="417.5" stroke="#222" stroke-width="0.9"/>
<line x1="180.2" y1="417.5" x2="192.8" y2="417.5" stroke="#444" stroke-width="0.9"/>
<rect x="176" y="421.5" width="21" height="6.00" fill="#000" stroke="#111" stroke-width="1"/>
<line x1="186.5" y1="427.5" x2="186.5" y2="429.3" stroke="#222" stroke-width="0.8"/>
<text x="186.5" y="433.8" font-size="4.7" font-weight="bold" fill="#333" text-anchor="middle" font-family='"Liberation Sans", sans-serif' >BM only</text>
<line x1="219.0" y1="369.5" x2="219.0" y2="365.5" stroke="#222" stroke-width="0.9"/>
<line x1="212.7" y1="365.5" x2="225.3" y2="365.5" stroke="#444" stroke-width="0.9"/>
<rect x="208.5" y="369.5" width="21" height="58.00" fill="#fff" stroke="#111" stroke-width="1"/>
<line x1="219.0" y1="427.5" x2="219.0" y2="429.3" stroke="#222" stroke-width="0.8"/>
<text x="219.0" y="433.8" font-size="4.7" font-weight="bold" fill="#333" text-anchor="middle" font-family='"Liberation Sans", sans-serif' >BM+T</text>
<line x1="251.5" y1="414.5" x2="251.5" y2="404.5" stroke="#222" stroke-width="0.9"/>
<line x1="245.2" y1="404.5" x2="257.8" y2="404.5" stroke="#444" stroke-width="0.9"/>
<rect x="241" y="414.5" width="21" height="13.00" fill="#8a8a8a" stroke="#111" stroke-width="1"/>
<line x1="251.5" y1="427.5" x2="251.5" y2="429.3" stroke="#222" stroke-width="0.8"/>
<text x="251.5" y="433.8" font-size="4.7" font-weight="bold" fill="#333" text-anchor="middle" font-family='"Liberation Sans", sans-serif' >BM+T+MAPC</text>
<line x1="218.8" y1="362.5" x2="252" y2="362.5" stroke="#111" stroke-width="1"/>
<text x="235.4" y="362.9" font-size="4.5" font-weight="bold" fill="#333" text-anchor="middle" font-family='"Liberation Sans", sans-serif' >*</text>
<text x="174.2" y="372.5" font-size="6.2" font-weight="bold" fill="#222" text-anchor="start" font-family='"Liberation Sans", sans-serif' >Lung</text>
<text x="157.5" y="394.5" font-size="5.3" font-weight="bold" fill="#333" text-anchor="middle" font-family='"Liberation Sans", sans-serif' transform="rotate(-90 157.5 394.5)">score</text>
<line x1="286.5" y1="365.5" x2="286.5" y2="428" stroke="#111" stroke-width="1"/>
<line x1="286.5" y1="428" x2="382.5" y2="428" stroke="#111" stroke-width="1"/>
<line x1="284.5" y1="428.00" x2="286.5" y2="428.00" stroke="#222" stroke-width="0.8"/>
<text x="283.5" y="429.6" font-size="4.4" font-weight="bold" fill="#333" text-anchor="end" font-family='"Liberation Sans", sans-serif' >0.0</text>
<line x1="284.5" y1="420.31" x2="286.5" y2="420.31" stroke="#222" stroke-width="0.8"/>
<text x="283.5" y="421.9" font-size="4.4" font-weight="bold" fill="#333" text-anchor="end" font-family='"Liberation Sans", sans-serif' >0.5</text>
<line x1="284.5" y1="412.62" x2="286.5" y2="412.62" stroke="#222" stroke-width="0.8"/>
<text x="283.5" y="414.2" font-size="4.4" font-weight="bold" fill="#333" text-anchor="end" font-family='"Liberation Sans", sans-serif' >1.0</text>
<line x1="284.5" y1="404.94" x2="286.5" y2="404.94" stroke="#222" stroke-width="0.8"/>
<text x="283.5" y="406.5" font-size="4.4" font-weight="bold" fill="#333" text-anchor="end" font-family='"Liberation Sans", sans-serif' >1.5</text>
<line x1="284.5" y1="397.25" x2="286.5" y2="397.25" stroke="#222" stroke-width="0.8"/>
<text x="283.5" y="398.9" font-size="4.4" font-weight="bold" fill="#333" text-anchor="end" font-family='"Liberation Sans", sans-serif' >2.0</text>
<line x1="284.5" y1="389.56" x2="286.5" y2="389.56" stroke="#222" stroke-width="0.8"/>
<text x="283.5" y="391.2" font-size="4.4" font-weight="bold" fill="#333" text-anchor="end" font-family='"Liberation Sans", sans-serif' >2.5</text>
<line x1="284.5" y1="381.88" x2="286.5" y2="381.88" stroke="#222" stroke-width="0.8"/>
<text x="283.5" y="383.5" font-size="4.4" font-weight="bold" fill="#333" text-anchor="end" font-family='"Liberation Sans", sans-serif' >3.0</text>
<line x1="284.5" y1="374.19" x2="286.5" y2="374.19" stroke="#222" stroke-width="0.8"/>
<text x="283.5" y="375.8" font-size="4.4" font-weight="bold" fill="#333" text-anchor="end" font-family='"Liberation Sans", sans-serif' >3.5</text>
<line x1="284.5" y1="366.50" x2="286.5" y2="366.50" stroke="#222" stroke-width="0.8"/>
<text x="283.5" y="368.1" font-size="4.4" font-weight="bold" fill="#333" text-anchor="end" font-family='"Liberation Sans", sans-serif' >4.0</text>
<line x1="302.0" y1="415.5" x2="302.0" y2="413.5" stroke="#222" stroke-width="0.9"/>
<line x1="295.7" y1="413.5" x2="308.3" y2="413.5" stroke="#444" stroke-width="0.9"/>
<rect x="291.5" y="415.5" width="21" height="12.50" fill="#000" stroke="#111" stroke-width="1"/>
<line x1="302.0" y1="428" x2="302.0" y2="429.8" stroke="#222" stroke-width="0.8"/>
<text x="302.0" y="434.3" font-size="4.7" font-weight="bold" fill="#333" text-anchor="middle" font-family='"Liberation Sans", sans-serif' >BM only</text>
<line x1="334.5" y1="370.5" x2="334.5" y2="367.5" stroke="#222" stroke-width="0.9"/>
<line x1="328.2" y1="367.5" x2="340.8" y2="367.5" stroke="#444" stroke-width="0.9"/>
<rect x="324" y="370.5" width="21" height="57.50" fill="#fff" stroke="#111" stroke-width="1"/>
<line x1="334.5" y1="428" x2="334.5" y2="429.8" stroke="#222" stroke-width="0.8"/>
<text x="334.5" y="434.3" font-size="4.7" font-weight="bold" fill="#333" text-anchor="middle" font-family='"Liberation Sans", sans-serif' >BM+T</text>
<line x1="367.0" y1="381.5" x2="367.0" y2="378.5" stroke="#222" stroke-width="0.9"/>
<line x1="360.7" y1="378.5" x2="373.3" y2="378.5" stroke="#444" stroke-width="0.9"/>
<rect x="356.5" y="381.5" width="21" height="46.50" fill="#8a8a8a" stroke="#111" stroke-width="1"/>
<line x1="367.0" y1="428" x2="367.0" y2="429.8" stroke="#222" stroke-width="0.8"/>
<text x="367.0" y="434.3" font-size="4.7" font-weight="bold" fill="#333" text-anchor="middle" font-family='"Liberation Sans", sans-serif' >BM+T+MAPC</text>
<line x1="334.5" y1="363.5" x2="365.8" y2="363.5" stroke="#111" stroke-width="1"/>
<text x="350.15" y="363.9" font-size="4.5" font-weight="bold" fill="#333" text-anchor="middle" font-family='"Liberation Sans", sans-serif' >*</text>
<text x="289.7" y="373" font-size="6.2" font-weight="bold" fill="#222" text-anchor="start" font-family='"Liberation Sans", sans-serif' >Colon</text>
<text x="273.5" y="395.2" font-size="5.3" font-weight="bold" fill="#333" text-anchor="middle" font-family='"Liberation Sans", sans-serif' transform="rotate(-90 273.5 395.2)">score</text>
</g>
</svg>
</body></html>
